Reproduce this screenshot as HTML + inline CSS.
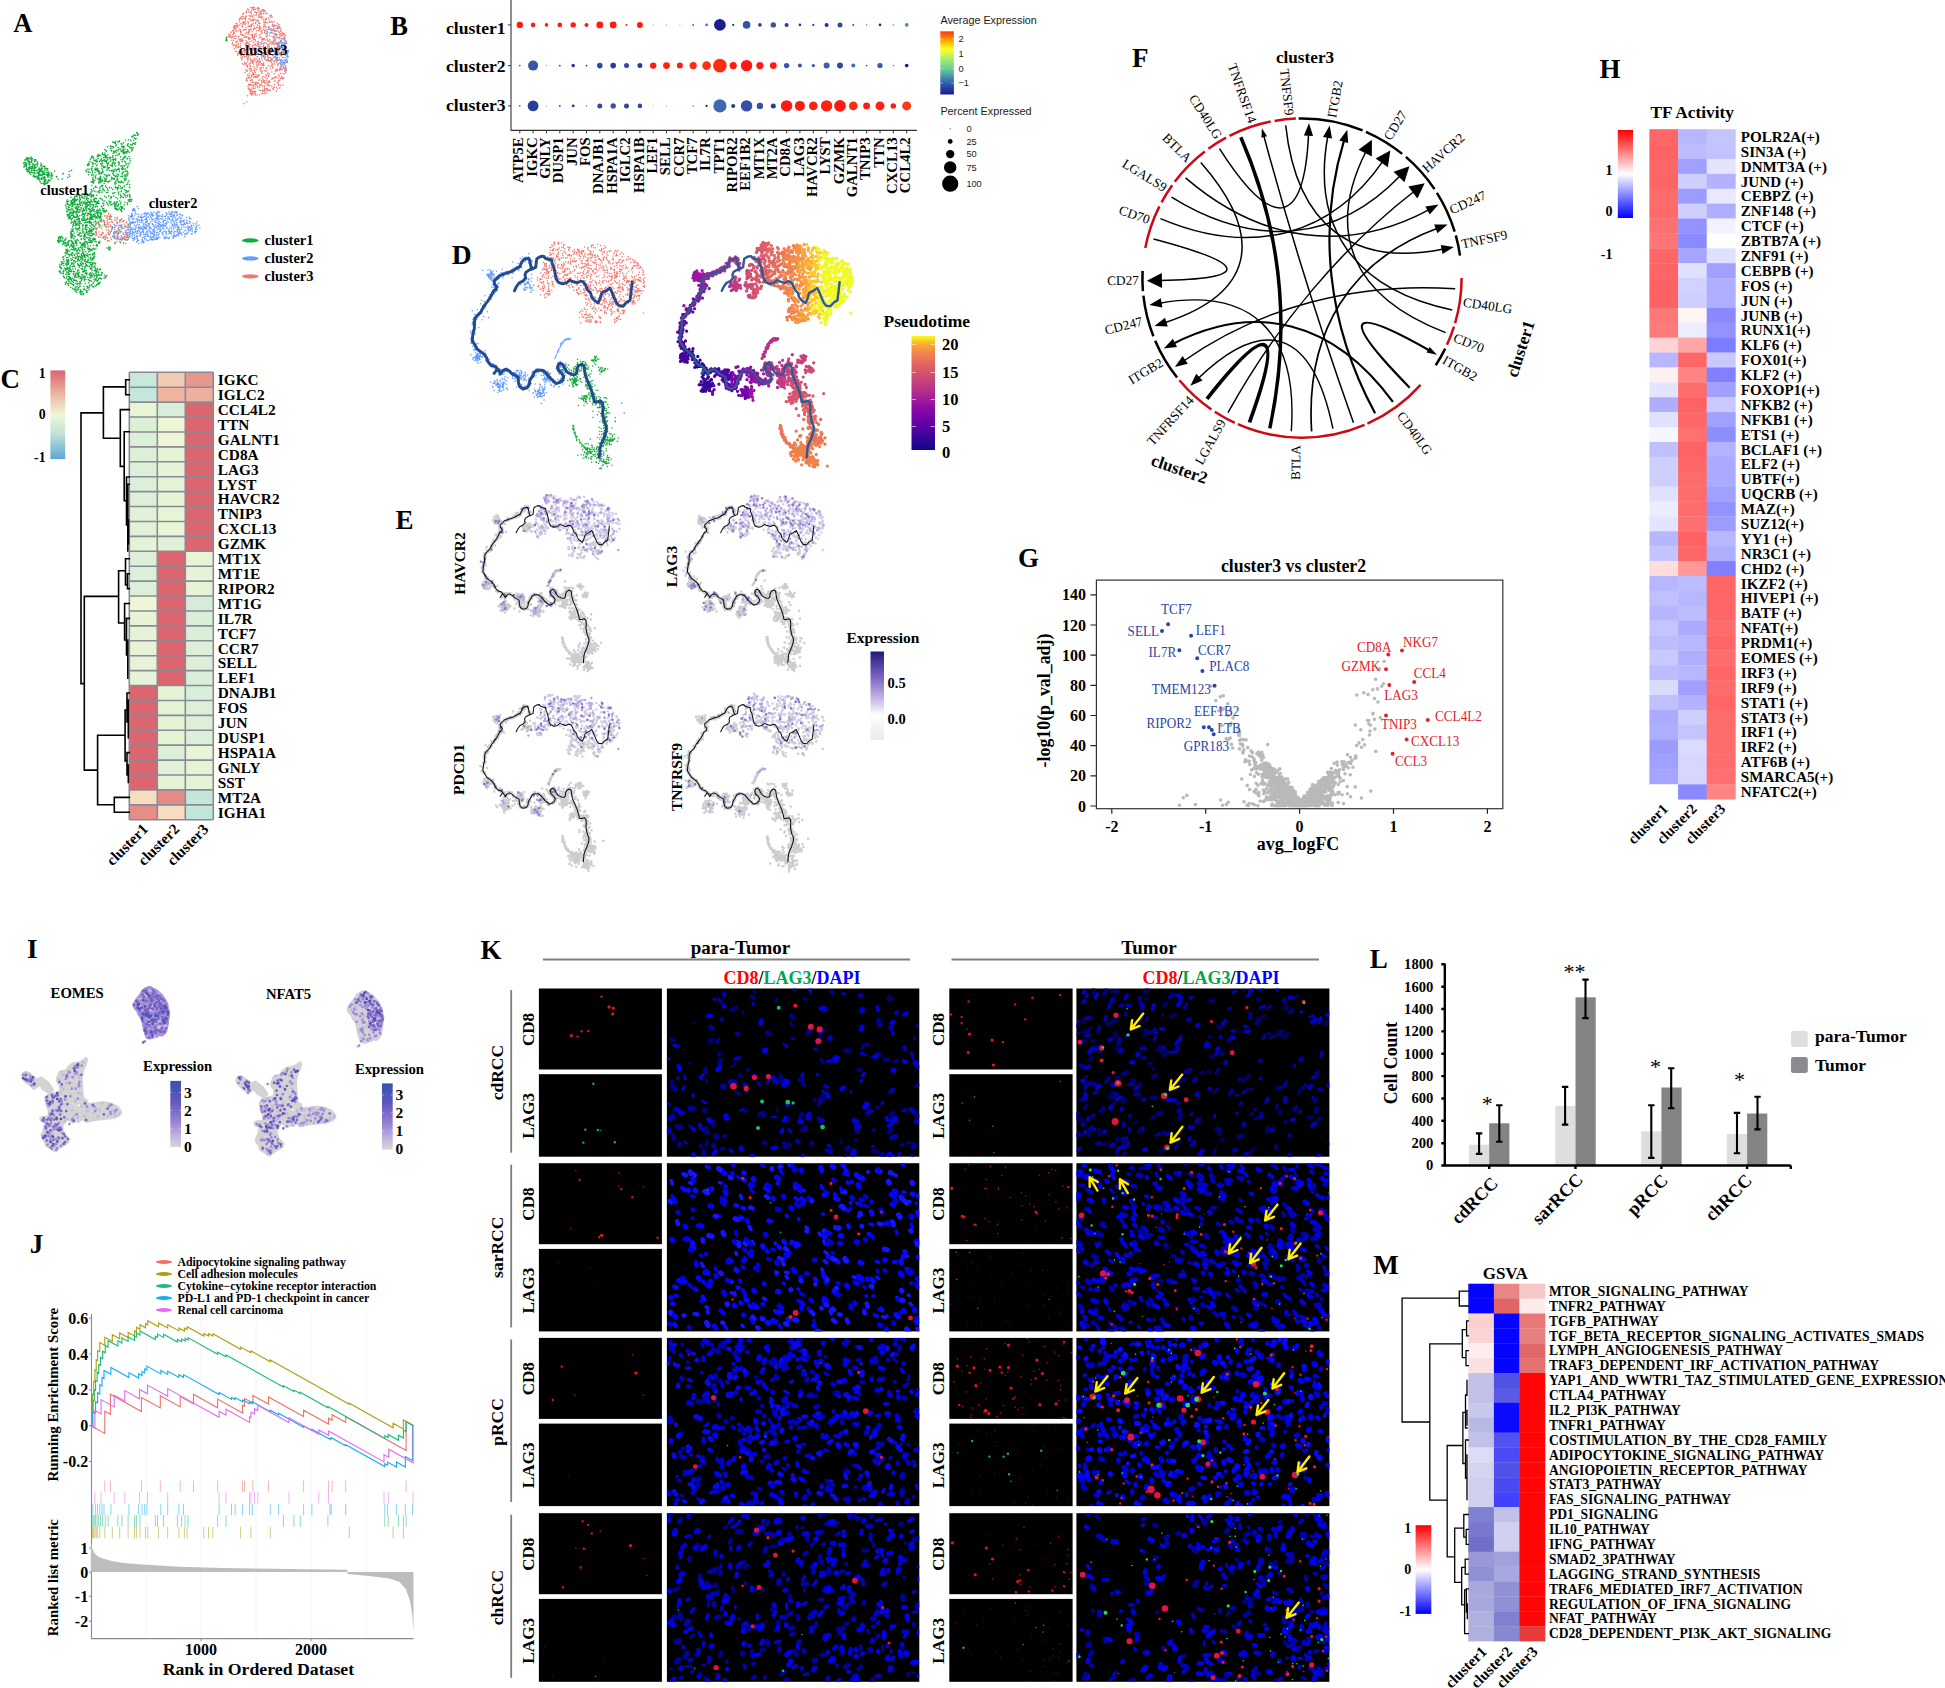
<!DOCTYPE html><html><head><meta charset="utf-8"><title>Figure</title><style>html,body{margin:0;padding:0;background:#fff}svg{display:block}text{white-space:pre}</style></head><body><svg width="1945" height="1688" viewBox="0 0 1945 1688"><rect width="1945" height="1688" fill="#fff"/><g id="A"><text x="13.2" y="31.5" font-family='"Liberation Serif", serif' font-size="26.5" font-weight="bold">A</text><path transform="scale(.1)" d="M2524 353zm-261 36zm3-15zm4 36zm-5-15zm-6 8zm-892 925zm4-3zm6 14zm5 7zm-9 7zm-19 2zm-10-5zm-4 0zm-1 2zm-10 13zm-9 4zm-1-6zm-123 46zm60-7zm29-4zm24 6zm27-2zm8-22zm9 9zm7-4zm-4 41zm-13 10zm-13-2zm-48 4zm-47-9zm-23 8zm-25-16zm-7-4zm-24 19zm0-20zm-1 10zm-11 4zm-6-7zm-10-2zm-53 47zm27-1zm4-8zm15 6zm14 4zm23-9zm8-13zm51 16zm3-20zm11 21zm10-2zm30-9zm9-11zm2 20zm14 7zm12-24zm13 4zm4 2zm27-8zm-19 35zm-9 18zm-7-18zm-2 7zm-7-5zm-10-10zm-25 27zm-23-6zm-14-21zm-2 9zm-3 16zm-6-22zm-20 20zm-7-2zm-16 7zm0-22zm-46-3zm-16 7zm-14 7zm-58 8zm11 11zm5 7zm0 0zm48-7zm2 1zm2 2zm19 4zm6 12zm8-10zm7-2zm5 15zm1-24zm17 6zm33-3zm1 11zm4-8zm10-1zm4 13zm6 2zm0-16zm3 2zm9 19zm3-7zm6-3zm11 0zm8-7zm2-7zm2 4zm13 15zm23-21zm1 7zm-50 20zm-4 0zm-22 4zm-6 3zm-4-6zm-38 1zm-4 13zm0 1zm-2-4zm-14 8zm-16 8zm-27-25zm-4 25zm-49-11zm-22 5zm-5-1zm-2-21zm-6 16zm-11 0zm-7-16zm-3 11zm-17 16zm-6-6zm-13 5zm-4-10zm-2 8zm-714 31zm2-6zm10-1zm0 4zm14 6zm4-5zm12-3zm3-9zm10 17zm2 1zm593-10zm1-13zm8-3zm6 9zm2 0zm6 15zm34-19zm3-5zm6 22zm2-23zm31 25zm20-12zm16-11zm1 10zm1-4zm11-9zm0 1zm2 11zm3 7zm10-3zm17-2zm4 14zm2-13zm5-2zm20-2zm2-1zm28 18zm49-20zm30 15zm6-11zm0 5zm6-5zm2-13zm6 7zm15 16zm2 6zm16-24zm9 21zm4 21zm-55 5zm-19-19zm-5 21zm-1 1zm-11-17zm-27 21zm-28-17zm-5-7zm-7-2zm-9 14zm0-16zm-13 6zm-14 13zm-4 3zm-26-17zm-12 13zm-3 6zm-2 4zm-2-13zm-7 3zm-4-16zm-4 18zm-11-10zm-10 8zm-5 3zm-9-13zm-9 11zm-6 6zm-20-1zm-6-14zm-3 18zm-4-19zm-10 9zm-6-2zm-4-4zm-37-12zm-4 23zm-541-16zm0 12zm-13-13zm0 20zm-3-15zm-24 7zm-2 8zm-5-21zm-16 21zm-2-1zm-4-3zm-7 1zm0-10zm-5 7zm0-16zm-17-3zm-1 0zm-1 11zm-11-3zm-11 29zm5 17zm0-20zm10-1zm5 9zm4 12zm2-12zm8 6zm20-13zm0 4zm1 7zm1-4zm6 12zm0-3zm10-20zm1 2zm1 1zm17 9zm2 8zm11 4zm19-4zm8 5zm1-4zm1 5zm5-29zm2 15zm0-3zm33 1zm5 16zm459-3zm11-16zm2 17zm5-10zm28-12zm10 8zm0 6zm0 8zm2-12zm21 3zm52-1zm12 3zm9-9zm44 2zm4 3zm1 13zm7-11zm2-12zm38 15zm3-7zm3-7zm12-3zm6 20zm9-14zm34 0zm2 11zm2-15zm63 0zm6 18zm18-6zm5 3zm12-13zm-18 37zm-7 12zm-24-18zm-17-1zm-6 16zm-4-14zm-12 0zm-22-7zm-30 8zm-31-9zm-3 13zm-11-9zm-7-3zm-12 21zm-7 4zm-13-22zm-1 15zm-22-3zm-1 6zm-8-5zm-5-7zm0 14zm-16-13zm-1-12zm-48 0zm-5 5zm-44 9zm-36-13zm-8 5zm-431 7zm-11-2zm-6 4zm-12 13zm-2-27zm-6 1zm-4 7zm-31 0zm-14 15zm-10-9zm-2-2zm-6-13zm0 22zm-16 6zm0-21zm-3 8zm-8 2zm-7 5zm-11-5zm-7-18zm-3 25zm-20 3zm-4-22zm-2 9zm-1-9zm-2 1zm-5 1zm-12 6zm-2 7zm21 25zm7-14zm3 8zm3 4zm1 6zm8 5zm6-20zm1 15zm5-7zm1-2zm2-9zm1 6zm12-3zm4 20zm1-14zm13-7zm3 20zm4 0zm9-4zm0 7zm1-19zm6-7zm10 26zm14-3zm11-11zm4 2zm1-14zm1 7zm6 10zm2 11zm0-8zm5-11zm12 10zm2-2zm0-13zm27 19zm1-23zm4 5zm7-2zm0 2zm7 3zm4 1zm3-4zm1 21zm5-17zm236 14zm144 2zm13-14zm17 2zm24-8zm4 14zm3-18zm26 14zm7 4zm3-18zm4 17zm8 0zm1-17zm1 4zm8 1zm1 17zm10 4zm29-26zm8 17zm43 6zm3-15zm12-5zm13 19zm26-4zm17 3zm12-11zm14 17zm1-9zm11-7zm11-11zm2 12zm1 5zm23-11zm0 0zm8-1zm2 11zm6-8zm1-7zm18 12zm2-7zm15 21zm13 25zm-5-17zm-3 22zm-18-24zm-17 5zm-12 18zm-1-13zm-29-7zm-51-7zm-8 10zm-3-6zm-7 18zm-11-22zm-86 12zm0-7zm-7 7zm-3 14zm-1-13zm-3 7zm-13 1zm-7-16zm-6 15zm-10-15zm-4-5zm-25 14zm-24 6zm-2-18zm-23 10zm-16-4zm-3 2zm-18-4zm-170-5zm-61 23zm-86-25zm-29 23zm-4 5zm-3-7zm-22-13zm-1 16zm-6-3zm-2 0zm-12-6zm-5-3zm-13 15zm-7-3zm0-1zm-3-21zm-1 7zm-1 19zm-2-6zm-8 1zm-1-2zm-5-11zm0 2zm-3-11zm-8 3zm-11-3zm-3 6zm0-2zm-2 18zm0-12zm-2-7zm-3 4zm-6 21zm-4-15zm-12 7zm-22 2zm0-8zm-15 2zm-4 0zm-13-4zm-13-2zm-7 11zm-3-15zm-5-5zm-10 0zm-3 4zm35 27zm24 18zm4-4zm3 10zm1-19zm1 19zm10-5zm3 5zm12-5zm16-2zm1 7zm2-11zm3-2zm2-12zm7 9zm9-6zm3 7zm11 6zm2-9zm5-2zm2-2zm15-1zm3 25zm18-20zm7 0zm5 13zm1-4zm2-18zm1 28zm3-22zm1 8zm8-11zm7 17zm15-6zm3 3zm0 6zm4-4zm4-6zm39 12zm65-25zm59 7zm10 16zm187-15zm33 8zm0-9zm18 3zm14 15zm9-12zm32-10zm11 21zm40-17zm16 3zm4 9zm3 9zm10-10zm13-10zm7 6zm39-9zm1 7zm4 0zm14 9zm3 6zm1-7zm11 2zm1-21zm9 20zm7-15zm24 18zm10-22zm5 20zm4 6zm17-15zm5 10zm3-10zm7-6zm15 11zm-13 34zm-2-22zm-8 19zm-9-5zm-65 14zm-4-14zm-5 8zm-26 1zm-2-13zm-11 10zm-8-10zm-7-3zm-2-5zm0 24zm-51 2zm-2-13zm-14 2zm-8-14zm-30 18zm-1-16zm-8 5zm-3 5zm-2 12zm-1-2zm-12-10zm-3 4zm-22-10zm-24 11zm-3-14zm-3 19zm-249-21zm-55 17zm-41 2zm-12-22zm-53 17zm-9-10zm-16 21zm-11-26zm-28 21zm-2-22zm-5 2zm-5 15zm-2 2zm-5-17zm-11 2zm-3 22zm-4-16zm-1 6zm-5 0zm-13 3zm-1 6zm-3 1zm-4-24zm-1 16zm-1-12zm-3 10zm-7-8zm-4-4zm-2 14zm-18-19zm46 44zm5 5zm36-7zm2 5zm5-12zm4 23zm0 0zm1-26zm1 8zm7-5zm14 23zm5-3zm1-12zm3-7zm2-5zm11-1zm5 4zm412 14zm13-6zm1 9zm6-2zm4-10zm12-10zm38 21zm2 8zm5-22zm7 17zm3-20zm8 13zm7-17zm7 12zm1-8zm20 7zm2-6zm6 8zm2-13zm14 16zm12 2zm2 2zm0-5zm14-6zm48 17zm11-12zm13-12zm10 15zm8 6zm4-5zm12 7zm7-14zm6 8zm14 6zm13-21zm6 3zm29 16zm11-16zm6 40zm-22-7zm-11 5zm-77 9zm-25-22zm-11 11zm-109-10zm-16 19zm-10 7zm-78-28zm-19 24zm-448-22zm-4 1zm-13 1zm-2 6zm-9 3zm-3 3zm-5-14zm-16-1zm-4 3zm520 50zm17-13zm3-9zm14 9zm28 12zm4-14zm21-5zm9 21zm23-26zm10 13zm12 16zm18-13zm19 1zm39-9zm3 11zm14-3zm7 7zm2-10zm9 6zm17-17zm6 22zm9-3zm5-2zm1-3zm17-16zm0 6zm53 8zm2 4zm-8 29zm-11 12zm-1-3zm-14-10zm-1 9zm-1-10zm-15-7zm-33 20zm0-8zm-40-11zm-44-4zm-1-1zm-46 11zm-37 1zm-13-6zm-4-9zm-26 14zm-10 3zm-9 11zm-24-2zm-18-8zm-19 1zm-9-14zm-121 51zm30 1zm2-10zm11 2zm4-2zm3 6zm8-1zm15 3zm8-1zm0-4zm3-2zm11 9zm9-5zm2 3zm8-13zm4-12zm7 25zm63-26zm17 6zm23-3zm0-3zm45 5zm13 0zm48 9zm16-5zm6-3zm36 14zm1-16zm2-3zm16 27zm31-11zm10 12zm15-20zm37 13zm4 29zm-2-13zm0 11zm-1-2zm-21-13zm-2 7zm-15 14zm-4-19zm-21 20zm-14-10zm-11-5zm-4 16zm-46-1zm-22-15zm-21 10zm-6 2zm0-6zm-22-8zm-25 15zm-17-11zm-78-10zm-29-2zm-5 10zm-1 5zm-2-10zm-6 2zm-12 9zm-1-10zm-1 14zm-2 0zm-14-15zm-9-3zm-14 7zm0-5zm0 1zm-8 23zm-13-16zm-5 1zm-18 10zm-7 4zm-4-9zm-6-15zm-13-2zm-1 24zm-5-15zm-21 4zm-3-6zm-7 1zm-7 0zm-10 10zm-36 3zm-36 27zm39 8zm15-9zm3-8zm11 6zm4-15zm2 27zm2 0zm4-14zm7 13zm2-15zm1 2zm5 7zm11-9zm19 11zm2-2zm1-16zm4 10zm38-10zm21 5zm6-2zm6-7zm0 24zm11-18zm23 11zm26-7zm7 11zm5-15zm1-2zm7-4zm11 4zm20 21zm14-21zm6-2zm5 2zm13 13zm17 10zm66-24zm69 3zm21 19zm85-7zm11 9zm0-10zm11-7zm12 4zm2 2zm-5 15zm-11 0zm-10 4zm-18 11zm-24-6zm-40 0zm-7 17zm-29-20zm-9 1zm-5 8zm-13 9zm-1-2zm-3-14zm-12 17zm-21-21zm-7 7zm-6 6zm-7-16zm-15 25zm-10-13zm-36 5zm-38 1zm-5-1zm-5-5zm-1 7zm-3-13zm-3 12zm-4 5zm0-22zm-2 14zm-13-6zm-2-4zm-3-8zm-7 3zm-3-4zm-14 10zm-11-8zm-10 6zm-3-1zm-1 13zm-1 0zm-7-6zm-5-4zm-7-5zm0-1zm-1 10zm-10 8zm-1-4zm-6 2zm0-1zm-9 8zm-3-23zm-1 22zm-4-6zm-6-8zm-2 8zm-7 7zm-12-17zm-2-1zm-2 12zm-15-3zm-3 8zm-1-18zm-3-6zm-43 6zm-4 1zm-3 1zm-2 11zm-1-17zm-1-3zm-6 16zm-10 11zm0-13zm-5 7zm0-18zm-4 8zm-4 2zm-23-12zm-7 6zm-6 0zm-1 18zm-4 3zm-1-23zm-12 37zm23-13zm1 1zm3 28zm6-21zm8 8zm12-12zm11 21zm3-15zm1 12zm6-14zm9 2zm12-7zm6-2zm8 27zm7-10zm1-13zm2-4zm9 7zm6 20zm11-22zm2 8zm21 2zm31-15zm1 19zm12-16zm1 21zm3-6zm6-3zm3-6zm7 1zm6-4zm9 16zm3 1zm0-24zm14 6zm2 2zm9 9zm6-8zm20 16zm2-20zm0 18zm15 1zm42 3zm0-6zm20-4zm2-17zm47 13zm22-8zm8 2zm16-7zm16 14zm6 14zm3-14zm1-2zm5-10zm8 20zm10-3zm3-19zm1 11zm23 14zm5 0zm30-15zm33-6zm-33 47zm-1-1zm-13-20zm-2 10zm-5 4zm-7-11zm-4 21zm-6 5zm-8-18zm-13 13zm-12 5zm-4-16zm-9 2zm0 8zm-4-11zm-4 5zm-1-15zm-112 17zm-13-7zm-28 9zm-20 7zm-18-28zm-15 25zm-3-23zm-1-2zm-4 24zm-7 5zm-6-21zm-3 10zm-16 8zm-4 0zm-5-13zm-2 6zm-9-2zm-14-14zm-5 15zm-8 4zm-1-18zm-3-4zm-15 26zm-4-3zm0-9zm-21-2zm-1-7zm-5 22zm-15-2zm-5-20zm-8 6zm-5 10zm-1-11zm-14 7zm-5-6zm-2-9zm-28 19zm-5-8zm-9 16zm-13-2zm-5-22zm-6 16zm-2 2zm-15-4zm-5-19zm3 46zm6-1zm7-6zm16 13zm3-22zm5 2zm0-2zm2 28zm4 0zm2-7zm15 6zm1 1zm3-3zm0-17zm4 9zm1 4zm2-16zm1 16zm8-2zm10 5zm11-9zm1-6zm1-5zm4 16zm4-19zm5 20zm12 0zm5-8zm23 1zm5 5zm0-12zm11-4zm5 0zm4 8zm14 17zm6-22zm32 2zm2 8zm2-1zm4 6zm2-7zm2 3zm5-9zm15 1zm18 5zm14 12zm6-12zm1-11zm0 19zm3-17zm1 23zm3-1zm7-18zm7 14zm10-19zm5 3zm3 21zm2 1zm17-26zm7 15zm8-13zm0 6zm2 6zm9 0zm9-14zm0 6zm2-3zm149-1zm2 5zm1 8zm-201 25zm-5 4zm-10-9zm-20-7zm-2 23zm0-3zm-2-3zm0-2zm-1-13zm-4 8zm-21 12zm-2-17zm-11 11zm-4-2zm-1 4zm-5 1zm-13-5zm0 6zm-5 8zm-3-14zm-1 0zm-3 2zm-1-12zm0 7zm-11-8zm-8-1zm-2 7zm-1-1zm-1-7zm0 18zm-6 8zm-19-22zm-7 11zm0 12zm-11-23zm0 5zm-7-5zm-6 8zm-6 8zm-19 6zm-25-2zm0-10zm-5 1zm-5-14zm-29 24zm-1-19zm-3-3zm-2 15zm-7-20zm-1 21zm-3 2zm-5 1zm-9-23zm-4 10zm-10 18zm-2-16zm0 7zm-6 0zm-5 8zm-1 1zm-3-16zm14 40zm1 2zm3-12zm9 11zm4-18zm1 7zm19 11zm11-24zm2 4zm2 10zm5-10zm6 9zm5-1zm10 1zm2-4zm2 0zm9 0zm3-3zm6 17zm8 6zm27-1zm10-15zm1-8zm1 6zm9 13zm6 2zm29 3zm1-6zm20 1zm2-12zm6 10zm0-7zm0-3zm1 5zm3 5zm1-14zm7-2zm2 14zm9-11zm13-5zm8 9zm9-5zm0 19zm3-20zm2 6zm12 8zm4-15zm7 0zm8 4zm1 7zm0 11zm4-28zm1 20zm4-1zm1-16zm4 8zm83-3zm3 20zm13-18zm123 45zm-16-22zm-198 21zm-2-19zm-13 11zm-47 10zm-5-8zm-19-15zm-13 1zm-15-3zm-6 1zm-3 21zm-1-16zm-11 21zm-9-23zm-5-3zm-8 11zm-4 1zm-13-1zm-9-4zm-2 2zm-9 5zm-8-6zm-18 13zm-6-14zm-4 18zm-4-24zm-3 21zm-9-20zm-7 2zm-8 17zm-11-10zm-1 4zm-23 12zm-9-20zm0-5zm-2 37zm1-1zm6-8zm12 26zm7-14zm2-13zm2 1zm12-1zm1 21zm4 4zm1-19zm7 17zm6-11zm11 15zm5-11zm9 0zm1-7zm4-8zm12 16zm31-11zm9-4zm8 26zm7-26zm8-2zm6 0zm12 8zm9-8zm1 1zm1 8zm5-6zm3 7zm2 13zm23-19zm18 24zm4-13zm12-13zm14-2zm3 22zm54 2zm128-12zm112 16zm-175 17zm-111 3zm-1-19zm-54 15zm-6-2zm-1-8zm-2-2zm-6-2zm-10 25zm-6-4zm-11-15zm-22 20zm-6-23zm-4 3zm-6 6zm-4-13zm-2 17zm0-11zm-4 19zm-18-22zm-2 2zm-1 0zm-1 1zm-4-6zm0 11zm-32 10zm0-16zm-27 0zm-16 0zm-18-5zm-6 14zm-1 5zm-9 23zm2 3zm5 10zm9-15zm21-9zm6 2zm3 15zm4-2zm11-8zm2 8zm3-12zm13-3zm1 22zm26-1zm5-21zm1 12zm21-6zm3 5zm3-4zm4 9zm6-1zm28 12zm0-20zm5 6zm2 11zm13-6zm10 1zm0 3zm8-16zm1 8zm7-10zm23 10zm218-9zm26 27zm-17-3zm-8 19zm-47 1zm-24-19zm-80 19zm-71 1zm-28 4zm-14-22zm-2 18zm-8-15zm-9-2zm-1 20zm-4-16zm-8-7zm-7 20zm-1-7zm-14 2zm0-12zm-4 19zm-16 0zm-11-15zm-3 0zm-3 10zm-17 7zm-11-9zm-7 7zm-22-13zm-29 12zm-10-18zm-6-2zm-13 5zm-2 14zm-1-18zm-1 24zm-3-7zm-109 39zm17-5zm96-14zm2 8zm4-18zm2 25zm4-16zm2 7zm0 2zm2-13zm2 9zm15 8zm8 4zm24-19zm7 0zm5 8zm4-10zm11 17zm14-3zm21 5zm5-8zm6-12zm1 18zm1-11zm3 5zm24-8zm8 0zm14 9zm0-4zm12 4zm12-2zm1-12zm21 0zm72 6zm115 17zm46-26zm99 17zm16-14zm-7 35zm-37 18zm-26-8zm-21 8zm-170-23zm-78 18zm-9-6zm0 11zm-10 1zm-1-11zm-1 0zm-5 7zm-25-9zm-2 2zm-13 13zm0-21zm-16 1zm-9-6zm-11 18zm-6 4zm-5-22zm-6 12zm-22 9zm-1-5zm-39 7zm-33-9zm-2-2zm-15-12zm-6 7zm-11-8zm-46 10zm-5 14zm-29-14zm0-6zm-21-1zm-1 9zm-2-14zm-9 5zm-9 1zm0 14zm-7 16zm0 4zm7 6zm0 7zm4 0zm5-21zm6 15zm1-13zm4-3zm3 4zm13 8zm10-2zm7 11zm0 0zm4 5zm3-26zm3 21zm5 4zm2-23zm21 17zm3-1zm6 9zm3-18zm11-4zm15 12zm3-15zm3 17zm8-2zm24-8zm3-8zm3 12zm5 7zm2-9zm2 10zm17-17zm16 21zm49-4zm0-1zm4-7zm8 3zm8 10zm11-7zm12 3zm8-19zm5 21zm1-10zm10-9zm4 20zm4-12zm18-13zm10 13zm13 4zm23 11zm1-5zm5-10zm4 7zm81-15zm74 22zm53-2zm-207 4zm-25 18zm-4 11zm-3-12zm-1 4zm-1 3zm-28 1zm-31 2zm-30-16zm-24 6zm0 8zm-3-16zm-11-7zm0 11zm-3-6zm-3 1zm0 16zm0 5zm-1-25zm-4 20zm-8-11zm-4 11zm-8-23zm-38 25zm-3-19zm-4 0zm-9-7zm-9 28zm-4-3zm-1 0zm-2-23zm-1 15zm-8-16zm-2 3zm-6 25zm-3-13zm-6 11zm-1-8zm-25 4zm-3-16zm-5 13zm-4-11zm-4 14zm-10-21zm-7 23zm-1-15zm-16-7zm-6 11zm36 19zm33 8zm27-8zm4 10zm5-8zm4 16zm1-8zm0-4zm9 16zm12-2zm24-3zm17-2zm9-9zm12 20zm3-12zm21-8zm1 0zm5 5zm1-5zm24 11zm4-20zm10 23zm10 5zm32-4zm27-1zm12-20zm99 17zm17-9zm11 16zm2-13zm1 11zm-5 15zm-9-6zm-1 0zm-141 0zm-1-1zm-5-1zm-19 9zm-1-6zm-5 1zm-6 10zm-6 4zm-5-14zm-10 21zm-1-20zm-5-4zm-22 22zm-16-17zm-14 14zm-5-11zm-25 8zm-2-6zm-11-13zm-8 11zm-5 9zm-3 3zm-4-12zm-13-3zm-10 3zm-10-3zm-10-3zm-12-3zm-14 21zm-13-8zm-7 5zm-1-6zm-5-12zm-1 15zm-3-11zm-4 16zm-2-17zm-1 2zm-9 30zm5 7zm5 2zm8-14zm7 8zm6 14zm22-2zm6-2zm3 0zm9-15zm5 10zm17 12zm17-14zm12 11zm8-16zm5 5zm4 2zm23 13zm4-10zm6-7zm11 0zm3 13zm2-17zm6 18zm4 4zm2-1zm20-11zm21 9zm11 0zm23-5zm4-6zm13 10zm1-20zm3 15zm0 31zm-3-9zm-4 5zm-10 10zm-2-26zm-21 22zm-26-3zm-3-14zm-11 2zm0-5zm-15 19zm-2-15zm-4 15zm-7-5zm-2-14zm-13 8zm-2 12zm-2-9zm-6 10zm0-21zm0 22zm-8-1zm-10-12zm-7 5zm-3 8zm-9-14zm-8 9zm-14 4zm-5 4zm-3-25zm-3-1zm-14 24zm-6-19zm-9-5zm-20 8zm-4-9zm-11 24zm-14 0zm-12-17zm-18 8zm-9 10zm9 18zm33 3zm0 9zm2 3zm13-13zm1 9zm23-17zm4 17zm12-10zm13 12zm0 0zm6 2zm14-24zm2 0zm16 10zm6-7zm8 11zm5 8zm14-11zm0-3zm14-8zm2 15zm3-6zm1 0zm16 10zm1 3zm6-7zm5-7zm22 16zm3-5zm0-12zm3 9zm18-17zm8 15zm0-1zm12 1zm1-15zm0 13zm6-14zm10 6zm17 49zm-7-3zm-9-6zm-15 2zm-2-3zm-16-2zm-12 0zm-1-1zm-14-3zm-13-3zm-5-4zm-1 4zm-5 13zm-11-20zm-10 20zm-8 0zm-11-14zm-5 0zm-7 15zm-26-23zm-1 27zm-18-21zm-7 8zm-15 15zm-3-2zm-5-7zm-13 0zm-29-10zm0 15zm-9-18zm-5 9zm-3-12zm-2 15zm-28-17zm-1 19zm-11 5zm-7-14zm-8-4zm-16 25zm0 26zm5-5zm12-18zm0-5zm23 14zm21-14zm9 16zm1-12zm4 0zm13-4zm16 28zm3-14zm14-12zm7 23zm14-5zm0-6zm1 8zm7 5zm34-24zm2 10zm8-2zm3 8zm4-8zm12 2zm3-11zm4-1zm7 22zm9-24zm17 21zm8 1zm2-1zm1-17zm3 5zm9 9zm7 2zm14 6zm11-24zm5 0zm3 12zm1 8zm6-13zm4 0zm2-9zm1 6zm13 21zm8-6zm6-21zm51 57zm0-7zm-14 5zm-17-7zm-17 0zm-3-4zm-8-13zm-27 5zm-2 13zm-9-7zm-4 2zm-1 5zm-53-14zm-2 11zm-21 8zm-5-9zm-10 3zm-20-16zm-36 18zm-27 1zm-25 1zm-10-2zm0-12zm0 14zm-11-9zm-10 10zm0-17zm-5 10zm-6 9zm-6-8zm-11-7zm-28 5zm-7-8zm-1 7zm-16 33zm1-4zm5-4zm6 13zm26-3zm6-2zm0-14zm17 0zm0 0zm15 22zm0-9zm15 10zm4-17zm2-6zm8 12zm12-11zm3 12zm5-1zm19-1zm9 3zm25 12zm6-18zm1-9zm10-1zm3 24zm3-3zm33-4zm6-8zm4 9zm8-7zm1-10zm11 26zm2-21zm4-5zm57 6zm25-3zm9 4zm2-8zm1 9zm4-7zm1 25zm3-11zm7-14zm10 18zm0-2zm5 6zm38 4zm42 28zm-23-4zm-27-1zm-1-22zm-2 19zm-16 5zm-10-3zm-7-5zm-12 8zm-5-5zm0-2zm-5 9zm-2-22zm-15 19zm0 0zm-6-9zm-1-1zm-12-13zm-5 23zm-4 0zm-5-15zm-5-8zm-1 23zm-5 0zm-2-3zm-2-17zm-1 14zm-22-14zm-6 0zm0 14zm-8-12zm-3-2zm-24 23zm-11-10zm-29 10zm-6-11zm0-9zm-12 1zm-1 13zm-14-12zm-4 16zm-9 0zm-8-21zm-2 8zm-40 2zm-2-8zm-1 5zm-3 4zm-18-1zm-9-1zm-28-5zm-2-1zm-20-2zm25 27zm0 7zm9 11zm19 0zm4-8zm16-9zm9 6zm1 12zm12-5zm20 7zm18-11zm9 0zm9 0zm19-3zm0 8zm12-11zm8 23zm7-5zm1-14zm4 10zm6 8zm10-13zm12-6zm1 15zm5-22zm7 10zm24 2zm20 10zm5-13zm9 3zm7-3zm3-10zm21 7zm24 8zm3-8zm22 17zm7-4zm4 2zm12 7zm25-9zm13-1zm2-10zm5-6zm-46 27zm-29 1zm-5 10zm-8 11zm-3-5zm-7-17zm-6 0zm-1 11zm-10 11zm-4-19zm-25 18zm-14-4zm-9-1zm-9-11zm-25 0zm-16 13zm-1-13zm-22-4zm-4 9zm-5 10zm-12 5zm-27 3zm-7-13zm-13-2zm-9-2zm-4 3zm-3-5zm-16 15zm-6-23zm0 9zm-4-9zm-4-1zm-5 5zm-6 20zm-6-2zm-4-22zm-1 7zm-9 1zm-10 20zm-11 9zm1 15zm17-6zm15-2zm1-1zm18-3zm13 8zm7 6zm8-23zm4 27zm19-17zm14 12zm10-8zm15 3zm2-4zm2-8zm8 9zm45 0zm33-10zm29 23zm14-12zm6-9zm32 20zm10-11zm5 5zm6-13zm6 9zm7-15zm-34 29zm-2 1zm-1 2zm-11 5zm-16 6zm-7 5zm-3-4zm-17-9zm-16-7zm-1 27zm-2-7zm-15-2zm-5-5zm-32 1zm-38-3zm-4 1zm-10 12zm-16-7zm-4 2zm-12 0zm-18-14zm-31 18zm-22-20zm43 32zm12 12zm10-10zm5 7zm8-3zm4 14zm13-10zm3-9zm0 10zm1-4zm21 6zm29-4zm12-5zm1 6zm16 8zm12-23zm17 17zm0-18zm-20 31zm0 8zm0 2zm-6 2zm-29 16zm-9-19zm0-3zm-11 22zm-3-23zm-2 3zm-3 1zm0-9zm-6 18zm-3-10zm-30 7zm-17-11zm57 31zm21 1z" stroke="#0fae3a" stroke-width="16" stroke-linecap="round" fill="none"/><path transform="scale(.1)" d="M2509 74zm13 3zm1 2zm11 4zm2-11zm9 4zm27 7zm9-8zm9 9zm61 28zm-9 0zm0-7zm-7-5zm-5 13zm-3-5zm-1-9zm-6 0zm-2 8zm-18 11zm-1-8zm-18-20zm-3 14zm-24-11zm-5 24zm-9-19zm-8 2zm-16 0zm-5 17zm-26-16zm-5-9zm-4-1zm-9 20zm-39 34zm1-6zm8-6zm24-6zm2-7zm1 7zm25-6zm14 4zm11 12zm44-13zm7 3zm2 12zm14-17zm16 20zm5-13zm3 9zm7 5zm1-16zm21 11zm4-5zm20 5zm13-5zm50 37zm-4 2zm-3-19zm-9 12zm-8-12zm-10 25zm-61-8zm-14-7zm-1 10zm-8 2zm-12-23zm-1 10zm-2-1zm-1 11zm-27-16zm-21-5zm-9 16zm-8-10zm-15 9zm-5-7zm-10-2zm-29 4zm-4 6zm-1 8zm-6-5zm-20-2zm-14-2zm-15 9zm-12 21zm1 4zm6-13zm6-6zm12 5zm10 3zm18-4zm8 0zm2 9zm34-7zm14 5zm13 14zm8-4zm5-9zm7 14zm2-8zm4-9zm18 8zm17 5zm5 1zm41-16zm14 14zm16 7zm2-17zm3-2zm3-7zm4 13zm22-7zm87 43zm-29-14zm-17 2zm-13-2zm-5-6zm-14 12zm-1-7zm-20 11zm-15-4zm-9-1zm-13 3zm-38 9zm-8-4zm-4 2zm-7-17zm-18-6zm-5 17zm-1 7zm-24 0zm-23-24zm-27 28zm0-16zm-3-10zm-20 18zm-8-15zm-7 13zm-8-1zm-2-7zm-7 4zm-16 14zm-2 0zm-15-18zm-24 18zm-9-2zm-1 2zm-24 29zm4 2zm0-3zm6-9zm13 1zm0 7zm12-11zm8 11zm0-2zm13-14zm18-8zm12 22zm1-11zm11-11zm17 5zm29 19zm1-24zm11 16zm3 9zm12 0zm2-13zm5 10zm2-13zm6-8zm16 15zm36-8zm18 6zm5 9zm36 3zm6-19zm5 16zm3-23zm36 26zm2-1zm39-24zm8 11zm8 13zm3-15zm9 4zm10 3zm22-13zm4 1zm9 16zm6 22zm-4-6zm-2-3zm-10 1zm-11 9zm0-14zm-11 16zm-4-2zm-23 8zm-1-11zm-2-2zm-22 8zm-21-18zm-2 11zm-2 11zm-7 2zm-17 1zm-3-20zm-16 24zm-11-6zm-25-16zm-2 10zm-10 5zm-4-13zm-13-3zm-13-2zm-2-2zm-13 12zm-9-3zm-7 9zm-26 1zm0 4zm-5 4zm-19-3zm-24-2zm-2-20zm-6 24zm-12 0zm-19-27zm-28 23zm-16-19zm-20 10zm-1-2zm-6 3zm-1-10zm-9 4zm-3 16zm-29 26zm4-2zm12-12zm10 14zm1-14zm5 21zm19-14zm1-11zm19 7zm22 5zm3-15zm1 23zm3-12zm24-11zm2 1zm28 22zm18-2zm3-4zm4-5zm2 7zm4-19zm27 16zm13-16zm31 7zm19-4zm15 6zm18 9zm1-11zm1 21zm0 0zm0-16zm24 14zm4-8zm3-13zm0 6zm21 3zm36 11zm5-2zm3-18zm6-4zm4 1zm16 14zm1-3zm1-4zm6-8zm9 14zm6-6zm15-3zm10 12zm2 9zm21-23zm9 19zm30 33zm-7-12zm-5-13zm-11 5zm-3 10zm-8 10zm-5 1zm-2-10zm-4-14zm-11-4zm-1 18zm-27-3zm-15-5zm-11 0zm-18-9zm-29 24zm-18-21zm-4 22zm-10-19zm-5 1zm-42-5zm-1-2zm-14 18zm-7 0zm-28 10zm-2-24zm-13 9zm-1-4zm-8 17zm-16-9zm-4-3zm-1 3zm-13 1zm-22-19zm-4 11zm-3-1zm-25 0zm-21 12zm-5-6zm-5 6zm-13-6zm-3-3zm-50 15zm-11-26zm-14 8zm-4 8zm-24-5zm-10 15zm-8-19zm-2 28zm13-1zm10-6zm1 12zm11 9zm8-11zm13-7zm4 17zm13 4zm4-21zm21 4zm5 1zm1 21zm1-24zm30 24zm20-15zm11-12zm5 9zm4 5zm9-11zm14 18zm2-7zm1 5zm7-4zm3 6zm2-1zm4 7zm17-12zm6-10zm0 12zm5-5zm7 15zm6-14zm8-11zm40 17zm17-12zm3 8zm15 11zm9 0zm3-3zm6 2zm20-21zm71 15zm5-18zm3 7zm0 5zm5 2zm14 2zm12-10zm12 9zm12-8zm1 17zm13-26zm22 26zm6-16zm4 16zm16 24zm-12-19zm-20-2zm-15 24zm-2-10zm-7 10zm-48-16zm-2 1zm-3 7zm-7-2zm-2-7zm-4 10zm-2 2zm0 10zm-34-18zm-4-4zm-7 19zm-12-9zm-5-17zm-14 11zm-21-4zm-6-4zm-3 8zm-11-5zm-2 20zm-32 1zm-28-6zm-4-17zm-13-4zm-1 7zm-18 13zm-23 6zm-12-22zm-25 14zm-30-3zm-9-14zm0 26zm-1-4zm-4-11zm0 7zm-10-16zm-1 5zm-1-4zm-2 19zm-3-2zm-2-13zm-23 15zm-13 5zm-26-16zm-17 1zm5 38zm3-14zm14 20zm22-22zm18 23zm3-15zm25 1zm43 1zm4 6zm8-3zm0 0zm2-9zm5-9zm3 11zm6-1zm6 5zm13 9zm38-20zm11 23zm24-10zm12-3zm3 14zm28-7zm14-11zm7 7zm29-8zm9 18zm14-2zm9-9zm13-15zm7 20zm4-21zm6 9zm6-4zm2 21zm12-10zm5 5zm6-18zm9 23zm0-13zm4 5zm10-8zm6 15zm3-6zm12-7zm21-10zm12 17zm17 1zm2-8zm11-11zm3 14zm-8 42zm-11-25zm-17 18zm-5 6zm-11-24zm0 21zm-10 0zm-6-3zm-8 7zm-3-22zm-7 11zm-5-2zm-2 1zm-1 7zm-2 6zm-3-1zm-25-4zm-27 3zm-31-24zm-5 15zm-4 0zm-34 5zm-3 5zm-5-22zm-3 12zm-23-2zm-7 6zm-6 6zm-7-9zm0-14zm-16 3zm-13-3zm-7 25zm-18-2zm-4-25zm-6 10zm-3 0zm-22 7zm-8-18zm-5 12zm-5 10zm-9-16zm-11 18zm-4-25zm-53 8zm0 14zm-13-3zm-2 2zm-6-3zm-4 7zm-8-25zm-7 13zm-7 14zm0-19zm-5-7zm-21 10zm14 26zm71 4zm22 16zm9-10zm6 12zm1-3zm8-8zm8-9zm21 6zm6-12zm3 7zm4 15zm8-7zm18-12zm1 18zm3-9zm16-15zm15 6zm21 0zm3 13zm8 9zm10-20zm36 4zm2-2zm29 18zm7-26zm11 16zm12 3zm4 5zm0-8zm1 6zm44 1zm4-3zm6-16zm10 3zm11-8zm3 21zm17-21zm4-1zm21 0zm4 2zm5 8zm4 9zm2 4zm26 2zm0 2zm-8 7zm-7 17zm-21-1zm-3-20zm-2 13zm-11 5zm0-1zm-3-14zm-13 24zm-1-4zm-9-4zm-1-5zm-33 13zm-12-6zm-6-17zm-26 0zm-7 13zm-25 7zm-10-12zm-7 9zm-16-15zm-4 7zm-4 13zm-5-2zm-1-3zm-1-1zm-28-18zm-3 14zm-1-14zm-30 15zm-1-16zm-2 9zm-1 3zm-11-10zm-5 19zm-2-1zm-26-5zm-10-14zm-66 12zm-22-1zm-3-8zm-6-5zm0 24zm-9 3zm-4-13zm-11-8zm-2 13zm-3 6zm-3-5zm-7 6zm-15-20zm-7 0zm19 37zm17-12zm18 15zm16 11zm7-15zm9 11zm4-23zm19 11zm0-3zm0 16zm8-7zm15-9zm1 14zm2-4zm1-13zm6 10zm14-2zm2-4zm12 7zm14-16zm9 14zm23 14zm8-24zm39 15zm0-19zm12 13zm3 12zm8-8zm3 12zm0 0zm8-24zm23 8zm15-5zm14-6zm16 3zm2 10zm30 12zm19-17zm12-5zm19 13zm6-17zm47 12zm13 45zm-16-24zm-19 2zm-5 1zm-2-2zm-34 3zm-17 16zm-5-20zm-8 20zm-25-24zm-29 28zm-12-24zm-12 1zm-1 16zm-1-11zm-29-1zm-8 11zm-50 7zm0-8zm-3-3zm-29 4zm-17-5zm-38-3zm-5 14zm-23-21zm-1 11zm-7 5zm-24-21zm-28 17zm-9-12zm-3-1zm9 26zm27 23zm32-2zm3-21zm27 23zm1-23zm10 12zm8-9zm2 11zm4 9zm7-22zm14 7zm13 12zm4 9zm2-15zm4-9zm10 8zm4 9zm11 0zm3-6zm19-16zm38 3zm6 3zm9 1zm8 1zm4-3zm11 2zm8 8zm2 1zm7 7zm4-20zm19 12zm0-4zm4-1zm3 8zm15-14zm4 5zm2 10zm44-1zm7 4zm0-22zm30 7zm3 7zm2-14zm19 17zm-28 15zm-12 9zm-7-11zm-8 17zm-10-8zm-5 0zm-22 16zm-4-11zm-31-4zm-1-1zm-19 8zm-3-12zm-8 14zm-31 6zm-44 0zm0-4zm-2-20zm-5 10zm-6 13zm-2-11zm-11-8zm-5 14zm-19-11zm-3 7zm-3 2zm-7 9zm-11-5zm-28-12zm-14-7zm-23 6zm-1 21zm-9-18zm-22 10zm-6 3zm0-18zm-6-2zm-2 4zm-2-7zm-3-1zm-12 15zm-11-7zm48 24zm0 8zm4-9zm14 28zm5 0zm8-29zm2 1zm1 19zm30-17zm6 23zm2-7zm25-7zm5 2zm29 5zm0 1zm3 7zm4-9zm1-4zm21 4zm1-1zm25 6zm6-4zm35-15zm6 25zm15-22zm7 13zm69 8zm3-11zm7-16zm2 23zm4-18zm21 9zm4 7zm3 1zm3 3zm4 3zm3-21zm3 10zm2-18zm8 29zm-3 17zm-3-7zm-7 8zm-28-12zm-18 3zm-5 2zm-7 5zm-17-12zm-5 17zm-5-5zm-2-11zm-8 7zm-5 17zm-81-16zm-12 12zm-12-10zm-22 7zm-12 0zm-9-2zm-5-18zm-33 5zm-7 2zm-13 14zm-8-6zm-20-3zm-4 7zm-1-20zm-13 19zm-25 4zm-5-12zm-1 9zm-15-9zm-6 26zm31 20zm16-13zm30 10zm3-16zm3 2zm2 2zm3 10zm5-3zm11-14zm7 17zm21 7zm35-21zm5 5zm38 15zm18-14zm7-1zm9 8zm26-20zm26 16zm61-3zm2 2zm25 4zm18-6zm9-11zm-23 53zm-20-9zm-24-1zm-3-15zm-1-1zm-26 20zm-3-6zm-18 14zm-53-21zm0-2zm-4 11zm-16-8zm-9-7zm-7 23zm-14-10zm-16 7zm-30-20zm-5 9zm-11 13zm-10-13zm-2 9zm-4-3zm-6 10zm-3-12zm-8-3zm-10 13zm-12-23zm-4 15zm0-15zm-15 26zm-1 2zm-4-22zm-7 17zm-8 5zm-2-22zm-21 46zm7-7zm2-16zm6 29zm30-1zm7-4zm2-12zm13 8zm62 3zm8-5zm18 10zm9-21zm10 12zm17 5zm18-5zm4-16zm19 24zm28-11zm3-12zm12-4zm20 1zm28 4zm13 21zm2-4zm10-18zm2-1zm7-3zm2 1zm8 4zm1 6zm3-6zm4-4zm-49 34zm-1-5zm0 1zm-5 24zm-6-13zm-23-9zm-1-2zm-5 2zm-44 5zm-8 6zm-1-10zm-13 5zm-13 4zm-13 13zm-6-11zm-6-12zm-1 7zm-8 1zm-13 13zm0-18zm-31 16zm-1 2zm-8-6zm-7 7zm-9-11zm-9-1zm-2 13zm-19-13zm-3 0zm-11 3zm-38 40zm5-24zm7 2zm5 11zm7-9zm9 7zm2-3zm5 0zm13 16zm3-13zm9-11zm8 5zm4 22zm6-20zm13 14zm18-9zm7-4zm6-1zm4-1zm13 10zm18 10zm1-8zm27-11zm8-2zm2-7zm5 18zm14-6zm19 10zm25-20zm1 3zm43 10zm1-9zm18 8zm22-4zm-29 31zm-2-1zm-22 7zm-7-15zm-25 2zm-5-3zm-1 24zm-11-9zm-49 5zm-7 1zm-8-7zm-17 5zm0-9zm-1-2zm-45-7zm-21 5zm-29 9zm-15-3zm-13-4zm-10 17zm-14-3zm-7-12zm-8 8zm13 20zm7-8zm2 13zm2 14zm14-20zm1 5zm7 16zm0-12zm1 3zm6-2zm7-3zm9 4zm3-5zm42-11zm6 1zm21-3zm3 12zm2-3zm10 1zm4-8zm2 12zm8-15zm19 5zm11-5zm13 6zm8-5zm59 12zm3-4zm-98 21zm-15 0zm-12 7zm-15-2zm-6-3zm-23 16zm-25 3zm-16 0zm-2-18zm-2 11zm-2-5zm-19 2zm-8-8zm-2 20zm-6-17zm-5 7zm-5-7zm-29 22zm-7 61zm-29 18zm-1332 1112zm-5 9zm-13-15zm-2-10zm-11 25zm-19 0zm-11 3zm19 20zm8-14zm1 1zm18 17zm12-12zm8-9zm38 11zm20 2zm5-4zm67 32zm-20 10zm-4-25zm-9 9zm-2 3zm-5-3zm-4 4zm-6 0zm-22-10zm-17 7zm-5 1zm-23 18zm-9-22zm-2 20zm-13-25zm-23 1zm-3 13zm-29 5zm-9 0zm-3-8zm-30 15zm-23 16zm7 4zm55-8zm0-6zm1-2zm3 11zm15 13zm10-24zm6 11zm1 9zm14-17zm31 1zm45-6zm6 3zm22 1zm1-3zm45 21zm19-13zm4-9zm16 20zm-1 21zm-2 17zm-16-4zm-8-9zm-1-4zm-9 3zm-28-3zm-27-10zm-4 27zm-8-17zm-16-9zm-9 7zm-27 19zm-23-28zm0 13zm-20 10zm-2-22zm-14 20zm-1-7zm-8 5zm-5-12zm-3 0zm-28 2zm-25-4zm-8 0zm-12 22zm-22-5zm0 10zm9 4zm3 1zm48-4zm47 18zm21-4zm34-9zm2 6zm2-5zm28 6zm26 14zm13-11zm4-2zm0 1zm19-8zm17-3zm38 19zm5-10zm16 4zm11 22zm-19 6zm-1-3zm-22-2zm-45-8zm-1 6zm-7 1zm-13 9zm-24-20zm-4 17zm-7-4zm-51-2zm-4 13zm-10-24zm-9 24zm0-10zm-2 13zm-56-13zm-2 6zm-33-11zm-23 3zm-4-8zm-6 7zm-16 23zm19 9zm9-9zm16 25zm7-6zm14-16zm37 15zm11-3zm13-10zm27-3zm2 5zm37 16zm0-12zm8 10zm2-24zm32 22zm4-12zm2 17zm3-28zm66 22zm14-3zm2-19zm25 20zm-10 13zm-5 24zm-2-20zm-3-5zm-4 27zm-3-25zm-19 11zm-2-12zm-3 8zm-9-8zm-1 14zm-10 9zm-1-26zm-21 28zm-16-15zm-2 1zm-6 0zm-5-6zm-6 12zm-2 0zm-13-13zm-40 0zm-31 7zm-7-9zm-12-1zm-3 20zm0-17zm-5 19zm-11-17zm-11-1zm-24-2zm76 33zm19 0zm48 16zm25-12zm29 4zm34 7zm27-21zm-3 32zm-19-1zm-89 4z" stroke="#f4776d" stroke-width="15" stroke-linecap="round" fill="none"/><path transform="scale(.1)" d="M2654 260zm69 2zm57-1zm5 21zm-54 17zm-9 0zm-21-8zm-31 29zm6 1zm26-21zm0 28zm102-15zm-34 37zm0-4zm-14 10zm-1-19zm-53-7zm18 37zm94 20zm36-9zm1-8zm1 34zm-9-4zm-37 7zm-11 12zm-218-2zm-24 23zm48-12zm8 15zm37-14zm125 5zm3 9zm7-2zm3-12zm25-6zm10 26zm1-8zm7-11zm15 3zm2 15zm2-11zm1-15zm-1 57zm-2-12zm-25 0zm-23-1zm-1-6zm-1 0zm-5-1zm-5 0zm-3-8zm-86 19zm-146 18zm14-4zm34 5zm36-5zm3 12zm3 10zm83 1zm24-1zm0-18zm10-8zm1 5zm10 9zm8 2zm6 6zm4-1zm34-10zm2 5zm5-9zm0 14zm34 0zm2 4zm14 2zm8-1zm-4 11zm-1 13zm-7 1zm-6-17zm-27 3zm-4 14zm-20-13zm-5 11zm-11-2zm0 2zm-18-11zm-8 11zm0-2zm-16-1zm-6-2zm-1-4zm-1-1zm-116 8zm-21-9zm-37 50zm36-13zm19 13zm26 1zm21-4zm58-15zm6-4zm20 9zm1 2zm14-7zm21-10zm19 9zm1 9zm20-13zm30 1zm2 20zm6-14zm1 17zm5-4zm-16 25zm-17 9zm-36-1zm-12 0zm-25-26zm-4 5zm-2 11zm-1 0zm-9-7zm-1 15zm-3-24zm-12 0zm-20 13zm-10 2zm-2-5zm-40 14zm-54-15zm161 21zm8-2zm12 29zm4-5zm2-20zm22 18zm2-16zm9 16zm24 1zm7-5zm4 8zm3-19zm-26 23zm-3 19zm-18 2zm-20-16zm-28 1zm29 27zm22 18zm1-12zm25 12zm1 22zm-10 7zm-1477 1357zm2-1zm11 21zm-37 11zm-6-13zm-3 12zm-4-6zm-7 4zm-1 12zm11 1zm13 0zm3 0zm156 17zm28-1zm3-1zm29 3zm9-10zm18 5zm64 6zm23 2zm11-14zm21 4zm4 9zm3-6zm3-4zm16 8zm8 0zm5-5zm7-4zm11 2zm54 33zm-4 6zm-2-4zm-15-11zm-7-1zm-1 4zm-19-1zm-11 10zm-2-25zm-20 25zm-4 1zm-1-11zm-10 9zm-12-23zm0 3zm-1 12zm-9-9zm-9 13zm-2-10zm-31 6zm0-11zm-1 17zm-42-5zm-11 12zm-24-29zm0 25zm-15-13zm-1 15zm-4-23zm-1 23zm-1-19zm-7 1zm-23 16zm-9-10zm-1 4zm-7-17zm0 7zm-3 11zm-13 0zm-9-2zm-11-17zm-2 5zm-2-1zm-4-1zm-9 11zm-2-3zm-1 16zm-2-27zm-14 10zm0-10zm-6 5zm-21 6zm-10 17zm-22-17zm-18 1zm-16-13zm-2 7zm-5 21zm-23-2zm-2-16zm-3-6zm-1 20zm-3-11zm-30 15zm5 20zm13-16zm6 1zm2 14zm1-2zm8-12zm5 4zm2-5zm14 25zm39-17zm6-1zm17 0zm5 3zm7 16zm4-16zm15 0zm8-10zm6 2zm16 20zm1 1zm2-8zm5-5zm14-1zm19-3zm1 4zm7 9zm14-21zm27 24zm3-1zm0 0zm7-4zm4-18zm1 27zm8-21zm0 21zm1-11zm4-11zm13-5zm7 25zm15-21zm5 23zm1-18zm19-8zm12 3zm4 17zm21-18zm0 23zm5-8zm8 6zm9-17zm12-6zm8 5zm7 18zm12-15zm1-6zm15 11zm22 9zm17-17zm7 16zm3 5zm9-7zm52-7zm27-4zm2 16zm13 1zm63 31zm-69-3zm-11 3zm-21-13zm-1-3zm-2 0zm-24-1zm-6 14zm-2-10zm-1 9zm-16-6zm-7 8zm-5-7zm-5-2zm-22-14zm-14 8zm-5-8zm-6 14zm-22 11zm-1-12zm-1-2zm-2-7zm-14 5zm-5 5zm-12-12zm-20 18zm-3-23zm-19 14zm-6 1zm-11-5zm-1 10zm-6 7zm-13-22zm-27 18zm-2-21zm-3 19zm-15-10zm-17 3zm-5 4zm-16-13zm-6-1zm-6-2zm-1 19zm-13 8zm-12-25zm-23 12zm-3 10zm0-16zm0 0zm-7 17zm-1-8zm-5-18zm-7 4zm-19 9zm-1 1zm-10 1zm-4-12zm-2 16zm-15-7zm-1-1zm-3-3zm-4-3zm-11 12zm-7-12zm-1-5zm0 21zm-9-22zm-8 29zm-20-29zm-10 28zm-1-25zm-19 25zm-11-15zm-3 0zm-2-13zm-149 53zm6 4zm71 1zm83-24zm1 23zm0-15zm5 13zm6-12zm6-3zm6 2zm5-9zm2-3zm2 6zm2 2zm1-3zm1-5zm13 7zm28 0zm3 22zm13-1zm5-25zm21 4zm1-2zm18 10zm4 4zm14-14zm1 3zm0 19zm13-20zm16 16zm0-5zm5 6zm3-9zm29-1zm1 11zm11 3zm16-27zm8 1zm13 8zm9-2zm6 18zm4-11zm2 4zm8 8zm7-21zm18 19zm3-3zm1 6zm4-20zm18 8zm8-6zm2 13zm7-14zm13-8zm28 6zm2 4zm10 12zm20 6zm1-23zm3 9zm6 14zm14-25zm2 20zm4-1zm27-21zm9 6zm1 17zm9-2zm23-3zm1-13zm8 13zm0-6zm1 12zm15-22zm2 10zm2-2zm6 4zm24 0zm31-3zm28 8zm2-5zm28 15zm-21 12zm-1-8zm-6 19zm-9 4zm-15-24zm-1 0zm-19 5zm-5-7zm-1 19zm-15-7zm-1 10zm0 0zm-3-3zm-15-9zm-19 11zm-19-3zm-5-19zm-12 0zm-6 25zm-27 1zm-4-7zm-1 6zm-1-10zm-5 3zm-6 8zm-1-23zm-4 4zm-14-5zm0 18zm-2-20zm-15 27zm-4-18zm-3-8zm-6 6zm-9 21zm-15-11zm-29 4zm-12-16zm-2 3zm-12 0zm0-4zm-3-1zm0-1zm-8 8zm-9 15zm-3-23zm-7 7zm-6 4zm0-13zm-3 18zm-7-1zm-9 3zm-3-4zm-1-5zm-10-5zm-3 5zm0-8zm-9 21zm-7-24zm-5 19zm-5 1zm-6-7zm-5 0zm-35 3zm-8 3zm-7-19zm-8 11zm-11-9zm-1 22zm-2-21zm-11 17zm-8 5zm-3-8zm-8-18zm-2 18zm-13 11zm-7 0zm-3-14zm-13 9zm-12-4zm-3 3zm-16-23zm-2 27zm-7-13zm-12-11zm-15 26zm-20-9zm-10 1zm-2-17zm-8 22zm-17-17zm-51 7zm-5 4zm-5 1zm-5-16zm-8 8zm-48 12zm-10 0zm-15-10zm0 9zm-3 22zm64-7zm38-9zm16 5zm45 7zm4 2zm16 5zm1 7zm3-6zm1-16zm3 7zm0 3zm7-2zm7 17zm12-18zm12 6zm2-4zm5-1zm26 11zm4-16zm7 2zm13-2zm15 1zm5 14zm7-5zm4-8zm5-6zm7-1zm12 8zm4 2zm15 17zm12-16zm5-11zm7 1zm6 1zm14 25zm7-15zm8 3zm3-10zm31 10zm4-11zm16 5zm4 3zm11-2zm1 8zm21-15zm6 2zm27-1zm3-4zm22 25zm2-18zm5 2zm24 11zm16-22zm0 8zm35 9zm10-1zm8-16zm3 10zm2 19zm9-11zm17-6zm29 16zm2-4zm6-4zm18-17zm2 5zm6-2zm1 17zm1-22zm10 23zm6-2zm5-10zm1-5zm3 1zm12 11zm2-19zm33 16zm11-6zm31-9zm-35 33zm-1 4zm-4-2zm-6-5zm-4 19zm-3-10zm-24 15zm-1-20zm-36-5zm-6 16zm-3 12zm-14-6zm-3 3zm-13 4zm-13-17zm-20 10zm-12 1zm-2 5zm-1-10zm0-8zm-2 4zm-11 11zm-2 2zm-4-12zm-1-14zm-3 4zm-17 2zm-14-5zm-6 14zm-20 10zm-3-24zm-3 22zm-4-1zm0-15zm-3 13zm-6-10zm-6 6zm-3-14zm-2-2zm-7 0zm-18 21zm0-9zm-3 13zm-3-22zm-1 4zm-15-7zm0 6zm-13 21zm-4 0zm-1-12zm-20-12zm-5 3zm-2-3zm-4 24zm-13-15zm-13 5zm-17-18zm-2 17zm-1-5zm-1-5zm-5 6zm-1-12zm-12 27zm-3 0zm-1-9zm-10 4zm-6-3zm-2-6zm-2-13zm-4 2zm-19 16zm-3-18zm-12 6zm-4 13zm-24-2zm-1-10zm-3 6zm-7-10zm-13 9zm-4 14zm-4-9zm-4 8zm-4-23zm-16 23zm-4-24zm-5 11zm-2-9zm-8 22zm-6-23zm-8 9zm-2 4zm-10 0zm-1 0zm-10-6zm-5 13zm-12 3zm0-3zm-3 1zm-3-20zm-15 11zm-19 11zm-1-12zm-15-13zm-18 20zm-64 7zm-6-23zm-9-1zm-6 13zm-4-11zm-7 14zm3 34zm6 4zm1-18zm2 16zm63-9zm18-17zm1 2zm19 1zm2-2zm21 13zm1-10zm22 21zm12-11zm18 7zm0-19zm17 7zm17 17zm6-11zm3 9zm24-6zm8-1zm3-6zm0 0zm3-2zm1 1zm27-6zm5 23zm6-20zm11 18zm0-23zm13 0zm4 7zm1 10zm2 3zm4-2zm4 3zm16 6zm4-19zm8 19zm21-3zm2-15zm1 16zm2-27zm9 13zm14-4zm0 20zm17-25zm1 10zm18 15zm33-19zm9 19zm24-18zm25-10zm30 20zm18-2zm3 2zm0-18zm4 23zm1-14zm1 9zm12 1zm10-16zm1 11zm13-15zm3 15zm32-13zm2 5zm29 15zm2-1zm7-21zm56-1zm-178 31zm-6 10zm-1-3zm-34 1zm-4-4zm-8 11zm-12-13zm-11 4zm-2-7zm-4 12zm-10 1zm0-6zm-59-3zm-6 13zm-2-11zm-2 6zm0 7zm-10 6zm-2-15zm-11 15zm0-8zm-3 2zm-10-14zm-6 21zm-6-3zm-1-24zm-3 20zm-4 8zm-3-7zm-5 4zm-1-9zm-1-14zm-12 25zm-36-1zm0 0zm-15-13zm-1 4zm-3-7zm-1-7zm-17 3zm-3 17zm-46 5zm0-28zm-5 16zm-20 5zm-4-19zm-3 9zm-4 4zm-3 14zm-9-14zm-15-10zm-26 18zm-16 4zm-7-22zm-12 14zm-21 1zm-27-10zm-19-9zm-1 21zm-39-6zm-30 10zm103 5zm116 5zm34 12zm9-8zm10-7zm34-2zm1 14zm5-6zm4 16zm1-14zm3 17zm6-8zm23-18zm20 2zm43-4zm-115 31zm-27 4z" stroke="#619cff" stroke-width="15" stroke-linecap="round" fill="none"/><text x="40.3" y="194.6" font-family='"Liberation Serif", serif' font-size="14.4" font-weight="bold">cluster1</text><text x="148.7" y="208.2" font-family='"Liberation Serif", serif' font-size="14.4" font-weight="bold">cluster2</text><text x="238.8" y="54.6" font-family='"Liberation Serif", serif' font-size="14.4" font-weight="bold">cluster3</text><ellipse cx="250.3" cy="240.4" rx="8.3" ry="2.1" fill="#0fae3a"/><text x="264.6" y="245.0" font-family='"Liberation Serif", serif' font-size="14.4" font-weight="bold">cluster1</text><ellipse cx="250.3" cy="258.4" rx="8.3" ry="2.1" fill="#619cff"/><text x="264.6" y="263.0" font-family='"Liberation Serif", serif' font-size="14.4" font-weight="bold">cluster2</text><ellipse cx="250.3" cy="276.3" rx="8.3" ry="2.1" fill="#f4776d"/><text x="264.6" y="280.9" font-family='"Liberation Serif", serif' font-size="14.4" font-weight="bold">cluster3</text></g>
<g id="B"><text x="390.3" y="35.2" font-family='"Liberation Serif", serif' font-size="26.5" font-weight="bold">B</text><path d="M511 0V130.4H917" stroke="#333" stroke-width="1.1" fill="none"/><path d="M519.8 130.4v3M533.1 130.4v3M546.5 130.4v3M559.8 130.4v3M573.2 130.4v3M586.5 130.4v3M599.8 130.4v3M613.2 130.4v3M626.5 130.4v3M639.9 130.4v3M653.2 130.4v3M666.5 130.4v3M679.9 130.4v3M693.2 130.4v3M706.6 130.4v3M719.9 130.4v3M733.2 130.4v3M746.6 130.4v3M759.9 130.4v3M773.3 130.4v3M786.6 130.4v3M799.9 130.4v3M813.3 130.4v3M826.6 130.4v3M840.0 130.4v3M853.3 130.4v3M866.6 130.4v3M880.0 130.4v3M893.3 130.4v3M906.7 130.4v3M508 24.9h3M508 65.6h3M508 105.9h3" stroke="#333" stroke-width="1"/><text x="505.6" y="33.5" font-family='"Liberation Serif", serif' font-size="17.6" font-weight="bold" text-anchor="end">cluster1</text><circle cx="519.8" cy="24.9" r="3.2" fill="#ff1a12"/><circle cx="533.1" cy="24.9" r="2.3" fill="#ff1a12"/><circle cx="546.5" cy="24.9" r="1.8" fill="#ff1a12"/><circle cx="559.8" cy="24.9" r="2.3" fill="#ff1a12"/><circle cx="573.2" cy="24.9" r="2.7" fill="#ff1a12"/><circle cx="586.5" cy="24.9" r="2.0" fill="#ff1a12"/><circle cx="599.8" cy="24.9" r="3.4" fill="#ff1a12"/><circle cx="613.2" cy="24.9" r="3.4" fill="#ff1a12"/><circle cx="626.5" cy="24.9" r="1.0" fill="#ff1a12"/><circle cx="639.9" cy="24.9" r="3.0" fill="#ff1a12"/><circle cx="653.2" cy="24.9" r="0.5" fill="#5a6ab8"/><circle cx="666.5" cy="24.9" r="0.5" fill="#5a6ab8"/><circle cx="679.9" cy="24.9" r="0.5" fill="#7a8ac8"/><circle cx="693.2" cy="24.9" r="0.9" fill="#3a50a8"/><circle cx="706.6" cy="24.9" r="1.4" fill="#4a78b8"/><circle cx="719.9" cy="24.9" r="5.9" fill="#1a1f8c"/><circle cx="733.2" cy="24.9" r="1.1" fill="#2a3a98"/><circle cx="746.6" cy="24.9" r="3.8" fill="#3550a4"/><circle cx="759.9" cy="24.9" r="1.8" fill="#2a3a98"/><circle cx="773.3" cy="24.9" r="2.7" fill="#3a54a8"/><circle cx="786.6" cy="24.9" r="2.0" fill="#2a3a98"/><circle cx="799.9" cy="24.9" r="1.3" fill="#2a3a98"/><circle cx="813.3" cy="24.9" r="1.1" fill="#2a3a98"/><circle cx="826.6" cy="24.9" r="2.0" fill="#22309a"/><circle cx="840.0" cy="24.9" r="2.5" fill="#34489f"/><circle cx="853.3" cy="24.9" r="0.9" fill="#2a3a98"/><circle cx="866.6" cy="24.9" r="0.7" fill="#4a5aa8"/><circle cx="880.0" cy="24.9" r="1.3" fill="#22309a"/><circle cx="893.3" cy="24.9" r="0.7" fill="#5a6ab8"/><circle cx="906.7" cy="24.9" r="1.8" fill="#4a88c0"/><text x="505.6" y="72.3" font-family='"Liberation Serif", serif' font-size="17.6" font-weight="bold" text-anchor="end">cluster2</text><circle cx="519.8" cy="65.6" r="0.8" fill="#2a3a98"/><circle cx="533.1" cy="65.6" r="5.0" fill="#3a54a6"/><circle cx="546.5" cy="65.6" r="0.5" fill="#4a5aa8"/><circle cx="559.8" cy="65.6" r="0.9" fill="#2a3a98"/><circle cx="573.2" cy="65.6" r="1.8" fill="#2a3a9c"/><circle cx="586.5" cy="65.6" r="0.9" fill="#2a3a98"/><circle cx="599.8" cy="65.6" r="2.8" fill="#3446a2"/><circle cx="613.2" cy="65.6" r="2.8" fill="#2a3a9c"/><circle cx="626.5" cy="65.6" r="2.5" fill="#3446a2"/><circle cx="639.9" cy="65.6" r="2.5" fill="#2c3c9c"/><circle cx="653.2" cy="65.6" r="3.2" fill="#ff1a12"/><circle cx="666.5" cy="65.6" r="3.4" fill="#ff2212"/><circle cx="679.9" cy="65.6" r="3.0" fill="#ff1a12"/><circle cx="693.2" cy="65.6" r="3.6" fill="#ff2a14"/><circle cx="706.6" cy="65.6" r="4.3" fill="#ff3014"/><circle cx="719.9" cy="65.6" r="6.8" fill="#ff2a12"/><circle cx="733.2" cy="65.6" r="3.6" fill="#ff1a12"/><circle cx="746.6" cy="65.6" r="5.7" fill="#ff1a12"/><circle cx="759.9" cy="65.6" r="3.6" fill="#ff1a12"/><circle cx="773.3" cy="65.6" r="3.4" fill="#ff1a12"/><circle cx="786.6" cy="65.6" r="2.7" fill="#3a54a8"/><circle cx="799.9" cy="65.6" r="2.0" fill="#3a54a8"/><circle cx="813.3" cy="65.6" r="1.6" fill="#3a54a8"/><circle cx="826.6" cy="65.6" r="3.0" fill="#3f5cac"/><circle cx="840.0" cy="65.6" r="3.0" fill="#34489f"/><circle cx="853.3" cy="65.6" r="2.0" fill="#4070b4"/><circle cx="866.6" cy="65.6" r="0.9" fill="#3a54a8"/><circle cx="880.0" cy="65.6" r="2.7" fill="#3f5cac"/><circle cx="893.3" cy="65.6" r="0.7" fill="#3a54a8"/><circle cx="906.7" cy="65.6" r="1.8" fill="#15157c"/><text x="505.6" y="110.8" font-family='"Liberation Serif", serif' font-size="17.6" font-weight="bold" text-anchor="end">cluster3</text><circle cx="519.8" cy="105.9" r="0.8" fill="#3a4aa0"/><circle cx="533.1" cy="105.9" r="5.4" fill="#2a3d9a"/><circle cx="546.5" cy="105.9" r="0.5" fill="#5a6ab8"/><circle cx="559.8" cy="105.9" r="0.9" fill="#2a3a98"/><circle cx="573.2" cy="105.9" r="1.4" fill="#2a3a9c"/><circle cx="586.5" cy="105.9" r="0.7" fill="#4a5aa8"/><circle cx="599.8" cy="105.9" r="2.5" fill="#3446a2"/><circle cx="613.2" cy="105.9" r="2.7" fill="#3a50a8"/><circle cx="626.5" cy="105.9" r="2.5" fill="#3446a2"/><circle cx="639.9" cy="105.9" r="2.3" fill="#3446a2"/><circle cx="653.2" cy="105.9" r="0.5" fill="#8a9ad0"/><circle cx="666.5" cy="105.9" r="0.5" fill="#6a7ac0"/><circle cx="679.9" cy="105.9" r="0.4" fill="#9aa8d8"/><circle cx="693.2" cy="105.9" r="0.7" fill="#4a5aa8"/><circle cx="706.6" cy="105.9" r="1.1" fill="#1a2088"/><circle cx="719.9" cy="105.9" r="6.6" fill="#4068b0"/><circle cx="733.2" cy="105.9" r="2.0" fill="#26349a"/><circle cx="746.6" cy="105.9" r="5.7" fill="#3550a4"/><circle cx="759.9" cy="105.9" r="3.2" fill="#3650a6"/><circle cx="773.3" cy="105.9" r="2.5" fill="#2a3a9c"/><circle cx="786.6" cy="105.9" r="5.7" fill="#ff1a12"/><circle cx="799.9" cy="105.9" r="5.0" fill="#ff1a12"/><circle cx="813.3" cy="105.9" r="4.3" fill="#ff2212"/><circle cx="826.6" cy="105.9" r="5.7" fill="#ff2212"/><circle cx="840.0" cy="105.9" r="5.9" fill="#ff1a12"/><circle cx="853.3" cy="105.9" r="4.3" fill="#ff2a14"/><circle cx="866.6" cy="105.9" r="3.4" fill="#ff1a12"/><circle cx="880.0" cy="105.9" r="4.5" fill="#ff2212"/><circle cx="893.3" cy="105.9" r="2.7" fill="#ff1a12"/><circle cx="906.7" cy="105.9" r="4.5" fill="#ff3a10"/><text x="523.5" y="137.3" font-family='"Liberation Serif", serif' font-size="14.8" font-weight="bold" text-anchor="end" transform="rotate(-90 523.5 137.3)">ATP5E</text><text x="536.8" y="137.3" font-family='"Liberation Serif", serif' font-size="14.8" font-weight="bold" text-anchor="end" transform="rotate(-90 536.8 137.3)">IGKC</text><text x="550.2" y="137.3" font-family='"Liberation Serif", serif' font-size="14.8" font-weight="bold" text-anchor="end" transform="rotate(-90 550.2 137.3)">GNLY</text><text x="563.5" y="137.3" font-family='"Liberation Serif", serif' font-size="14.8" font-weight="bold" text-anchor="end" transform="rotate(-90 563.5 137.3)">DUSP1</text><text x="576.9" y="137.3" font-family='"Liberation Serif", serif' font-size="14.8" font-weight="bold" text-anchor="end" transform="rotate(-90 576.9 137.3)">JUN</text><text x="590.2" y="137.3" font-family='"Liberation Serif", serif' font-size="14.8" font-weight="bold" text-anchor="end" transform="rotate(-90 590.2 137.3)">FOS</text><text x="603.5" y="137.3" font-family='"Liberation Serif", serif' font-size="14.8" font-weight="bold" text-anchor="end" transform="rotate(-90 603.5 137.3)">DNAJB1</text><text x="616.9" y="137.3" font-family='"Liberation Serif", serif' font-size="14.8" font-weight="bold" text-anchor="end" transform="rotate(-90 616.9 137.3)">HSPA1A</text><text x="630.2" y="137.3" font-family='"Liberation Serif", serif' font-size="14.8" font-weight="bold" text-anchor="end" transform="rotate(-90 630.2 137.3)">IGLC2</text><text x="643.6" y="137.3" font-family='"Liberation Serif", serif' font-size="14.8" font-weight="bold" text-anchor="end" transform="rotate(-90 643.6 137.3)">HSPA1B</text><text x="656.9" y="137.3" font-family='"Liberation Serif", serif' font-size="14.8" font-weight="bold" text-anchor="end" transform="rotate(-90 656.9 137.3)">LEF1</text><text x="670.2" y="137.3" font-family='"Liberation Serif", serif' font-size="14.8" font-weight="bold" text-anchor="end" transform="rotate(-90 670.2 137.3)">SELL</text><text x="683.6" y="137.3" font-family='"Liberation Serif", serif' font-size="14.8" font-weight="bold" text-anchor="end" transform="rotate(-90 683.6 137.3)">CCR7</text><text x="696.9" y="137.3" font-family='"Liberation Serif", serif' font-size="14.8" font-weight="bold" text-anchor="end" transform="rotate(-90 696.9 137.3)">TCF7</text><text x="710.3" y="137.3" font-family='"Liberation Serif", serif' font-size="14.8" font-weight="bold" text-anchor="end" transform="rotate(-90 710.3 137.3)">IL7R</text><text x="723.6" y="137.3" font-family='"Liberation Serif", serif' font-size="14.8" font-weight="bold" text-anchor="end" transform="rotate(-90 723.6 137.3)">TPT1</text><text x="736.9" y="137.3" font-family='"Liberation Serif", serif' font-size="14.8" font-weight="bold" text-anchor="end" transform="rotate(-90 736.9 137.3)">RIPOR2</text><text x="750.3" y="137.3" font-family='"Liberation Serif", serif' font-size="14.8" font-weight="bold" text-anchor="end" transform="rotate(-90 750.3 137.3)">EEF1B2</text><text x="763.6" y="137.3" font-family='"Liberation Serif", serif' font-size="14.8" font-weight="bold" text-anchor="end" transform="rotate(-90 763.6 137.3)">MT1X</text><text x="777.0" y="137.3" font-family='"Liberation Serif", serif' font-size="14.8" font-weight="bold" text-anchor="end" transform="rotate(-90 777.0 137.3)">MT2A</text><text x="790.3" y="137.3" font-family='"Liberation Serif", serif' font-size="14.8" font-weight="bold" text-anchor="end" transform="rotate(-90 790.3 137.3)">CD8A</text><text x="803.6" y="137.3" font-family='"Liberation Serif", serif' font-size="14.8" font-weight="bold" text-anchor="end" transform="rotate(-90 803.6 137.3)">LAG3</text><text x="817.0" y="137.3" font-family='"Liberation Serif", serif' font-size="14.8" font-weight="bold" text-anchor="end" transform="rotate(-90 817.0 137.3)">HAVCR2</text><text x="830.3" y="137.3" font-family='"Liberation Serif", serif' font-size="14.8" font-weight="bold" text-anchor="end" transform="rotate(-90 830.3 137.3)">LYST</text><text x="843.7" y="137.3" font-family='"Liberation Serif", serif' font-size="14.8" font-weight="bold" text-anchor="end" transform="rotate(-90 843.7 137.3)">GZMK</text><text x="857.0" y="137.3" font-family='"Liberation Serif", serif' font-size="14.8" font-weight="bold" text-anchor="end" transform="rotate(-90 857.0 137.3)">GALNT1</text><text x="870.3" y="137.3" font-family='"Liberation Serif", serif' font-size="14.8" font-weight="bold" text-anchor="end" transform="rotate(-90 870.3 137.3)">TNIP3</text><text x="883.7" y="137.3" font-family='"Liberation Serif", serif' font-size="14.8" font-weight="bold" text-anchor="end" transform="rotate(-90 883.7 137.3)">TTN</text><text x="897.0" y="137.3" font-family='"Liberation Serif", serif' font-size="14.8" font-weight="bold" text-anchor="end" transform="rotate(-90 897.0 137.3)">CXCL13</text><text x="910.4" y="137.3" font-family='"Liberation Serif", serif' font-size="14.8" font-weight="bold" text-anchor="end" transform="rotate(-90 910.4 137.3)">CCL4L2</text><text x="940.4" y="24.2" font-family='"Liberation Sans", sans-serif' font-size="10.8" fill="#1a1a1a">Average Expression</text><defs><linearGradient id="bgr" x1="0" y1="1" x2="0" y2="0"><stop offset="0" stop-color="#1a1a8c"/><stop offset="0.18" stop-color="#2f5fae"/><stop offset="0.38" stop-color="#5fc3a0"/><stop offset="0.55" stop-color="#a0ee70"/><stop offset="0.72" stop-color="#ffff20"/><stop offset="0.86" stop-color="#ffa000"/><stop offset="1" stop-color="#ff3510"/></linearGradient></defs><rect x="940.3" y="31.3" width="13.6" height="63.2" fill="url(#bgr)"/><text x="958.4" y="42.3" font-family='"Liberation Sans", sans-serif' font-size="9.2" fill="#1a1a1a">2</text><text x="958.4" y="56.8" font-family='"Liberation Sans", sans-serif' font-size="9.2" fill="#1a1a1a">1</text><text x="958.4" y="71.7" font-family='"Liberation Sans", sans-serif' font-size="9.2" fill="#1a1a1a">0</text><text x="958.4" y="86.4" font-family='"Liberation Sans", sans-serif' font-size="9.2" fill="#1a1a1a">−1</text><path d="M940.3 39h2.7M951.2 39h2.7M940.3 53.5h2.7M951.2 53.5h2.7M940.3 68.4h2.7M951.2 68.4h2.7M940.3 83.1h2.7M951.2 83.1h2.7" stroke="#fff" stroke-width="0.6" stroke-opacity="0.7"/><text x="940.4" y="115.4" font-family='"Liberation Sans", sans-serif' font-size="10.8" fill="#1a1a1a">Percent Expressed</text><circle cx="950.2" cy="128.7" r="0.5" fill="#000"/><text x="966.4" y="132.0" font-family='"Liberation Sans", sans-serif' font-size="9.2" fill="#1a1a1a">0</text><circle cx="950.2" cy="141.4" r="2.4" fill="#000"/><text x="966.4" y="144.7" font-family='"Liberation Sans", sans-serif' font-size="9.2" fill="#1a1a1a">25</text><circle cx="950.2" cy="154.1" r="4.2" fill="#000"/><text x="966.4" y="157.4" font-family='"Liberation Sans", sans-serif' font-size="9.2" fill="#1a1a1a">50</text><circle cx="950.2" cy="167.4" r="6.2" fill="#000"/><text x="966.4" y="170.7" font-family='"Liberation Sans", sans-serif' font-size="9.2" fill="#1a1a1a">75</text><circle cx="950.2" cy="183.7" r="8.1" fill="#000"/><text x="966.4" y="187.0" font-family='"Liberation Sans", sans-serif' font-size="9.2" fill="#1a1a1a">100</text></g>
<g id="C"><text x="0.6" y="387.6" font-family='"Liberation Serif", serif' font-size="27" font-weight="bold">C</text><defs><linearGradient id="cgr" x1="0" y1="0" x2="0" y2="1"><stop offset="0" stop-color="#da6470"/><stop offset="0.28" stop-color="#ebbaa4"/><stop offset="0.5" stop-color="#eff8d6"/><stop offset="0.72" stop-color="#bfe1d8"/><stop offset="1" stop-color="#5ca6d6"/></linearGradient></defs><rect x="50.4" y="370.4" width="14.8" height="88.7" fill="url(#cgr)"/><text x="45.6" y="378.2" font-family='"Liberation Serif", serif' font-size="13.8" font-weight="bold" text-anchor="end">1</text><text x="45.6" y="419.2" font-family='"Liberation Serif", serif' font-size="13.8" font-weight="bold" text-anchor="end">0</text><text x="45.6" y="461.5" font-family='"Liberation Serif", serif' font-size="13.8" font-weight="bold" text-anchor="end">-1</text><rect x="129.3" y="372.30" width="28.0" height="14.915" fill="#c9e8dc"/><rect x="157.3" y="372.30" width="28.0" height="14.915" fill="#f4cbb2"/><rect x="185.3" y="372.30" width="28.0" height="14.915" fill="#e8978c"/><text x="217.8" y="385.1" font-family='"Liberation Serif", serif' font-size="15.3" font-weight="bold">IGKC</text><rect x="129.3" y="387.22" width="28.0" height="14.915" fill="#c5e6dc"/><rect x="157.3" y="387.22" width="28.0" height="14.915" fill="#efb5a0"/><rect x="185.3" y="387.22" width="28.0" height="14.915" fill="#eeb09e"/><text x="217.8" y="400.0" font-family='"Liberation Serif", serif' font-size="15.3" font-weight="bold">IGLC2</text><rect x="129.3" y="402.13" width="28.0" height="14.915" fill="#e9f4d6"/><rect x="157.3" y="402.13" width="28.0" height="14.915" fill="#d8eed8"/><rect x="185.3" y="402.13" width="28.0" height="14.915" fill="#db6670"/><text x="217.8" y="414.9" font-family='"Liberation Serif", serif' font-size="15.3" font-weight="bold">CCL4L2</text><rect x="129.3" y="417.05" width="28.0" height="14.915" fill="#dcf0d8"/><rect x="157.3" y="417.05" width="28.0" height="14.915" fill="#eef6d5"/><rect x="185.3" y="417.05" width="28.0" height="14.915" fill="#db6670"/><text x="217.8" y="429.8" font-family='"Liberation Serif", serif' font-size="15.3" font-weight="bold">TTN</text><rect x="129.3" y="431.96" width="28.0" height="14.915" fill="#dcf0d8"/><rect x="157.3" y="431.96" width="28.0" height="14.915" fill="#eef6d5"/><rect x="185.3" y="431.96" width="28.0" height="14.915" fill="#db6670"/><text x="217.8" y="444.7" font-family='"Liberation Serif", serif' font-size="15.3" font-weight="bold">GALNT1</text><rect x="129.3" y="446.88" width="28.0" height="14.915" fill="#dcf0d8"/><rect x="157.3" y="446.88" width="28.0" height="14.915" fill="#e6f3d6"/><rect x="185.3" y="446.88" width="28.0" height="14.915" fill="#db6670"/><text x="217.8" y="459.6" font-family='"Liberation Serif", serif' font-size="15.3" font-weight="bold">CD8A</text><rect x="129.3" y="461.79" width="28.0" height="14.915" fill="#dcefd8"/><rect x="157.3" y="461.79" width="28.0" height="14.915" fill="#e6f3d6"/><rect x="185.3" y="461.79" width="28.0" height="14.915" fill="#db6670"/><text x="217.8" y="474.5" font-family='"Liberation Serif", serif' font-size="15.3" font-weight="bold">LAG3</text><rect x="129.3" y="476.71" width="28.0" height="14.915" fill="#dcefd8"/><rect x="157.3" y="476.71" width="28.0" height="14.915" fill="#e6f3d6"/><rect x="185.3" y="476.71" width="28.0" height="14.915" fill="#db6670"/><text x="217.8" y="489.5" font-family='"Liberation Serif", serif' font-size="15.3" font-weight="bold">LYST</text><rect x="129.3" y="491.62" width="28.0" height="14.915" fill="#dcefd8"/><rect x="157.3" y="491.62" width="28.0" height="14.915" fill="#e6f3d6"/><rect x="185.3" y="491.62" width="28.0" height="14.915" fill="#db6670"/><text x="217.8" y="504.4" font-family='"Liberation Serif", serif' font-size="15.3" font-weight="bold">HAVCR2</text><rect x="129.3" y="506.53" width="28.0" height="14.915" fill="#e0f1d7"/><rect x="157.3" y="506.53" width="28.0" height="14.915" fill="#e8f4d6"/><rect x="185.3" y="506.53" width="28.0" height="14.915" fill="#db6670"/><text x="217.8" y="519.3" font-family='"Liberation Serif", serif' font-size="15.3" font-weight="bold">TNIP3</text><rect x="129.3" y="521.45" width="28.0" height="14.915" fill="#e0f1d7"/><rect x="157.3" y="521.45" width="28.0" height="14.915" fill="#e8f4d6"/><rect x="185.3" y="521.45" width="28.0" height="14.915" fill="#db6670"/><text x="217.8" y="534.2" font-family='"Liberation Serif", serif' font-size="15.3" font-weight="bold">CXCL13</text><rect x="129.3" y="536.37" width="28.0" height="14.915" fill="#e4f2d6"/><rect x="157.3" y="536.37" width="28.0" height="14.915" fill="#e0f1d7"/><rect x="185.3" y="536.37" width="28.0" height="14.915" fill="#db6670"/><text x="217.8" y="549.1" font-family='"Liberation Serif", serif' font-size="15.3" font-weight="bold">GZMK</text><rect x="129.3" y="551.28" width="28.0" height="14.915" fill="#dcefd8"/><rect x="157.3" y="551.28" width="28.0" height="14.915" fill="#db6670"/><rect x="185.3" y="551.28" width="28.0" height="14.915" fill="#e9f4d6"/><text x="217.8" y="564.0" font-family='"Liberation Serif", serif' font-size="15.3" font-weight="bold">MT1X</text><rect x="129.3" y="566.19" width="28.0" height="14.915" fill="#dcefd8"/><rect x="157.3" y="566.19" width="28.0" height="14.915" fill="#db6670"/><rect x="185.3" y="566.19" width="28.0" height="14.915" fill="#e6f3d6"/><text x="217.8" y="579.0" font-family='"Liberation Serif", serif' font-size="15.3" font-weight="bold">MT1E</text><rect x="129.3" y="581.11" width="28.0" height="14.915" fill="#dcefd8"/><rect x="157.3" y="581.11" width="28.0" height="14.915" fill="#db6670"/><rect x="185.3" y="581.11" width="28.0" height="14.915" fill="#e6f3d6"/><text x="217.8" y="593.9" font-family='"Liberation Serif", serif' font-size="15.3" font-weight="bold">RIPOR2</text><rect x="129.3" y="596.02" width="28.0" height="14.915" fill="#eef6d5"/><rect x="157.3" y="596.02" width="28.0" height="14.915" fill="#db6670"/><rect x="185.3" y="596.02" width="28.0" height="14.915" fill="#d4ecd9"/><text x="217.8" y="608.8" font-family='"Liberation Serif", serif' font-size="15.3" font-weight="bold">MT1G</text><rect x="129.3" y="610.94" width="28.0" height="14.915" fill="#e6f3d6"/><rect x="157.3" y="610.94" width="28.0" height="14.915" fill="#db6670"/><rect x="185.3" y="610.94" width="28.0" height="14.915" fill="#d8eed8"/><text x="217.8" y="623.7" font-family='"Liberation Serif", serif' font-size="15.3" font-weight="bold">IL7R</text><rect x="129.3" y="625.86" width="28.0" height="14.915" fill="#e6f3d6"/><rect x="157.3" y="625.86" width="28.0" height="14.915" fill="#db6670"/><rect x="185.3" y="625.86" width="28.0" height="14.915" fill="#d8eed8"/><text x="217.8" y="638.6" font-family='"Liberation Serif", serif' font-size="15.3" font-weight="bold">TCF7</text><rect x="129.3" y="640.77" width="28.0" height="14.915" fill="#e6f3d6"/><rect x="157.3" y="640.77" width="28.0" height="14.915" fill="#db6670"/><rect x="185.3" y="640.77" width="28.0" height="14.915" fill="#dcefd8"/><text x="217.8" y="653.5" font-family='"Liberation Serif", serif' font-size="15.3" font-weight="bold">CCR7</text><rect x="129.3" y="655.68" width="28.0" height="14.915" fill="#e6f3d6"/><rect x="157.3" y="655.68" width="28.0" height="14.915" fill="#db6670"/><rect x="185.3" y="655.68" width="28.0" height="14.915" fill="#dcefd8"/><text x="217.8" y="668.4" font-family='"Liberation Serif", serif' font-size="15.3" font-weight="bold">SELL</text><rect x="129.3" y="670.60" width="28.0" height="14.915" fill="#e6f3d6"/><rect x="157.3" y="670.60" width="28.0" height="14.915" fill="#db6670"/><rect x="185.3" y="670.60" width="28.0" height="14.915" fill="#d8eed8"/><text x="217.8" y="683.4" font-family='"Liberation Serif", serif' font-size="15.3" font-weight="bold">LEF1</text><rect x="129.3" y="685.51" width="28.0" height="14.915" fill="#db6670"/><rect x="157.3" y="685.51" width="28.0" height="14.915" fill="#e6f4d6"/><rect x="185.3" y="685.51" width="28.0" height="14.915" fill="#d8eed8"/><text x="217.8" y="698.3" font-family='"Liberation Serif", serif' font-size="15.3" font-weight="bold">DNAJB1</text><rect x="129.3" y="700.43" width="28.0" height="14.915" fill="#db6670"/><rect x="157.3" y="700.43" width="28.0" height="14.915" fill="#e6f4d6"/><rect x="185.3" y="700.43" width="28.0" height="14.915" fill="#dcefd8"/><text x="217.8" y="713.2" font-family='"Liberation Serif", serif' font-size="15.3" font-weight="bold">FOS</text><rect x="129.3" y="715.35" width="28.0" height="14.915" fill="#db6670"/><rect x="157.3" y="715.35" width="28.0" height="14.915" fill="#e6f4d6"/><rect x="185.3" y="715.35" width="28.0" height="14.915" fill="#dcefd8"/><text x="217.8" y="728.1" font-family='"Liberation Serif", serif' font-size="15.3" font-weight="bold">JUN</text><rect x="129.3" y="730.26" width="28.0" height="14.915" fill="#db6670"/><rect x="157.3" y="730.26" width="28.0" height="14.915" fill="#e6f4d6"/><rect x="185.3" y="730.26" width="28.0" height="14.915" fill="#dcefd8"/><text x="217.8" y="743.0" font-family='"Liberation Serif", serif' font-size="15.3" font-weight="bold">DUSP1</text><rect x="129.3" y="745.17" width="28.0" height="14.915" fill="#db6670"/><rect x="157.3" y="745.17" width="28.0" height="14.915" fill="#dcefd8"/><rect x="185.3" y="745.17" width="28.0" height="14.915" fill="#e9f4d6"/><text x="217.8" y="757.9" font-family='"Liberation Serif", serif' font-size="15.3" font-weight="bold">HSPA1A</text><rect x="129.3" y="760.09" width="28.0" height="14.915" fill="#db6670"/><rect x="157.3" y="760.09" width="28.0" height="14.915" fill="#e0f1d7"/><rect x="185.3" y="760.09" width="28.0" height="14.915" fill="#e4f2d6"/><text x="217.8" y="772.8" font-family='"Liberation Serif", serif' font-size="15.3" font-weight="bold">GNLY</text><rect x="129.3" y="775.00" width="28.0" height="14.915" fill="#db6670"/><rect x="157.3" y="775.00" width="28.0" height="14.915" fill="#e4f2d6"/><rect x="185.3" y="775.00" width="28.0" height="14.915" fill="#e4f2d6"/><text x="217.8" y="787.8" font-family='"Liberation Serif", serif' font-size="15.3" font-weight="bold">SST</text><rect x="129.3" y="789.92" width="28.0" height="14.915" fill="#f8dcc0"/><rect x="157.3" y="789.92" width="28.0" height="14.915" fill="#e48a88"/><rect x="185.3" y="789.92" width="28.0" height="14.915" fill="#c3e6da"/><text x="217.8" y="802.7" font-family='"Liberation Serif", serif' font-size="15.3" font-weight="bold">MT2A</text><rect x="129.3" y="804.84" width="28.0" height="14.915" fill="#e58d88"/><rect x="157.3" y="804.84" width="28.0" height="14.915" fill="#f8dcc0"/><rect x="185.3" y="804.84" width="28.0" height="14.915" fill="#c3e6da"/><text x="217.8" y="817.6" font-family='"Liberation Serif", serif' font-size="15.3" font-weight="bold">IGHA1</text><path d="M129.3 372.30h84.0M129.3 387.22h84.0M129.3 402.13h84.0M129.3 417.05h84.0M129.3 431.96h84.0M129.3 446.88h84.0M129.3 461.79h84.0M129.3 476.71h84.0M129.3 491.62h84.0M129.3 506.53h84.0M129.3 521.45h84.0M129.3 536.37h84.0M129.3 551.28h84.0M129.3 566.19h84.0M129.3 581.11h84.0M129.3 596.02h84.0M129.3 610.94h84.0M129.3 625.86h84.0M129.3 640.77h84.0M129.3 655.68h84.0M129.3 670.60h84.0M129.3 685.51h84.0M129.3 700.43h84.0M129.3 715.35h84.0M129.3 730.26h84.0M129.3 745.17h84.0M129.3 760.09h84.0M129.3 775.00h84.0M129.3 789.92h84.0M129.3 804.84h84.0M129.3 819.75h84.0M129.3 372.3v447.4M157.3 372.3v447.4M185.3 372.3v447.4M213.3 372.3v447.4" stroke="#8a8a94" stroke-width="1.6" fill="none"/><text x="148.8" y="830.0" font-family='"Liberation Serif", serif' font-size="15.2" font-weight="bold" text-anchor="end" transform="rotate(-45 148.8 830.0)">cluster1</text><text x="180.3" y="830.0" font-family='"Liberation Serif", serif' font-size="15.2" font-weight="bold" text-anchor="end" transform="rotate(-45 180.3 830.0)">cluster2</text><text x="209.4" y="830.0" font-family='"Liberation Serif", serif' font-size="15.2" font-weight="bold" text-anchor="end" transform="rotate(-45 209.4 830.0)">cluster3</text><path d="M81.0 412.9V683.6M81.0 412.9H103.4M81.0 683.6H84.3M103.4 386.9V438.3M103.4 386.9H125.7M125.7 379.8V394.7M125.7 379.8H129.3M125.7 394.7H129.3M103.4 438.3H120.3M120.3 409.6V466.4M120.3 409.6H129.3M120.3 466.4H124.2M124.2 431.7V500.8M124.2 431.7H129.3M124.2 500.8H126.5M126.5 477.0V525.0M126.5 477.0H129.3M126.5 525.0H127.8M127.8 484.2V551.0M127.8 484.2H129.3M128.5 520.0V543.8M84.3 596.4V770.1M84.3 596.4H118.6M84.3 770.1H97.6M118.6 570.7V623.0M118.6 570.7H125.5M125.5 558.7V585.0M125.5 558.7H129.3M125.5 585.0H127.5M127.5 573.7V588.6M127.5 573.7H129.3M127.5 588.6H129.3M118.6 623.0H124.6M124.6 603.5V640.0M124.6 603.5H129.3M124.6 640.0H126.5M126.5 618.4V655.0M126.5 618.4H129.3M127.8 640.0V678.1M97.6 735.2V804.8M97.6 735.2H125.1M97.6 804.8H114.3M125.1 710.0V761.0M125.1 710.0H127.0M127.0 693.0V722.0M127.0 693.0H129.3M125.1 761.0H127.0M127.0 752.6V775.0M127.0 752.6H129.3M128.3 700.0V737.7M128.3 765.0V782.5M114.3 797.4V812.3M114.3 797.4H129.3M114.3 812.3H129.3" stroke="#000" stroke-width="1.6" fill="none" stroke-linecap="square"/></g>
<g id="DE"><text x="451.7" y="263.6" font-family='"Liberation Serif", serif' font-size="27.5" font-weight="bold">D</text><text x="395.6" y="529.0" font-family='"Liberation Serif", serif' font-size="27" font-weight="bold">E</text><defs><path id="trj" d="M632.2 282.2L631.1 291.8L630.0 300.4L626.3 302.5L623.1 306.2L618.8 305.7L616.2 302.5L613.5 296.1L611.4 290.8L609.8 288.1L606.1 290.8L601.8 292.9L600.2 298.2L598.1 303.0L594.3 300.4L591.7 297.2L590.6 292.9L587.4 289.7L585.3 284.4L583.1 281.7L580.5 281.2L577.3 282.8L573.0 281.7L569.8 280.1L566.6 282.8L562.3 283.8L558.1 282.2L555.9 278.0L554.9 272.6L553.8 267.3L552.2 264.1L551.7 259.9L548.5 259.3L545.3 258.3L543.7 256.1L540.0 256.7L536.8 258.8L536.2 263.0L535.7 267.3L532.5 268.9L529.3 270.0L526.1 272.1L525.0 274.8L525.6 278.0L522.9 281.2L519.2 282.8L516.5 286.5L514.4 290.8M532.0 268.6L530.6 265.2L529.8 260.4L528.2 258.3L524.0 259.3L521.8 262.0L519.7 266.8L516.5 268.4L511.2 271.6L504.8 273.7L499.4 275.8L496.2 279.0L494.1 281.2L494.6 284.4L496.8 286.5L496.2 289.2L493.6 290.8L492.0 294.0L489.9 298.2L486.7 302.5L483.5 306.8L480.8 312.1L477.6 315.3L474.9 318.5L474.4 323.8L474.4 328.1L473.3 332.3L472.6 336.6L472.3 340.9L474.9 345.1L477.6 349.4L481.3 352.1L484.0 354.2L486.7 357.9L488.3 362.2L491.4 365.4L495.2 366.5L497.3 368.6L498.9 370.7L500.5 373.9L502.6 370.7L505.8 369.1L509.0 370.7L512.2 373.9L515.4 375.5L518.1 377.1L518.4 382.5L519.7 386.7L522.9 388.8L527.2 387.8L529.3 384.6L529.8 380.3L532.5 376.1L534.6 371.8L537.8 370.2L542.1 370.2L545.3 372.3L548.0 375.5L550.6 378.7L553.8 381.4L555.9 383.5L556.6 383.5L559.9 382.3L562.8 379.8L563.6 376.5L561.6 373.2L558.7 370.7L557.4 367.4L558.7 364.0L560.7 363.2L563.2 364.9L564.9 369.0L567.4 372.3L571.5 374.4L574.8 374.8L576.5 373.2L576.9 369.0L578.6 365.7L581.5 364.2L583.9 365.7L584.4 369.9L585.2 374.8L587.3 380.6L589.8 386.4L591.8 391.4L593.5 397.2L594.3 401.8L597.2 401.8L600.5 400.9L602.6 403.0L603.0 408.0L602.6 413.0L603.4 417.9L604.7 422.9L606.3 426.2L606.3 430.4L605.1 434.5L603.4 439.5L601.4 443.6L600.1 447.8L599.7 452.8L599.3 457.3M497.3 368.6L495.7 371.3L494.1 373.4" fill="none" stroke-linejoin="round" stroke-linecap="round"/></defs><path transform="scale(.1)" d="M5539 2424zm12-3zm31 1zm5 6zm28 1zm431 29zm-39-4zm-28-12zm-47 9zm-9 0zm-8 5zm-275-10zm-4 12zm-2-9zm-45-9zm-10-3zm-35 11zm-2-10zm-22 14zm-2-2zm-19 24zm10 2zm18-15zm12 24zm53-4zm27-9zm16 6zm43-6zm14 0zm0 10zm9-6zm146-6zm34 4zm32-5zm22 7zm20 1zm62 9zm21 0zm19-10zm123 30zm-13 13zm-10-14zm-49 6zm-12-1zm-5 3zm-19 6zm-27-2zm-3-4zm-23-19zm-8 12zm-14-3zm-64 16zm-22-1zm-6 0zm-14-12zm-14-13zm-1-2zm-38 17zm-5 10zm-7-10zm-4-4zm-9 12zm-20-4zm-3-14zm-5 18zm-6-14zm-3-12zm-26 25zm-8-19zm-12 15zm-2 1zm-37-7zm-3-8zm-36 22zm-4-28zm-7 23zm-30-10zm-30-8zm-1-3zm-8 7zm-14-2zm-24 4zm-5-7zm-6 8zm-23 0zm-2 25zm6 15zm9 5zm8-19zm16 12zm30 8zm12-2zm2-13zm6-11zm39 9zm34 5zm22 11zm15-1zm37-1zm7-18zm1 6zm20 12zm2-18zm4 3zm3-5zm18-4zm3 24zm14-19zm3 3zm9 0zm2 12zm32-8zm25 14zm12-3zm9-13zm11 5zm13 5zm100-21zm1 23zm17-19zm30 14zm68-4zm8-15zm19 24zm39-3zm13-17zm20 17zm45 25zm-60-1zm-49-7zm-7-7zm-8 8zm-25 2zm-54-7zm-14 18zm-18 1zm-6-1zm-60-7zm-6-10zm-16 16zm-5-21zm-6 23zm-1-22zm-20 4zm-5 14zm-10 7zm-6-26zm-17 25zm-37-8zm-6-16zm-11 12zm-31 3zm-10-9zm-80-1zm0 4zm-17-2zm-5-7zm-12 4zm-10 21zm-11 3zm-23-5zm-9-20zm-10 25zm-37-15zm-11 3zm-8 5zm-30 5zm-15 0zm-2 0zm-15-24zm-1 24zm-20-7zm-4 8zm-2-6zm-7 20zm16 15zm23-10zm27-6zm6-2zm9 20zm9-13zm25-5zm11 2zm5-5zm0 16zm0 1zm18-23zm93 6zm20 20zm14 1zm1-26zm21 26zm34-21zm14 18zm11 3zm13-26zm26 25zm12-5zm1-20zm0 24zm9-10zm23-14zm3 25zm43-5zm7-4zm23-9zm11-3zm5 9zm8 3zm11 9zm15-26zm4 19zm0-8zm29-6zm1 4zm6 8zm49-10zm13 2zm1 10zm57-3zm13-2zm25 7zm8 2zm29-5zm3-5zm1 0zm17-4zm16-4zm21 11zm4-4zm18 14zm36 30zm-4-6zm-10-5zm-14-3zm-15 5zm-2-13zm-30 10zm-85-5zm-1-7zm-11 17zm-19-7zm-4-14zm-11 17zm-11 5zm-7-6zm-29 4zm-1 7zm-2 1zm-27 0zm0-4zm-3-22zm-9 0zm-4 15zm-65-2zm-17 14zm-43-14zm0 3zm-3-4zm-1 7zm-15 2zm-1-11zm-13-3zm-45 16zm-1-21zm-34 22zm-18-1zm-15-4zm-58-14zm-3-1zm-7-5zm-20 6zm-17-2zm-5 14zm-1 3zm-17-11zm-5 8zm-23-11zm-21 10zm-84 6zm-2-17zm-24 15zm-30-18zm-31 22zm-17-1zm-13-9zm9 33zm4-17zm3 15zm10-15zm6 19zm27 8zm5-13zm45-8zm6 13zm26-9zm10-5zm29 5zm3-9zm16 8zm1 13zm10-24zm64 2zm28 26zm23-11zm6 12zm19-18zm58 14zm9-12zm11 15zm1-20zm4-7zm11 4zm2 3zm1 3zm9 1zm21 3zm53-8zm20 4zm17 10zm26-1zm29-6zm91 11zm19-12zm3 1zm29 6zm0-6zm19 11zm1 2zm13-12zm23-5zm81 7zm8 1zm12 3zm12-11zm10 9zm4-19zm3 12zm19 16zm18 26zm-12-16zm-7-6zm-4-2zm-9 13zm-18-2zm-45-8zm-2 13zm-3-12zm-9 23zm-34-16zm-16-11zm-3 12zm-21-2zm-18 18zm-12-8zm-11 2zm-25-14zm-28 16zm-26-10zm-13 9zm0-19zm-1 17zm-35 5zm-1-23zm-30-1zm-7 13zm-17-7zm-19 6zm-31 13zm-1-8zm-1-19zm0 22zm-12-2zm-38 2zm-2-7zm-18-4zm-4 2zm-13-2zm-29 14zm-8-23zm-12-1zm-5 4zm-8 9zm-17-10zm-50 23zm-56-7zm-15-2zm-4 8zm-15-11zm-11 8zm-22-6zm-1-16zm-16 10zm-17-3zm-15-5zm-31 13zm-14-14zm-9 15zm-5-11zm-1 13zm-18-15zm-18 13zm-7 11zm-5-4zm-7-23zm-3 19zm-10 2zm-4 2zm-3-1zm-2-13zm-13 17zm23 31zm15-22zm5 0zm1 23zm1-9zm7-2zm9 8zm5-9zm19-10zm8-5zm1-1zm39 1zm5 5zm11 19zm6 1zm44-8zm14-2zm2 7zm3-17zm8 1zm0 5zm51 1zm7 15zm20-12zm15-12zm61 23zm25-1zm6-15zm32 17zm7-18zm1 16zm6-7zm9-15zm34 12zm3-7zm4 11zm2-2zm1-18zm26 22zm21-16zm51-5zm5-2zm12 5zm1 22zm20-5zm3-17zm64-5zm5 5zm2 21zm4-4zm22-1zm2 1zm2-3zm20-3zm10-5zm18 18zm63-14zm41 6zm66 1zm37 4zm4-16zm3 36zm-11 4zm-40-5zm-18 11zm-99-23zm-31 4zm-4 20zm-32-24zm-26 7zm-10 10zm-1-18zm-2 26zm-12-6zm-5 6zm-6-18zm-20 16zm-7-24zm-16 6zm-18-7zm-39 17zm-88-14zm-7 0zm-28 14zm-13-8zm-19 15zm-33-12zm-18-6zm-7 19zm-38-19zm-12-6zm-28 23zm-51-23zm-16 8zm-8 2zm-2 11zm-11 6zm-2-4zm0-5zm-12 1zm-47-16zm-2 7zm-19 17zm-10-24zm-7 15zm-5 4zm-13-9zm-63 13zm0-22zm-22 11zm-24 0zm-26-15zm-32 45zm24 9zm22-24zm0 4zm4-4zm18 12zm21 10zm17-6zm1-4zm27 6zm19-14zm29 17zm6-7zm1 7zm3-12zm1-2zm13 12zm11 9zm37-13zm4-13zm13 25zm24-3zm18 3zm3-2zm11-1zm2-8zm53-3zm19-4zm30 16zm9-26zm17 17zm8 1zm24-16zm2 14zm1-16zm35 9zm6-7zm54 5zm22-7zm43 18zm16-10zm28 1zm18-9zm4 1zm15 4zm4 2zm0-3zm5 19zm8-12zm16 11zm6-5zm8-10zm4 2zm5 4zm6-7zm23-4zm39 18zm11 7zm2-15zm10-12zm5 0zm1 22zm55-19zm7 13zm21 3zm0-15zm42 13zm14-1zm32 13zm12-12zm-9 27zm-24 13zm-3-26zm-7 16zm-9-8zm-2 10zm-9-5zm-4-10zm-12 1zm-14 4zm0 6zm-14 7zm-5-15zm-8 14zm-9-6zm-4 8zm-14 0zm-13-5zm-3 8zm-7 3zm0-13zm-14 6zm-17-4zm-14-14zm-36 15zm-49-2zm-33-12zm-2 10zm-22 2zm-4 12zm-19-1zm-3-7zm-24-3zm-7-2zm-9 13zm-26-13zm-45 4zm-24-8zm-11 15zm-12-26zm-54 13zm-74-11zm-7 16zm-24-2zm-33 5zm-20-9zm-12 5zm-7 8zm-22-24zm0 21zm-3-2zm-1-8zm-23 10zm-16-22zm-31 9zm-17 6zm-8-14zm-25 24zm-55-7zm-38 6zm-17-22zm-13-2zm-3 5zm-3 3zm-26 1zm30 22zm14 5zm12 1zm8 18zm40-16zm8 7zm5 0zm1 3zm28-20zm5 14zm10 9zm49-23zm11 16zm49-3zm6-11zm3-2zm61 27zm3-20zm30 6zm22 14zm57-16zm9 14zm2-11zm0-1zm45 10zm17-22zm7 27zm2-26zm51 3zm7 9zm0 9zm24-14zm6-1zm33-1zm74 19zm8 0zm0 1zm15-11zm3-3zm26-13zm13 12zm13-1zm16 10zm27-7zm7 12zm36-16zm2-7zm20-3zm6 24zm4-2zm25-11zm13 4zm8-14zm3 12zm3-13zm84 14zm6-9zm3-4zm4 52zm-1-17zm0 8zm-2-1zm-11 2zm-55-15zm-14 26zm0-18zm-13 16zm-13-8zm-14-10zm-31 4zm-22 17zm-17-25zm-4 4zm-24 16zm-21-8zm-3 12zm-12-1zm-1-20zm-4 19zm-3 3zm-6 2zm-56-6zm-40-12zm-24 11zm-53-21zm-56 22zm-13-21zm-27 6zm-17 11zm-1-10zm-12 7zm0 2zm-15-14zm-7 24zm-23-26zm-25 2zm-19 24zm-16-25zm-41 20zm-6-8zm-27 13zm-6-25zm-10 7zm-16-10zm-128 17zm-16-14zm-36 10zm-38 15zm-3-19zm-17 5zm-41-3zm-5-6zm-2 12zm24 26zm6 2zm15-12zm9 20zm2-20zm47 12zm3-12zm10 26zm1-4zm22-2zm216 2zm29 2zm4-13zm4 3zm14-8zm3-4zm46 6zm1 2zm7 13zm9-22zm1 3zm4 14zm21 0zm5-21zm16 8zm4-8zm5 3zm5 13zm14 5zm8-2zm21-19zm6 10zm4 12zm25 4zm4-2zm6-20zm14 5zm4-7zm8 22zm9 0zm11-1zm2-18zm16-4zm13 15zm7 0zm1-16zm8 19zm4-5zm39-11zm45 21zm16-13zm0 0zm22 5zm3-15zm7 10zm0 1zm1 10zm47-8zm3 6zm1 6zm8-9zm2-11zm11 17zm37-9zm17 12zm15-5zm6-14zm10 0zm3 16zm12 6zm10-5zm18 5zm-15 26zm-26-22zm-12 6zm-4-9zm-2 9zm-10 4zm-12-13zm-5 9zm-38 19zm-10-11zm-1 0zm-22 7zm-63-14zm-15-4zm-21 5zm-7 14zm-12-14zm-11 3zm-4 15zm-26-8zm-1-6zm-35 10zm-7-20zm-15 9zm-5 7zm0-19zm-25 4zm-23-5zm-1 3zm-21 1zm-8 15zm-3-19zm-80 14zm-9-12zm-36 10zm-14 7zm-1-3zm-19 8zm-9-22zm-11 23zm-13-3zm-9-7zm-269 4zm-17-15zm-4 24zm-8-2zm-1-20zm-14 17zm-26-21zm-28 34zm40 1zm18 21zm22-20zm12-3zm290-6zm2 3zm63 11zm2-8zm9 14zm1-9zm9 2zm49 11zm9-2zm20 7zm53-20zm15 2zm12 8zm11-12zm15-1zm34 15zm5-14zm24 4zm13-7zm16 14zm52-11zm34 19zm23-18zm20 4zm2 2zm3-7zm19 17zm17-23zm12 6zm2-6zm14 24zm2-7zm7-8zm13 14zm10-9zm12-1zm2 12zm7-13zm-6 33zm-50-13zm-10 7zm-14 6zm-15 11zm-89-5zm-5-4zm-18-17zm-23 20zm-5 6zm-11-1zm-27-25zm-5 14zm-1-11zm-17 21zm-47-7zm-8-1zm-7 8zm-1-24zm-22 28zm-35-12zm-25-10zm-8 19zm-9-22zm-27 20zm-25 5zm-2-16zm-19 12zm-14-11zm-408-9zm413 52zm35-26zm8 20zm99-17zm29 25zm5-24zm5 5zm11 0zm13 3zm1 0zm5 15zm28-14zm25 7zm1-8zm4 8zm11 2zm5-23zm17 12zm5 11zm3-12zm16 8zm14-5zm5-9zm28 1zm15 1zm28-3zm5 12zm41 12zm7-10zm5-10zm1-6zm0 23zm9-11zm37-11zm-28 27zm-10 10zm-20-1zm-39-5zm-23 3zm-22 16zm-5 3zm-24-8zm-22-8zm-10 1zm-19 10zm-22-11zm-6-1zm-5 0zm-10 10zm-1 6zm-2-23zm-11 1zm-7 13zm-10-2zm-34 15zm-1-28zm-6 26zm-22-12zm-18 1zm-6-14zm-53 5zm-31 5zm-32-9zm-9 18zm-5 2zm-22 27zm61-13zm25 15zm1-4zm10-18zm13 19zm33 2zm48-7zm13 7zm8-11zm19 8zm0 6zm11-19zm25 24zm14-18zm77-6zm44 42zm-9-5zm-12 9zm-3-8zm-35 15zm-3-25zm0 15zm-5 8zm-5-12zm-1-14zm-1 4zm-27 24zm-26-5zm-6 0zm-13-16zm-29 1zm-22 12zm-32-7zm-11 0zm-36 2zm-19-13zm-13 21zm-15-23zm-50 4zm-13 25zm-9-24zm-24 17zm-9-14zm-14 17zm-10 13zm25 15zm28 4zm4 0zm11-6zm6 6zm26 2zm6-8zm54-12zm1 1zm89-10zm1 9zm16-2zm3 8zm47 14zm3-15zm11-3zm75 3zm22 3zm8-6zm8-10zm1 10zm195-1zm-240 28zm-11 9zm-22 9zm-155-4zm-9 5zm-3-2zm-5-13zm-68-3zm-1 14zm-2-8zm-17 3zm-5-17zm-2 23zm-13-18zm-5 16zm-11 7zm-13 0zm-19-3zm-8-13zm-29 12zm83 23zm4 5zm18-2zm8-3zm21-18zm25 28zm48-25zm140 11zm4 2zm18-12zm2 23zm6-27zm3 3zm13 9zm17 3zm-58 17zm0 12zm-145-4zm-1-6zm0 10zm-32 2zm-1-13zm-7 13zm-3-11zm-8 5zm-1 3zm-38-11zm-3 5zm-13 6zm-16-6zm-12-4zm-14-3zm-48 17z" stroke="#f4776d" stroke-width="15" stroke-linecap="round" fill="none"/><path transform="scale(.1)" d="M5288 2538zm9 40zm-14-9zm-2 4zm-21-3zm-15 6zm-22-5zm-20 14zm19 24zm2 0zm17-10zm1-1zm2-4zm3-12zm0 8zm8-9zm4 25zm0-8zm5-14zm1 9zm3-4zm5-7zm8 3zm19 12zm1-15zm18 21zm3 14zm-19 0zm-2 11zm-4 2zm-1-17zm-7 10zm-1 8zm-37-13zm-26-6zm-1 11zm-3 1zm-7 9zm-1-1zm-3 1zm-7-3zm-21 3zm-57-12zm43 48zm3-3zm1 3zm12-2zm3-7zm5-5zm15-12zm2 11zm2 0zm3 2zm94 2zm6-17zm7 28zm-6 6zm-14 10zm-3-14zm-80 3zm-6-1zm-25 20zm0-10zm-4 4zm-11-3zm-1-6zm-3 3zm-2 3zm-6 8zm-3 0zm-3-17zm-22 22zm-1-17zm-15 18zm-95-6zm-122 3zm-70 10zm51-2zm21 26zm4-20zm6 18zm3-11zm7 12zm10-17zm33 2zm46 15zm19-3zm26-7zm3 9zm9-2zm0-5zm9 4zm4-12zm6 10zm4-1zm5-1zm0-2zm7-10zm2 3zm3-1zm0 8zm1-2zm1 9zm5-18zm14 15zm0-18zm5 25zm3-16zm8-4zm44-4zm127 38zm-191-12zm-35 17zm-14-5zm-3-7zm-2-4zm-16 13zm-5-6zm-5 2zm-1-1zm-3 8zm0-5zm-5 4zm-6 5zm-17-19zm-1 13zm-14 8zm-6-2zm-4 1zm-46-7zm-1 11zm-9-20zm-7 15zm-2-16zm-6 12zm-6-1zm0-11zm-1 23zm-4-3zm-2-22zm-5 18zm-1 7zm-1-6zm-9 6zm-4-11zm0-8zm-4 15zm-7-8zm-4-1zm12 17zm0 0zm1-3zm2 0zm3 10zm3-1zm2-1zm2 7zm1 10zm4-22zm9 23zm2-19zm6 9zm11-1zm5 14zm17-8zm0-7zm5 8zm8 6zm7-16zm0-3zm5 20zm1-20zm8 15zm0-3zm2-18zm0 16zm2 9zm6-22zm4 12zm3-15zm1 3zm6-3zm22 18zm7-19zm86 19zm158 6zm14 2zm26-7zm-8 30zm-25-15zm-27 0zm-34 18zm-246-19zm-7-1zm-19 16zm-1-15zm-6 11zm-9 8zm0-7zm-2-14zm-2 15zm-9 0zm-9-11zm-1 2zm-9-9zm22 55zm8 0zm2-23zm7-3zm2 0zm0 17zm5-2zm1 13zm29-9zm7-10zm218 16zm41-8zm8 12zm5-11zm4-7zm7-10zm7 14zm3 2zm1-17zm3 9zm0-8zm11 24zm43 9zm-3-2zm-15 26zm-13-4zm-3-16zm-6-8zm-7 19zm-20 8zm-7-5zm-16 3zm-7-24zm-256 20zm-3-2zm-14 0zm-9-1zm-3-17zm-3 0zm-8 19zm-2-13zm-6 18zm-19-4zm-1-2zm14 35zm7-6zm9-12zm11-2zm5 9zm8 11zm267-5zm1-11zm12 9zm3 3zm5-8zm39-10zm12 26zm4-24zm16 15zm-21 26zm-349-11zm-8 8zm-3-12zm-5 8zm-2 21zm-3-7zm-3-16zm-2 2zm-1 19zm-2-23zm-6 10zm-6-2zm-71 35zm44 9zm5-20zm5 23zm8-5zm1 3zm5-2zm1-22zm4 15zm8-17zm-18 53zm-9-13zm-2-1zm-2-3zm-3 6zm-11 13zm0-18zm-70 24zm26 11zm4 1zm22 12zm4-2zm8-12zm1-12zm2 19zm4-3zm0-6zm-46 32zm-12 12zm-22-17zm18 49zm1-25zm2 11zm10-6zm4 17zm2-20zm5 16zm2-6zm6-11zm19 55zm-53-6zm-8-2zm-3 9zm-3-23zm-4 20zm-31-21zm-51 13zm23 38zm33 2zm7-14zm5-4zm4 20zm14-11zm2-6zm5-7zm1 1zm2 7zm67 41zm-47-7zm-57-4zm-5-5zm-1 7zm-3-1zm-4-7zm-4 11zm-5 7zm-3-25zm-4 26zm-5-3zm0 5zm-7 0zm-12 15zm15 0zm3-5zm2-8zm1 27zm1-25zm1 14zm2 1zm0 7zm2-6zm6-2zm7-9zm54 10zm-73 21zm-2-6zm0 25zm0-16zm-2-4zm-3 21zm-11-10zm-3-14zm-5 16zm1 16zm10 17zm5 0zm1-14zm4-1zm6 8zm5-11zm33 29zm-41 6zm-2 12zm-7-13zm-30 31zm14 14zm7-18zm3 19zm1-2zm0-9zm1-12zm13 5zm0 21zm0-23zm1 1zm0 34zm-10 3zm-1-10zm-1 21zm-5-3zm-4-11zm-1 4zm-18-11zm-2 54zm9-7zm2-5zm0-11zm9 5zm5 15zm0-6zm937 9zm14-4zm2 4zm22-1zm-11 9zm-10-5zm-1 3zm-2 1zm-13-3zm0 1zm-3-2zm-8 10zm-2-1zm-6-3zm0 6zm-1-6zm-5 12zm-4 1zm-6 10zm-894-5zm-3-11zm-3-12zm-2 23zm0-11zm-5 2zm-5 6zm-9 2zm-5 21zm7-4zm0-6zm14 2zm11 6zm1 11zm9-7zm14 4zm16-4zm826 0zm3 9zm11-4zm1-20zm5 12zm-17 17zm0 4zm-4 10zm-6 8zm-837 0zm-1-7zm-10-7zm-2-1zm-1 16zm-1-2zm-2 0zm-20-9zm11 32zm12-7zm0 16zm5-19zm0 18zm5-11zm3 3zm2-11zm7 5zm6 1zm806 16zm4-18zm3 19zm1-5zm0 1zm-14 18zm-2-2zm0 11zm-714 10zm-5-4zm-2-1zm-5-24zm-15 15zm-1 12zm-2-2zm-1 4zm-4 0zm-4-15zm-2-4zm-2 0zm-1 8zm0 5zm-3-20zm-10 23zm-6-13zm-1-6zm-6 12zm-2-19zm-2 0zm-2 0zm-3 3zm-6 21zm-18-10zm-47 24zm40 21zm7-2zm5-9zm1 2zm0-11zm1 19zm2-23zm2 4zm4 15zm3-18zm0 5zm3 0zm1-5zm3-3zm3 11zm1 5zm14-3zm1 4zm3-20zm2 22zm8 3zm11 0zm24 2zm4-26zm4 2zm696 26zm8-12zm3-6zm-13 35zm-658 3zm-21-1zm-2 9zm-2-8zm-1 6zm-2-10zm-4-14zm-39 1zm-23 24zm-2-6zm-1-9zm-1-4zm0 6zm-1 9zm-1-20zm-4 7zm-2-8zm0 28zm-6-27zm-1 0zm-1 9zm-2 5zm-4-15zm-1 24zm0-5zm-4-17zm-4 4zm-1-4zm0 19zm-3-12zm-3-10zm-1 20zm-1-16zm-1 8zm-4-7zm-15 0zm-5 18zm0-14zm14 26zm18 1zm8 4zm1-6zm10 23zm28-6zm48-11zm2-10zm7 11zm4-9zm1-1zm4-1zm2 9zm4 8zm9 3zm6-2zm683 11zm5-2zm17-13zm58 18zm-1 25zm-18-5zm-5-2zm-4-13zm-1 16zm0 0zm-1-15zm-2 8zm-1 9zm-3-1zm-3-10zm-1 5zm-7-11zm-6 3zm0 12zm-8-18zm0 17zm-1 0zm-1-20zm-5 14zm-2 13zm-1-4zm-7-13zm-2 6zm-2-1zm-610 8zm-20 0zm-3-5zm-7 2zm-3 5zm-2-14zm-7-9zm-1 17zm-7-8zm0 0zm-1 1zm0 15zm-11-23zm-2 4zm-5-5zm-8 12zm-7-17zm-103 2zm120 28zm14 3zm2 10zm1-6zm10-5zm6-2zm7 19zm1-7zm5-8zm5 9zm5 5zm8-2zm10 9zm1 2zm18 0zm69 2zm2-3zm11 0zm298 2zm190-4zm7-13zm0 6zm9-1zm4 6zm0-20zm2 19zm1-20zm1 26zm1-22zm4 9zm0 5zm0-19zm1 18zm1 1zm9-16zm4 7zm13-1zm3-5zm7-1zm2 1zm2 16zm1-18zm0 18zm2-12zm5-6zm1 9zm2-8zm1 12zm3 4zm19-5zm2 1zm3-2zm-9 29zm-2-11zm-2 12zm-26 6zm-2 8zm-4-10zm-1-7zm-2 8zm-3-13zm-7 9zm0-5zm-1 12zm-3-15zm-3 4zm-8 19zm-2-11zm-2-14zm-1 20zm0-23zm-3 15zm-1 4zm-4-11zm-2-6zm-2 6zm-2 7zm-1 5zm-2-16zm-3-4zm-2 8zm-96 11zm-28-5zm-7-8zm-1 20zm-1 1zm-2-19zm0-1zm-5 4zm-3 5zm-3 7zm0-16zm-6 1zm-2 18zm-3-22zm-23 9zm-2-12zm-1 19zm-3-12zm-13-1zm-1-6zm-7-1zm-12 5zm-12 18zm-12 1zm-111-1zm-10-8zm-24-1zm-5 6zm-6-5zm-9 2zm-55 9zm-9-13zm-2 11zm-1 0zm-2-11zm-2-7zm-8 12zm-3-8zm-2 9zm0-6zm-2 1zm-7-11zm-1 24zm-1-16zm-7 5zm-3 0zm-2-3zm-8 10zm-3 5zm-8-17zm-1 9zm-1 6zm-3-21zm-2 11zm-2-2zm-2-3zm-1 11zm-1-14zm-2 18zm-15-20zm-2 5zm-7 3zm-1-14zm-4 4zm-7-1zm-3 12zm0-8zm-3 19zm-9-5zm-2-21zm0 2zm18 45zm4 6zm6-23zm7 14zm2 1zm4-5zm1-1zm5-9zm3 4zm1-5zm1 20zm4-16zm1 0zm10 19zm60-19zm1 11zm2-15zm1 2zm8 7zm9 18zm6-6zm5-4zm0-10zm11 16zm2-19zm1 16zm4-18zm0 14zm1 7zm4-13zm5 15zm9 1zm2-16zm19 12zm7 6zm2-22zm2 11zm15-14zm3 13zm1-5zm32-8zm3 14zm66 8zm2-22zm4-2zm6 8zm5 17zm3-10zm3-14zm3 2zm7-3zm16 5zm19-4zm46 11zm6-7zm3 18zm1-4zm1-17zm12-1zm2 25zm3-27zm0 23zm2-7zm5 0zm1-9zm5-1zm4 0zm2 12zm5 8zm0 2zm2-2zm0-14zm9 8zm9-6zm83-1zm3 7zm6-17zm1 7zm0-2zm4 8zm6 0zm2-4zm0-10zm0 13zm4-3zm22 4zm2 11zm12-23zm0 30zm-8-1zm-4 3zm-8 20zm-1-18zm-2 1zm-2 10zm-1 9zm-4-19zm-109 11zm-1 6zm-6-12zm-6 1zm-4 9zm0-16zm-1 11zm-2-8zm-3 9zm-1-20zm0 10zm-3 3zm0-13zm-2 7zm0-5zm-4 24zm-2-21zm-4-5zm-1 1zm0 20zm-2 8zm-1-24zm-2-5zm0 22zm-3-19zm-4 3zm-14 13zm-9-16zm-20 2zm-4-2zm-52 5zm-14 2zm-4-6zm-2-3zm-3 21zm-2-13zm-3-4zm-3 19zm-1 3zm-2-26zm-4 5zm-11 17zm-23 6zm-12-29zm-18 14zm-5-4zm-4-10zm-10 2zm-6 24zm-5-14zm-17-10zm0 27zm0-4zm-1-16zm-6-3zm-3 4zm-5-1zm-1 12zm-1-17zm-2 9zm-1 13zm-4-12zm-1 12zm-7-9zm-3 2zm-1-3zm0-7zm0 5zm-1-2zm-2 17zm-3-9zm0 1zm-2-18zm-1 14zm-1-10zm-2 21zm-1-15zm-2-5zm-4 17zm-5-24zm-9 4zm-1 4zm0-1zm-4-3zm-6 1zm-6 12zm-47 6zm-27-8zm-57-11zm-4-4zm-39 58zm20-13zm28 6zm22-19zm3 13zm20-9zm8 15zm75-19zm18 8zm13-9zm14 23zm2-1zm3 5zm0-20zm2 4zm2-3zm3 19zm5-13zm1-2zm4 10zm2-22zm13 9zm10 3zm19-2zm2 15zm8-24zm6 10zm12 15zm23 0zm5-13zm7 5zm1 3zm5-17zm3 7zm4 3zm112-5zm13 15zm1-13zm6-7zm7 6zm3 1zm1-8zm1 4zm2 5zm1 10zm2-15zm1-5zm12 7zm0 16zm9-17zm1-10zm5 8zm2 21zm7-17zm5-10zm3 8zm0 7zm6-11zm0 8zm19-3zm45 4zm16 12zm9-10zm6-15zm0 4zm4 1zm1 21zm13-12zm10-14zm0 3zm0 13zm4 4zm-4 11zm-10 26zm-3-14zm-20 2zm-5-9zm-9 10zm-3-11zm-1 19zm-1-19zm-5 10zm-3 1zm-25-16zm-1 5zm-1 4zm-1-1zm0-3zm-2 9zm-6-8zm-14 7zm-27-8zm-41 0zm-11 2zm-53 20zm-83-5zm-10 3zm-8-21zm-1 0zm-11 17zm-1 0zm-5 6zm-88-22zm-1 1zm-2-2zm-33-3zm-84-2zm-20 18zm-12-6zm0 1zm-1 15zm-3-11zm-21 2zm-9-18zm-16 21zm-11 1zm-1-12zm-3-12zm-21 17zm-5-16zm-7 21zm-6-1zm-26-10zm21 41zm23-21zm10 15zm7-15zm0 7zm3-4zm6 19zm2-15zm8-6zm3 23zm4-6zm1-15zm8 4zm1 14zm15 5zm5-26zm1 20zm1-13zm3 1zm2 18zm5-6zm2-5zm24-13zm123 8zm2 7zm5-12zm7 16zm2-1zm0-3zm10-16zm3 16zm5-13zm8 24zm17-4zm16-8zm5 9zm10-26zm9 6zm4 22zm1-15zm4-8zm60-5zm52 10zm1 5zm14 12zm27 1zm2-26zm60 0zm8 12zm28 4zm11-13zm4 0zm-22 26zm-88 11zm-5 15zm-8-6zm-6-2zm-7 5zm-2-20zm-22 20zm-2-18zm-2 4zm-1 16zm-51-5zm-64-12zm-9-4zm-1 8zm-3 0zm-1-12zm-10 2zm0 15zm-3 5zm-7-21zm-13 5zm-7 6zm-3 2zm-6 10zm-5-22zm-45-3zm-90 28zm-5-16zm-8-2zm-32-1zm-4-5zm-28 14zm-1-1zm-2-11zm-5 4zm-5-10zm-3 2zm-5-1zm-51 4zm13 29zm37 18zm8-19zm12 7zm1-8zm2 11zm17-4zm18-9zm4 1zm195 3zm59 3zm40 21zm17-18zm5-4zm2 13zm17-7zm3 7zm1-3zm0-10zm1-2zm1 15zm8-14zm3 4zm2 15zm6-21zm5 21zm15 5zm6-18zm6-5zm1 21zm1-11zm29 11zm-16 26zm-3-21zm-2 24zm-10-1zm-8-19zm-11-4zm-1 27zm0-25zm-1-3zm-1 21zm-1-4zm-4 1zm-4-7zm-3-10zm-14 2zm-2 7zm-10 0zm-4 10zm-6-6zm-31-10zm12 35zm31-9zm2 15zm4-9zm13-2zm1-5zm12 4zm14 7zm22 28zm-28 35z" stroke="#619cff" stroke-width="15" stroke-linecap="round" fill="none"/><path transform="scale(.1)" d="M5946 3565zm3 1zm16-4zm24 29zm-14-1zm-5 3zm-12-18zm-7 13zm-5-6zm-7 16zm-164-5zm0 34zm30-12zm20 7zm2-4zm10-4zm14 10zm63-22zm9-2zm3 8zm7 4zm3-5zm6-6zm2 28zm11-21zm0-4zm3 0zm8 7zm-8 35zm-88 10zm-10-11zm-1-13zm-11 14zm-28-14zm-3 9zm-1 2zm-30 14zm-3-14zm-9-3zm-6 7zm-85 3zm-25 1zm3 35zm73-5zm16 7zm0-23zm9 2zm55 12zm1 5zm1-20zm37 16zm2-7zm2 2zm14 7zm12-11zm45-11zm58 13zm13 16zm7-8zm15-5zm25 10zm8-1zm23 6zm-25 5zm-4 3zm-3 8zm-10-2zm-8 11zm-5-25zm-5 3zm-1 19zm-7 1zm-11-13zm-8 6zm-74 3zm-34-20zm-2 3zm-16-3zm-7 9zm-4 19zm-38-12zm-5 3zm-12-11zm-7 17zm-6-18zm-9 22zm-4-13zm0-4zm-32-9zm-2 22zm-4-7zm-19-6zm-19 4zm0 0zm-9-16zm-25 10zm-5 1zm-35-3zm-24 20zm32 18zm24-10zm27 8zm10-3zm23-4zm4 13zm1-17zm22 0zm26 10zm6 0zm9 7zm64-12zm1 1zm0 8zm4 2zm6 0zm11-9zm22 12zm18-4zm92 1zm14-17zm-114 48zm-11-18zm-1 3zm-16 4zm-10-8zm-3 3zm-2-1zm-18 20zm-65-5zm-5-7zm-25 17zm-8-12zm-27-9zm-65 17zm33 30zm21-14zm3 10zm1 2zm9-6zm12-11zm3 12zm7 3zm6 8zm4-18zm1-7zm1 22zm5-22zm5 15zm0-2zm0 9zm2-22zm2 3zm1 16zm2-8zm4 15zm4-29zm1 24zm11-1zm16-12zm3-5zm0 7zm59-6zm8 3zm2 4zm9 13zm50-1zm-17 4zm-5 9zm-7 20zm-8-10zm0-13zm-8 4zm-10 6zm-3-9zm-15-4zm-37 10zm-14-11zm-42 4zm-7-2zm-1-1zm0 5zm-2 11zm-3-8zm-5-3zm-4 2zm-2 9zm-3 9zm0-23zm-2 9zm0 2zm-1-14zm-12 25zm-2-17zm-130 48zm105-11zm31-9zm4 20zm8-8zm19-13zm4-7zm7 7zm2 8zm1-7zm6-4zm78 17zm1 0zm4-19zm4 3zm5 7zm2 6zm2 3zm6-1zm10-12zm9 17zm1-19zm12 8zm0 5zm10-18zm4 27zm25-15zm-29 41zm-1 4zm-4-4zm-5-11zm-5 15zm-11-26zm-1 13zm-13 8zm-5-11zm-6-3zm21 49zm17-19zm6 15zm1 5zm4-3zm6-21zm16 24zm20-29zm19 5zm-28 41zm-1 0zm-18-7zm-2 14zm-7 3zm-11-11zm0-13zm-2 15zm-19-7zm-6 4zm-17 10zm-9 4zm-13-1zm-26 2zm-29 22zm19 2zm11-4zm12 10zm5-16zm0-12zm1 22zm7-8zm3 6zm2 7zm3-25zm3 2zm9-3zm4 14zm4-7zm19 14zm8-2zm0-21zm11 5zm10 15zm19-6zm19-6zm1 12zm3 5zm24-17zm15 10zm37 0zm15-3zm11 9zm-16 32zm-39-4zm-5 7zm-8-25zm-11 13zm-26-7zm-3 18zm-11-25zm-5 6zm0 0zm-3 8zm-5-16zm-34 25zm-4-19zm-29-7zm-2 26zm-6-22zm-1 5zm-1 17zm-19-7zm-3-6zm-11-11zm-6-1zm35 32zm19 13zm50-3zm4 15zm7-28zm15 12zm6-5zm10 2zm1 9zm19-10zm9 5zm3 7zm1 8zm7-14zm0-5zm3 10zm1 6zm1-14zm2 9zm7-17zm20-1zm21 1zm2 2zm17 20zm138-14zm-130 45zm-40 1zm-4-13zm-12 9zm-5-15zm-3 10zm-1-1zm-6-8zm-12 16zm-4-10zm-5 10zm-2-1zm-11 4zm-6-2zm-21-26zm-114 2zm-55 3zm241 32zm14 10zm2 6zm3-10zm10 13zm6-21zm2 21zm179 23zm-145 3zm-15-6zm-12 10zm-3-9zm-28 9zm-23-4zm-11 2zm-16-16zm-60-5zm45 34zm39 12zm1 0zm1-19zm24 21zm18-18zm2 19zm10 6zm83 7zm-91 1zm-10 8zm-2-9zm-9 16zm-110-16zm69 43zm22-17zm3 15zm31-11zm3 18zm2-10zm4 7zm6-2zm7-10zm74 1zm1 8zm-78 39zm-12 1zm-3-23zm-21 21zm-2 2zm-7-26zm-297 24zm-1 3zm-3-3zm1 22zm9-13zm1 24zm251-16zm21 14zm23-4zm13-4zm0 1zm6-12zm4 3zm19 16zm44-6zm-42 38zm-3-7zm-1 7zm-17-4zm-13-9zm-26 10zm-20 1zm-259-19zm-1 10zm-3-7zm-7-9zm15 33zm1 11zm4-12zm0 15zm3-15zm3 16zm241 5zm22 1zm14-8zm7 10zm0-17zm4-9zm1 12zm4-2zm0 18zm5-13zm5-8zm1-3zm1 12zm5 6zm34-8zm5 5zm7 1zm32 1zm-16 14zm-2 12zm-17 11zm-28-6zm-4 0zm-9-10zm-1-4zm-8 19zm-4-7zm-7 6zm-1-1zm-1-7zm-2-15zm-31 15zm-33 7zm-204-5zm-10-6zm-4 9zm-3-22zm-4 5zm13 48zm0-12zm1-1zm23 5zm1 1zm5 11zm107-18zm94-2zm18 16zm0-2zm4 0zm1 3zm1-11zm2-4zm6 18zm4-29zm21 15zm8 8zm0 1zm7-3zm2-7zm5 9zm2-14zm8 17zm9-6zm2-4zm5 4zm1-20zm4 23zm2-5zm0 1zm2 10zm6-15zm3 13zm5-7zm4-13zm3 15zm10-6zm5-10zm35-5zm-10 34zm0-2zm-48-3zm-26 6zm0-2zm-5 15zm-5-19zm-13 16zm-6 4zm-1 6zm-12-24zm-7 11zm-5 15zm-1-9zm-5-6zm-4-9zm-2-1zm-4 14zm0-12zm-20 16zm-12 4zm-7-5zm-106 9zm-15-5zm-65-9zm-4 8zm16 7zm2 24zm2-21zm4 4zm9 8zm9 10zm9-25zm65 12zm9 8zm48 4zm46 3zm2-4zm15 3zm0-13zm0 7zm24-9zm12-6zm21-5zm3 8zm17-4zm-51 43zm-54-16zm-4 5zm-1 16zm-12-15zm-2 15zm-4-20zm-2 22zm-15-16zm-3 15zm0-8zm-21-5zm-10 14zm-11-16zm0 2zm-3-2zm-7 20zm-13 1zm-1-9zm-6-1zm0-7zm-15 1zm-2 15zm-7-20zm0 17zm-2-8zm-2 0zm-3 4zm-3 6zm-3-14zm-5-11zm-6 3zm-3-4zm-1 10zm-15 17zm17 23zm3-2zm2 9zm19 1zm7-24zm5 11zm9-2zm1 4zm6 7zm1-6zm6-1zm5 8zm1-1zm5-4zm1 6zm12-14zm19-12zm2 13zm16 5zm10-10zm40 7zm8-8zm0 3zm18 8zm25-11zm13 47zm-37-5zm-3-11zm-19-1zm-3 6zm-4 5zm-27-8zm-6-1zm-1-1zm-4 11zm-1 1zm-17-9zm-11 8zm-10 1zm-3-5zm-13-15zm-7 0zm-8 5zm-21-2zm-6 14zm0-15zm-15 6zm-24 10zm-25-1zm-33 4zm52 28zm20-5zm7-13zm10 0zm1 18zm19 1zm21 1zm1 3zm3-18zm8-2zm31 0zm14 17zm10-9zm24 10zm16 5zm3-23zm53 4zm11 7zm11 1zm19 13zm-24 14zm-3-10zm-15-4zm-1 6zm-7 16zm-11 3zm-8 0zm-3-23zm-6 20zm-1-10zm-14 14zm-5-25zm-5 12zm-10-12zm-1 18zm-2 2zm-36 6zm-48-23zm4 28zm50 3zm21 7zm43-12zm2 27zm10-26zm10 14zm1-9zm2 9zm4-14zm6 15zm3 1zm7-7zm8 3zm7-4zm29 23zm-46 14zm-53-9zm-14 22zm-9 5zm17 4z" stroke="#14ad3c" stroke-width="15" stroke-linecap="round" fill="none"/><use href="#trj" stroke="#254a8c" stroke-width="2.9"/><path transform="scale(.1)" d="M7036 3652zm-18 1zm-22 6zm-5-5zm-1 4zm-2-11zm-2 7zm-16 15zm25-5zm5-2zm9-2zm2 3zm17-3zm11 22zm3-12zm-9 32z" stroke="#19078c" stroke-width="33" stroke-linecap="round" fill="none"/><path transform="scale(.1)" d="M6978 3564zm-29 32zm-1 31zm5 0zm4-13zm18 15zm25-27zm22 34zm-35-6zm-1 3zm-4 6zm-1-5zm-11-2zm0 21zm-7 0zm-5-15zm-10 35zm107 14zm5-6zm6 16zm-1 6zm-22 17zm10 2zm20 5zm5 11zm-44 12z" stroke="#290693" stroke-width="33" stroke-linecap="round" fill="none"/><path transform="scale(.1)" d="M6925 3514zm-2 23zm-8-4zm-12-3zm-13 1zm-10 31zm14-19zm9-2zm3 5zm4 0zm0-2zm7 22zm0-13zm1 10zm5-9zm5 0zm1 6zm7 9zm1-12zm12 35zm-21-16zm-5 20zm-42-6zm-9-6zm0-7zm-1 3zm-4-5zm-2 22zm-2-12zm-14 13zm-2 21zm7-17zm19 21zm90-17zm178 104zm-22-6zm-3-13zm-9 20zm-1-6zm-6 7zm-2 6zm0-20zm-32 29zm5 12zm7-1zm0-11zm2 10zm6-8zm5 0zm3-8zm4 4zm11-3zm-24 46zm-5 5zm-58-3zm13 21zm1-4zm5 9zm10 9zm21-18zm26 22zm15-14zm2 5zm11 35zm-32 1zm0 1zm-18-10zm-5 7zm-3 3zm-1-14zm-5 0zm0 12zm-11-21zm-1 21zm-3-21zm-6 21zm-2-2zm-28-16zm-19 30zm19 1zm27 11zm3-13zm0 5zm2 14zm11-15zm7-9zm0 5zm3 20zm7 2zm10-6zm6-1zm6-21zm3 13zm1 11zm5-17zm14 0zm1 14zm3-8zm4-11zm-28 52zm-1-19zm-1-1zm-29 17zm-4-18zm-1 15zm-3-1zm-6 11zm-2 0zm-8-5zm0-19zm-2 9zm-11 4zm-1 12zm-15 10zm16 5zm27-1zm5-7zm35 1z" stroke="#380599" stroke-width="33" stroke-linecap="round" fill="none"/><path transform="scale(.1)" d="M6849 3470zm-3-5zm-4 13zm-11-4zm-13 8zm10-1zm6 8zm3 2zm4 6zm0 3zm5 6zm2-20zm4 3zm3 7zm6 10zm12-3zm7 0zm4-3zm5 6zm2 3zm0-17zm39-5zm-22 40zm-17-9zm-1 10zm-3-4zm-1-7zm-6 4zm-6 3zm-5-14zm-3 8zm-6-7zm0 3zm-5-2zm-3 26zm-1-25zm-27 23zm-19 21zm2 5zm4-19zm6 15zm2 2zm3-9zm5 17zm3-20zm7-3zm1-5zm3 21zm1-3zm1 4zm3-18zm3 22zm4-25zm0 6zm10 20zm7-8zm4 3zm-9 9zm-4-1zm-2 12zm-3 3zm0 0zm-1-9zm-1 13zm0-12zm-4-1zm-4 5zm-6-5zm-1 22zm-2-3zm0-1zm-4-2zm-9-15zm-1 13zm-6-18zm-1 17zm-3-11zm-5 2zm-4-1zm1 35zm11-3zm294 77zm39-1zm38-1zm2 10zm-1 20zm-2-1zm-2 3zm-3-5zm-4 1zm-2-1zm-3-17zm-5 23zm-14-16zm-2-3zm-5 7zm-6-8zm48 22zm10 4zm13-3zm-66 41z" stroke="#47039e" stroke-width="33" stroke-linecap="round" fill="none"/><path transform="scale(.1)" d="M6855 3409zm-42 4zm-4-9zm-3-6zm-2 19zm-20-1zm-3 1zm22 20zm5-7zm5 18zm0-1zm1-1zm4-16zm8 16zm0 2zm0-10zm9 4zm2-16zm0 42zm-5-8zm-3 6zm-4-2zm-1 5zm-15-19zm-9 8zm12 24zm474 220zm-7 15zm-12-17zm-12 7zm-6 4zm0-12zm-18 15zm-33 5zm-27 11zm12 13zm4 2zm6-22zm5 17zm6 3zm5-4zm3 0zm4-7zm0 17zm0-25zm24 24zm0 0zm1 0zm4-12zm4 5zm8 5zm9-2zm3-20zm4 4zm33 19zm5-19zm6 27zm-1 1zm-15 9zm0 8zm-17-19zm0-2zm-7 3zm-1 0zm-2-2zm-1 14zm-4 2zm-2-17zm-1 9zm-3 9zm0-9zm-3-8zm-2 14zm-29 9zm-19-20zm-9 1zm-46-6zm67 47zm45-14zm18 11zm5-14z" stroke="#5402a2" stroke-width="33" stroke-linecap="round" fill="none"/><path transform="scale(.1)" d="M6862 3229zm-31 68zm-20-3zm-11-17zm-24 44zm17 6zm5-26zm8 23zm5-4zm3-5zm9 2zm5-15zm38 10zm-44 19zm-9 15zm-3 12zm-7-22zm-1 18zm-12 25zm9-4zm2-8zm1-7zm3 16zm0 13zm9-16zm4-9zm435 409zm-12 29zm5-11zm0 0zm1 11zm4-10zm2 3zm2-10zm4 4zm0 16zm8 25zm-1-1zm-2 8zm-1-4zm-2 3zm-2-3zm-6-2zm-19-18zm-95 43zm50-14zm69 11zm2-5zm5-2zm8 18zm9-16zm2-6zm17 9zm-15 38zm-145 8zm-18 24zm1-2zm1 24z" stroke="#6101a6" stroke-width="33" stroke-linecap="round" fill="none"/><path transform="scale(.1)" d="M6834 3175zm-20 3zm7 21zm8-18zm18 33zm-17 8zm-5 8zm-4-15zm-2 12zm-5 11zm-6 1zm-8-7zm-1-3zm5 33zm4-22zm1 11zm4 17zm13-5zm0-21zm14 7zm-16 31zm-1 3zm-13-1zm452 586zm24-8zm49 3zm3-2zm10 4zm1 1zm12 11zm-6 10zm-1-15zm-6-2zm0 11zm-6-8zm-6 12zm-1-11zm-9 2zm-6 7zm-1 5zm0-5zm-2 15zm-7-15zm-1-12zm-14 21zm-2-10zm-3 1zm0-4zm-19-6zm-9 9zm57 25zm56 6zm49 2zm8 1zm31 20zm0 22zm-15-28zm-9 1zm-2 18zm-10-18zm-13 26zm-27-4zm64 23zm2 9zm4-24zm13 11zm4-7zm9 6zm4 1z" stroke="#6d01a8" stroke-width="33" stroke-linecap="round" fill="none"/><path transform="scale(.1)" d="M6864 3086zm29 0zm14 13zm-10 16zm-5-5zm-4-3zm-1 0zm-8 4zm-4 7zm-1-10zm-48 39zm4 0zm13-1zm6 1zm22-19zm10 1zm0 5zm5-7zm4-4zm2 2zm37-4zm-69 32zm-8 11zm-4 2zm-2 5zm-6 1zm-4-15zm-4 24zm588 532zm-10 46zm-8 13zm-2-16zm-3 20zm-3 2zm-12-3zm0 3zm-5-16zm-27 17zm-35 19zm2-17zm1 25zm7-13zm27 16zm25-18zm0 16zm15-12zm10-4zm-21 43zm-1-11zm-4-1zm-4 1zm-5-11zm-13 13zm0-13zm-35 16zm9 15zm18 6zm7-2zm3-4zm3 9zm7 10zm86 6zm35 30zm-9-2zm-3 1zm-2-20zm-5 22zm0 0zm-5-21zm-38 18zm-13 2zm-2-2zm27 12zm10-8zm6 12zm0 3zm3 7zm0-14zm0-5zm2 3zm1 18zm0-24zm4 24zm1-11zm2 13zm3-19zm8 0zm0 5zm5 10zm1-13zm2-3zm0 19zm11-19zm0 21zm5-4zm-3 17zm-13 2zm-12-10zm0 3zm-10-3z" stroke="#7805a6" stroke-width="33" stroke-linecap="round" fill="none"/><path transform="scale(.1)" d="M6969 2964zm56 17zm-57 4zm-3 11zm-11 1zm-22-7zm3 34zm5-11zm1 10zm3-11zm1 14zm3-14zm20-7zm1-3zm14 9zm-33 25zm-5 9zm-7-4zm-1 12zm-4-6zm-1 0zm-6 2zm-2-15zm0 16zm-10 1zm-12 3zm-63 3zm58 23zm7-8zm4-9zm0 23zm37 1zm-45 5zm-1 9zm-38-4zm499 577zm19-7zm56 21zm38-3zm7 30zm-2-1zm-13 1zm0-1zm-13 5zm-7-16zm-2 2zm-1 13zm-2-26zm-5 19zm0 1zm-4-19zm-13 16zm-2 10zm-27-7zm-61 15zm1 19zm2-13zm67-3zm20 2zm0-8zm47-4zm1 2zm3 26zm21-28zm-77 31zm-5 14zm-1-9zm-3 6zm0-12zm-54 7zm120 40z" stroke="#8309a5" stroke-width="33" stroke-linecap="round" fill="none"/><path transform="scale(.1)" d="M7053 2842zm11 17zm-2-1zm-49 36zm1-2zm1-8zm5 20zm1-9zm3 11zm1-8zm3-16zm4 16zm1-14zm0 18zm16-19zm-10 33zm-15 3zm-12-4zm-5-4zm-2 3zm-6 10zm-1 14zm-4-4zm-8 3zm-7 32zm5-24zm2 20zm2-24zm6 0zm6 24zm2-23zm2 0zm-10 50zm-12-1zm-8-7zm-2 2zm512 703zm18-3zm5-14zm29 32zm-14 14zm-7 0zm0 0zm-1-9zm-1 7zm-5-3zm-2 5zm-2 0zm-2-13zm0 10zm-2 4zm-6-21zm0-2zm-3 3zm-11 3zm-16-4zm26 25zm13 13zm17-4zm4 13zm3-13zm1 17zm3-23zm0 10zm1-10zm0 21zm6-6zm0 8zm3-20zm3 20zm4-13zm1 13zm2-9zm4-1zm3-7zm13 0zm6 3zm-3 27zm-14-11zm-9 6zm-1 11zm0-12zm0 17zm-1-13zm-1-2zm0 21zm0-20zm-5 3zm-6 4zm-29-2zm-18 3zm22 26zm15-9zm6 7zm-14 20zm-18 10z" stroke="#8e0da4" stroke-width="33" stroke-linecap="round" fill="none"/><path transform="scale(.1)" d="M6943 2726zm19-11zm7-6zm2 19zm37 28zm-5-18zm-8 2zm-2 11zm-7-6zm-3-6zm-4 14zm0 2zm-5 2zm-1-18zm-1 20zm-1-8zm-3 8zm-4-23zm-4 23zm-4-9zm-3 4zm-1-4zm-3 6zm-1-12zm-2-1zm-12 9zm-5 27zm8-1zm4 1zm0-9zm1 1zm1-7zm6 14zm9-8zm18-5zm0 3zm0 8zm10-12zm4 11zm2-8zm0-4zm8 18zm18-10zm4-7zm10 17zm3 8zm1-24zm0 12zm8 13zm-5 23zm-13 4zm-2-5zm0 6zm-7-21zm-14 12zm-19-3zm-12-16zm-7 8zm-22 6zm67 45zm8-26zm4 14zm4 4zm4 3zm37 11zm-23 3zm-6 0zm0-7zm-15 16zm0 1zm-5-11zm0 1zm-8 14zm-23-19zm13 42zm34-11zm15 7zm43-6zm543 853zm-54 34zm-35-18zm-8 43zm7 6zm1 3zm6-19zm0 4zm18-6zm14 3zm0 8zm5-13zm5 18zm6-14zm9 15zm2-8zm12 13zm8-1zm24-17zm0 18zm51 0zm-25 27zm-15-6zm-10-5zm-10 14zm-20-4zm-7-19zm-2 13zm-1 8zm-3-23zm-4 21zm-8-20zm-20 10zm-10-13zm-11 11zm-20-8zm-30 14zm5 37zm76-15zm42-8zm-117 36zm-16 31zm7-8zm8 7zm1 12zm23-14zm-19 32zm-3 21zm-13-28zm11 31zm1 5zm10 8zm4 29z" stroke="#99169e" stroke-width="33" stroke-linecap="round" fill="none"/><path transform="scale(.1)" d="M7022 2706zm103 16zm13 0zm3 2zm5-4zm8 7zm14-7zm-1 11zm-5 9zm-17-7zm-1-2zm-1 10zm-10-2zm-6 19zm-4-18zm-1-4zm-4 20zm-8-4zm-12-18zm-5 8zm0 13zm-3-15zm-1 10zm-3-2zm-3 9zm-7-3zm-2-17zm-2-1zm-2 13zm-20-3zm-4 6zm-3 6zm-6-3zm-5-19zm-7 20zm29 28zm3-6zm1-16zm10 21zm13-22zm3 24zm2-7zm-53 31zm648 909zm-12 7zm2 20zm13-25zm3 2zm1 5zm0-5zm3 19zm1 8zm1-15zm2-10zm5 10zm1-5zm4 5zm81-2zm-14 21zm-67 5zm-21-3zm-3 53zm9 0zm22-20zm7 2zm58 35zm-76-7zm-13 3zm-4 10zm-11-2zm-9-11zm23 42zm88 14z" stroke="#a41f98" stroke-width="33" stroke-linecap="round" fill="none"/><path transform="scale(.1)" d="M7262 2633zm-18 32zm33-1zm-13 11zm-12 5zm-3 5zm-8-8zm-7-3zm-4 23zm-9-23zm-6 8zm-3 17zm-7-16zm-5 10zm-41 18zm16-10zm13 22zm2-23zm4 7zm0 19zm8-17zm3 2zm2 9zm10-17zm0 2zm2-4zm27 8zm-84 24zm148 99zm-1 26zm-4-7zm-9 15zm17 40zm377 719zm8 6zm-5 4zm-3 7zm-6-2zm-8 4zm-5-8zm-4 12zm-5-9zm-4 10zm-4 7zm-8-10zm-7 28zm12 0zm1 9zm5 5zm5-11zm5-6zm1 12zm0-5zm5 11zm2-13zm2-13zm4 13zm2 5zm1 6zm6 10zm-3 15zm-16-20zm-1 1zm-2 1zm-3 1zm-21-3zm-12 8zm-17 1zm51 21zm31 6z" stroke="#af2891" stroke-width="33" stroke-linecap="round" fill="none"/><path transform="scale(.1)" d="M7359 2578zm-4-9zm-56 9zm-7 19zm25 2zm0-7zm7 12zm8 5zm1-12zm4-5zm0-4zm1 14zm5 4zm6-10zm4-15zm18 16zm2-12zm4-2zm3 10zm1 8zm-86 19zm-3 5zm-2-5zm0 6zm-2-4zm-1 15zm-4-7zm7 12zm2 23zm449 724zm6-4zm10 1zm6 2zm14-2zm-5 8zm-1-3zm-16 0zm-1 11zm-8-10zm-14-1zm-2-1zm-5 9zm-1 8zm-4 10zm-2-18zm0-1zm-8 14zm-6 0zm-27 35zm5-5zm1 6zm11-20zm10-3zm-18 32zm-5-4zm0-1zm-16 22zm-4 13zm1 6zm15-11zm-23 36zm-5 12zm-3-12zm-1 12zm-14 17zm1 15zm2-7zm9 9zm280-17zm-302 37zm31 45zm71 27zm-9-26zm-8 23zm-7-4zm-1 4zm-1-9zm-16 17zm0 6zm7 8zm6-6zm1 19zm0-1zm2-14zm6 3zm7-3zm1-3zm1-7zm0-1zm1 15zm0 7zm1-1zm2-23zm7 29zm1-22zm4 20zm10-4zm17-9zm6 15zm64 7zm-46 23zm-1-3zm-9-25zm-42-1zm-27 5zm-7 3zm-2-6zm-15 56zm49-2zm37-12zm18-14zm7 30zm-59 1zm72 32z" stroke="#b7318a" stroke-width="33" stroke-linecap="round" fill="none"/><path transform="scale(.1)" d="M7373 2600zm25 34zm-11 3zm-1-1zm-12-19zm-10 18zm-6-8zm14 15zm12 15zm11 11zm-8 12zm4 20zm-39 68zm7 8zm38 15zm-8 12zm-38-10zm-8 20zm-4 4zm-17 29zm5 3zm25-24zm4 4zm0 13zm5-20zm6 13zm17 13zm19 6zm-6 3zm-23 15zm-5-12zm-2 9zm-2-16zm-5 18zm-9-21zm-5 17zm-6 11zm-12-16zm-8-12zm9 43zm22-1zm10-3zm1 16zm1-23zm4 3zm7-1zm33-2zm388 742zm31-21zm57 11zm-23 41zm-8 0zm-35-2zm18 24zm4-5zm25 13zm9 1zm88-26zm5 8zm-86 40zm0 8zm-4-17zm-10 17zm-33-5zm-4 5zm-3-24zm-36 16zm-1-13zm-5 6zm16 45zm8 2zm3-4zm0-15zm10 10zm9 1zm45 5zm13 32zm-41-16zm0 6zm-3-13zm-3-1zm-12-1zm-7-2zm-5 15zm0-15zm-5 15zm-4 4zm-8 8zm-3-22zm-4 19zm-13 32zm26-7zm6-5zm4-4zm4 14zm1-3zm3 4zm7-11zm4 14zm2-20zm1 6zm4 14zm4-27zm40 29zm-42 17zm-1-9zm-5 9zm-5-15zm-2 13zm0 11zm-2-19zm-1 14zm-4 2zm-1-20zm-2 20zm-6-8zm-1 12zm-1-27zm0 2zm-3 26zm-5-4zm-3-2zm-3-7zm-5 16zm3 1zm14 24zm0-18zm10-3zm13 19zm1-19zm7 3z" stroke="#bf3983" stroke-width="33" stroke-linecap="round" fill="none"/><path transform="scale(.1)" d="M7468 2712zm3-8zm2 7zm4 5zm-5 19zm-23 114zm37 20zm-23-15zm-8 5zm29 98zm5 13zm521 592zm17 6zm9-13zm23 8zm-3 7zm-4 28zm-10-6zm-14-6zm-7-15zm-3 4zm-131 13zm90 38zm1-24zm11 4zm8 3zm2 14zm5-9zm3-2zm12 17zm12-14zm5-10zm2 3zm99 20zm-220 9zm-8-1zm-11-5zm-7 9zm-2 0zm-1 3zm-9-4zm-4-2zm-5 0zm-99 26zm85 2zm21 22zm6-2zm6-22zm44 20zm6 1zm124-19zm21 7zm3-4zm4-3zm6 16zm8-2zm15 7zm-69 13zm-101 5zm-16-3zm-5 4zm-26 3zm-20-6zm-54 42zm47 1zm22-15zm35-7zm21 10zm9-10zm-122 75zm62 7zm19-18z" stroke="#c7427c" stroke-width="33" stroke-linecap="round" fill="none"/><path transform="scale(.1)" d="M7494 2656zm11-13zm20 6zm11 31zm-51 41zm0-13zm31-5zm35 13zm-45 24zm-21-6zm-12 21zm-4-18zm0 51zm4-24zm14 10zm13-11zm9 3zm8 35zm-58 23zm16 25zm27-5zm16 4zm5-3zm0 16zm-10-4zm-3 1zm-33 6zm-2 17zm40 3zm21 24zm8 0zm-8 19zm-3 0zm-2 0zm-65-17zm35 42zm35-11zm-5 34zm-10 3zm-12-5zm625 733zm-15-11zm-7 17zm-3 0zm-11 3zm-7-11zm-3 5zm-12 0zm-9-1zm-175 34zm17-3zm25 3zm123-16zm59-5zm1 0zm-151 48zm-25-13zm-1 7zm-5-7zm-58 43zm31 0zm1 8zm11-26zm2 0zm18 18zm6-7zm1 9zm2 0zm9-10zm22 12zm5 26zm0 1zm-16-15zm-1 14zm-27 4zm-4-4zm-17-3zm-4-3zm-44-4zm0-3zm4 29zm34 8zm4-9zm13 16zm34 4zm12-21zm4 20zm11-13zm2 18zm4-28zm5 14zm52-10zm-100 48zm-21-16zm-84 5z" stroke="#cf4b75" stroke-width="33" stroke-linecap="round" fill="none"/><path transform="scale(.1)" d="M7571 2484zm14 4zm13-5zm19 30zm-15-17zm-5 2zm-8-8zm-16 11zm-1 10zm-7 13zm54 5zm14 33zm-47 17zm-42-6zm3 20zm24 9zm28-14zm25 0zm8-2zm9 1zm-38 26zm-17 15zm-24-13zm-67 38zm48 13zm35-5zm28-17zm19 46zm-52-9zm-22 30zm9 10zm3 4zm43-20zm35 8zm-8 38zm-62-9zm-81 7zm40 37zm27-3zm6-15zm1 8zm6-16zm16 0zm29 9zm-27 30zm-16 7zm-15-9zm-35 48zm9 2zm28-10zm36-15zm20 40zm-44 2zm-36 24zm2 2zm27 3zm11-5zm2 15zm30-18zm-32 43zm-13-4zm-1-9zm-22 40zm6 4zm12-9zm1 16zm-17 11zm491 794zm-19 51zm-100 34zm73 13zm78 6zm-63 7zm-2 7zm-22-4zm-16-15zm-8 25zm-23 29zm20-19zm12 9zm17-11zm4 14zm2 1zm20-4zm7 9zm25 4zm8-4zm50 30zm-37-16zm-32 1zm-11-1zm-36-5zm-3 11zm-4 1zm-10 5zm-10-2zm-2-11zm-1 20zm-2-8zm-12 7zm-36-17zm-10 36zm5 13zm11-12zm7 10zm14 4zm0-28zm1 18zm5-4zm11 7zm8 3zm4-4zm21-4zm7-10zm12 0zm17 1zm14-7zm15 5zm11 50zm-32 2zm-52-27zm-6 2zm-1 20zm-3-19zm-29 7zm-9-7zm-5 6zm-13 0zm0-2zm-12 14zm-28 4zm52 18zm9-10zm7 0zm96 1zm4 12zm1 11zm1-10zm6-18zm20 56zm-96 11zm85 36zm-1 21z" stroke="#d6546e" stroke-width="33" stroke-linecap="round" fill="none"/><path transform="scale(.1)" d="M7630 2425zm57 5zm-5 13zm-1-3zm-5-7zm-1 12zm-26-12zm-23 6zm-13 12zm-3 5zm7 19zm4-6zm13-9zm22 6zm4 20zm57 32zm-32-23zm-21 10zm-29-3zm-2-12zm-2 16zm-9 20zm39 15zm-7 9zm-42 7zm42 46zm36-21zm46 29zm-44 0zm-43 9zm-6 17zm-31-22zm44 50zm15-2zm1 1zm16 5zm-27 29zm-7-2zm-4-10zm-24 11zm-6-24zm15 35zm6 0zm5 15zm14-5zm11 17zm-21 10zm-20-10zm-14 22zm-2-24zm-26 28zm64 23zm22-2zm22-12zm-16 29zm-19 12zm-20 3zm-11 8zm-52 62zm14 2zm645 1050zm-163 18zm-21 15zm77-9zm-24 56zm-3-14zm-12 6zm-37-2zm-19 12zm-3-2zm-7-21zm3 25zm6 4zm28 18zm9 7zm6-26zm14 5zm9 11zm14-17zm9 44zm-5 3zm-1-16zm-2 11zm-4-4zm-15 0zm-30-8zm-2 22zm-3-9zm-10-12zm-25 7zm27 29zm10 2zm26-2zm27 3zm12-11zm-43 47zm-7-18z" stroke="#dc5d67" stroke-width="33" stroke-linecap="round" fill="none"/><path transform="scale(.1)" d="M7713 2456zm-23 30zm24 2zm13 0zm48-12zm-70 29zm-30 13zm35 11zm3 20zm10-28zm52 3zm11 19zm-3 29zm-31 6zm-9-24zm-60 15zm-12-11zm74 35zm35 13zm37 33zm-40-23zm-26 17zm-26-14zm-8 11zm-5-14zm-15 9zm-13 35zm7-9zm41 13zm0-21zm19 17zm36-3zm5-2zm-10 44zm-12-19zm-3-10zm-120 11zm38 22zm12 16zm12-12zm26 18zm5 0zm9 4zm1-21zm-2 29zm-28 15zm-6 4zm-31-26zm-7 8zm-7 16zm36 11zm56 21zm45-22zm-35 52zm-37-10zm-30 0zm-18 22zm10 9zm18-15zm0 26zm24-11zm32-10zm-24 30zm288 1243zm6-6zm75 14zm1-1zm27-4zm-6 8zm-11 14zm-13 8zm-9 2zm-21-17zm-96 37zm98 4zm33 8zm19 1zm18-6zm51 33zm-53-1zm-31-19zm-3-1zm-5 11zm-33 14zm-1-29zm-43 24zm48 28zm9-13zm7 6zm3 14zm23-17zm7 11zm33 3zm-69 11zm-8 35zm23 6zm44 25zm-4 7zm-38 56z" stroke="#e3685f" stroke-width="33" stroke-linecap="round" fill="none"/><path transform="scale(.1)" d="M7856 2506zm-11 13zm-60-28zm10 44zm26-4zm2 9zm1-18zm1 18zm12-16zm8 16zm30 10zm-43 12zm-45 14zm11 27zm40-15zm57 23zm-163 56zm72-21zm37 18zm10-22zm3 22zm-98 33zm28 19zm17 8zm27-21zm4 15zm-10 34zm-34 25zm11-17zm53 7zm9 36zm-16-5zm-5-7zm-66 12zm-12 0zm-24 16zm120 58zm-22 2zm-4-29zm-12 27zm-21 1zm-1-15zm-14-2zm-9 1zm31 27zm6-6zm31-2zm18 51zm19 12zm6 173zm-18 56zm234 1025zm23 4zm61 42zm-383 9zm-5 30zm5-11zm3 6zm2-16zm0 4zm2 15zm218 8zm52-10zm4 5zm20-14zm45 18zm27 13zm-18-2zm-8 1zm0 11zm-6-11zm-8-4zm-8 15zm-1-18zm-1 9zm-164 9zm-141 0zm-4-11zm-6 1zm-2-9zm3 40zm1-8zm2 9zm2 15zm6-10zm8 5zm266 1zm12-13zm13 18zm1-28zm10 27zm5-4zm26 4zm47-24zm9 12zm30 42zm-38-27zm-6 21zm-5 5zm-8-1zm-31 0zm-8-15zm-4-11zm0 16zm-8 13zm-21-12zm-4-5zm-2 4zm-107-10zm-10 8zm0-4zm-148 16zm-4 3zm-9-5zm-11-13zm0 3zm11 18zm8 20zm1-3zm9-2zm120 2zm106-17zm14 7zm17-9zm7 0zm1 7zm2 13zm0-5zm2 0zm3-5zm14 2zm2-2zm1 3zm4-9zm4 2zm11-1zm11 21zm11-9zm2 3zm21-2zm7 1zm5-3zm6 16zm-16 20zm-5 0zm-12-3zm-6-3zm-5-6zm-3 1zm-1 0zm-17-10zm-18 4zm0-3zm-40 3zm-2-4zm-13 0zm-15 12zm-178 14zm-6-2zm-21-4zm-2-12zm-5 3zm28 18zm6 3zm10 26zm5-5zm11 4zm107-14zm31 11zm32-9zm0 9zm86-24zm72 1zm-189 35zm-115 13zm0 8zm0-4zm-15-18zm-1 2zm32 27zm7 12zm16 6zm-12 9z" stroke="#ea7456" stroke-width="33" stroke-linecap="round" fill="none"/><path transform="scale(.1)" d="M7940 2458zm-7-2zm-92 31zm41-4zm6-10zm1 6zm2-7zm68-2zm-31 43zm-17-7zm-31-3zm-23 10zm-5-12zm39 26zm31-1zm48-3zm-22 46zm-11-4zm-11 12zm-5-5zm-4-2zm-15-4zm-13-13zm-16 7zm-10-4zm-7-1zm-25 44zm16-17zm19 12zm26-12zm28 17zm51 11zm-14 11zm-32-9zm-13 5zm-10-4zm-6 14zm-60-5zm19 21zm33 5zm10 2zm20 18zm15-1zm24-2zm1 2zm-4 16zm-5-5zm-17 12zm-5-9zm-10-5zm-6 9zm-25-7zm-11-6zm-6 55zm16-19zm6 6zm7 14zm7-15zm2 6zm6-9zm7 12zm5-19zm-2 45zm-44-8zm-25-6zm-7 40zm11 4zm47 4zm2-18zm44 27zm-24 12zm-4 7zm-46 8zm-30 13zm30 6zm8 6zm20-8zm18-5zm31 36zm-19 11zm-30 0zm-57-6zm-14 12zm26-2zm1 26zm5-1zm9-13zm1-11zm13 16zm2 5zm2-12zm25 6zm12 28zm-48-5zm-27 3zm-10 6zm45 15zm32-4zm7 59zm-15-22zm-31 18zm2 14zm64 8zm-26 36zm-30 30zm19-6zm4 2zm21 9zm2-4zm17 32zm-26-9zm-8 11zm-22-9zm-6 4zm-7-11zm54 23zm10 52zm-9 2zm-28-4zm-21-10zm-18 34zm50-2zm10-9zm35 6zm101 1181zm6 33zm33 26zm-3-19zm-8 20zm-5-6zm-13 2zm-70 6zm-3-11zm-63 4zm-25 25zm22 3zm15-10zm2-1zm37 20zm28-12zm16 12zm33-7zm5-10zm29 18zm7-12zm23-16zm17 5zm7 10zm35 12zm-69 19zm-12-6zm-30 10zm-1 2zm-10-22zm-11 23zm-7-9zm-13 13zm-5-11zm-19-4zm-19 6zm-2 11zm-6-17zm-5-3zm-6 18zm-10-12zm-11 0zm-6 13zm-39 31zm1-8zm10-6zm9 0zm14 6zm31-17zm3 19zm18-8zm6 4zm2-3zm2-3zm5 15zm0-22zm5-3zm8 22zm5-22zm8-2zm1 17zm11-17zm1 5zm17 12zm0 3zm21-9zm69 33zm-53-14zm-27 18zm-11 5zm-18-16zm-16 3zm-11-11zm-17 20zm-1-9zm-12-1zm-4 9zm-1 5zm-1-6zm-11-12zm-1-2zm-1 25zm-9-12zm-11-10zm-1-1zm-45 19zm-3-15zm-5-9zm38 31zm0 4zm17-5zm78 8zm19 6zm7-12zm4 12zm5-11zm30 9zm3 8zm15 3zm3 5zm2-22zm9 6zm44 34zm-5 10zm-12-11zm-9-3zm-8 11zm-3-23zm0 13zm-14 7zm-2-8zm-15 0zm-4-2zm0 1zm-10 15zm-3-27zm-19 25zm-8-11zm-35-7zm-45-4zm-1 8zm-11-11zm-15 22zm-23-20zm81 56zm44-23zm12 5zm11-2zm11-1zm16-5zm18 10zm6-8zm16 21zm6 0zm10 0zm8-3zm5 6zm94 13zm-126 7zm-12-16zm-4 15zm-3-4zm-33-10z" stroke="#f0804e" stroke-width="33" stroke-linecap="round" fill="none"/><path transform="scale(.1)" d="M7999 2459zm-28-11zm-32 35zm27-17zm10-1zm6 5zm14 2zm7 9zm0 27zm-9-6zm-17-7zm-14 17zm-5-18zm7 32zm15 12zm3-17zm4 14zm18-11zm42 5zm-19 21zm-45 14zm-62 11zm-2 30zm22-1zm15-24zm23 11zm22-3zm4 14zm2-10zm7-10zm10 14zm10-16zm-3 54zm-54-3zm-5-4zm-5 7zm-1-11zm-9-1zm0-2zm-37 2zm-50 21zm97 3zm11 16zm22-4zm25-6zm-44 31zm-6-4zm-45-3zm45 37zm22 8zm7-19zm23 36zm-38 14zm-35-5zm-18-16zm-13 15zm2 20zm72 14zm20-13zm22 30zm-45 3zm-8-10zm-7 12zm-15-11zm-45 33zm48 21zm38 3zm6-21zm2-5zm6 2zm12 19zm24-14zm-45 31zm-15 0zm-30 1zm-36 1zm-18 37zm47-18zm34 11zm41 5zm21 12zm1-26zm4 3zm-62 49zm-88 4zm-10-15zm-12 34zm98-12zm53 30zm-8 5zm-2 12zm-63 6zm-12-10zm-6-3zm-8-10zm17 25zm25 12zm2 6zm46 21zm-74 6zm-29 37zm3-21zm3 26zm42-21zm0-3zm36-3zm44 23zm-43 14zm-40-2zm-56 43zm68-19zm5 20zm5 2zm10 1zm2-2zm15-3zm21 40zm-4-27zm-15 0zm-21 8zm-16 0zm-6-4zm-32 9zm-13 26zm13-9zm2 1zm40 14zm30-16zm19 25zm45-15zm-73 20zm-20 0zm-9 16zm-25-6zm0 3z" stroke="#f69143" stroke-width="33" stroke-linecap="round" fill="none"/><path transform="scale(.1)" d="M8041 2445zm-31 21zm75 16zm-2 21zm-37-7zm-13 12zm-3-12zm8 24zm2 18zm73 31zm-55-7zm-15-12zm-18 5zm33 48zm18 2zm7-18zm42 37zm-13 15zm-4-26zm-19 8zm-29 15zm-1-21zm-39 21zm0-23zm-33 7zm4 37zm21 8zm24-17zm1 6zm2 10zm37-6zm23 5zm20 1zm-11 23zm-7-11zm-1 20zm-24-14zm-42 16zm-1-10zm-5 3zm-33 18zm44 0zm11 12zm93 7zm-23 18zm-40-13zm-49 38zm11 0zm18 0zm34 0zm18-9zm-7 50zm-3 6zm-29-6zm-4-8zm-6 9zm-20-9zm32 21zm16 12zm12 11zm7 19zm-32-8zm-14-2zm-7 16zm-5 25zm25-4zm9 15zm21-2zm11 12zm-20 6zm-14 7zm-27 3zm-18-25zm-5 16zm1 33zm9 5zm14-12zm20-12zm84 17zm-16 37zm-17 3zm-52-4zm-4-4zm-2-12zm-4 48zm0-12zm24 16zm47 25zm-61 0zm3 22zm-4 25zm-7 0zm-25 0zm-31 44zm6-23zm69 15zm12-6zm-28 27zm-9 20zm-22-5zm-11 5zm-20-22zm49 27zm0 21z" stroke="#fba437" stroke-width="33" stroke-linecap="round" fill="none"/><path transform="scale(.1)" d="M8068 2447zm60 42zm4-10zm5 4zm2-4zm19 1zm88 39zm-78-7zm-44-8zm-20 24zm17 18zm52-22zm32 3zm-1 46zm-33-4zm-3-8zm-14 6zm-16-4zm-14 19zm46 27zm14-4zm3-6zm-29 14zm-20 8zm-7-9zm-44 25zm27 19zm21-4zm4-10zm14 6zm20 10zm10-8zm10-1zm16 38zm-13-8zm-25 4zm-10 8zm-3-13zm-50 50zm15-2zm16 1zm14-23zm86 51zm-59-15zm-46 4zm-7 5zm-9 10zm29 3zm27 3zm9 46zm-5-13zm-6 16zm-2-3zm-9-4zm-22 4zm-15 8zm-35-13zm7 20zm12 3zm3-3zm43-5zm64 0zm-26 53zm-31 2zm-16-8zm-6-10zm-27 2zm-1-2zm-19 19zm-3 32zm43-15zm14-14zm45 22zm46 11zm-60 3zm-7 9zm-4-2zm-5 6zm-1 9zm-17-28zm-27 25zm-4-21zm-21 44zm2 1zm46-14zm17 21zm22-21zm44 23zm-10 9zm-15 9zm-5-15zm-10 3zm-4 5zm-28 8zm-57 0zm21 28zm17-15zm60 24zm14 21zm-1 14zm-13-20zm-32-8zm-37 23zm-32 13zm15 18zm84-24zm11 12zm12 3zm17 32zm-16-2zm-42 4zm-9 9zm-9-16zm-2-9zm-6 18zm-9-2zm-25 33zm18-13zm13 4zm16-9zm34 16zm12 3zm25-15zm-46 39zm10 12z" stroke="#fcc828" stroke-width="33" stroke-linecap="round" fill="none"/><path transform="scale(.1)" d="M8175 2481zm66 22zm-49-12zm-17 8zm12 50zm41-12zm39 5zm5-5zm5-13zm-23 34zm-10 10zm-7-6zm-1 12zm-34 22zm9-8zm38-1zm4 3zm16-4zm6 1zm26 10zm1-10zm26 13zm4-15zm1-4zm22 2zm14 4zm49 22zm52 29zm-10 0zm-8-2zm-8-2zm-6 3zm-5-14zm-8-5zm-31 15zm-8 6zm-4-4zm-59-17zm-2 12zm-18-4zm-5-13zm-28 11zm-2-10zm-11 16zm-61 27zm24 12zm15-4zm15 2zm1-22zm21 7zm36 15zm50-10zm6-17zm3 13zm2-9zm3 20zm6-20zm1-2zm45 11zm11-7zm46-2zm4-2zm16 48zm-30 2zm-3-13zm-40 0zm-19-7zm-14 27zm-19-8zm-12-2zm-19 0zm-15-19zm-9 9zm-21 1zm-7 8zm-24-7zm-8-9zm-46 15zm-10-15zm33 45zm6 12zm7-12zm10-6zm11 8zm25-2zm23 4zm2-1zm34-3zm28 0zm0 6zm5-1zm39-9zm8 11zm13-22zm1 21zm12-9zm18 1zm4 5zm12 8zm1 1zm5-17zm7 46zm-4-24zm-41-4zm-1 25zm-4 3zm-15-11zm-95-8zm-4-6zm-48 4zm-10 17zm-25-22zm-5 10zm-10 7zm-41-1zm20 17zm3 19zm29-8zm34 7zm6-19zm16 24zm6-9zm1 3zm28-5zm6-13zm2-2zm20 16zm28 2zm13 7zm17-9zm2-18zm39 28zm1-14zm16-10zm4 5zm9 20zm18-7zm5 26zm-13 2zm-12 3zm-3-14zm-17 16zm-28 0zm-40-3zm-16-20zm-2-1zm-18 28zm-17-7zm-34-19zm-14-3zm-13 12zm-8 4zm-12-11zm-5 19zm-25-13zm-3-9zm-6-2zm-2 28zm12 13zm29 2zm30 9zm33-19zm57 1zm1 25zm6-3zm26-6zm5-1zm21-1zm12 8zm2-13zm40-2zm-6 29zm-7-6zm-16 14zm-48-16zm-21 3zm-30 17zm-4-18zm-18 8zm-28-1zm-20 2zm-46-12zm-13 8zm-39 19zm-2-14zm-29 21zm50 22zm16-3zm20-8zm17-15zm9 24zm1-19zm24 6zm17 0zm5-7zm13 21zm15-21zm9-2zm4 17zm30-13zm11 6zm52 9zm9-10zm12 30zm-59 16zm-41-16zm-1 8zm-5-18zm-21 1zm-7 12zm-19 1zm-1-7zm-29-7zm-6 21zm-31-12zm-14-6zm-59 24zm-9-17zm-22 25zm20 18zm26-15zm34 14zm2-11zm0-13zm7 16zm0-3zm14-1zm14-4zm5 4zm18-1zm15 10zm12 1zm4-21zm10 10zm14-2zm34 1zm1-2zm7 12zm34 2zm23 10zm-29 0zm-16 3zm-24 0zm-8 12zm-15 8zm-12-12zm-12 3zm-4 0zm-4-7zm-16-9zm-13 14zm-7 7zm-76 7zm-31-1zm-25 24zm20-20zm21 20zm26-15zm7 19zm32-7zm4-10zm19 16zm38-22zm18 14zm8-5zm5-4zm31 11zm1-18zm6 23zm6 3zm13-19zm0 9zm-40 29zm-4-10zm-6 12zm-4 8zm-4-13zm-33-3zm-34-3zm-5-2zm-37 25zm-46-10zm-10-9zm-12 4zm-57 12zm8 23zm32-17zm6 9zm4-8zm47 2zm30 20zm72-14zm7-2zm10 0zm6-5zm16-1zm-72 36zm-13-7zm-18 8zm-69 17zm-9-27zm-14 2zm38 49zm9-7zm29 1zm9-15zm20 27zm18-12zm199-5zm-234 46zm-5 1zm-3-17zm-10-7zm-19 26zm12 27zm18-18zm-9 22zm0 26zm-8-9zm-42-2zm44 22z" stroke="#f0f921" stroke-width="33" stroke-linecap="round" fill="none"/><use href="#trj" x="207.4" stroke="#2c5a94" stroke-width="2.4"/><text x="883.5" y="326.5" font-family='"Liberation Serif", serif' font-size="17.5" font-weight="bold">Pseudotime</text><defs><linearGradient id="plg" x1="0" y1="1" x2="0" y2="0"><stop offset="0" stop-color="#0d0887"/><stop offset="0.13" stop-color="#41049d"/><stop offset="0.25" stop-color="#6a00a8"/><stop offset="0.38" stop-color="#8f0da4"/><stop offset="0.5" stop-color="#b12a90"/><stop offset="0.63" stop-color="#cc4778"/><stop offset="0.75" stop-color="#e16462"/><stop offset="0.85" stop-color="#f2844b"/><stop offset="0.92" stop-color="#fca636"/><stop offset="0.96" stop-color="#fcce25"/><stop offset="0.99" stop-color="#f0f921"/><stop offset="1.0" stop-color="#f0f921"/></linearGradient></defs><rect x="911.5" y="336" width="23.5" height="114" fill="url(#plg)"/><text x="942.0" y="350.0" font-family='"Liberation Serif", serif' font-size="16.5" font-weight="bold">20</text><text x="942.0" y="378.0" font-family='"Liberation Serif", serif' font-size="16.5" font-weight="bold">15</text><text x="942.0" y="405.0" font-family='"Liberation Serif", serif' font-size="16.5" font-weight="bold">10</text><text x="942.0" y="432.0" font-family='"Liberation Serif", serif' font-size="16.5" font-weight="bold">5</text><text x="942.0" y="458.0" font-family='"Liberation Serif", serif' font-size="16.5" font-weight="bold">0</text><path d="M911.5 344.5h4.5M930.5 344.5h4.5M911.5 372.5h4.5M930.5 372.5h4.5M911.5 399.5h4.5M930.5 399.5h4.5M911.5 426.5h4.5M930.5 426.5h4.5" stroke="#fff" stroke-width="0.7" stroke-opacity="0.8"/><path transform="scale(.1)" d="M5450 4979zm309 22zm91 16zm-171-1zm-187-2zm-242 47zm12 5zm22-2zm417 1zm41-7zm194-8zm47-7zm5 18zm53-5zm-113 28zm-136 14zm-1-20zm-7 10zm-208-12zm-10-2zm-5 18zm-279-8zm-17-2zm-13 15zm-1-15zm-30 5zm-3 7zm-38 34zm31-14zm0 14zm7-13zm2 6zm2-14zm7-5zm4 3zm2 8zm13-5zm32 18zm1-3zm23 0zm0-10zm109-4zm3-8zm79 27zm8-2zm15 0zm28-21zm296 19zm79-13zm140-2zm4-8zm94 37zm-34-7zm-49 26zm-31-14zm-172-6zm-93-6zm-45 0zm-11 26zm-21-19zm-64 10zm-81-18zm-3 24zm-36-10zm-50 12zm-41-10zm-36-2zm-89 8zm-15-4zm-2-18zm-76 17zm-1-15zm-2 13zm-4-10zm-25 23zm-3-7zm-15-20zm-14 21zm-167 7zm-15-6zm-22 18zm19 4zm7 1zm14 11zm2-8zm1 6zm0-12zm2 7zm87 6zm7-6zm27 7zm9 0zm9-12zm6-12zm14 11zm7-8zm3-6zm4 13zm23-9zm295 23zm122-22zm66 21zm108-13zm65 16zm55-25zm49 1zm1 24zm252 16zm-52-14zm-32 20zm-31-14zm-65 6zm-262-10zm-34 20zm-75-17zm-85-1zm-85 3zm-12 19zm-103-22zm-263-2zm-13 8zm-1-9zm0 9zm-17 6zm-2-4zm-9 2zm-17 12zm-10-1zm-12 0zm-18-21zm-2 11zm-7-15zm-2 6zm-3 3zm-2-7zm-7-3zm-2 29zm-3-19zm-5 14zm0-20zm-4 13zm-2-15zm-2 17zm-5-9zm-1-2zm-3 15zm-1-1zm0-1zm-2-11zm-4 9zm-2-11zm-11 5zm15 17zm6 15zm6-7zm0-2zm2-1zm10 6zm0 2zm3 1zm4-6zm5-2zm25-2zm3 4zm20 9zm9-17zm15 21zm208-14zm16 19zm19-12zm17 11zm66 1zm92-18zm95-3zm22 20zm78-7zm64 2zm96 0zm33-10zm34 4zm99-12zm28 1zm68 23zm84-11zm-215 35zm-5-6zm-4 0zm-93 3zm-72-14zm-26 15zm-68-15zm-37 24zm-46-13zm-18 10zm-1 0zm-56-24zm-56 26zm-9-4zm-53-12zm-21 13zm-68-6zm-13-8zm-7-9zm-1 1zm-2 14zm-8-2zm-3 15zm-10-2zm-3-2zm-5-2zm-3-14zm-2 11zm-3-5zm-4 14zm-5-28zm-13 28zm-11-23zm-3 13zm-216 11zm-6-2zm-4 1zm-2-21zm-7 13zm1 11zm14 13zm11-10zm15 13zm1 5zm197 5zm2-27zm1 19zm23-19zm12 25zm0-20zm2 11zm1-13zm2-1zm1 19zm1-21zm10 3zm5 13zm81 1zm256-14zm121 22zm62 2zm43-12zm31-8zm2 21zm43-18zm33 11zm2-8zm38 11zm78 3zm43-22zm3 13zm69-8zm-138 31zm-9 18zm-12-18zm-26 7zm-8 4zm-6-15zm-97-2zm-129 24zm-41-7zm-39 0zm-8 4zm-13-13zm-213-12zm-61 8zm-75-5zm-13-1zm-42 2zm-203 8zm-32-1zm-10-5zm-20-3zm-3 6zm-2 15zm-4-2zm-5 1zm-30 13zm16 17zm2-20zm1 18zm7 6zm8-20zm12 4zm404-8zm302 4zm40-6zm1 6zm2 8zm94 8zm218-8zm42 6zm12 18zm-32 9zm-56-8zm-61 11zm-62-18zm-24 15zm-20 7zm-27 3zm-89-24zm-739-2zm-27 15zm-3-5zm-1-11zm-1 1zm-2 24zm-4-1zm-3-6zm-2-11zm-27 18zm-11 29zm7-12zm1 2zm3 9zm6-20zm9 13zm3-6zm749-7zm6-5zm30 0zm24 6zm29-6zm62 4zm79 22zm2-6zm53 7zm49 2zm31-12zm22-17zm21 18zm5-11zm-42 44zm-55 4zm-24-6zm-35 5zm-24-6zm-5-1zm-10-10zm-11 14zm-2 0zm0-19zm-23 24zm-2-6zm-87-13zm-81-6zm-766 23zm-19-20zm-1 6zm-5-6zm-3 21zm-3-10zm-11 13zm-41 13zm42 13zm3-15zm5 12zm804 3zm6-22zm67 11zm31 14zm14-9zm168-9zm11 35zm-50 3zm-6-4zm-27 1zm-5 12zm-6-26zm-53 18zm-129 1zm-5-9zm-831 6zm-6-6zm-7 12zm-1-17zm0 13zm-6 10zm-1-5zm-5-3zm-3-2zm-10-6zm-1 1zm-25 30zm13 12zm9-12zm853 4zm62 3zm19 2zm19-15zm181-3zm5 7zm-43 45zm-15-25zm-100 10zm-7 16zm-21-3zm-15-22zm-31 25zm-47-26zm-4 10zm-28-9zm-831-2zm-3 27zm-22-14zm5 24zm5 18zm2-3zm4 3zm1-21zm1129 6zm-1130 41zm0-3zm-3 2zm-8 8zm-2-12zm-8 9zm-8 34zm11-19zm1 14zm3-21zm21 13zm-21 23zm0 17zm-8 1zm-14-17zm5 37zm8-14zm5-3zm10 1zm699 23zm6-7zm2 10zm5-12zm3-6zm4-3zm8 0zm1 5zm1-11zm4 9zm2 1zm3-8zm6 0zm7 0zm0 5zm5 5zm3-7zm-59 32zm-1-6zm-11 4zm-1 17zm-1-14zm-1 16zm-670 3zm-3-6zm-13-14zm11 46zm0-5zm8 7zm0-4zm15-9zm1 3zm631 9zm12-11zm130 43zm-140-23zm-7 9zm-1 13zm-576-5zm-7 4zm-35 3zm-4-27zm-4 23zm-10-21zm0 24zm-16-6zm-29 39zm2-7zm11 0zm1-13zm1 7zm1-14zm12 26zm4-20zm0 15zm4 2zm0-10zm3-8zm1-6zm1 11zm1 12zm1 0zm2-10zm2 3zm7 4zm2 7zm3-8zm2-11zm0 18zm5 1zm1-4zm4 4zm9-21zm13 2zm2-3zm8 2zm564-5zm5 13zm297 11zm4 2zm1 0zm5-7zm33 28zm-15-6zm-1-4zm-1 0zm-7 13zm-1-3zm-1-9zm-3 10zm-6 3zm-2-18zm-4 14zm0 0zm-1-2zm-1-18zm-16 11zm-1-4zm-41 22zm-27-2zm-23 1zm-35-3zm-159-20zm-514 4zm-19 16zm-2-7zm-6-8zm-6-9zm-12 0zm-11 6zm-2-1zm-12 9zm-35-15zm-3 11zm-2 18zm-2-18zm-2 11zm0-3zm-2-12zm-4 10zm-2 3zm-3-11zm-5-6zm-11 19zm-1 0zm15 13zm5-3zm6 5zm3-4zm1-1zm4 9zm7-10zm11 9zm12-10zm70 29zm6 0zm2-7zm529-1zm2 0zm1-16zm1-5zm4 13zm3-3zm0 5zm5 14zm1-6zm0-3zm2-9zm3-5zm4 0zm3 11zm2-5zm3 9zm3 5zm2 2zm2-3zm1-2zm6-6zm2 5zm5-3zm13 9zm89-10zm3-16zm24 15zm38 12zm1-26zm87 13zm64 43zm-3-8zm-9 4zm-3-4zm-6 3zm-3-9zm-3 10zm-6 4zm-127-7zm-1-9zm-7 15zm-4-3zm-2-21zm-9 16zm-1-12zm-11 1zm-5 16zm-28-23zm-3 6zm-1 11zm-19 8zm-63 0zm-2-5zm-4 6zm-1-20zm-1 19zm-3-10zm0 4zm0-11zm-1 6zm-2-15zm-2 27zm-1-5zm-6-5zm-1 6zm-2-8zm-1-9zm-1 5zm-2 4zm-1-7zm0-8zm-4 18zm-8-2zm-1 11zm-3-19zm-16 7zm-1-1zm0 7zm-85-2zm-56 8zm-190-2zm-65-5zm-10 6zm-4 1zm-14-4zm-2-3zm-21 0zm-27-4zm-3 11zm-6-14zm-9-1zm-10-3zm-2-6zm-6-3zm-7 2zm-5 10zm-16-13zm59 55zm9-23zm11 27zm3-15zm4 5zm3 10zm4-10zm5-3zm7-4zm4 13zm29-16zm0-3zm4-6zm2 3zm5 6zm2 7zm8 1zm3-6zm7 9zm2 3zm1-2zm15 4zm22-9zm1 2zm5-2zm12-1zm6-13zm9 14zm8-4zm13-12zm6 8zm6 14zm74-4zm7-4zm10 0zm4-1zm2 6zm4-14zm7 3zm7-8zm2 9zm2 3zm3-3zm1 2zm1-6zm25 4zm4 7zm1 3zm7-2zm1-12zm2-5zm1 16zm0 9zm4-4zm11-3zm1 5zm87-4zm4 8zm2-26zm6 5zm1 16zm0-17zm0 13zm1 2zm3-10zm10-7zm0 22zm3-16zm6-2zm5-2zm47-1zm10 17zm3-5zm9-4zm9 9zm22-9zm5 15zm5-6zm5-17zm14 0zm1 14zm13-18zm11 20zm9-6zm1-9zm6-4zm16 27zm3-3zm31-13zm60 8zm9-15zm2 24zm6-16zm2 12zm1-11zm7-9zm0 10zm2 11zm13 1zm2-13zm-2 19zm-124 12zm-21 1zm-1-15zm-16 5zm-1 6zm-5 12zm-21 3zm-16-1zm-15-22zm-1-4zm-2 24zm-1-19zm-3 16zm-25-12zm-1 15zm-1-18zm-2 22zm-3-26zm-1 16zm-2-3zm-9 6zm-12-16zm-1 19zm-3 3zm0-26zm-3 12zm-8-12zm-2 14zm-6-12zm0 26zm-5-12zm-1-1zm-12-14zm-7 9zm-77 10zm-8 6zm-11 0zm-1-7zm-1-7zm-5 6zm-2-1zm-3 11zm0-12zm-3-13zm0 10zm0 2zm-7 7zm0 3zm0-12zm0 10zm-9-15zm-3 8zm-5 4zm-4-16zm0 15zm0 1zm-9-10zm-6-9zm-57 10zm-6 5zm-12 5zm-6 2zm-1-22zm-1 22zm-7-5zm-53-13zm0 12zm-11-2zm-5 7zm-5-7zm-4-8zm-2 3zm-2-4zm-5 14zm-2 1zm-3-10zm0 15zm-3-19zm-1 16zm-1-12zm0 17zm-1-21zm-4 6zm-7 3zm-1-17zm-15 12zm-1 1zm-15-12zm-1 21zm-8-14zm-1-7zm-89 9zm-17-9zm-20 11zm17 44zm1-5zm6-1zm10-19zm10 8zm115 4zm9 9zm2-8zm6 6zm0-2zm1-13zm10 10zm5 3zm5-3zm0-4zm2-1zm5 8zm10-15zm8 24zm3-26zm6 13zm33 2zm8 3zm11-16zm84 14zm6-8zm3-7zm6 10zm4-2zm13 15zm4-20zm1-3zm6 8zm2-8zm3 8zm0 19zm5-19zm4 0zm6 12zm15-14zm3 7zm1 9zm3-6zm21-5zm55 14zm0-22zm4-5zm6 11zm21-6zm13 6zm34 9zm8-13zm0 4zm0 5zm2 7zm5 1zm4-13zm9 7zm6-15zm1 18zm4-11zm2 4zm4-1zm5 4zm2-4zm35 7zm9-8zm15-11zm12 4zm16 0zm3 0zm7 46zm-16-11zm-34-5zm-11 3zm-7 11zm-26 2zm-1-10zm-10-10zm-10 4zm-1-4zm-1 18zm-2 5zm0-10zm-1-2zm0 12zm0-8zm-6 7zm-1-18zm-2 11zm-4 13zm-3-26zm0 0zm0 1zm0 5zm-2 6zm-2 0zm-5-3zm-5 9zm-5 5zm-63-17zm-29-1zm-1 7zm-4-10zm-4-3zm-1 22zm0 3zm-11-16zm-15 0zm-3 4zm-9 8zm-1 1zm-41-21zm-4 0zm-6 16zm-8 8zm-8-18zm-17 14zm-77-7zm-17-3zm-2-11zm-15 4zm0 16zm-30-4zm-27-13zm-8 3zm-13-3zm-4 21zm-1-12zm-1-14zm0 2zm-32 9zm-73 10zm-13 5zm0-13zm-6 13zm-1-7zm-2 0zm-4-6zm-1-2zm-1 3zm0 8zm-3-3zm0 1zm-14 7zm-8-10zm-8 0zm-3 6zm-3-6zm-1 1zm-6-13zm-2 3zm-10 6zm-6 3zm-13 13zm22 3zm1 1zm1 9zm14-3zm6 6zm2-13zm5 7zm3 11zm1-13zm1-1zm5-3zm0-2zm5-1zm3 12zm8-10zm2 7zm1-4zm1-4zm10 0zm6 22zm7-24zm1 10zm3 1zm10-9zm41 22zm47-20zm5-4zm7 15zm4 1zm3-15zm3 10zm1 17zm1-20zm2 2zm0 4zm6 8zm9-12zm6 0zm13 14zm7-1zm8 1zm6-19zm2 0zm66 24zm3-11zm6 1zm9 6zm18-7zm1-2zm15 9zm1-6zm15-15zm106-1zm84-2zm7 0zm8 2zm10 4zm18-3zm1-4zm0 16zm5-8zm8 3zm2 10zm59 4zm16-2zm32 5zm6-6zm25 18zm-15 13zm-1-4zm-10 1zm-2 3zm-1 5zm-8-13zm-14 2zm-28 12zm-15-8zm-266 2zm-30-15zm-8 11zm-2 7zm-1-1zm-3-7zm-2-7zm-6-4zm-3 13zm-10 5zm-3-2zm-1 6zm-8-5zm-3-7zm-2 7zm-1 1zm-2-7zm-2-6zm0 0zm-3 15zm-2-18zm-5-4zm-6 20zm-9-11zm-14 6zm-3-7zm-25-12zm-23 3zm-1-2zm-15 4zm-47 19zm-119-18zm-13 5zm-23-11zm-3 5zm-4 15zm-2-11zm-10 5zm-17 1zm45 20zm273-6zm25 0zm4 16zm2-12zm5-1zm1 8zm3 8zm3 8zm3-4zm10-13zm8 19zm1-7zm1 5zm2-1zm1-20zm0 1zm3 4zm33-11zm267 3zm7 1zm11 11zm4-3zm17-11zm10 12zm8 10zm25 0zm3-7zm2-15zm29 15zm14-14zm4 8zm8 11zm4 8zm71-7zm-60 29zm-27 6zm-4-10zm-1 3zm-15-15zm-1 23zm-12-15zm-7 2zm-15 3zm-16-2zm-7-10zm-2 7zm-3 15zm-4-1zm-1-15zm-5 2zm-2 10zm-2-22zm-1 16zm-1 5zm-5 0zm-5-8zm0 5zm-5-17zm-4 21zm-7-5zm-5 8zm-297-19zm-4-7zm-3 6zm-6 8zm-4-10zm-48 6zm-26-8zm403 36zm1 4zm5-6zm4-7zm28 2zm28 16zm12-2zm2 11zm0-11zm1-5zm7-1zm14 10zm16-10zm8-7zm2-2zm11 8zm6 3zm4 11zm19-21zm31 13zm-42 30zm-13 8zm-22 5zm-14-11zm-17-11zm-6 37zm10-2zm38-4zm8-6zm4 3zm2 23zm9-20zm10 6zm0-6zm6 21zm4-4zm1-2zm61 20zm-44 4zm-34 11zm-15-13zm-7-14zm-5 14zm-5 8zm-27-6zm28 32zm16 11zm13-20zm23-9zm18 10zm-9 26zm-7 23zm-2-18zm-10-4zm0-3zm-1 10zm-2 7zm-13-14zm-2 10zm-1-10zm-3 13zm-3-14zm-235 40zm1 5zm3 4zm4-1zm249-17zm9 15zm5 7zm6-14zm3-10zm8 9zm23 34zm-29-7zm-7 17zm-4-26zm-27 27zm-6-27zm-226 7zm-2 15zm-1-16zm-2 14zm-1-18zm-1 30zm5 6zm9 0zm0 14zm161-9zm43-1zm26-8zm1-2zm14 14zm3-16zm0 27zm2-8zm1 0zm2-4zm10-13zm10 18zm7 3zm10 0zm14-10zm17-1zm51-7zm-28 33zm-19-5zm-22 12zm-25-1zm0-16zm-3 12zm-3-5zm-7 20zm-4-8zm-1-12zm-5 3zm-13-2zm-1-1zm-5-7zm-4 12zm-3 6zm-2-7zm-5 6zm-31 6zm-36 1zm-9-20zm-123 23zm-4 2zm-2-2zm-7-15zm-1 5zm-5-15zm0 18zm-1-20zm19 35zm2 13zm10 6zm3-1zm3 1zm60-1zm41 2zm41-12zm17-13zm6 8zm3 14zm10 0zm1-5zm3 12zm5-12zm1 10zm1-14zm9-8zm5-1zm11 14zm6 5zm0-18zm3 20zm5-17zm5 15zm1 3zm7-5zm0-9zm9-2zm0 1zm4 8zm2-8zm4-11zm3 2zm3-2zm4 9zm1-8zm29 12zm-25 20zm-29 24zm-5-18zm-5 5zm-21-12zm-2 25zm-7-6zm-8-4zm-8-14zm-12 6zm-6-3zm-4 4zm-7 0zm-1 2zm-14 17zm-7-23zm-7 12zm-4 5zm-2-14zm-49 10zm-12-15zm-30 24zm-4-6zm-12-8zm-4 13zm-5-17zm0 3zm-6-9zm33 40zm4 4zm4-3zm10 13zm3-22zm5 22zm7 0zm2-4zm2-17zm1 21zm4-13zm5 10zm3-22zm3 8zm5 17zm6-25zm8 9zm21 14zm18-14zm7 6zm9-3zm1 12zm4-3zm16 2zm-16 17zm-6-2zm-22 16zm-2-24zm-4 25zm-3-3zm-5-19zm-4 4zm-10-10zm-3 28zm-12-7zm-1 1zm-5 6zm-3-27zm0 22zm-6 2zm0-3zm-1 5zm-1-15zm-2-9zm-4 8zm-2-4zm-2 3zm-1 11zm0 8zm-5-27zm-3 1zm-2-1zm-1 1zm-1 1zm-12-2zm-7 20zm-5-6zm-22-1zm-19 0zm42 23zm12 1zm4 12zm5-16zm4 14zm5-3zm14 8zm1-1zm3-6zm4 2zm5-8zm1 0zm0-4zm13 13zm12-3zm17 4zm3-10zm4 4zm8-4zm10 3zm3-7zm10 10zm22 8zm5-8zm7 3zm33 8zm-13 15zm-8 0zm-15-2zm0 11zm-7-3zm0-11zm-13-7zm-3 18zm-7 6zm-57-7zm0-6zm-45 8zm0-18zm-9 4zm-4 5zm-36 3zm29 16zm44 3zm0 23zm59-13zm3-4zm10 1zm4 3zm11-4zm2 3zm2-8zm1 5zm10-7zm0 7zm0 11zm6 4zm6-4zm1-20zm2 5zm13 15zm3-10zm10 8zm7 2zm-25 12zm-19 0zm-1 1zm-2-1zm-1 17zm-36-8z" stroke="#cdcdcd" stroke-width="25" stroke-linecap="round" fill="none"/><path transform="scale(.1)" d="M5841 4969zm-55-3zm-16 13zm-225-17zm-8 3zm-19 5zm-63-9zm-5 34zm29 13zm5-17zm54-4zm2 1zm21 4zm34 12zm11-16zm3 20zm2-5zm48 0zm47-15zm0-6zm17 14zm151 11zm97 15zm-34 0zm-38 11zm-22-20zm-29-2zm-91 25zm-36-7zm-43-16zm-14 25zm-6-24zm-14 4zm-2 5zm-66 3zm-11-11zm-3 14zm-68-11zm-39-1zm97 31zm79-2zm1 11zm79 2zm35-5zm90-3zm8 12zm59-4zm54-6zm19-3zm48-2zm74 39zm-80 3zm-9 2zm-115 2zm-56-2zm-6-21zm-12 22zm-29 2zm-20-15zm-24-1zm-8 5zm-47-1zm-38 14zm-64-21zm-62 3zm-130 28zm134 6zm28 4zm22-17zm5 12zm6-9zm73 20zm34-21zm1 24zm76-2zm43-20zm30 1zm96 22zm66-6zm43-16zm39 21zm30 30zm-27 1zm-5-11zm-22-1zm-33-13zm-50 0zm-28 13zm-20 1zm-27-12zm-10 9zm-12-9zm-75 0zm-91 3zm-13 18zm-48-4zm-9-19zm-7 18zm-101 3zm-24 0zm-52-19zm-14 7zm-59-10zm-13 37zm26 7zm165 8zm32-18zm39 10zm67 7zm23-9zm68-7zm21-2zm28 25zm28-16zm99-13zm63 3zm57 20zm82 28zm-49-20zm-62 5zm-39 22zm-42-1zm-50-24zm-49 24zm-7-5zm-7-3zm-4-6zm-130 15zm-50 1zm-55-27zm-51 12zm-56 12zm-25-2zm-33-18zm-44-4zm12 43zm8 14zm154-7zm13-5zm51 8zm36-7zm13 9zm43-17zm3 6zm0 11zm14-27zm13 24zm30-24zm31 18zm35-4zm57 11zm4-15zm35 12zm12-3zm31 6zm20-3zm23-11zm21 6zm37-5zm2-4zm33 3zm35 9zm-160 19zm-61 8zm-55-5zm-24 16zm-22-7zm-9 6zm-66-22zm-16 1zm-30 8zm-9 3zm-8 8zm-52-11zm-16-8zm-30 0zm-49 1zm-4 6zm-55 6zm-25-18zm-47 3zm-1 23zm-23-2zm-14-17zm-20 21zm5 5zm18 0zm58 0zm95 0zm100 4zm140 0zm82-4zm14 16zm4-18zm60 27zm39-16zm34-11zm43 14zm5 10zm74 10zm-139-1zm-58 23zm-124-12zm-36-5zm-56-1zm-14 11zm-84 7zm-205-4zm-45-21zm-12 26zm-35-3zm20 30zm362-1zm30-15zm26 2zm26-3zm67-2zm1-7zm53 24zm9-14zm15 8zm42-12zm2 5zm54-8zm36 15zm17-8zm28 31zm-26 9zm-116-18zm-26 12zm-242 10zm-354-19zm318 31zm162 0zm94 18zm160-21zm-50 28zm-40 20zm-77-19zm-65 14zm-69-16zm-1 1zm-137 55zm10-17zm91 10zm53 1zm63 2zm12-8zm37 9zm15 35zm-10-4zm-76-23zm-12 24zm-52-12zm-71-8zm-52-2zm44 29zm79 49zm-84-12zm54 21zm-157 422zm67 78zm89 13zm46 109zm37 55zm-229 189zm7-10zm181 59zm62 10zm17-18zm-4 164z" stroke="#d3cbef" stroke-width="25" stroke-linecap="round" fill="none"/><path transform="scale(.1)" d="M5797 4974zm-286-24zm-12 4zm-5 4zm-30 18zm-24 2zm12 29zm85-24zm24 24zm16 1zm10-13zm152 6zm181-10zm4 9zm-45 31zm-15-15zm-144 14zm-55-11zm-23 13zm-2 1zm-3-21zm-53 12zm-21-4zm0 2zm-24 1zm-59-10zm-16 19zm-47 30zm101-2zm187-8zm6 11zm9-9zm114-7zm20 7zm16-14zm34 6zm36 4zm61-2zm5 5zm13 4zm-145 24zm-36-6zm-73 10zm-29-6zm-26-6zm-51 3zm-94 10zm-52-4zm-3 2zm-69 9zm-3-14zm-28 1zm-137-2zm-2 8zm-36-5zm154 29zm59 6zm37-4zm2 4zm219-1zm9-15zm137 24zm69 0zm87 4zm74-26zm-220 53zm-47-4zm-37-13zm-54 7zm-256-4zm-8-2zm-38-3zm-11 7zm-29 9zm-10-13zm-176 16zm168 6zm39 3zm151 16zm1 8zm23-28zm502 17zm98 14zm-76 25zm-22-6zm-1-19zm-102 17zm-204 3zm-47-2zm-4 0zm-169-16zm-49 6zm-34 15zm-33-8zm-22-10zm-331 3zm-92 6zm-38 7zm-2 10zm409 6zm294 7zm125-3zm62 17zm172-13zm-55 24zm-87-6zm-38 8zm-113 1zm-40-1zm-105 5zm-20-13zm-10 9zm-123 13zm-4-8zm-123 10zm-276-2zm-3 26zm423 4zm160-5zm69 0zm116-15zm97 19zm155-7zm20 1zm85 13zm-9 23zm-57-8zm-149-7zm-101 0zm-411 13zm-64-17zm21 48zm452-15zm46 3zm33-11zm27 17zm73-4zm38 9zm22 23zm-359-8zm-25 6zm106 22zm213 21zm14 19zm-1095 13zm0 6zm1266 36zm-198 4zm-76-9zm-41-1zm-20 4zm82 38zm48 1zm15-13zm7 8zm-1169 120zm-2 18zm733 40zm-27 46zm-3-11zm-693-12zm25 47zm657-14zm-601 46zm-60 29zm28-9zm588 24zm-532 9zm-100 11zm705 47zm-10-5zm-25 15zm-334 30zm34-9zm11 3zm114-18zm22 13zm142-1zm27 12zm27-18zm-23 26zm-107 8zm-23 14zm-167-22zm-6 24zm44 28zm8 0zm111-8zm27 10zm11-9zm21-1zm60 19zm-467 13zm-8 8zm10 15zm168 5zm144 9zm17-18zm22 42zm-41 10zm-3-17zm-11-1zm-5 13zm-313-19zm314 46zm17-10z" stroke="#b3a4e1" stroke-width="25" stroke-linecap="round" fill="none"/><path transform="scale(.1)" d="M5468 4953zm-12 43zm114 8zm305 7zm-166 20zm18 28zm96 4zm259 17zm-4 10zm-404-11zm-390 1zm-66 10zm432 32zm188-5zm52-2zm50 34zm-44-16zm-15 13zm-340-4zm-130-9zm27 50zm450 2zm245 18zm-323-8zm-109 20zm-713-3zm-28 1zm23 20zm745 8zm134 5zm187 20zm-68-4zm-446 2zm-185-14zm-5 2zm-100 56zm614 11zm-837 9zm-25-9zm729 32zm406 46zm-74 16zm0-8zm79-5zm-273 40zm-114 39zm84-8zm115 6zm68 39zm-1101-21zm-66 95zm-15 33zm-27-7zm798 81zm-755 60zm653 51zm-6-2zm-637 15zm59 8zm569-5zm-543 43zm-112-16zm729 78zm-63-14zm-457 27zm14 16zm83-9zm69 19zm216 11zm-223-7zm-164 51zm372-14zm99 23zm-3 24zm-490-15zm35 48zm6-8zm297 0zm113-21z" stroke="#8775cb" stroke-width="24" stroke-linecap="round" fill="none"/><use href="#trj" transform="translate(109.3 305.6) scale(0.791 0.781)" stroke="#111" stroke-width="1.35"/><text x="465.3" y="563.5" font-family='"Liberation Serif", serif' font-size="15.5" font-weight="bold" text-anchor="middle" transform="rotate(-90 465.3 563.5)">HAVCR2</text><path transform="scale(.1)" d="M7570 4967zm-23 8zm-5-24zm118 51zm331 26zm-22-12zm-251 10zm-4-3zm-4 6zm-6-5zm-408 41zm18-6zm218-4zm54 3zm166 9zm81-25zm61 26zm78-1zm123 15zm-37-9zm-74 12zm-137 14zm-70-18zm-68 17zm-200-1zm-9-27zm-154 25zm-2 0zm-6 2zm-6-1zm-4-2zm0-1zm-5-14zm-1-9zm-1 8zm-10 5zm-15 3zm-13-13zm-2 7zm-1 13zm-2-18zm-5 10zm-21 24zm6 10zm4-19zm5 17zm1-17zm12 2zm49 12zm1-9zm6-4zm2-1zm13 14zm42-2zm52-11zm17 15zm217 11zm28-10zm2 3zm90-14zm8 4zm30-10zm19 25zm69-10zm46-7zm202 35zm-231 0zm-15 3zm-35-10zm-42 13zm-17 0zm-34 0zm-182 5zm-11-18zm-61-4zm-24 25zm-63-1zm-105-13zm-10 2zm-8-14zm0 9zm-6-10zm-67 17zm-8-11zm-15 12zm-4-6zm-1-10zm0 18zm-13-12zm-7 13zm-7 7zm0-2zm-15-2zm-11 2zm-23 3zm-164-1zm-5 19zm2 1zm2 10zm3-26zm2 19zm22 1zm9-5zm1 0zm14 3zm52-5zm25 11zm8-16zm3 15zm12-2zm27 3zm14-4zm3-8zm15 10zm2-21zm3-1zm276 3zm115 3zm43 21zm65-29zm177 20zm150-4zm62 32zm-17-10zm-8 18zm-46-23zm-12 7zm-60-2zm-18 15zm-201 6zm-204-22zm-50 11zm-24-6zm-275-10zm-64 10zm-2-7zm-7 8zm-23 10zm-11 4zm-19-22zm-20-2zm-1 13zm-1 10zm-5-1zm-3-25zm-2 4zm0 22zm-2-11zm-3-6zm-2 13zm-1 7zm-1-26zm0 17zm-1-2zm0 8zm-2-12zm-1-2zm-2 8zm-1-2zm-1-9zm0 18zm-2-6zm0-10zm-4 12zm-5-7zm-4 6zm-1-4zm0-7zm-7-1zm-3 22zm5 5zm4 7zm23 5zm14-18zm0-1zm22 2zm3 13zm6 8zm2 1zm16-3zm209 4zm2-12zm13 14zm49-11zm43 5zm166-17zm78 12zm5-7zm176 10zm33-2zm54-8zm6-5zm26 13zm50 6zm22-17zm10-1zm24 5zm30 0zm126 13zm12-15zm9-3zm12 39zm-92 12zm-13-17zm-43 14zm-314-8zm-51-9zm-37-2zm-26-2zm-98 9zm-39 18zm-58-21zm-43 3zm-2 13zm-54 4zm-18-9zm-16-2zm-8-4zm-6 13zm-2-19zm-2 4zm0 15zm-26-17zm-2 20zm-35-4zm-169 3zm-20-7zm-4-21zm-4 0zm-1 21zm-2-8zm-4-4zm-17 17zm-13-26zm48 40zm0 0zm5 0zm1 6zm3-7zm1 10zm0-7zm1 5zm11-14zm170 2zm33 3zm6 1zm12 6zm9 7zm1 3zm4-18zm3 20zm2-23zm7 25zm4-2zm0-24zm3 18zm1 6zm5-15zm50 2zm80-12zm13 4zm42-2zm153 13zm10-8zm30 17zm48-1zm58-5zm208-11zm37 18zm23-7zm87 6zm1-13zm-54 38zm-38 4zm-181-22zm-100 25zm-100-5zm-9-4zm-238 10zm-57-13zm-1 13zm-78-22zm-11-7zm-40 13zm-188 10zm-11-18zm-12-1zm-6 1zm-7 13zm-4-4zm0 15zm-1-11zm-31 36zm2-1zm9-2zm376-2zm1 9zm49-7zm292 5zm19-25zm79 13zm8-1zm1 13zm1-5zm27-14zm56 7zm6-5zm0 19zm18-1zm14-2zm185 9zm-49 19zm-51-2zm-82-11zm-193 11zm-21 2zm-5-21zm-9 13zm-10 5zm-713-12zm-10-6zm-8 27zm-1-2zm-49 32zm9 0zm20-16zm4 4zm1 0zm7-13zm1-1zm3 1zm813 1zm82 13zm125-2zm33 6zm37-10zm18 47zm-19-16zm-1-6zm-20-6zm-16 25zm-23-21zm-46 15zm-13-7zm-45-8zm-67 24zm-13-28zm-10 24zm-2 0zm-40-4zm-10-18zm-7 5zm-779-7zm-20 17zm-7-15zm-12 10zm-3 14zm-12 24zm1-6zm28-9zm762 22zm31-27zm72 21zm11-8zm29 0zm5 0zm15 9zm31-2zm1-7zm24-5zm37 16zm28-15zm59 20zm-79 20zm-8-18zm-30 9zm-37-8zm-52 7zm-10 6zm-33-10zm-70 15zm-32 3zm-6-2zm-771-22zm-26 23zm-4 2zm-1 0zm-1 3zm-9-2zm-5 3zm-2-3zm-45 1zm39 17zm7-6zm0-5zm32 14zm22-12zm788 6zm14 5zm46-2zm3-4zm86 14zm82-2zm6-14zm3 16zm13-10zm42 6zm4 7zm12-18zm-22 48zm-170-20zm-37 20zm-91-27zm-3 19zm-828-9zm-3 15zm-1-7zm-3-18zm-7 14zm-12-2zm4 27zm4 19zm3-17zm7 8zm11 4zm945-23zm-949 41zm-17 16zm-2 1zm0-27zm-2 13zm0-10zm-10 20zm11 28zm1-10zm3 16zm-4 17zm-2 4zm-3-8zm-4 7zm0-18zm-2 23zm-4-7zm-11-11zm-25 32zm33 13zm0 5zm4-24zm3 16zm0 10zm2-5zm23 7zm694-5zm4-1zm1-4zm6-3zm2-8zm2 2zm4 0zm1 2zm7-2zm4-5zm1 2zm2-5zm0 1zm5-2zm4 5zm2 1zm13-5zm1 2zm-64 36zm-2-7zm0-1zm-3 0zm-6 5zm-1 3zm-12 17zm-655 2zm-6-8zm-48 7zm38 8zm9 23zm8-8zm2 2zm1 0zm2-9zm4 14zm12 1zm10-24zm27 22zm587-4zm0-2zm6-8zm0 5zm4-13zm2 1zm81 39zm-99 10zm-3-1zm-587-1zm-1 4zm-10-7zm-4-12zm-2 4zm-4 12zm-14-17zm-15 19zm-4-17zm-13 18zm-17 19zm1 3zm10 3zm5-14zm7-7zm0 6zm2 12zm4-10zm1 6zm0 12zm2-21zm4 22zm0-5zm1-1zm1-8zm2-12zm8 12zm2 15zm3-15zm3 2zm1-9zm4-3zm2 16zm1-10zm3-8zm13-1zm13 18zm1-2zm1-13zm26 24zm13-20zm522 14zm6-8zm5-2zm2-3zm302 14zm13-3zm18 29zm-10-10zm-9 7zm-2 3zm-3-7zm0 0zm-2-4zm-2 6zm-3 12zm-4-8zm-1-5zm-3 9zm-14-6zm-1 6zm-30 5zm-179-15zm-87-10zm-529 18zm-10 0zm-10-14zm-22-1zm-3-2zm-6 2zm-11-4zm-10 23zm-3-19zm-5-1zm-1 7zm0 10zm-3 1zm-2-22zm0 2zm0 3zm-7 14zm-1-19zm-2 13zm-3 2zm-2 0zm-1-9zm0 7zm-5-4zm-3-5zm-7 2zm-2 3zm53 23zm61 0zm1 8zm0 15zm8-5zm5-10zm3-6zm5 23zm535-2zm7-2zm1-1zm10-22zm4 12zm0 16zm4-9zm10 5zm1-5zm7 3zm32-13zm111 16zm16-5zm0-15zm86 1zm12-3zm9-1zm13-1zm75 46zm-40 4zm-9-16zm-40 24zm-61-8zm-23-1zm-5-9zm-1 9zm-7 1zm-6-4zm-1-6zm-2 3zm-26 11zm-1 0zm-1-9zm-17-13zm-7 18zm-1 4zm0-6zm-16-13zm-2 15zm-49-8zm-8 6zm-11 8zm-2-10zm-7-3zm-1-13zm-1 10zm0 4zm-1 1zm-3-13zm0 12zm-5 4zm-4-16zm0 17zm-4-12zm-2 13zm-4-1zm-1 9zm-1 0zm-1-13zm-5 4zm-2-7zm-6-8zm0 13zm-5-18zm-39 26zm-107-20zm-59 5zm-199 15zm-68-9zm-10 8zm-2-5zm-16-10zm-10-8zm-2 25zm-2-4zm-12-15zm-19-7zm50 43zm17-12zm7 18zm12 6zm3-5zm1 7zm0-5zm0 5zm13-21zm3 12zm11-18zm13 1zm3 4zm16 21zm11-15zm6 10zm3-6zm1 9zm63 0zm16-5zm13 4zm6-7zm3-6zm1 14zm8-20zm64 3zm12 21zm0-6zm0-11zm2 8zm0 6zm28-24zm3 6zm14-7zm12-1zm4 26zm1-15zm13 10zm5-2zm1-5zm2 15zm20-2zm64-25zm13 12zm4-9zm0-4zm1 13zm2 3zm2-15zm7 7zm14-2zm2 16zm2-11zm2-8zm2 0zm3-4zm0 2zm3 5zm1-1zm3 1zm1 3zm15-8zm14 16zm1-18zm4 16zm7-12zm16 1zm0 22zm3-2zm13 4zm9-27zm3 17zm3 4zm11 4zm2-14zm2-7zm22-2zm36 18zm10-3zm20-9zm91 5zm1-14zm1 8zm4-9zm2 7zm5 4zm3-2zm1 2zm4-4zm4 13zm6-10zm8 11zm10-15zm10 20zm-22 10zm-129-2zm-7 22zm-9-3zm-8-11zm-2 8zm-17 7zm-8-22zm-7 14zm-13-12zm-34 8zm-5-5zm-11-6zm-3 8zm-11-11zm-7 17zm-45 11zm-4-13zm-2-8zm-9 11zm-8-17zm-1 18zm-3-15zm-1 13zm-3-1zm-1 1zm-62 5zm-16-6zm-2-4zm-7-1zm-2 17zm-1-25zm-2 15zm-2-19zm-1 18zm0 0zm-6 1zm0 0zm-6-4zm-1 4zm-25-10zm-2 10zm-16 4zm-37-23zm-13 17zm-4-11zm-19 21zm-10-6zm-34-18zm-9 17zm-13 8zm-2-7zm-1-5zm-1 7zm-7-12zm-4 9zm-7-13zm-2 14zm0-3zm-1-14zm-1 1zm0-4zm0 19zm-1-8zm-5 7zm-6 7zm-1 3zm0-5zm0 0zm0-21zm0 8zm-3-8zm-3 9zm-1-6zm-1 17zm-3-5zm-3-13zm-1 23zm-4-23zm-5 15zm-2 0zm-6-5zm-6 12zm-13-10zm-1 7zm-3-6zm-1-2zm-1-8zm-67 1zm-17-5zm-11 11zm-40 40zm14-13zm26-1zm4 4zm5-2zm97-1zm11 4zm4-15zm3 12zm0-3zm7 13zm4-7zm4 0zm9 9zm10-6zm2-17zm1 13zm3-11zm13 1zm13-3zm9-1zm31 15zm8 13zm3-29zm7 20zm6 7zm5-8zm1-9zm67 16zm9-18zm13 10zm0 4zm14 3zm7-4zm4-16zm6 8zm4 16zm4-12zm1-2zm2-1zm4 8zm0-16zm2-3zm5 1zm0 6zm3 18zm2-20zm1 14zm4-18zm1 14zm14-9zm28 1zm29 8zm13 11zm3-1zm0-6zm2-15zm10 17zm17-7zm30-7zm6-10zm8 22zm7-10zm0 6zm2-17zm0 23zm1-6zm2-12zm4-1zm0 19zm0 1zm2-2zm0-3zm1 2zm10-10zm2-7zm1 20zm6-18zm1 2zm0 6zm1 1zm6-5zm3 14zm8-25zm8 26zm19-17zm26-7zm7 5zm16-3zm0 2zm18 14zm76 2zm16 27zm-91 1zm-4 5zm-13 3zm-8-24zm-8-3zm-12 26zm-32-16zm-11 5zm-8 12zm-2-19zm-2 14zm-1-3zm-4-11zm-5 14zm-1-7zm-1-5zm-10-9zm-4 12zm0-6zm-4-1zm-1-2zm-1 17zm-1-9zm-4-9zm-1 10zm0-14zm-2 29zm-6-13zm-6 4zm-8 2zm-4-5zm-7 9zm-71-11zm-12-3zm-1-3zm-10 6zm-4 0zm-5 0zm-1-5zm-7-8zm-19-2zm-14 7zm-37 11zm-10-4zm-116 0zm-5-7zm-2 15zm-6-4zm-6 9zm-57-23zm-1 5zm-17 17zm-3-3zm-25-18zm-73 14zm-15-15zm-5 22zm-4 0zm-6 3zm-16-5zm-3-7zm-1 6zm0 5zm-10-2zm0-22zm-4 24zm-4-11zm-3 12zm-4-15zm-2 12zm-2-3zm-2 3zm-12-24zm-23 41zm39-5zm1 13zm2-10zm9-10zm1 6zm1-1zm4-4zm3 22zm1-24zm5 5zm8 11zm2-5zm6 12zm6-6zm1-7zm3-6zm1 8zm10 10zm8 2zm11 1zm84-20zm5 9zm3 5zm7-8zm3-3zm11-6zm4 23zm20 4zm9 0zm1-13zm17 8zm3-24zm5 7zm18-1zm1-5zm52 16zm11-13zm2 15zm11-3zm3 10zm5-14zm3-2zm0 11zm16-6zm1 3zm12-11zm218 1zm8-4zm19 9zm10-10zm55-2zm2 23zm30 4zm4-9zm4-12zm3 9zm2 4zm3-14zm5-5zm6 23zm33-11zm134 35zm-100-5zm-19 9zm-6-19zm-12 6zm-14 13zm-8-6zm-4-12zm-16 18zm-21-21zm-24 28zm-21-1zm-20-27zm-264 11zm-18 5zm-6-11zm-8 11zm-1-2zm-1-3zm-3 1zm-1-1zm-1-1zm-5-10zm0 12zm-1 8zm-9-10zm-4 12zm-1-10zm-5 14zm0-7zm-4-5zm-2-13zm-6 23zm-17 0zm-57-18zm-16-6zm-2 4zm-2-3zm-6 2zm-34 2zm-4 6zm-84 14zm-36-15zm-8-4zm-4-7zm-7 0zm-5 1zm-14 9zm0 2zm-1 11zm-2-20zm-2 25zm-4 0zm0-26zm-18 10zm302 43zm6 2zm1-25zm12 0zm5 26zm2-26zm0 18zm8 6zm2-9zm1 12zm1-23zm2-2zm6 11zm4 7zm1-12zm1-5zm1 10zm2-4zm0-10zm2 14zm3-2zm2 14zm1-24zm1 3zm1 0zm0 22zm5-17zm2-4zm5-6zm15 18zm301 7zm1-10zm6 4zm4 7zm19-17zm14 12zm2-11zm5 1zm3 16zm3-3zm14-10zm4-12zm5 6zm23 6zm14 43zm-27-4zm-19-3zm-17-15zm-13 16zm-2-22zm-1 24zm-1-9zm-6 5zm-7-4zm-6-3zm-4 3zm-1-7zm0 9zm-4-1zm-2-1zm-11-12zm-1 1zm-8 14zm-331-13zm-19 19zm-15-10zm358 35zm2-14zm9 21zm17-25zm0-1zm3 3zm2 17zm14-11zm0-7zm5 10zm25 12zm9-17zm5-8zm28 27zm4-25zm2 26zm3-21zm25 7zm13 0zm3-1zm16 0zm76-7zm-25 53zm-54-9zm-7 1zm-7-4zm-13-16zm-4 26zm-2-26zm-2 0zm-3 6zm-36 18zm-1-25zm-13 29zm-3-9zm-11-19zm-5 6zm-43-6zm120 36zm5 21zm0-4zm1 4zm7 0zm7-1zm4-8zm2-7zm4-12zm10 6zm2-3zm3 9zm3 44zm-3-5zm-18 3zm-2-16zm-2 11zm-6 4zm-9-12zm0-5zm-43-5zm14 45zm28 3zm4-16zm15 10zm21-8zm5 16zm3 3zm-20 6zm-8 25zm-10-15zm0 18zm-242 13zm11 4zm2 13zm186-15zm27 7zm27-20zm16 20zm8-17zm20 14zm41 3zm14 6zm-16 28zm-38-21zm-11 10zm-1 0zm-10-10zm-4 7zm-5 11zm-9 4zm-2-10zm-1-10zm-10 4zm-1 16zm-231 1zm-1-8zm-2 11zm-1-15zm-3-2zm-3-6zm-3 5zm10 21zm2 14zm2 3zm3-7zm3-4zm162-4zm59 14zm3 9zm16-20zm19 11zm22-10zm75 2zm-31 48zm-26-22zm-18 21zm-4-4zm-4-6zm-2 6zm-4-1zm-14-14zm-12 12zm-6-9zm-24 15zm-53 1zm-1 0zm-143 2zm-1-2zm-3-6zm-1-6zm-3-12zm-2 6zm-4 2zm17 24zm3 5zm3-7zm4 19zm9-5zm59-4zm88-1zm22 7zm7 5zm5-17zm4 15zm1 7zm7-22zm4 1zm3-3zm2 22zm9 0zm10-3zm22-1zm3-14zm3 17zm3-4zm2-15zm1 7zm2-14zm6 11zm2 15zm0-16zm0-2zm3-8zm6 1zm4 24zm-3 18zm-8-13zm-4 10zm-2 3zm-9-11zm-12 23zm-2-12zm-4-7zm-3 17zm-1 2zm-3-9zm-2-12zm-3 1zm-1-3zm-6 27zm-30-10zm-3 3zm-6-13zm-4 17zm-11-25zm-2 17zm-21 10zm-18-1zm-2-2zm-23-23zm-51 26zm-3-4zm-12 1zm-4-1zm-13-13zm-3-5zm0 7zm13 17zm8 5zm9 7zm5 12zm3-8zm2 11zm2 1zm0-13zm3 12zm1-5zm1-3zm16 3zm5-7zm1 6zm14-10zm6 0zm4-7zm2 14zm0 2zm7-3zm1 0zm26 7zm8-10zm2 13zm2-9zm2 5zm32-21zm93 31zm-61 15zm-49-18zm-6 13zm-5 11zm-1-22zm-6 21zm-20 5zm-2-10zm-16-18zm-1 13zm-2 5zm-2-14zm-14 6zm-3 16zm-1-5zm-5-7zm-4-6zm-1 14zm-3-22zm0 3zm-7 16zm0-2zm-1-17zm-3 2zm-15-1zm-3-1zm0 23zm-9-17zm-11-6zm-2 16zm2 39zm6-21zm5-2zm0 4zm1 0zm11-4zm1 19zm1-6zm12-4zm2 14zm5-9zm6-9zm15-6zm4 25zm6-20zm24-5zm7 21zm12 2zm2 0zm3-10zm1-9zm16 7zm1-5zm9 0zm14 17zm37 0zm4 27zm-3-1zm-3-7zm-10 6zm-11-19zm-2 6zm-5-1zm-2 3zm-8 19zm-3-8zm-3 2zm-6-11zm-5 5zm0 9zm-2-9zm-5 2zm-14-11zm-1-1zm-32 14zm-18-3zm-3-6zm-7-7zm-2 4zm0 6zm-27 6zm-22-19zm132 36zm10 6zm4-10zm11 9zm2 0zm5-9zm7 10zm3-1zm6-11zm2 24zm6-15zm0 14zm9-10zm6-8zm39-4zm-59 49zm-5-11zm-1-7zm-15 2zm-42 4z" stroke="#cdcdcd" stroke-width="25" stroke-linecap="round" fill="none"/><path transform="scale(.1)" d="M7842 4968zm-39 9zm-218-14zm-10 16zm-6-17zm-42 15zm-27-2zm12 26zm3-12zm6 15zm38-8zm7 10zm6-25zm108 23zm107 5zm9-13zm54-5zm45 4zm151 42zm-12-6zm-28-9zm-63-11zm-72 19zm-25-18zm-72 9zm-80 2zm-55-2zm-67 18zm-105 13zm26 5zm35 0zm99-7zm65 0zm18 15zm63-7zm128-11zm20 0zm12 21zm10-26zm56-2zm45 44zm-30 12zm-43-17zm-47 10zm-24-5zm-79 7zm-190-11zm-28-2zm-30-6zm-19 13zm-64 8zm-43 17zm37 18zm49-15zm47 4zm27 9zm93-5zm53-11zm25 6zm10 7zm148-10zm11-11zm11 15zm9-10zm29 3zm8-4zm27 17zm7-1zm64-12zm40 1zm44 10zm7 2zm-6 15zm-69 0zm-38-4zm-101 12zm-2-3zm-3-13zm-171 7zm-83 2zm-66 2zm-71 11zm-63-19zm-7 5zm-41 17zm-6-16zm-30 35zm18 10zm19-18zm151 19zm52-7zm6 3zm56-5zm65 11zm62-6zm15-6zm6 13zm148-6zm22 0zm22-16zm44 11zm25-3zm46-7zm14 11zm9 4zm12-13zm0 4zm-1 35zm-85 7zm-95 4zm-14-5zm-34-6zm-72 0zm-19-10zm-81 16zm-234-21zm-4 26zm-66-20zm-1 7zm-81 28zm49 15zm160-27zm35 6zm8 21zm8-14zm131-15zm3 24zm106-17zm0 3zm25 4zm41 3zm19 3zm30-6zm22 13zm19-18zm93-4zm30 5zm6-3zm2 18zm-9 28zm-40 4zm-21-3zm-11-16zm-18-7zm-12 1zm-45 13zm-24 3zm-58 6zm-57-23zm-29 19zm-1-9zm-1 2zm-89-4zm-34 15zm-83-7zm-3-3zm-92-9zm-27 5zm-82 12zm-38-10zm-11 10zm-22-20zm-7 11zm-14 2zm237 32zm52-11zm87 13zm43-2zm61 3zm74-18zm59-1zm7 28zm1-26zm108 5zm60 2zm0-2zm1-6zm14 7zm24-6zm-13 41zm-142 6zm-15 0zm-57-5zm-110-6zm-30 4zm-14 5zm-39 9zm-49-18zm-7-1zm-2-1zm-266 15zm-19-13zm-66-1zm27 32zm20-10zm9 10zm17-5zm242 20zm4-25zm3 9zm7 18zm69-1zm68-21zm58 3zm10 2zm104 4zm152-4zm-8 38zm-164 0zm-10-9zm-42 18zm-116-3zm-15-22zm-43 7zm-20 20zm-6 30zm73-14zm15 9zm33-8zm28 9zm47-15zm172 1zm22 21zm-105-2zm-14 7zm-94-1zm-33-3zm-127 21zm-43 25zm40 7zm18-5zm5-9zm201-8zm47 21zm8-5zm10-4zm12 11zm148 14zm-181 0zm-106-5zm-61 11zm-98-12zm-5 29zm20 2zm260 9zm-287 33zm252 22zm-304 343zm183 8zm-124 48zm-125 33zm55 23zm130 31zm53 358zm-106 88zm-66-12zm154 66zm-118 41zm23 11zm115-24zm17 41z" stroke="#d3cbef" stroke-width="25" stroke-linecap="round" fill="none"/><path transform="scale(.1)" d="M7801 4972zm-255-12zm-45 49zm37-17zm37 17zm285-8zm2-13zm213 51zm-124-20zm-9 14zm-10-1zm-118-20zm-92 19zm-1 7zm-46-27zm-23 18zm-107 6zm-6-25zm-46 39zm107 2zm102 12zm45-15zm42 9zm96-2zm85 5zm13 3zm79-5zm0-16zm16 8zm27 46zm-54-4zm-62 2zm-178-14zm-80 4zm-62 1zm-441 38zm427-15zm53-8zm9 15zm129 2zm40-4zm3-8zm84 2zm36 3zm182 1zm6 8zm9 28zm-43-17zm-136 7zm-103 4zm-89-9zm-168 20zm-5-16zm-1 21zm-14-4zm-87 3zm-81-7zm-28-11zm-9 17zm-12-10zm-217 9zm-202 34zm515-28zm2 3zm11 16zm78-11zm83-5zm70 9zm4 17zm168-27zm71 0zm43 24zm43-24zm28 9zm19 21zm-29-1zm-3 22zm-114 0zm-14-5zm-89 8zm-66-24zm-21 17zm-117-13zm-147 5zm-6 7zm-11-12zm-126-2zm-68 8zm-326-4zm19 24zm282 23zm110-3zm6-21zm61 8zm257 9zm112-4zm5-14zm6 13zm53 12zm26-13zm124-4zm166 25zm-183 0zm-56 7zm-15-9zm-499 11zm-3 9zm-22-20zm-122 13zm-30-7zm100 33zm433 14zm89-20zm72 1zm6 0zm96-1zm69 19zm15-23zm-40 51zm-15-17zm-24-3zm-96 16zm-109 2zm-218-1zm-266 7zm-85-19zm-263 7zm-43 44zm713-8zm11-2zm45 5zm42 0zm302-21zm0 2zm-152 42zm-87 6zm-64-20zm-85 19zm-744 15zm801 2zm314 19zm9 4zm-72 27zm-25-8zm-140-8zm-96 3zm-854 39zm834-19zm112 0zm17 14zm159 31zm-8-15zm-127 2zm-66 0zm-920 2zm-19 19zm-3-4zm1113 42zm-18 17zm-137-16zm-65 11zm-71-3zm-11 2zm-840-8zm-19 18zm20 23zm21-12zm-35 56zm-16 91zm27 48zm16 7zm8 56zm61 8zm-23 19zm-62-8zm717 69zm-21-17zm-522 23zm-7-15zm13 27zm66 10zm33-15zm196 17zm62-13zm3 45zm-82-11zm-80 4zm-169 28zm12 11zm6 2zm490-29zm-18 35zm-84 0zm-163-5zm-18 22zm-81-9zm-185 26zm43 4zm170 16zm161 23zm-335-8zm281 18zm18 25zm50 2z" stroke="#b3a4e1" stroke-width="25" stroke-linecap="round" fill="none"/><path transform="scale(.1)" d="M7859 4966zm-5 2zm-339-3zm60 27zm46-10zm303 3zm-41 31zm-409 25zm66 6zm19 10zm74-11zm294 4zm68-3zm149 50zm-11-7zm-172-3zm-194 1zm-131-14zm-164 14zm-148-10zm-24 2zm-39-1zm-5 44zm76-11zm98 13zm330-2zm32-9zm65 12zm219 32zm-17-18zm-645 12zm-182-12zm-95 32zm360-8zm4-1zm364 12zm18 12zm205-13zm-157 32zm-789 4zm-48 19zm269-2zm43 3zm417 4zm10-12zm76 15zm94-1zm90 5zm-64 10zm-104 5zm-491 10zm-384 3zm280 35zm139 2zm489 12zm-116 20zm-416 16zm302-9zm260 7zm-581 21zm362 40zm147 13zm-123 17zm-811-11zm1003 29zm50 104zm-1151 75zm748 67zm-73 92zm-622 37zm1 13zm46-4zm-35 16zm-12 6zm-24-11zm1 28zm679 33zm-41 0zm-197 16zm-203-3zm-12 5zm-1-10zm310 26zm120 8zm-82 19zm-15 19zm-243-1zm-192 33zm170-3zm-102 9zm-50 29zm53 12zm335 13zm-399 6z" stroke="#8775cb" stroke-width="24" stroke-linecap="round" fill="none"/><use href="#trj" transform="translate(313.8 305.6) scale(0.791 0.781)" stroke="#111" stroke-width="1.35"/><text x="677.3" y="566.5" font-family='"Liberation Serif", serif' font-size="15.5" font-weight="bold" text-anchor="middle" transform="rotate(-90 677.3 566.5)">LAG3</text><path transform="scale(.1)" d="M5506 6955zm-2-5zm-20-1zm260 14zm32 15zm78 23zm-87-5zm-54 6zm-15 8zm-33-16zm-125 15zm-29 4zm-13-8zm24 23zm23-2zm103 11zm134 12zm133-20zm124 45zm-45-21zm-104 7zm-117 12zm-165-21zm-151 28zm-20-28zm-160 14zm-7 2zm-17-13zm-1 19zm-4 3zm-10-6zm-1-1zm0 5zm-41 13zm13-1zm13-6zm10 3zm4 14zm3-10zm3 11zm0-8zm32-5zm3-5zm124 9zm157 17zm43-23zm20 18zm19-13zm27-7zm10 8zm106-6zm236-3zm81 7zm31 41zm-89-1zm-193 7zm-4-18zm-217 0zm-60 19zm-71-7zm-52-9zm-142 3zm-1 10zm-7-4zm-1-13zm-2 5zm-1 17zm-2 1zm-1-28zm-2 18zm-60-17zm-7 17zm-4-11zm0 13zm-6 0zm0 4zm-9-2zm0-4zm-9-7zm-9 4zm-1 10zm-51-21zm-187 51zm3 1zm22-3zm29 2zm5-16zm150 6zm1-3zm11 7zm5-6zm0-13zm6 20zm5-17zm1 1zm110 5zm9-8zm105 9zm21 19zm110-12zm162 1zm12 5zm146-21zm32 8zm14 3zm29 4zm41 10zm210 32zm-14-27zm-49 25zm-5-3zm-68-19zm-47-4zm-2 9zm-3 5zm-23 11zm-28-10zm-7 12zm-168 0zm-38-19zm-97-3zm-2 11zm-82 3zm-20-12zm-119 15zm-2-11zm-263-12zm-9 11zm-3-8zm-5-1zm-7 9zm-5-8zm-5 13zm-1-13zm-9 11zm-1-14zm-6 6zm-4 8zm-9 4zm-3-3zm-15 1zm-5 6zm-20 5zm-45-3zm-2-10zm-7 1zm0-14zm-2 23zm-1-11zm-3 11zm0-8zm-3 10zm-2 2zm-1-3zm0-4zm-3 6zm-1-14zm-6-2zm-2 6zm0 11zm-8-18zm-2 3zm-6 16zm-4-6zm-5-16zm-4-6zm4 30zm7 6zm8-2zm5 17zm3-20zm4 16zm3 10zm2-20zm0-3zm1 18zm1 0zm6-18zm1 21zm2-14zm5-4zm10 5zm20 8zm10-2zm2 10zm0-7zm9-8zm3 2zm3-5zm1-11zm4 5zm15 19zm2-19zm17-5zm165 21zm24 6zm33-19zm157 2zm25 18zm66-8zm157-19zm8 17zm96 2zm15-8zm146-9zm72 23zm7-18zm9 15zm76 6zm52 25zm-44-13zm-42-11zm-28 14zm-125 2zm-21-13zm-5 15zm-2 4zm-155-5zm-5-16zm-110 20zm-135-3zm-30 1zm-8 0zm-129-17zm-16 4zm-40 23zm-31-21zm-1 2zm-2-10zm-5 20zm-4 7zm-4-18zm-223 3zm-12 6zm-1 8zm-14 1zm-2-7zm-20-17zm22 34zm4-2zm0-4zm1 2zm4 5zm3 12zm9 8zm2-7zm2 6zm1-21zm212 1zm8 15zm8-17zm9 9zm9 1zm7 4zm1-3zm3-7zm4-3zm4 9zm1-9zm1 7zm10 6zm4 3zm4-16zm4-4zm139 10zm151-9zm35 23zm124-16zm1 4zm17-8zm0 8zm83-14zm10 13zm16-5zm12 10zm38-18zm50 6zm8 7zm45-2zm3 12zm49-14zm20 19zm1-15zm2 2zm14 1zm-15 16zm-4 27zm-8-6zm-140-3zm-95-3zm-11 9zm0-22zm-63 16zm-39 4zm-288-17zm-153 3zm-24-9zm-1 10zm-3-5zm-11-5zm-3 24zm-2-11zm-44-8zm-10-2zm-188 22zm-4-13zm-2-9zm-1 19zm-2-17zm-3 18zm-6-6zm-3 7zm-4 0zm-11 2zm-1-17zm-22 44zm10 5zm6-19zm3 0zm2 11zm8 3zm13-13zm9-10zm23 5zm329 7zm4 9zm21-18zm14 24zm299-17zm15 11zm24 2zm87-22zm13-1zm53 11zm34 8zm9-12zm0-3zm134 18zm39-2zm22 23zm-6-9zm-11 24zm-219-4zm-17-25zm-24 22zm-74 3zm-13-2zm-8 3zm-47-2zm-8-9zm-18-5zm-28-10zm-253 0zm-34 3zm-390 7zm-11 18zm-12-12zm-8-5zm-1 17zm-9 25zm13-3zm2-9zm16-8zm733 24zm13-9zm24 6zm54-2zm125-7zm109-12zm22 16zm4-4zm20-5zm34 21zm-17 9zm-31-3zm-2 21zm-38-24zm-4 22zm-48 2zm-11-2zm-23-25zm-27 27zm-19-2zm-6-10zm-13-14zm-27 16zm-54-14zm-1 17zm-3-14zm-5 21zm-13-19zm-64 10zm-768 1zm-16-8zm-2-8zm-6 16zm-3-17zm-4 21zm-56 19zm38 2zm18-3zm3 14zm0-9zm2-4zm6 2zm766 12zm14-20zm19 11zm34 6zm47-15zm18 18zm10-19zm24-1zm1-7zm23 7zm15 22zm21 0zm13-12zm5-1zm9-4zm40 12zm36 1zm15 12zm-31 14zm-23 3zm0 0zm-50-11zm-3 4zm-35-7zm-12-7zm-38 3zm-5 6zm-10-4zm-3 1zm-46 18zm-1 2zm-32-26zm-41 11zm-1-9zm-794 1zm-1-1zm-8 0zm-4 5zm-1-1zm-17-9zm-31 49zm4 8zm17-7zm0-15zm17 8zm801 12zm6-24zm0 28zm71-9zm23-6zm23-11zm15 1zm20 8zm98 10zm6 4zm44-4zm-10 37zm-29-5zm-6-4zm-14-17zm-124 0zm-54 14zm-56-6zm-10-4zm-813-5zm-21 6zm-13 17zm-1 24zm2-16zm4 3zm2 22zm1-8zm2-20zm3 4zm1 15zm0 3zm4-19zm1112-2zm-1111 56zm-11-5zm0 1zm-5-19zm-12 36zm2-3zm2 7zm4-2zm3-6zm8 2zm0-7zm1 8zm-16 42zm-12-1zm-20-10zm23 42zm4-15zm42-6zm673 26zm10-9zm2 0zm5 6zm2-11zm2 2zm8 6zm1 3zm3-13zm3 2zm6 0zm0 0zm3-1zm9 3zm1 1zm2-4zm-54 20zm0 6zm-1 5zm-1-10zm-6 11zm0 8zm-7 5zm-686-14zm-2 2zm-8 7zm-22-20zm702 52zm2-3zm8-6zm1-15zm-14 31zm-5 18zm-6-5zm-4 3zm-568 12zm-33-16zm-8 14zm-10 2zm-1-20zm-5 3zm0 14zm-1 2zm-9-20zm-16 19zm-6-5zm-5 27zm13 9zm4 0zm3-17zm3 16zm0 2zm8-21zm5 5zm0 9zm1-14zm2 20zm1-15zm3 6zm0-13zm5 21zm1-11zm0 3zm2-2zm11 1zm5-16zm7 15zm3-10zm5-6zm1 8zm2 18zm2-6zm7-16zm561 20zm4-16zm6-9zm0 7zm206 20zm90 1zm35 31zm-26-27zm-2 0zm-1-2zm-5 20zm-6 7zm-6-22zm0 10zm-6-8zm0-2zm-7 8zm-5 6zm-15-3zm-66 1zm-202-12zm0 12zm-541 10zm-36-19zm-18 5zm-1-7zm-6 8zm0 6zm-4-20zm-1 7zm-1 6zm-1-13zm-3 28zm-1-2zm-3-7zm-1 7zm-3-18zm-2 0zm-1 7zm-1 5zm-3-16zm-1 18zm0-19zm-2 9zm-5-5zm-10 4zm-3-5zm21 37zm5-3zm5-6zm1 19zm1-7zm4-12zm9 4zm62 9zm3 9zm1-19zm9 17zm4-19zm0 21zm35-3zm424 1zm95 4zm3-1zm5 2zm1-4zm2-2zm13-9zm7 14zm39-13zm49 12zm41-3zm2-1zm21-9zm10 13zm8-4zm27-3zm14-14zm24 17zm7-20zm1 1zm11 8zm4 10zm3-21zm76 56zm-19-6zm-33 6zm-88-12zm-27 6zm-6-8zm-24 13zm-5-5zm-1 2zm-11-21zm-11 23zm-12-1zm-21 2zm-22-7zm-3 1zm-17-17zm-13 7zm-10 13zm-5-8zm-1-5zm0 19zm-1-2zm0-12zm-2 10zm0-3zm-5-3zm-3-11zm0-6zm0 11zm-3 0zm-8 14zm-3-18zm-4-3zm-6 13zm-1-16zm-1 1zm-4 20zm-1-20zm0 6zm-5 4zm-1-8zm-27 20zm-15-21zm-222 24zm-165-2zm-47 0zm-3-2zm-12-10zm-1-10zm-10 13zm-3 6zm-13-20zm-1 14zm-2-1zm-7-6zm-38 13zm71 6zm7 3zm3 3zm17 3zm0 19zm0-20zm7 19zm3-3zm1-19zm8 20zm11 3zm4-6zm12 0zm9-5zm4-15zm0-1zm11 11zm1-7zm12 1zm53 22zm9-2zm0-18zm7 2zm7 7zm8 5zm8-13zm3 17zm0-2zm115-10zm8-11zm1 21zm9-19zm27 23zm3-20zm6 3zm4 11zm0-2zm2-3zm4 12zm2-11zm0 10zm39-9zm50-8zm6 9zm5 0zm6-5zm6 4zm5-16zm2 20zm2-4zm0-18zm2 13zm2-13zm0 5zm1 3zm0 2zm1 9zm1-12zm2 1zm1-1zm3 18zm3-5zm2-11zm10-5zm0 13zm3-15zm7 11zm9 13zm2-12zm4 2zm3 11zm21-11zm26-1zm8 11zm11-9zm1 11zm8-29zm5 8zm12 11zm5 9zm12-16zm11-1zm2-2zm15 16zm4-24zm8 5zm0 4zm5-6zm11 9zm98 8zm1-15zm5-1zm12 4zm2-8zm0 4zm2 5zm2-10zm5 5zm0 24zm9-24zm5 10zm7-14zm-33 42zm0-5zm-17-5zm-83 18zm-31-11zm-1 6zm-9-13zm-33 11zm-9 2zm-16-6zm-1 11zm-15-8zm-3 11zm-5-4zm-20 9zm-4-15zm-2-7zm-15 14zm-6 6zm-26-2zm-5 2zm-6-15zm-11 11zm-3 2zm-12-23zm-6-1zm-1 10zm-69 4zm-8 13zm-6-16zm0 2zm-2 8zm-4 1zm-2-8zm-1 13zm0-12zm-1 8zm-1-22zm-1 23zm0-25zm-2 5zm0 14zm0 9zm-1 0zm-4 0zm-2-26zm-4 9zm-9-7zm-2 0zm-9-1zm-52-2zm-8 3zm-14 1zm-2 11zm-1-4zm-3 7zm-79-18zm-6 25zm-4-15zm-4 18zm-5-28zm-2 2zm-3 15zm-3-16zm-2 7zm0-5zm-4-2zm-3 11zm-2 4zm-2-1zm-7-9zm-11 17zm-9-3zm-18-14zm-5-4zm-6 15zm-58 11zm-4-29zm-6 26zm-27-4zm-23 36zm21-15zm22 10zm21-6zm2 5zm19-8zm42 13zm24-10zm1 10zm4-23zm4 12zm1-13zm4-2zm6-1zm4 11zm4 7zm1 5zm1-6zm3 6zm5-18zm9 11zm1 4zm3-5zm12-5zm1 16zm3-3zm6-16zm2-5zm32 17zm6-9zm1 15zm10-15zm2 2zm4 4zm92 2zm15-4zm5-11zm4 21zm6-2zm6-6zm4-5zm5 0zm0 10zm7-3zm0-9zm3 7zm3 8zm6-1zm5 2zm10-10zm70-13zm9 4zm0 14zm1 1zm4 4zm0-21zm6 25zm10-27zm40 5zm6 9zm7-9zm4 22zm4-17zm3 10zm0-19zm2 11zm0 14zm0-3zm8-4zm2 6zm4-17zm12 7zm4 7zm2 1zm16-11zm43 5zm25-11zm26 8zm5 10zm75-23zm-64 52zm-40 2zm-12-8zm-4-10zm-2 14zm-5-3zm-7-1zm-8-19zm-10 19zm-3-6zm-6 3zm-17-2zm-13 11zm-5-17zm-1 14zm-1-20zm-3 11zm0-12zm0 25zm-1 2zm-1-24zm-1 3zm-3 2zm-4-1zm0 4zm0-9zm-1 21zm-2-5zm-1 4zm-1-4zm-1-18zm-9 10zm0 9zm-7-7zm-6 2zm-2-13zm0 3zm-21 22zm-48-21zm-3 7zm0 8zm-1-13zm-3 6zm-4-9zm-2 4zm-7 18zm-6-14zm-9 6zm-1 1zm-11 3zm-4-1zm-27-12zm-13-10zm-7 7zm-9-2zm-10 9zm-5-12zm-4 11zm0-13zm-2 5zm-1 12zm-4-15zm0 0zm-9 14zm-3-15zm-7 3zm-49 10zm-40-10zm-3-4zm-7 3zm-5 21zm-1-19zm-2 1zm-4-2zm-1 16zm-8-3zm-7-2zm-53-12zm-7 13zm-3-16zm-1 29zm-7-18zm-2 17zm0-17zm-3 1zm-9 16zm-50-28zm-43 19zm0 3zm-8-17zm-2 19zm-4-19zm-1 21zm-10-11zm-5-3zm0 6zm-9 1zm-2-3zm-12 0zm-3 1zm-3 11zm-3-2zm-66 18zm37-4zm6-2zm3 10zm7-11zm7 11zm1 10zm0-5zm9-11zm3 3zm2-11zm6 3zm3-3zm1 4zm1-4zm4 16zm15-11zm2 13zm7-1zm2 0zm0 7zm47-10zm25-18zm44 6zm2-3zm3 15zm3 7zm14 4zm29-8zm20 3zm1 1zm13-15zm3 5zm11-15zm64 26zm53-11zm71-4zm11-2zm112-5zm20 18zm0 3zm8-25zm1 7zm15 9zm4-4zm4-4zm15 0zm6-8zm52 6zm17 6zm0 16zm13-12zm31-4zm1 4zm14 10zm-12 30zm-5-25zm-5 11zm-3 2zm-8-8zm-2-5zm-6 10zm-15 17zm-47-28zm-74 7zm-191 14zm-16-10zm-16-10zm-1 11zm-11 1zm-2 2zm-14-12zm-11 26zm-12-20zm-1 18zm-2-14zm-4 9zm-8 4zm-19 0zm-3 1zm0-6zm-2-21zm-39 0zm-7 2zm-13 7zm-3-1zm-29-3zm-18 3zm-101 5zm-11-10zm-1 8zm-2-4zm-14 18zm-15-17zm-5-2zm-3 1zm-1 13zm-1-20zm-10 17zm-4 1zm-9-8zm-56-9zm70 40zm1 15zm6-21zm3-4zm260 26zm2-25zm8 16zm0 9zm11-7zm0-16zm5 16zm5-2zm0-11zm1-6zm3 19zm1-19zm3 13zm1-10zm8 16zm1 0zm1-2zm1-1zm2 4zm0-2zm0 3zm5-2zm2 8zm2-21zm2-6zm5 14zm3-1zm1-2zm16 17zm8-21zm0 9zm318 12zm27-12zm11-1zm4 1zm2-5zm11 11zm17-14zm5-3zm37 13zm12-7zm22 47zm-8-9zm-2 3zm-25 2zm-21 0zm-25-4zm-23 8zm-2-13zm0-7zm-1-3zm-3 2zm-5 7zm-18 3zm-7 5zm-1 6zm-1-11zm-7 4zm-1-3zm-2 5zm-1-4zm-1-1zm-2-3zm-1 7zm-1-5zm-2-2zm-1 7zm-5-14zm-7 12zm-276 7zm-21 0zm-19-6zm-4 2zm0-20zm-7 7zm-14-11zm-4 0zm-6 3zm-16 3zm366 42zm5-17zm2 20zm16-16zm4 3zm2 1zm4 6zm1-13zm0 7zm2-6zm2 9zm28-11zm8 5zm5 21zm1-27zm21 7zm0 8zm1-8zm5 1zm2 6zm7 15zm7-5zm4-14zm17 8zm13 0zm0-2zm15-5zm0 6zm13-14zm-5 50zm-22 4zm-2-1zm0-15zm-2 0zm-23 2zm-10-1zm-7 7zm-117-12zm152 48zm10-9zm2 0zm2-6zm5 16zm4-20zm2 20zm29-10zm-7 34zm-22-19zm-15 9zm-8 11zm-6-18zm-3 2zm-7 6zm-42 40zm73-4zm15-12zm35 17zm-17 35zm-8-8zm-10-15zm-10-4zm-1 27zm-12-9zm-1 11zm-1 0zm0-11zm-22-13zm-40 4zm-170 40zm0 9zm217-10zm0-8zm3-4zm16 2zm3 19zm5-23zm4-2zm6-1zm4 6zm4 19zm22 28zm-7-14zm0-3zm-19 12zm-1-15zm0 8zm-3-10zm-7 21zm-13-18zm-4 24zm-23-24zm-199 19zm-1-2zm-2-12zm-1-7zm-4 3zm0 42zm1-17zm2 4zm8-1zm10 19zm195-20zm25 9zm17-4zm3 21zm22-7zm39-8zm88-5zm-117 50zm0-5zm-6-2zm-22 2zm-1-17zm-2 21zm-4-23zm-7 6zm-2 17zm-4-21zm-1 5zm-3 8zm0-5zm-1-9zm-8 15zm-9-7zm-28-9zm-166 22zm-8-12zm-1 2zm-4-11zm0-5zm9 32zm2-3zm5 25zm1-10zm3-5zm3 7zm184 0zm5 3zm1 3zm8-5zm1-18zm0 7zm3 21zm1-28zm4 1zm16 6zm0 17zm4 0zm1-15zm5 20zm1-17zm1 2zm8-2zm4 9zm3 3zm3-11zm2 6zm4-11zm8 21zm2-27zm6 7zm1-5zm5-4zm14 18zm-14 26zm-8-6zm-2-7zm-4 6zm-8-5zm-7 25zm-5-13zm-6 0zm-8 10zm-7-23zm-2 1zm0 11zm-16 13zm-4 1zm-22-1zm-8-13zm-39 14zm-9-24zm-67 24zm-26-2zm-1-2zm-12-6zm-1 9zm-2-23zm-10 7zm-5-4zm38 27zm3 14zm4-9zm4 8zm3 0zm3 7zm1-20zm9 22zm4 4zm10-16zm1 5zm3-7zm2 13zm10 1zm1-6zm3-12zm0 8zm4-9zm19 16zm14-22zm8 8zm2 17zm4-7zm28 1zm0 3zm3-11zm7-3zm2 20zm1-11zm45-16zm28-1zm2 1zm11 0zm0 17zm6-13zm-53 29zm-27-2zm-5-2zm-13 5zm-28 2zm-4 0zm-2 16zm-12-18zm-1 2zm-2-1zm-3 3zm-10 20zm-3-6zm-3-16zm-3 20zm-9-17zm-2-6zm-1 19zm-1 6zm-3 0zm-4-5zm-7-6zm-2-8zm-1 7zm-4-15zm0 18zm0-7zm-1-4zm-1 10zm-1-13zm-1 17zm-1-5zm-6-12zm-1 2zm-8 11zm-15-5zm-22-4zm-6 1zm14 26zm27 0zm9 9zm6-7zm15 20zm0-20zm2 8zm0 9zm11-21zm4 0zm0 1zm4 10zm15-9zm6 20zm24-12zm6 8zm5-18zm16-4zm18 18zm16 6zm36 14zm-6 20zm-2-26zm-21 15zm-2 3zm-17-6zm-7 7zm-8-6zm0 4zm-13-10zm0 9zm-4 9zm-47 0zm-4-12zm-8-10zm-13-5zm-8 21zm-5-9zm-4 0zm-8-9zm-34-4zm-12 29zm23 17zm47 11zm65-2zm9-18zm4 20zm3-16zm5 9zm0-17zm2-1zm4 12zm6-4zm2 16zm3 3zm2-26zm6 19zm11-12zm0-2zm1 5zm14-10zm13-2zm0 10zm22 8zm-40 17zm-14-3zm-3 6zm0-7zm-4 17zm-12-19zm-17 6zm-25-4zm66 35z" stroke="#cdcdcd" stroke-width="25" stroke-linecap="round" fill="none"/><path transform="scale(.1)" d="M5791 6957zm-267-7zm-45 9zm12 2zm78 7zm142 16zm47-21zm9 8zm8 0zm10-10zm1 19zm14-19zm26 38zm-12 2zm-6 6zm-6 1zm-46-5zm-8-7zm-85 4zm-3 3zm-13 11zm-10 1zm-25-22zm-11 11zm-23-14zm-130 7zm31 43zm19 1zm29-6zm11 5zm41-10zm5-7zm1 24zm43-19zm21 4zm22 2zm26-10zm13 14zm76 11zm18-19zm60 5zm30 10zm22 2zm8-8zm39-9zm129 48zm-6-12zm-15 13zm-230-4zm-3 1zm-55-7zm-38-7zm-123-9zm-1 26zm-13-4zm-2-13zm-61 10zm-14-22zm-10 17zm-31-2zm-4-1zm-29 14zm-6-20zm-20-8zm-14 48zm33-15zm142 16zm73 1zm86-12zm2 9zm114 3zm21-9zm11-1zm64 4zm114 16zm-48 10zm-22 5zm-66 14zm-11-29zm-30 20zm-38-2zm-88-7zm-15 18zm-33-23zm-75-2zm-69 4zm-78 9zm-64 41zm94-6zm75 7zm14-8zm39 4zm25-18zm37-3zm28 17zm92 3zm36-18zm61 7zm187-12zm36 21zm-85 17zm-1 2zm-281 15zm-34-19zm-59 1zm-3-7zm-98 13zm-11 0zm-5-10zm-84 12zm-56-10zm-61 5zm-14-7zm101 50zm20-19zm18 3zm59 16zm21 0zm7-5zm23-7zm33 0zm15 6zm0 4zm140-11zm35 4zm118-10zm1 23zm51-14zm4 5zm15 2zm25 3zm30-15zm26-8zm83 29zm-89 12zm-5-2zm-2-7zm-82 21zm-59-23zm-141 26zm-85-24zm-12 10zm-41-7zm-55 17zm-116-9zm-20 15zm-41-6zm-61 1zm-33 0zm-8 22zm37 10zm458-5zm43-6zm28 14zm117-21zm15 9zm19-16zm98 1zm-23 38zm-4 11zm-5-2zm-56 0zm-115-8zm-37 7zm-113 9zm-69-3zm-61-16zm-208-6zm-29 3zm-93 5zm20 37zm16 6zm13 4zm16-11zm465 2zm45-5zm101 8zm17 0zm133-8zm-11 21zm-127 13zm-68-17zm-16 4zm-125-1zm-31 21zm-43-14zm-4-4zm-34-3zm-3 56zm16-25zm81 17zm30-20zm55 15zm225 8zm2-18zm-96 49zm-69-2zm-242 8zm72 2zm81 7zm63-7zm-14 40zm-136 10zm-72 6zm-6-25zm-9-4zm-19 27zm134 18zm176 0zm22 1zm-232 27zm-4 16zm54 9zm-11 285zm-3-5zm-111 44zm2 35zm-114 34zm73 30zm207 360zm-229 72zm1-8zm239 24zm9 48zm50 19zm-206 70z" stroke="#d3cbef" stroke-width="25" stroke-linecap="round" fill="none"/><path transform="scale(.1)" d="M5451 6976zm126-4zm108 17zm228-8zm-69 18zm-37 16zm-20 0zm-76-25zm-58 16zm-44 12zm-64-27zm-4 20zm163 37zm47-7zm13 8zm11-21zm3 3zm111-1zm24 4zm103 40zm-109 4zm-1-24zm-137 7zm-137-8zm-102 23zm-2 2zm-21-19zm-272-1zm291 35zm69-3zm74 11zm149-1zm89-15zm214 54zm-195-8zm-167-5zm-48-1zm-12 2zm-120-11zm-72-1zm-533 48zm226-18zm246 3zm41-6zm132 18zm193-5zm20 12zm256-27zm34 22zm-78 15zm-59-4zm-116 25zm-113-15zm-17 6zm-288 2zm-340-16zm-140 17zm471 18zm31 0zm125 9zm308-10zm21 6zm242 2zm6 11zm12-27zm-546 45zm-150-7zm-215 34zm118 9zm41-12zm374 17zm73-10zm39-4zm66-9zm112 11zm41-13zm-36 52zm-367-8zm-32-2zm-297-12zm-5 41zm483 9zm160-8zm62 16zm-824 4zm479 42zm322 1zm2-14zm-262 50zm-885-23zm788 44zm213 9zm79 6zm163 22zm-197 4zm-13 69zm-1108 265zm61-6zm562 12zm-542 10zm-12-8zm-79 10zm10 18zm676 24zm-14 1zm-22 27zm-501-10zm-10-3zm214 40zm166 12zm-165 0zm-47 23zm-103-20zm-7 9zm167 39zm151-9zm33-4zm46-2zm111-4zm-81 38zm-441-1zm-1 10zm-5-25zm-5 2zm214 52zm243-22zm-112 53zm-26 31zm12-13zm3 0zm1-13zm13 30z" stroke="#b3a4e1" stroke-width="25" stroke-linecap="round" fill="none"/><path transform="scale(.1)" d="M5539 6986zm102 13zm-26-5zm-122 45zm13-4zm226-1zm89 7zm197-13zm7 9zm83 41zm-96-10zm-190 1zm0 9zm-546-12zm-48 12zm-7 10zm361-6zm509-1zm-48 41zm-457-6zm-176 10zm283 18zm125 15zm77-1zm195-3zm35 42zm-542 1zm-88-5zm-506-19zm-26 20zm26 15zm735 17zm152-26zm227 40zm-332 8zm-223-3zm-136 10zm-2-21zm-406 47zm9-8zm229-12zm140 14zm520-14zm143 26zm148-7zm-107 39zm-228-5zm-432-15zm-60-4zm-53 3zm-315 14zm738 28zm348-15zm58 51zm-288-5zm-43 4zm-861 17zm971-10zm179 19zm-288 68zm-257 241zm-26 33zm-653 85zm-36 13zm117 27zm592 46zm-46-11zm-484-2zm164 23zm341-4zm-184 36zm-118 43zm171 5zm16-7zm-325 67zm4 2zm303 15zm-44 16zm27 22zm16 27z" stroke="#8775cb" stroke-width="24" stroke-linecap="round" fill="none"/><use href="#trj" transform="translate(109.3 504.6) scale(0.791 0.781)" stroke="#111" stroke-width="1.35"/><text x="463.8" y="769.5" font-family='"Liberation Serif", serif' font-size="15.5" font-weight="bold" text-anchor="middle" transform="rotate(-90 463.8 769.5)">PDCD1</text><path transform="scale(.1)" d="M7533 6976zm16 6zm2-7zm229-8zm89 3zm6-10zm3 8zm92 37zm-117 0zm-232-3zm-3 6zm-45-8zm-34 2zm-31 16zm100 16zm7 14zm62-21zm92 12zm30-11zm37 11zm5-2zm64 7zm2-3zm127 2zm91 18zm-22 1zm-14-8zm-27-3zm-237 23zm-41-12zm-19 9zm-72-10zm-163 9zm-65-17zm-122 2zm-11 17zm-9-17zm0 12zm-4-15zm-1 10zm-2 7zm-1 4zm-4-12zm-1-2zm-15 3zm-45 23zm2 20zm3-2zm7-14zm6-1zm3-1zm0 18zm5-22zm47 1zm2 2zm6 19zm11-4zm2-10zm129-11zm33 10zm54 3zm45 15zm15-27zm21 1zm129 16zm49 9zm7-2zm111-23zm78 23zm85-23zm25 11zm-2 35zm-3 10zm-18 0zm-34-18zm-138 19zm-141-1zm-36-4zm-45-1zm-62-19zm-108 24zm-14-22zm-10 18zm-4-11zm-50-2zm-100 13zm-9-1zm-87-20zm-7-3zm-2 21zm0-18zm-4 7zm-1 7zm0-12zm0-3zm-15 24zm-12-2zm-2-5zm-1 10zm-261 28zm25-4zm41-2zm29-8zm122 4zm5-3zm2-2zm9 12zm0 5zm4-2zm3-17zm2-3zm11 8zm5-10zm14 3zm96-8zm108 9zm88 20zm11-29zm104 23zm32 6zm120-15zm14 2zm9-4zm39-8zm43-3zm0 23zm1-2zm9 0zm25 4zm120-22zm35 8zm47 7zm19 5zm72 0zm3 10zm-63 6zm-27 7zm-26-4zm-30-5zm-19-7zm-112 23zm-15-8zm-31 4zm-100-7zm-58-12zm-2-1zm-64 10zm-17 17zm-47-16zm-178 15zm-6-18zm-18 9zm-225-6zm-21 0zm-8-8zm-5-1zm-1 24zm0-19zm-4-6zm-6 4zm-1 14zm-1-2zm-7 2zm-14-6zm-7 9zm-2-20zm-11 16zm-2 1zm-3 5zm-2 0zm-42-22zm-1 5zm-13 21zm-2-10zm-3 9zm-6 0zm0-15zm-2-11zm-3 6zm0 17zm-1-14zm0 11zm-3-4zm-2-8zm-3 20zm0-14zm-7 12zm-2-4zm-1 5zm-1 1zm0-29zm-2 27zm-11-4zm-9-1zm-9 3zm13 14zm3-8zm8 2zm0 0zm3 9zm3-9zm1 25zm6-16zm7 0zm6-11zm1 23zm3-22zm1 9zm0 0zm8-10zm1 3zm16-2zm3 21zm1-12zm7 16zm7-1zm20-15zm2-11zm1 17zm3-17zm330 20zm9 2zm8-11zm23-4zm20 5zm30-9zm36 15zm17 3zm8 4zm10-5zm18-17zm1 22zm29-13zm54-3zm34 10zm70 6zm6-8zm21 5zm20-3zm35-3zm22 4zm18-9zm2-4zm8 0zm75-4zm32 22zm58-3zm39-10zm22 16zm14-10zm73-13zm-6 46zm-94-5zm-6 7zm-93 5zm-11-24zm-4-3zm-55-1zm-42 5zm-35 16zm0-14zm-9-3zm-215 10zm-46-3zm-102 17zm-76-21zm-14 20zm-61-2zm-1-6zm-14-1zm-9-18zm-12 25zm-14 3zm-24-19zm-5 1zm-18 16zm-200-22zm-1-1zm-5-1zm-1 4zm-12-4zm-28 4zm-20-6zm-4 1zm53 54zm2-13zm5 3zm7-14zm13 9zm182 14zm11-11zm1 11zm13-11zm14-6zm1 4zm1-8zm8 5zm4 5zm0-2zm6-11zm3 23zm7-17zm1 3zm3 19zm3-19zm5-2zm15 9zm57 1zm3-16zm29 7zm66 13zm6 2zm122 2zm32-3zm65-19zm20 6zm3-3zm38 0zm12 19zm3-25zm11 24zm9-8zm3 3zm29-7zm5 10zm22-18zm28 12zm60 4zm10 8zm66-1zm41-6zm30 5zm84 0zm9-8zm0 20zm-36 2zm-89 13zm-5-12zm-22-8zm-1 7zm-5 17zm-1-4zm-7-9zm-3-12zm-65 3zm-32 15zm-5-7zm-109-10zm-43-3zm-90 23zm-11-12zm-6 9zm-19-16zm-155 1zm-34-3zm-47 26zm-63-26zm-13 21zm-24-10zm-3-5zm-3 17zm-9-10zm-9-15zm-20 15zm-11-11zm-205 14zm-7-11zm-1-3zm-1 11zm-2-11zm-51 37zm3 13zm19-22zm265 3zm95-3zm8 11zm346 6zm28-17zm3 27zm22-26zm71 2zm61 9zm15-13zm4 13zm80-10zm41 20zm20-22zm53 12zm48 0zm8 8zm-49 34zm-4-18zm-17-2zm-47 6zm-2-9zm-32 7zm-94-7zm-44 10zm-125 8zm-35 4zm-6-21zm-12-2zm-3 12zm-7 8zm-255-6zm-13-10zm-35 8zm-393-7zm-8 6zm-6 16zm-4-3zm-1-1zm-37 33zm11-5zm4-19zm3 18zm1-14zm3 14zm1-6zm3-3zm6 11zm0-18zm10-3zm11 6zm737 5zm1 12zm32-2zm21-21zm9 26zm42-17zm9-12zm18 22zm143-1zm57-3zm52-18zm16 32zm-1 4zm-37 21zm-6-10zm-14-2zm-21 13zm-1-13zm-29-15zm-14 27zm-23-4zm-3-17zm-9 6zm-18 14zm-35-4zm-6-4zm-2 9zm-10-12zm-14-4zm-44 12zm-29-23zm-28 18zm-12-18zm-43 8zm-770-8zm-13 16zm-4-9zm-5 16zm-10 3zm-27 18zm0 14zm869-16zm16-9zm1 15zm32 2zm2 5zm23 0zm142-22zm11 13zm47-7zm149 42zm-157-10zm-7 13zm-71-24zm-10 1zm-24 12zm-31 3zm-4-2zm-105-9zm-40 11zm-4-6zm-15 6zm-17 4zm-1-3zm-786-16zm-18 21zm-52 34zm1-16zm9 8zm839 9zm0-10zm44 8zm23-25zm25 20zm213 33zm-12-14zm-49-1zm-143 14zm-9-15zm-61 0zm-856 1zm-10 8zm-4-12zm-2 10zm-5 13zm-19-7zm-24 15zm32 15zm4-14zm11 9zm1 1zm1-11zm2 18zm960-20zm-964 50zm0 4zm-6-4zm-5 5zm-1-1zm-10 20zm6 12zm3-6zm0-15zm7 8zm4-6zm-5 33zm-3-3zm-8-4zm-3 13zm-16-16zm6 43zm10-5zm3 17zm4-6zm1-20zm1 2zm4 10zm3-7zm5 2zm9 16zm696 4zm11-7zm2 1zm3-2zm4-7zm8-1zm1-1zm1 0zm5 2zm2 0zm0-2zm8 1zm8-2zm-60 26zm-1-5zm-1 9zm-4 5zm0 4zm-7-5zm-692-5zm-1-10zm-1 22zm-2 1zm-1 0zm-1-5zm-11-17zm19 30zm3 6zm2-5zm7 0zm13 23zm2-2zm648-12zm0 16zm3-3zm5-6zm5-6zm-18 27zm-7 0zm-3-5zm-5 24zm-580-1zm-22-2zm-2-15zm-3 18zm-4-21zm-7-2zm-6 3zm-3 0zm-9-7zm-50 36zm23 4zm1 10zm2-17zm3 11zm3-1zm5-10zm5-1zm0-2zm4 23zm2-1zm6-16zm0 14zm5 4zm4-2zm2-2zm2 5zm1 3zm23-26zm4 3zm2 4zm2 6zm0 2zm5-11zm6 7zm557 15zm9-4zm0 2zm8-7zm2-14zm4 12zm3-18zm315 35zm-1 22zm-5-2zm-1-11zm-2-7zm-6 18zm-2-9zm0 9zm-10-14zm-3 15zm-5 3zm-1-19zm-1 19zm-88-16zm-5-1zm-26-4zm-25 7zm-9-8zm-675 16zm-12-2zm0-4zm-3 3zm-2-13zm-16-7zm-15 21zm-1-1zm-14-10zm-1-1zm-9 13zm-1 3zm-1-13zm-2 8zm-1-12zm-1 8zm-1 7zm-1 6zm-1-12zm-1-10zm-5 19zm-2-24zm0 2zm-3 9zm-2 3zm0 9zm-3-18zm-1 20zm-3-14zm-2 10zm-3-18zm0 1zm-5-2zm-22 47zm6-12zm9-7zm4 0zm2 4zm3 5zm23-4zm9-4zm8-1zm57 8zm3-5zm4 2zm2 5zm5 1zm0 10zm1-2zm3-1zm10 8zm3 0zm10-1zm535-7zm1 9zm5-12zm5 5zm7-7zm8 11zm4 1zm139-3zm23-20zm80 3zm0-2zm5 1zm6-2zm7 22zm1-20zm6-4zm65 42zm-46 9zm-6-22zm-121 22zm-6-8zm-9-12zm-1 3zm-1 19zm-1-13zm0 8zm-9-15zm0 17zm-33-1zm-11-11zm-59 8zm-2 5zm-10-18zm-11 24zm0-8zm-2-5zm-6 6zm0-11zm0 11zm0 2zm-2 5zm-1-20zm0-7zm-4 20zm-1 2zm-1-8zm-2-4zm0 16zm-13-16zm-2-7zm0 17zm-4-1zm-8-9zm-1-5zm-1 4zm-1-4zm-1 16zm-11-17zm-476 18zm-6-14zm-1 14zm-3-5zm-1 2zm-1 3zm-4-6zm0 3zm-5-5zm-3-3zm-2 0zm-27-11zm-2 1zm59 27zm5 18zm10-15zm1 12zm20 6zm21-3zm0-1zm7 5zm0 1zm7-16zm1-1zm2 18zm0-7zm11-11zm13 9zm0-8zm1 3zm3 0zm3 18zm0-8zm14 8zm50-10zm3 8zm18-3zm9-7zm119 5zm3 5zm2-7zm6-1zm4 2zm10-11zm2 12zm7-7zm3 3zm4 10zm0-3zm6 2zm27-2zm6 1zm12-7zm1 10zm42-21zm20 20zm5-8zm6-10zm0 20zm8-2zm7-17zm3 1zm7 1zm5-12zm7 21zm3-8zm0 2zm1 0zm3-8zm3 20zm0-16zm8 14zm11-14zm4-6zm7-4zm6 15zm34-6zm19 19zm1-4zm14 4zm0-24zm8 24zm10-12zm19 11zm4-16zm24 7zm13-6zm6-4zm28 20zm50-21zm6 15zm8-15zm2 2zm2 6zm11 2zm5 1zm0-3zm2 3zm0-5zm3 14zm1-11zm15 7zm3-6zm-2 12zm-23 0zm-9 11zm-1-4zm-128 6zm0 9zm-6 4zm-1-5zm-13-17zm-23 2zm-5-6zm-13 0zm0 18zm-2-5zm-17-9zm-13 9zm-3 8zm-9-10zm-13 2zm-9 4zm-2 3zm-22 9zm-6-25zm-3 15zm-4-3zm-3-7zm-6-7zm-2 6zm-1 11zm-2 1zm-4-7zm-1-3zm-6-5zm-21-1zm-37-1zm-11 21zm-1-2zm-22 1zm-12-2zm-2 7zm-1 0zm-4-10zm-4 2zm-2-16zm-6 10zm-2 15zm-7-6zm-2-22zm-6 26zm-47-23zm-9-2zm-10 0zm-8 10zm-6-10zm-5 23zm-1-5zm-6-12zm-44 3zm-1 0zm-11 13zm-5-18zm-3 12zm-2 2zm-12 5zm-7-10zm-10-12zm-3 24zm-3-25zm0 5zm-1 5zm0 14zm-6-12zm0 9zm0 4zm-1 1zm-2-5zm-1-1zm-1 1zm-12 2zm-9-7zm-12-2zm-2-8zm-4 1zm-2-5zm-2 9zm-4-13zm-2 0zm-5 8zm0 18zm-30-15zm-20-4zm-1-7zm-11 5zm0-1zm0 5zm-4-5zm-10-3zm-40 57zm43-2zm7 1zm95-11zm11 2zm12-18zm5 2zm2 7zm3-2zm0 15zm1-3zm0-5zm1 10zm2-23zm2 10zm2-9zm0 24zm4-10zm1-5zm7-6zm9 0zm2 3zm1 2zm1 8zm1-10zm3-1zm4-7zm3 27zm5-22zm49 13zm21-5zm80-3zm12 13zm5-12zm1-2zm4 6zm2-12zm6-2zm4 3zm1 22zm1 1zm5-24zm4 3zm4 1zm2 11zm1 8zm3-21zm3 17zm6-11zm93-3zm0-8zm4 21zm1-2zm5-11zm0 1zm0 2zm1-7zm6 11zm26-10zm6 9zm16 2zm2 5zm2 3zm10-10zm0 4zm6 10zm1-21zm1 11zm3-6zm7 15zm2-8zm4 5zm3 3zm2-8zm1 8zm1-3zm4-10zm3 9zm3-4zm53-10zm12-2zm5 6zm3-1zm36 11zm3 1zm-14 14zm-4 18zm-3 0zm-4 2zm-7-25zm-7 11zm-2-6zm-18 19zm-16-16zm-32 6zm-2-13zm-6 5zm-6-2zm-2 13zm-1 8zm-4-15zm-7-5zm-1 21zm-2-24zm-4 19zm-4-10zm-10-3zm-1 9zm0-15zm-2-2zm-11 16zm-4-19zm-1 15zm-27-6zm-23-2zm-3 3zm-17-10zm-3 16zm-8 13zm-1-9zm-45-16zm-4 1zm-3 5zm-6-2zm-6-7zm-9 0zm0 6zm-2-7zm-1 15zm-1 10zm-12-17zm-7 11zm-6-3zm-5-4zm-9 16zm-6-1zm-10-22zm-17 21zm-13-5zm-56-20zm-8 12zm-40-4zm-16 3zm-17-7zm-3 4zm-5 4zm-3-5zm-10 3zm0-10zm-8 0zm-64 26zm-31-7zm-8-6zm-39 13zm-8-22zm-3 9zm0 15zm-1-26zm-3 26zm-7-12zm-3 3zm0-11zm-1 18zm-2 0zm-2-20zm-7 7zm-20 13zm-4 17zm27-10zm2 21zm6 2zm3 0zm6-24zm1 18zm1 1zm12 7zm2-28zm1 22zm3-7zm0-5zm0 2zm5 11zm3-13zm0-10zm0 20zm1-2zm4 6zm1-23zm1 7zm2 19zm0-5zm2-7zm3 4zm1 7zm2-9zm2 5zm15-18zm83 21zm17-18zm2-8zm2 0zm1 14zm5 11zm1-22zm3 2zm3 7zm16 15zm14 0zm20-7zm9 0zm9-17zm1 12zm5-1zm20 12zm31-1zm67-1zm1-23zm18 3zm56-3zm19-1zm22 2zm21 1zm86 3zm1 9zm0-10zm0 1zm9 4zm1 5zm2-7zm5-6zm1 25zm3-24zm5 6zm2-3zm0 3zm5-9zm40 19zm27-6zm4-11zm5 5zm26 5zm5 9zm1 1zm12-18zm15 7zm68 13zm-72 25zm-15-9zm-6 8zm-5-16zm-18 10zm-35 13zm-58 2zm-20-9zm-10-17zm-199 16zm-3-10zm-16 18zm-7-1zm-3-15zm-4 10zm-5-10zm-4 0zm-1 12zm-5-1zm0 2zm-1 3zm-6-2zm-2-1zm-1-12zm-1-2zm-2 1zm0 14zm-3-17zm-6 15zm-2 7zm-3-27zm-6 8zm-7 12zm-8 8zm-7-15zm-9 11zm-53-15zm-3-7zm-5 16zm-3-12zm-5 11zm-5-15zm-1-2zm-3 2zm-9 6zm0 5zm-8-10zm-12 13zm-124-1zm-8-6zm-10 13zm-8-16zm-43 20zm0-17zm0-9zm-12 4zm-11-5zm-8 14zm18 44zm17-16zm25 6zm10-15zm6 21zm6-6zm1-8zm17 11zm248-12zm20-4zm2 13zm0-9zm1 4zm6-5zm3 9zm1-6zm0 6zm6-12zm2 20zm2-21zm1 6zm1 4zm0 14zm2-19zm6 4zm5-7zm2 23zm14-21zm1-6zm2-1zm305 26zm27 2zm18-14zm7-15zm9 9zm15-4zm13 12zm8-9zm4 2zm1 14zm5 5zm123 15zm-128-4zm-10 13zm0-4zm-2-3zm-6 9zm-22-24zm-14 28zm-6-29zm-2 6zm-3 19zm-5-9zm-7-15zm-3 9zm0 2zm-2 17zm0-5zm-8-4zm-1-1zm-3 4zm0-9zm-6-6zm-18-3zm-250 10zm-46-12zm-2 11zm-17 3zm-1-3zm-1 1zm-17-9zm-12 15zm0-2zm-7-10zm-33-1zm8 28zm37-3zm0 0zm37 12zm289 7zm34 1zm2-15zm7 18zm0-1zm1-1zm2-3zm3-13zm4 7zm3-10zm1-5zm1 3zm3 3zm6 3zm10 11zm3-9zm32-8zm12 23zm4-12zm6-9zm11 7zm4 10zm0-17zm1 9zm2 10zm4-14zm11 7zm2-17zm27 3zm12 20zm52-1zm38 19zm-62-7zm-3 2zm-9 10zm-8 11zm-24-20zm-8 9zm-11 0zm-2 5zm-6 2zm-5-22zm-2 20zm0-9zm-4 5zm-4-9zm-5-2zm-1 13zm-7-6zm-2 3zm-4 0zm-20 0zm-23-14zm-61 15zm-18-14zm137 31zm24 17zm25 3zm4-10zm7 9zm0-15zm2 5zm58-12zm-79 50zm-6-17zm-35-2zm-2-1zm-23 2zm-40 41zm78 3zm12-14zm4 25zm8-3zm3-14zm12 5zm19 24zm-17 9zm-3-10zm-10 11zm-11-12zm-9-6zm-45 2zm-3 11zm-169 39zm186-3zm33-20zm43 10zm9 6zm20-14zm115 42zm-109 11zm-5 0zm-19-5zm-12-17zm-3 19zm0 6zm-8-15zm-5 6zm0 2zm-4-9zm-11-5zm-221 6zm-1 10zm-5 4zm-6-28zm-1 15zm-1-6zm-1 6zm6 28zm4 0zm1-8zm1 18zm1 6zm227-12zm1-16zm17 25zm7-11zm11 7zm1-22zm4 0zm11 29zm65 10zm-38 5zm-29-11zm-7-1zm-2 23zm-10-17zm-3 17zm-1-9zm-17-8zm-1-4zm-9 16zm-5-6zm-16 11zm-3-9zm-189 6zm-2 1zm-4-13zm0 15zm-1-15zm-3-6zm-9 0zm19 36zm0 1zm8 4zm0 13zm7-3zm3-6zm109-11zm14 12zm43-4zm5-4zm15 12zm2-10zm3 11zm5-19zm9 1zm2 4zm7-6zm2 8zm1-8zm3 9zm15 5zm9-15zm0 19zm8-11zm2 15zm1-13zm3 6zm2-15zm1-4zm4 21zm1-10zm3 9zm7-17zm19 23zm25-18zm-18 30zm0 16zm-3-23zm-1 6zm-1 2zm-8-3zm-6-1zm-2 8zm-8 12zm-1-11zm-1-8zm-7-5zm-1 3zm-11-1zm-2 0zm-5 4zm-3 18zm-1-8zm-2 11zm-9-13zm-21-4zm-10-2zm-9-8zm-3 1zm-10 18zm-63-10zm-53 13zm-29-8zm-1 8zm-14 5zm-2-18zm-2 18zm-3-20zm-10-8zm25 32zm8 14zm9-5zm0 3zm6 6zm5 5zm1-20zm6 9zm1 3zm3 10zm11-24zm5-3zm6 5zm15 16zm22-18zm37 25zm14-23zm6 17zm21-20zm27 0zm20 1zm-24 33zm-3-3zm-5 12zm-18-6zm-22-1zm-3 5zm-4 2zm-4 3zm-1 1zm0-14zm-12-3zm-10-3zm-10 13zm0-8zm-9 9zm-7-7zm-8 20zm0-4zm-5-2zm-6-20zm-5 23zm-2 5zm-4-7zm-2-6zm-2-1zm-1 7zm-1-5zm-4 10zm-1-19zm0 15zm-2-11zm-1 2zm-2 13zm-1-23zm-4 12zm-3 10zm-5-26zm-4 3zm-19 19zm-2-12zm6 28zm8-7zm7 27zm5-21zm1 4zm2 16zm5-13zm2-7zm12 1zm9 12zm0-20zm3 6zm1 22zm3-15zm1-13zm10 13zm3-12zm13 26zm1-26zm11 11zm0-12zm8 25zm2-14zm11 9zm1-10zm14 7zm32-6zm3-5zm14 17zm21 4zm15-2zm1 34zm-35-17zm-8-9zm-6 11zm-13 4zm-2-2zm-1 7zm-18-11zm-4 0zm-7-12zm-4 22zm-4-14zm-13 0zm0 17zm-90-24zm-64 25zm83 22zm1-16zm52 21zm50-3zm4-4zm12-7zm5 4zm0 2zm3 3zm3-8zm4-4zm1 7zm0 1zm2-12zm1-1zm2 17zm1-8zm2-1zm1 8zm1-4zm2-11zm4 17zm2 0zm25-11zm-14 43zm-37-20zm-10 5zm-6-6zm-1 1zm-4 22zm-2-9zm1 30z" stroke="#cdcdcd" stroke-width="25" stroke-linecap="round" fill="none"/><path transform="scale(.1)" d="M7550 6950zm-11-15zm-42 39zm3 12zm5-4zm26 0zm2-13zm25 13zm186-9zm61 10zm9-20zm28 10zm7 3zm3-1zm16-10zm37 2zm15 16zm5-6zm36 23zm-8 18zm-111-7zm-24-13zm-147 20zm-64-22zm-36-2zm-74 27zm7 26zm53-13zm45 1zm77 10zm46-11zm177-3zm37 14zm55-12zm12 16zm75-8zm8 0zm-82 22zm-11 5zm-85 7zm-20-6zm-7-14zm-40 0zm-15 24zm-14-23zm-28-1zm-8 3zm-120 20zm-27 0zm-22-14zm-4 13zm-66-1zm-52-8zm0-18zm-31 39zm121-5zm1-1zm348 15zm52-9zm2 0zm127-4zm18 11zm12 31zm-148 6zm-55-14zm-44 9zm-2 4zm-74-1zm-77-2zm-57 6zm-48-9zm-109-1zm-29 23zm11 10zm62-6zm5 9zm25 8zm62-14zm25 13zm40-16zm113-10zm80-2zm82 3zm42 0zm50 1zm77 12zm15 36zm-48-6zm-4-1zm-64-2zm-55-1zm-25 15zm-34-27zm-235 9zm-157 1zm-40 8zm12 33zm10 6zm34-22zm32 8zm27 6zm8-10zm86-3zm34 7zm12-8zm14 16zm7-21zm49 28zm124-14zm34-4zm152 13zm8 32zm-209 0zm-78 1zm-478-25zm112 33zm252 10zm43-13zm21 19zm82-18zm109 16zm39-12zm28 11zm34-4zm81 45zm-107-14zm0 5zm-208-18zm-10 11zm-51 14zm-154-19zm-25-7zm-168 51zm283-12zm397 2zm21 40zm-13-17zm-135 7zm-34 4zm-42-3zm-9 7zm-67-9zm-103 19zm13 13zm71-11zm60 15zm61 3zm61-18zm20 10zm10 8zm-62 25zm-206-6zm-25 11zm-32 34zm52-16zm51 4zm128 17zm75 4zm-146 7zm-177 47zm126 4zm43 809zm65 115zm-49 23zm1 31zm-183 61zm92 93zm89-8z" stroke="#d3cbef" stroke-width="25" stroke-linecap="round" fill="none"/><path transform="scale(.1)" d="M7489 6973zm30 10zm53-17zm65 11zm245-15zm31 27zm14-11zm42 5zm-137 16zm-48 6zm-157-4zm-79 32zm54 9zm18-5zm226-4zm200-10zm47 22zm-74 28zm-400-4zm-158-1zm-154-12zm285 39zm21 12zm36-2zm93-18zm391 16zm17-16zm36 13zm-227 33zm-245 4zm-23-8zm-337-16zm-67 15zm-151 41zm52-12zm267-17zm133 20zm210-3zm174-15zm59 11zm20-2zm7-3zm74 21zm-215 21zm-25 5zm-2-20zm-86 5zm-303 15zm-480-15zm605 44zm31-17zm0 9zm239-12zm325 54zm-55-3zm-282-2zm-256 4zm-68-21zm-227 43zm93-14zm38-3zm30-2zm148 14zm27-3zm117 10zm413-16zm-30 35zm-740 7zm36 31zm483 38zm-90-8zm-64 30zm124-1zm-26 28zm123 55zm-64-2zm-211-7zm-834 47zm865-4zm257 20zm-1135 71zm-20 76zm729 23zm22-20zm25 5zm-54 27zm-18 12zm-610 76zm-75 41zm121 40zm357 54zm21-7zm57 15zm154-26zm-96 29zm-316 11zm-2 20zm48 26zm10-15zm298-10zm33 49zm-445 19zm274 61z" stroke="#b3a4e1" stroke-width="25" stroke-linecap="round" fill="none"/><path transform="scale(.1)" d="M7749 6979zm242 39zm-8-23zm-26 24zm-474-29zm9 37zm601 14zm-245 38zm-1-15zm-310-12zm2 44zm81 11zm290-22zm171 9zm25-5zm-446 54zm357 6zm-215 44zm-150-4zm-156-13zm-43 21zm-35-12zm593 45zm-88 9zm-612 24zm347 10zm198-8zm287 40zm-69-8zm-727 8zm54 22zm2 18zm530-21zm31 4zm-133 47zm-407-9zm385 62zm-831 2zm1068 34zm-86 11zm-1070 337zm61 31zm-58 16zm129 21zm73 59zm465 6zm-313 27zm-2 51zm-157 21zm304 70zm1 0z" stroke="#8775cb" stroke-width="24" stroke-linecap="round" fill="none"/><use href="#trj" transform="translate(313.8 504.6) scale(0.791 0.781)" stroke="#111" stroke-width="1.35"/><text x="681.7" y="777.0" font-family='"Liberation Serif", serif' font-size="15.5" font-weight="bold" text-anchor="middle" transform="rotate(-90 681.7 777.0)">TNFRSF9</text><text x="846.5" y="642.5" font-family='"Liberation Serif", serif' font-size="15.5" font-weight="bold">Expression</text><defs><linearGradient id="exg" x1="0" y1="0" x2="0" y2="1"><stop offset="0" stop-color="#1f1a7e"/><stop offset="0.3" stop-color="#8068c0"/><stop offset="0.55" stop-color="#c9bde8"/><stop offset="0.72" stop-color="#ffffff"/><stop offset="0.85" stop-color="#f4f4f4"/><stop offset="1" stop-color="#ebebeb"/></linearGradient></defs><rect x="870.5" y="651.5" width="13.5" height="88.5" fill="url(#exg)"/><text x="887.5" y="688.0" font-family='"Liberation Serif", serif' font-size="14.5" font-weight="bold">0.5</text><text x="887.5" y="723.5" font-family='"Liberation Serif", serif' font-size="14.5" font-weight="bold">0.0</text></g>
<g id="F"><text x="1132.0" y="66.5" font-family='"Liberation Serif", serif' font-size="27" font-weight="bold">F</text><text x="1305.0" y="62.5" font-family='"Liberation Serif", serif' font-size="17.2" font-weight="bold" text-anchor="middle">cluster3</text><text x="1526.0" y="350.5" font-family='"Liberation Serif", serif' font-size="17.2" font-weight="bold" text-anchor="middle" transform="rotate(-72 1526.0 350.5)">cluster1</text><text x="1177.5" y="474.5" font-family='"Liberation Serif", serif' font-size="17.2" font-weight="bold" text-anchor="middle" transform="rotate(19 1177.5 474.5)">cluster2</text><path d="M1145.3 247.9A159.6 159.6 0 0 1 1159.4 206.4" stroke="#cc0a16" stroke-width="2.5" fill="none"/><path d="M1161.5 202.4A159.6 159.6 0 0 1 1172.2 185.2" stroke="#cc0a16" stroke-width="2.5" fill="none"/><path d="M1174.7 181.8A159.6 159.6 0 0 1 1204.8 151.5" stroke="#cc0a16" stroke-width="2.5" fill="none"/><path d="M1208.4 148.8A159.6 159.6 0 0 1 1226.1 137.7" stroke="#cc0a16" stroke-width="2.5" fill="none"/><path d="M1229.5 135.9A159.6 159.6 0 0 1 1270.7 121.6" stroke="#cc0a16" stroke-width="2.5" fill="none"/><path d="M1274.6 120.9A159.6 159.6 0 0 1 1295.9 118.6" stroke="#cc0a16" stroke-width="2.5" fill="none"/><path d="M1298.7 118.5A159.6 159.6 0 0 1 1362.6 130.4" stroke="#000" stroke-width="2.5" fill="none"/><path d="M1365.9 131.8A159.6 159.6 0 0 1 1402.2 153.9" stroke="#000" stroke-width="2.5" fill="none"/><path d="M1405.9 156.9A159.6 159.6 0 0 1 1434.5 189.1" stroke="#000" stroke-width="2.5" fill="none"/><path d="M1436.9 192.8A159.6 159.6 0 0 1 1454.7 231.7" stroke="#000" stroke-width="2.5" fill="none"/><path d="M1455.8 235.4A159.6 159.6 0 0 1 1460.0 255.6" stroke="#000" stroke-width="2.5" fill="none"/><path d="M1461.6 278.1A159.6 159.6 0 0 1 1455.1 323.2" stroke="#cc0a16" stroke-width="2.5" fill="none"/><path d="M1454.0 326.6A159.6 159.6 0 0 1 1447.0 344.8" stroke="#cc0a16" stroke-width="2.5" fill="none"/><path d="M1445.2 348.6A159.6 159.6 0 0 1 1435.7 365.3" stroke="#000" stroke-width="2.5" fill="none"/><path d="M1420.6 384.9A159.6 159.6 0 0 1 1367.4 423.7" stroke="#cc0a16" stroke-width="2.5" fill="none"/><path d="M1364.6 424.9A159.6 159.6 0 0 1 1237.8 424.2" stroke="#cc0a16" stroke-width="2.5" fill="none"/><path d="M1234.8 422.9A159.6 159.6 0 0 1 1214.8 411.8" stroke="#cc0a16" stroke-width="2.5" fill="none"/><path d="M1211.4 409.5A159.6 159.6 0 0 1 1179.4 380.3" stroke="#cc0a16" stroke-width="2.5" fill="none"/><path d="M1177.1 377.5A159.6 159.6 0 0 1 1155.2 340.7" stroke="#000" stroke-width="2.5" fill="none"/><path d="M1153.4 336.3A159.6 159.6 0 0 1 1143.4 295.6" stroke="#000" stroke-width="2.5" fill="none"/><path d="M1142.9 291.2A159.6 159.6 0 0 1 1142.6 270.9" stroke="#000" stroke-width="2.5" fill="none"/><text x="1148.1" y="224.2" font-family='"Liberation Serif", serif' font-size="13.3" text-anchor="end" transform="rotate(19 1148.1 224.2)">CD70</text><text x="1163.4" y="192.2" font-family='"Liberation Serif", serif' font-size="13.3" text-anchor="end" transform="rotate(31.5 1163.4 192.2)">LGALS9</text><text x="1186.3" y="163.2" font-family='"Liberation Serif", serif' font-size="13.3" text-anchor="end" transform="rotate(44.5 1186.3 163.2)">BTLA</text><text x="1215.1" y="140.1" font-family='"Liberation Serif", serif' font-size="13.3" text-anchor="end" transform="rotate(57.5 1215.1 140.1)">CD40LG</text><text x="1248.4" y="124.1" font-family='"Liberation Serif", serif' font-size="13.3" text-anchor="end" transform="rotate(70.5 1248.4 124.1)">TNFRSF14</text><text x="1285.0" y="115.9" font-family='"Liberation Serif", serif' font-size="13.3" text-anchor="end" transform="rotate(83.7 1285.0 115.9)">TNFSF9</text><text x="1335.9" y="118.6" font-family='"Liberation Serif", serif' font-size="13.3" transform="rotate(-79.5 1335.9 118.6)">ITGB2</text><text x="1390.8" y="141.3" font-family='"Liberation Serif", serif' font-size="13.3" transform="rotate(-58.5 1390.8 141.3)">CD27</text><text x="1426.9" y="173.3" font-family='"Liberation Serif", serif' font-size="13.3" transform="rotate(-41.5 1426.9 173.3)">HAVCR2</text><text x="1452.1" y="214.4" font-family='"Liberation Serif", serif' font-size="13.3" transform="rotate(-24.5 1452.1 214.4)">CD247</text><text x="1462.4" y="248.4" font-family='"Liberation Serif", serif' font-size="13.3" transform="rotate(-12 1462.4 248.4)">TNFSF9</text><text x="1462.6" y="306.4" font-family='"Liberation Serif", serif' font-size="13.3" transform="rotate(8.5 1462.6 306.4)">CD40LG</text><text x="1452.4" y="341.3" font-family='"Liberation Serif", serif' font-size="13.3" transform="rotate(21.299999999999997 1452.4 341.3)">CD70</text><text x="1441.4" y="362.8" font-family='"Liberation Serif", serif' font-size="13.3" transform="rotate(29.799999999999997 1441.4 362.8)">ITGB2</text><text x="1396.6" y="415.8" font-family='"Liberation Serif", serif' font-size="13.3" transform="rotate(54 1396.6 415.8)">CD40LG</text><text x="1300.3" y="445.2" font-family='"Liberation Serif", serif' font-size="13.3" text-anchor="end" transform="rotate(270.3 1300.3 445.2)">BTLA</text><text x="1226.2" y="422.5" font-family='"Liberation Serif", serif' font-size="13.3" text-anchor="end" transform="rotate(299 1226.2 422.5)">LGALS9</text><text x="1194.6" y="400.8" font-family='"Liberation Serif", serif' font-size="13.3" text-anchor="end" transform="rotate(312.5 1194.6 400.8)">TNFRSF14</text><text x="1164.1" y="365.3" font-family='"Liberation Serif", serif' font-size="13.3" text-anchor="end" transform="rotate(329 1164.1 365.3)">ITGB2</text><text x="1143.3" y="325.4" font-family='"Liberation Serif", serif' font-size="13.3" text-anchor="end" transform="rotate(346 1143.3 325.4)">CD247</text><text x="1139.0" y="284.6" font-family='"Liberation Serif", serif' font-size="13.3" text-anchor="end" transform="rotate(359 1139.0 284.6)">CD27</text><path d="M1153.5 238.9C1251.5 264.8 1249.3 279.0 1159.7 280.6" stroke="#000" stroke-width="1.5" fill="none"/><path d="M1146.9 280.8L1161.8 273.0L1162.1 288.0z" fill="#000"/><path d="M1160.4 218.6C1253.9 257.9 1332.0 234.7 1383.0 161.1" stroke="#000" stroke-width="1.5" fill="none"/><path d="M1390.3 150.6L1387.9 167.2L1375.6 158.6z" fill="#000"/><path d="M1445.6 332.6C1350.8 296.6 1325.8 231.0 1366.2 151.0" stroke="#000" stroke-width="1.5" fill="none"/><path d="M1371.9 139.7L1371.9 156.4L1358.5 149.7z" fill="#000"/><path d="M1171.5 197.2C1257.6 250.6 1338.5 240.0 1400.5 175.4" stroke="#000" stroke-width="1.5" fill="none"/><path d="M1409.4 166.2L1404.4 182.2L1393.6 171.8z" fill="#000"/><path d="M1228.0 412.7C1276.8 323.9 1343.7 245.9 1414.6 191.0" stroke="#000" stroke-width="1.5" fill="none"/><path d="M1424.7 183.3L1417.4 198.4L1408.3 186.5z" fill="#000"/><path d="M1185.6 177.9C1262.4 244.0 1348.4 253.1 1429.2 209.6" stroke="#000" stroke-width="1.5" fill="none"/><path d="M1438.6 204.6L1429.7 214.5L1425.4 206.4z" fill="#000"/><path d="M1200.8 162.5C1267.6 238.8 1251.8 294.4 1164.6 322.7" stroke="#000" stroke-width="1.5" fill="none"/><path d="M1154.5 326.0L1165.0 317.8L1167.8 326.5z" fill="#000"/><path d="M1311.6 431.4C1305.3 330.2 1351.5 259.9 1437.6 228.2" stroke="#000" stroke-width="1.7" fill="none"/><path d="M1447.6 224.5L1437.4 233.2L1434.2 224.5z" fill="#000"/><path d="M1291.3 431.3C1298.4 330.2 1250.1 287.3 1159.7 303.2" stroke="#000" stroke-width="1.4" fill="none"/><path d="M1149.3 305.0L1160.8 298.3L1162.4 307.4z" fill="#000"/><path d="M1219.5 148.6C1273.9 234.1 1304.4 225.4 1308.6 133.8" stroke="#000" stroke-width="1.5" fill="none"/><path d="M1309.0 123.2L1313.1 135.9L1303.9 135.4z" fill="#000"/><path d="M1452.2 310.0C1353.1 289.0 1311.4 226.2 1327.8 136.0" stroke="#000" stroke-width="1.5" fill="none"/><path d="M1329.7 125.5L1332.0 138.6L1323.0 137.0z" fill="#000"/><path d="M1375.1 413.2C1326.8 324.0 1317.4 227.7 1344.2 139.9" stroke="#000" stroke-width="2.2" fill="none"/><path d="M1347.3 129.8L1348.1 143.1L1339.3 140.4z" fill="#000"/><path d="M1455.2 288.8C1354.1 281.7 1258.8 308.3 1183.7 361.0" stroke="#000" stroke-width="1.5" fill="none"/><path d="M1174.9 367.1L1182.6 356.1L1187.8 363.7z" fill="#000"/><path d="M1392.9 401.9C1332.9 320.2 1255.0 302.0 1173.3 343.7" stroke="#000" stroke-width="2.2" fill="none"/><path d="M1163.8 348.5L1172.9 338.7L1177.0 346.9z" fill="#000"/><path d="M1409.7 387.7C1338.6 315.3 1347.9 304.1 1429.5 350.5" stroke="#000" stroke-width="2.2" fill="none"/><path d="M1436.9 354.7L1426.6 352.6L1429.7 347.0z" fill="#000"/><path d="M1269.8 428.3C1291.1 329.2 1281.2 230.2 1240.8 137.2" stroke="#000" stroke-width="3.5" fill="none"/><path d="M1353.5 422.8C1319.5 327.3 1288.4 227.2 1263.8 135.7" stroke="#000" stroke-width="1.5" fill="none"/><path d="M1261.9 128.3L1267.0 136.2L1261.4 137.7z" fill="#000"/><path d="M1249.5 422.4C1284.1 327.2 1269.7 319.1 1207.0 398.8" stroke="#000" stroke-width="3.7" fill="none"/><path d="M1332.9 428.6C1312.5 329.3 1264.1 314.7 1198.1 378.5" stroke="#000" stroke-width="1.5" fill="none"/><path d="M1190.4 385.8L1196.2 373.8L1202.6 380.5z" fill="#000"/><path d="M1285.7 125.4C1296.5 226.2 1353.7 267.5 1443.5 249.0" stroke="#000" stroke-width="1.5" fill="none"/><path d="M1453.9 246.9L1442.6 253.9L1440.8 244.9z" fill="#000"/></g>
<g id="G"><text x="1018.0" y="566.5" font-family='"Liberation Serif", serif' font-size="27" font-weight="bold">G</text><text x="1293.5" y="571.5" font-family='"Liberation Serif", serif' font-size="17.8" font-weight="bold" text-anchor="middle">cluster3 vs cluster2</text><rect x="1096.4" y="580.1" width="406.4" height="228.6" fill="none" stroke="#333" stroke-width="1.2"/><text x="1111.8" y="832.0" font-family='"Liberation Serif", serif' font-size="16" font-weight="bold" text-anchor="middle">-2</text><text x="1205.7" y="832.0" font-family='"Liberation Serif", serif' font-size="16" font-weight="bold" text-anchor="middle">-1</text><text x="1299.6" y="832.0" font-family='"Liberation Serif", serif' font-size="16" font-weight="bold" text-anchor="middle">0</text><text x="1393.5" y="832.0" font-family='"Liberation Serif", serif' font-size="16" font-weight="bold" text-anchor="middle">1</text><text x="1487.4" y="832.0" font-family='"Liberation Serif", serif' font-size="16" font-weight="bold" text-anchor="middle">2</text><text x="1086.0" y="811.5" font-family='"Liberation Serif", serif' font-size="16" font-weight="bold" text-anchor="end">0</text><text x="1086.0" y="781.3" font-family='"Liberation Serif", serif' font-size="16" font-weight="bold" text-anchor="end">20</text><text x="1086.0" y="751.2" font-family='"Liberation Serif", serif' font-size="16" font-weight="bold" text-anchor="end">40</text><text x="1086.0" y="721.0" font-family='"Liberation Serif", serif' font-size="16" font-weight="bold" text-anchor="end">60</text><text x="1086.0" y="690.8" font-family='"Liberation Serif", serif' font-size="16" font-weight="bold" text-anchor="end">80</text><text x="1086.0" y="660.6" font-family='"Liberation Serif", serif' font-size="16" font-weight="bold" text-anchor="end">100</text><text x="1086.0" y="630.5" font-family='"Liberation Serif", serif' font-size="16" font-weight="bold" text-anchor="end">120</text><text x="1086.0" y="600.3" font-family='"Liberation Serif", serif' font-size="16" font-weight="bold" text-anchor="end">140</text><path d="M1111.8 808.7v5M1205.7 808.7v5M1299.6 808.7v5M1393.5 808.7v5M1487.4 808.7v5M1096.4 806.0h-6M1096.4 775.8h-6M1096.4 745.7h-6M1096.4 715.5h-6M1096.4 685.3h-6M1096.4 655.1h-6M1096.4 625.0h-6M1096.4 594.8h-6" stroke="#222" stroke-width="1.2"/><text x="1298.0" y="849.5" font-family='"Liberation Serif", serif' font-size="17.9" font-weight="bold" text-anchor="middle">avg_logFC</text><text x="1049.5" y="700.5" font-family='"Liberation Serif", serif' font-size="17.85" font-weight="bold" text-anchor="middle" transform="rotate(-90 1049.5 700.5)">-log10(p_val_adj)</text><path transform="scale(.1)" d="M13841 6612zm-47 75zm-37 106zm77 44zm-1726 24zm1709 1zm-43 27zm-46 9zm-90 29zm43 17zm-113 6zm-1335 8zm-31 9zm1542 18zm-1586 21zm119 31zm1502-17zm-1591 88zm17-24zm13 15zm1-5zm15-5zm70 18zm1427 26zm-2 6zm-1447 15zm1521 23zm-59 15zm-1414-13zm1344 26zm14 0zm14 46zm-13-11zm-136 11zm-1244-19zm-6 23zm-83-1zm160 27zm1369 10zm-49 19zm-92-13zm-1223 25zm13 2zm1297 26zm-1301 5zm-6-2zm-126 36zm23 5zm17-14zm94 22zm21-9zm18 5zm25 1zm1168-3zm-38 33zm-1186 10zm-90 3zm110 2zm4 17zm249-15zm890 10zm79-9zm-31 25zm-1137 4zm-39 23zm-44-10zm-68-9zm101 37zm82-8zm14 17zm59-6zm35 3zm1140-9zm-283 32zm-1 1zm-846 4zm-23-10zm-14 15zm-11-25zm-10 7zm-2 0zm-138-8zm65 30zm28 8zm82 2zm30 6zm869-4zm46 11zm7-21zm1-1zm0-1zm0 19zm-39 26zm-80 13zm-12 1zm-8 0zm-803-16zm-75-12zm-1 13zm-47 9zm-12 0zm-25-15zm-6 19zm48 28zm49-11zm5-13zm6 4zm62 23zm5 0zm6-7zm4 1zm8-8zm22-4zm8 10zm16 0zm653-7zm28-13zm52 25zm15-17zm10 20zm32-21zm15-3zm14 10zm21 39zm-47 5zm-20-19zm-5 2zm-15 9zm-68-19zm-665 26zm-4-3zm-8-16zm-1 15zm-7-3zm-21-8zm-11 3zm-11 9zm-16-20zm-21 23zm-3-27zm0 24zm-9-8zm-22 7zm-1-11zm-23-4zm-34 41zm23-14zm21 4zm17-7zm26 11zm32-1zm4-8zm0 22zm10-6zm10 2zm0-21zm15 19zm2-5zm6 6zm3 7zm8-20zm29-2zm11 20zm5-4zm5-12zm4 17zm32-5zm17-13zm516-3zm42 18zm40-6zm37-17zm2 14zm16 43zm-63-8zm-12-20zm-5 2zm-2 14zm-6-8zm-29 12zm-8 6zm-6-9zm-12-2zm-2 12zm-7-14zm-22 1zm-472 11zm-36-20zm-6 7zm-7 8zm-13-16zm-1 8zm-19 4zm-3-15zm-7 25zm-6-8zm-6-18zm-3 23zm-7-20zm-1 20zm-3-14zm-11 19zm-25-4zm-8-2zm-75-5zm-63 18zm40 19zm40-22zm38 1zm13 21zm4-5zm28-15zm1-1zm27 4zm17 21zm2-23zm8 2zm3 10zm9-4zm2 7zm3-11zm1 10zm50 7zm4-26zm495 17zm0-8zm0-3zm5 12zm12-4zm3 8zm10-21zm2 12zm48-10zm11 19zm2-10zm5 3zm116-7zm-102 35zm-2-8zm-48-3zm-18 13zm-9 4zm-10-3zm-1-16zm-13 20zm-2-11zm-7 14zm-5 4zm-5 1zm-1 1zm-3-13zm-1-9zm-14 1zm-1 13zm-1-1zm-9-13zm-16 2zm-19 19zm-340-7zm-21-3zm-35 5zm-1-22zm-7 28zm-12-2zm-8-15zm-1 7zm-8-3zm-5-13zm-5 9zm-1-5zm-6 10zm-5-2zm-1-4zm-8 17zm-13-26zm-5-2zm-5 18zm-1-12zm-5 5zm-9 3zm-7-8zm-11-3zm-17 4zm-10-3zm-12-1zm-37-3zm-203 20zm204 37zm6-25zm68 12zm27 14zm1-8zm5-20zm6 6zm0 20zm1-15zm6 3zm3 1zm2-5zm8 6zm9-8zm0 3zm6-1zm3 8zm4 1zm0-19zm4 16zm0 9zm2-6zm1-5zm3 8zm2-8zm1-14zm2 19zm5 10zm10-22zm0 5zm2 17zm0-3zm1-21zm1-3zm11 16zm18-3zm4-12zm44 21zm301-10zm12-1zm18 1zm6-12zm0 16zm7 5zm0-4zm3-6zm3 5zm0-4zm30-5zm1 19zm4-8zm3 1zm3-19zm21 27zm1-7zm5-3zm9 2zm4-6zm8-13zm21 19zm5 3zm49-7zm32-11zm-51 39zm-41 4zm-7-15zm-1 14zm-37-13zm-1 0zm-2 5zm-16 12zm-7-20zm-2 26zm-2-1zm-3-10zm-2-7zm-2 12zm-5-11zm-5 13zm-1-22zm-10 18zm-3-20zm-1 25zm0-21zm-8 6zm-1 17zm-2-20zm-1 19zm0-4zm-2-4zm-10-3zm-6 8zm-14-23zm-1 28zm-12 1zm-8-1zm-1-10zm-41-2zm-249 1zm-15 7zm-3-17zm-5 7zm-3 0zm-6-7zm-1 14zm-3-18zm-7 24zm-4-24zm-1 15zm-1 9zm-1-24zm-1 2zm-11 7zm-1 4zm0-15zm-8 20zm-7-14zm-1-4zm-5 23zm-2-2zm-1-8zm-1 10zm-1-17zm-1-7zm-3 25zm0-22zm-10 4zm-4 13zm-1 1zm-15-13zm-1 18zm-9-17zm-10 10zm-7-7zm-3-13zm-22 13zm-3 11zm-3-21zm-5 5zm0 16zm-4-17zm-13 17zm-25-22zm-11 12zm-28-9zm-32 16zm-18-19zm-89 21zm194 32zm43 2zm1-13zm10-14zm30 0zm15 16zm0 10zm4-23zm1 23zm9 0zm1-24zm3 0zm3 6zm0 12zm4-14zm0 6zm1 7zm1-5zm1 4zm2-1zm1 4zm1 0zm5-21zm4 2zm0 15zm1-8zm0-10zm3 2zm1 4zm7 11zm1 6zm3-17zm2 4zm2 11zm0-10zm5-8zm1 6zm1 19zm0-3zm1-22zm2 26zm0-13zm5-3zm7 9zm0-6zm1-3zm0 2zm1 14zm1-13zm0 7zm2-5zm0-11zm2 14zm4 0zm2-21zm1 20zm2-2zm0-18zm6 29zm0-26zm6 20zm9-6zm20-3zm16 2zm188 11zm11-12zm4 8zm5-3zm15-6zm0 6zm3-15zm4 17zm1 3zm4-10zm2 10zm3-19zm0 11zm1 12zm4-14zm8 12zm2-23zm7 16zm4 6zm1-5zm7 5zm4-9zm6 8zm3-13zm1-5zm2 12zm2-18zm3 8zm0-3zm3 8zm0 7zm2 2zm0 5zm0-9zm6-2zm1-13zm3 7zm5 0zm8 11zm6 4zm0-6zm3-15zm1 23zm2 0zm5-6zm2-3zm4-18zm3 1zm5 7zm11-6zm22 11zm4-6zm4 20zm7-27zm5 15zm144-10zm80 3zm156 42zm-378 8zm-35-14zm-15-13zm-22 27zm-2-6zm-14-15zm0-4zm-2 4zm-2 8zm-7 10zm0-5zm-5 8zm-7-25zm-1 18zm-11 2zm-6-15zm-1 3zm0-2zm0 15zm-3-13zm-3-12zm0 20zm-6-6zm-2-4zm0-1zm-4 0zm-1 16zm-2-2zm-1-17zm-1 9zm0-15zm-1 17zm-1-6zm-3 14zm-1-12zm-1-4zm-1 15zm-3-4zm-1-2zm-2-16zm-5 9zm0 11zm-3 6zm-4-12zm-2-7zm-4 1zm-1 4zm-4 7zm0 8zm-1-11zm-2 9zm-2 0zm-1-10zm-1-3zm-4 12zm-1 2zm-3-10zm-6-11zm-3 14zm-1 6zm-10-6zm-5-18zm-159 19zm-9-10zm-4 17zm-13-1zm-3 0zm-3-4zm-1 3zm-1-6zm-3-19zm-6 7zm-1 2zm-1 6zm0 11zm-1-20zm-1 15zm-2-6zm-11 12zm-3-7zm-1-5zm0 6zm-2-18zm-1 3zm-1-2zm-3 19zm-1-5zm-1-5zm-2-3zm-1-12zm-1 18zm-1 3zm-1 4zm-1-16zm-1-6zm-1 3zm-1 3zm-3 15zm-2-18zm0 3zm0 4zm-4 0zm-2-8zm-1-4zm-1 22zm-2-14zm0 11zm-2-4zm-1 7zm0-9zm0 2zm0-14zm0 2zm-2 13zm0-4zm-2 13zm-2-14zm-6 3zm0-8zm-2 18zm-3-22zm-2 25zm-2-10zm-2-7zm-4 9zm0-6zm-1-13zm-1 25zm-3-21zm-1 4zm-6 9zm-2-7zm-8 3zm-3 8zm-9-13zm-15 7zm-18-1zm-9-14zm-4 4zm-27 10zm-12-1zm-4 2zm0 11zm-46-4zm-10-13zm-73-6zm-20 20zm-45-18zm65 34zm28-7zm50 14zm35-10zm34 22zm14-19zm4 10zm1-2zm19 4zm0 4zm5-17zm7-9zm13 28zm4-25zm2 20zm15-21zm29 15zm5 0zm3-9zm1 14zm5-22zm2 17zm6-4zm2 12zm2-8zm0-11zm3-5zm1 11zm1 6zm1 0zm1-2zm1-5zm0-10zm1 6zm1 6zm2 10zm0 1zm2 4zm0-7zm0 2zm1-15zm1 11zm6 4zm2-7zm1-3zm1 15zm0-8zm0-5zm3-1zm1-6zm0 19zm0-14zm2 0zm1 6zm0 3zm1-19zm0 14zm1 8zm0-18zm2 4zm2-1zm2-8zm5 21zm0-9zm2 11zm4-14zm0-11zm1 2zm0 20zm0-9zm0 12zm1-21zm0 11zm3 8zm0 0zm1-3zm1-13zm1 7zm1 4zm2 6zm0-5zm1-13zm0 18zm1-5zm4-4zm1-4zm4-2zm1 9zm4-2zm3 8zm1 1zm0-22zm0 1zm1 10zm5 12zm5 0zm8-15zm4-11zm2 28zm121-26zm8 25zm0 1zm0-3zm6-5zm2 0zm2 4zm1-1zm1-13zm7 5zm1-14zm0 28zm1-17zm2 7zm1-16zm2 14zm1 9zm0-6zm5 6zm1-13zm2 3zm0 6zm0-15zm1 6zm0 0zm2-4zm0 4zm2 9zm1-22zm3 10zm2 13zm2 6zm0-23zm1-6zm1 23zm1 4zm0 2zm0-27zm2 16zm0-18zm3 20zm1 0zm1-17zm1 26zm2-22zm0 1zm0 7zm3-1zm2 1zm1 4zm0 3zm1 1zm1-17zm0 22zm1-14zm0-3zm0 3zm1-13zm1 23zm1-17zm3 14zm0-21zm2 10zm2 7zm2-15zm0 18zm4-14zm4 11zm1-16zm6 12zm1-3zm1 2zm9 17zm2-8zm1-21zm3 16zm3-8zm0 5zm1-13zm4 29zm3-21zm15 18zm0-7zm1-19zm4 10zm85-5zm8 22zm29 1zm30-22zm1 14zm11-18zm28 26zm53-11zm31 30zm-199-7zm-13-5zm-12 2zm-12 21zm-5-14zm-1 3zm-4 8zm-28-17zm-6 21zm-3 0zm-4-27zm-8 3zm-3-1zm-1-1zm-5 0zm-9 23zm0-18zm-11 15zm0-18zm-1-1zm-2 20zm-6-12zm-2-11zm-2 10zm-4-9zm-1 16zm0-9zm-1 5zm-1 13zm-4-26zm-6 3zm-17-4zm-4 18zm-3-12zm-3 1zm-1 12zm0-14zm-1 21zm-1-1zm-2-1zm-1-20zm0 21zm-1-4zm-3-14zm-1-1zm-1 14zm-2 6zm0-12zm-3-13zm0 5zm0-3zm-1 4zm0 21zm0-26zm-1 17zm-1 3zm0 6zm0-14zm-2-14zm-1 18zm0-15zm0 14zm-1 7zm-1-19zm-1 21zm-1-10zm0 1zm-1-15zm0 23zm-1 1zm-1-12zm0 2zm-1-9zm-1 21zm-3-3zm-1-8zm0-9zm-3 8zm-1 3zm0-3zm-1 4zm-1-4zm0 7zm-1 6zm-1-5zm-2-20zm-2 7zm-1-3zm-3 5zm0 15zm0-8zm-4-11zm-3 12zm-1 2zm-3 3zm-1 0zm-2 1zm0-1zm-2-12zm-5 11zm-9-17zm0 18zm-71-3zm-6-2zm-6-12zm-1 12zm-1 8zm0-12zm-3 3zm-1 7zm0-7zm-8 9zm-3-21zm0 16zm0 1zm-1-18zm-2 22zm-1-11zm-2 4zm0-3zm-2 3zm-1-12zm0 5zm-1 14zm-1-16zm-1-8zm-2 3zm-1 8zm0-4zm-1-10zm0 19zm-2-11zm-2 19zm-1-11zm-1 2zm0-14zm0 22zm-2-15zm-1 1zm0-1zm-1 16zm0-27zm-1 7zm0 3zm-1 13zm-1-19zm-3 19zm0 1zm-1-10zm-1-9zm0 21zm0-28zm-5 6zm-1 10zm-2-6zm-1 16zm-1-3zm-2-12zm-1 12zm-2 1zm0-9zm0 10zm-1-20zm0 22zm0-27zm-4 23zm0 2zm-2-9zm0-5zm-1-2zm-2 19zm-2-8zm-1-12zm0 16zm-4-2zm-1-7zm0-8zm-1 4zm0 4zm-4 12zm-1-14zm-2-13zm0 15zm-1-3zm-3 12zm-4-1zm-4-9zm-7 10zm-2-7zm0-6zm-2 0zm-1 0zm0-7zm0 12zm-8-6zm-4 0zm-1 16zm-7-18zm-15-3zm-5 11zm-8-14zm-5 6zm-10 10zm-3 6zm-1-21zm-9 17zm-4-15zm-2 7zm-1-6zm-30 3zm-18-8zm-3 13zm-1-12zm-30 26zm-12-10zm0 4zm-77-15zm-5-6zm-715 3zm-37 23zm375 23zm447-2zm30-1zm21-12zm7 2zm3 12zm29-17zm3 13zm1 0zm0-3zm11 12zm47-17zm6 15zm2 5zm7-16zm8-7zm2 24zm2-1zm9-12zm1 10zm2-8zm1 6zm3-10zm1-8zm1-3zm2 10zm8 7zm2-16zm3 24zm3-11zm3 1zm0 10zm4-13zm1-12zm0 18zm1-3zm2 9zm2-6zm3 2zm2-3zm1-18zm1 22zm1-15zm1 15zm6-21zm1 5zm2-5zm1 7zm1 6zm1-6zm0 12zm1-3zm0-12zm0 23zm5-24zm1 2zm1 18zm0-15zm1-3zm0 11zm0-14zm1 10zm1 14zm1-11zm0 1zm2 2zm0-18zm1 7zm1 8zm1 9zm0-18zm1 0zm1 14zm1-8zm0 6zm2-5zm1-15zm1 16zm1-7zm0 9zm0 6zm0-3zm1-10zm1 15zm0-16zm0 7zm1-14zm0 6zm1 17zm1-17zm1 17zm0-5zm1 7zm1-21zm1 18zm0-13zm1 3zm0-7zm0 0zm1-5zm0 7zm1 12zm1 6zm1-9zm0 0zm0-3zm2 11zm1 0zm1-16zm0-8zm0 23zm0 2zm0-11zm1 11zm0-10zm1 9zm1 0zm1-5zm2-8zm1-8zm0-6zm1 22zm1-14zm1 19zm0-13zm0 4zm1 10zm0-3zm0 1zm1-4zm1 0zm1 7zm0-1zm0-18zm1 5zm1 11zm2-23zm1-3zm3 0zm2 0zm4 3zm1 7zm3 18zm6-13zm1-2zm1-12zm1 26zm14-3zm3 2zm1-2zm5-3zm12 2zm1-8zm8-13zm1 25zm6-19zm0-5zm1 0zm0 25zm0-16zm1-4zm1-5zm0 26zm2 0zm2-1zm1-9zm0-4zm1 13zm1 0zm0 1zm1-6zm0-5zm1-11zm0 6zm1-3zm1-8zm0 5zm2 12zm1 3zm0 6zm1-20zm0 6zm1-4zm0-6zm1 3zm2 13zm1-15zm0 10zm0-11zm1 0zm1 25zm1 0zm0-10zm0-17zm1 9zm0-8zm0 20zm0 0zm1-19zm1-4zm0 12zm1 17zm0-7zm2-1zm0-17zm1 5zm0-5zm0 16zm1-11zm0 8zm0 11zm0-8zm1-14zm0-1zm0 7zm0 4zm2-6zm0 17zm1 2zm1-5zm0-14zm0 3zm1 1zm2-13zm0 23zm1-2zm0-12zm0-2zm2-3zm1 19zm1-7zm0-11zm1 1zm0 22zm0-20zm0 8zm0-14zm2 1zm1 20zm0-13zm2 8zm0-19zm0 15zm1-6zm1 8zm0-5zm2-12zm1 25zm0-23zm0 12zm1-7zm1 15zm1-19zm0 0zm1 4zm0-5zm2 0zm1 13zm0 8zm0-12zm1 7zm0 6zm0-7zm1 2zm1-3zm1 3zm0-9zm2 8zm0-7zm1 3zm0-11zm0 5zm3 19zm1-26zm0 4zm0 5zm1-4zm2 14zm1-15zm1 24zm1-7zm2-12zm1-10zm2 26zm0-26zm1 18zm1-6zm3-7zm1-1zm5 7zm6 3zm1 9zm5-19zm0-2zm0 14zm12 12zm1-12zm1 13zm0-25zm0 1zm10 14zm3-3zm9 8zm0-14zm7 11zm1-10zm11-7zm2-2zm7 26zm2-10zm1 1zm37-8zm21 15zm6-19zm18 17zm4-20zm313-4zm-179 56zm-53-11zm-58 6zm-30-14zm-12 8zm-3-14zm-3 15zm-1 9zm-38-9zm-9 5zm-1-9zm-5 3zm0-10zm0 23zm-4-27zm-2 25zm-3-26zm-2 23zm0-18zm-4-4zm-2 11zm-3-9zm-4-1zm-23 0zm-5 9zm-3 6zm-1 0zm-10-14zm-3 3zm-1 16zm-2-1zm-4-15zm-2 3zm-5 5zm0 13zm-7 2zm-4-14zm-2-9zm-4 12zm-5-1zm0 7zm-2 2zm0-24zm-1 27zm0-24zm-4 8zm-1-13zm-2 27zm-2-11zm-1 13zm0-1zm-1-16zm-1 16zm-2-21zm-1 18zm0-24zm-4 1zm-2 16zm0-17zm-2 14zm-5 12zm0 0zm0-2zm-1 3zm-1-22zm-1 19zm-1-14zm-5 15zm-2-21zm-1 18zm0-20zm0 11zm-1-6zm-1-4zm-1 9zm0-10zm-1 3zm0 4zm-1 7zm-2-17zm0 16zm-1-13zm-1 11zm0 3zm0 3zm0-8zm-1 4zm0-10zm0 12zm-2 6zm-1-12zm0 14zm0-24zm-1 23zm0-2zm0-23zm-2 18zm-1 11zm0-19zm-1 18zm0 0zm-1-19zm0 9zm0 2zm-1-13zm0 4zm0-1zm-1-10zm0 20zm-1-14zm0 7zm0 7zm-1-3zm-1 0zm0 5zm0-18zm0 14zm-1 7zm-1-17zm-1 19zm0-4zm-1-17zm0 2zm-1 15zm-1-6zm0 2zm0-6zm-1 6zm0-19zm0 7zm-1-2zm0 16zm0 3zm0-15zm-3 5zm-1 5zm0-4zm0 5zm0-20zm-1 18zm0 3zm0-1zm-1-9zm0 15zm-1-22zm-1 17zm-1 5zm-1 0zm0-9zm0 12zm0-5zm-1-8zm0-2zm-2 11zm0 0zm0-4zm0-3zm-1-17zm0 0zm0 17zm-1 3zm-1 2zm-4-7zm-2 0zm0-15zm-1 6zm0 21zm0-4zm-1-1zm0 0zm-1-6zm-1 8zm0-4zm-1 0zm0-7zm0 14zm-2 0zm0-5zm0-2zm-1-1zm0 1zm0-21zm-2 22zm0-2zm-2-1zm-2-5zm-1 14zm-1-12zm-1 2zm0-5zm-1-5zm-1 21zm-1-6zm0-14zm-1 15zm0 2zm-1 1zm0-2zm-1 3zm-3-20zm-1 12zm-2 5zm-1 3zm-2-22zm0 13zm0 9zm0-6zm-2 0zm-1 7zm0-11zm0-4zm-1 4zm0 9zm0-15zm0-2zm-3 17zm-1-22zm-1 11zm0 2zm-1 7zm-1-10zm-1 13zm0-6zm0 3zm-1 3zm-2-10zm0 0zm0-2zm-2 10zm0-4zm0 6zm0-14zm0 4zm0 7zm-2-8zm-1-12zm-1 4zm0 18zm-1-7zm0 9zm-1-6zm0-11zm-1 12zm0 4zm0 1zm-1-18zm0 9zm0-3zm-1-5zm0-4zm0 5zm-1 9zm0-12zm-1 7zm-1-7zm0-5zm-1 0zm-1 24zm0 0zm-1-21zm-1-4zm0 15zm0-13zm-2 11zm0-17zm-2 29zm0-3zm0-9zm0 9zm-1-26zm0 24zm-1-23zm0 14zm0-8zm-1 11zm-2-9zm-1 7zm0-16zm0 3zm-1 22zm-1-3zm-1 1zm0 0zm0-9zm0 2zm-1-2zm-1-1zm0-12zm-1 14zm0 5zm-1 3zm-1-3zm-3-18zm0 17zm-1-14zm0 10zm0 11zm-1-24zm0 18zm0-6zm-2-13zm-2 0zm0 14zm-1 7zm-2-22zm-2 9zm0-2zm0 1zm-3 15zm0-23zm-3 18zm-4-5zm-1-12zm0 3zm-2-1zm-2-3zm0 4zm-1 14zm-1-2zm-1 7zm0-18zm-1 15zm-5-4zm0-11zm0 17zm-4-11zm0 11zm-1-6zm-1-9zm-2-6zm0 17zm-1-3zm-5 1zm-2-1zm-5-2zm-9-5zm-2 15zm-3-5zm-4 6zm0-17zm-3 14zm-6-15zm-19 19zm-1-22zm-1 8zm-2 8zm-1 3zm-6-20zm-3-2zm-6 4zm-3 13zm-6-9zm-4-7zm-11 1zm0 15zm-5 4zm-3 4zm-5-11zm-131-13zm-8 3zm-34-4zm-76 27zm-35-2zm-51-18zm-158 5zm-488 30zm160-7zm272 7zm38-7zm206 7zm14 2zm61-6zm34 9zm136-6zm10-10zm15 16zm22-3zm3 3zm11-12zm13 12zm0-5zm8 5zm16-13zm1 13zm18-14zm8-1zm2 15zm2 0zm3-2zm3-15zm5 7zm4 7zm4-10zm1 5zm1-1zm10-4zm5-2zm1 7zm7-8zm6 16zm1-4zm6 4zm1-8zm0 8zm4-10zm4 10zm7-12zm0-2zm0 12zm2-15zm1 5zm3 3zm2 9zm0-6zm2-11zm6 8zm0 5zm1-8zm2-5zm1 6zm0 10zm3 1zm1-1zm1-12zm2 6zm2 7zm0-16zm1 7zm0 1zm1 0zm2 8zm1-12zm1 9zm0 3zm1 0zm0-3zm0 3zm2-13zm0 6zm1 7zm1-9zm1 5zm0 0zm0 0zm2-1zm0 5zm2-7zm2 0zm0 5zm0 2zm0 0zm1 0zm0 0zm0-13zm2 13zm0-7zm0-4zm0 8zm0-7zm1 10zm0-10zm0 5zm1 5zm0-9zm1 0zm0 2zm2 7zm0 0zm0 0zm0-5zm0-9zm1 7zm0 7zm0 0zm0-4zm1-4zm0 8zm0-2zm1 2zm0-2zm0-3zm1 1zm0-1zm0-9zm0 14zm0-3zm1-5zm0 8zm0-15zm0 10zm1 3zm0-10zm0 2zm0 10zm0 0zm1 0zm0 0zm2 0zm0-9zm0 9zm0-14zm1 14zm1-1zm1-2zm0-6zm0 8zm0-9zm0 1zm0 9zm0-5zm1 5zm0-9zm0 9zm1-16zm0 16zm0-4zm0-7zm0 0zm0 1zm0-1zm1 9zm0-4zm0-3zm1-8zm0 1zm0 15zm0-1zm1 2zm0-7zm1-7zm0 5zm0-2zm0 11zm0-3zm0-4zm0 6zm1-15zm0 16zm1-11zm0 4zm0 7zm1-4zm1 1zm0 3zm0 0zm0 0zm1 0zm0-13zm1 13zm0-8zm0 3zm0 5zm1 0zm0-3zm0 1zm0 2zm0 0zm1 0zm0 0zm0 0zm1-4zm0 4zm0 0zm0-10zm0 10zm0-7zm0 7zm1 0zm0 0zm0 0zm0-8zm1-9zm1 15zm0 2zm0-13zm0 13zm0-3zm0-7zm1-7zm0 8zm0 7zm0 1zm0-3zm0-8zm0 12zm0-3zm0-7zm1 6zm0 4zm0 0zm0-13zm1 1zm0 7zm1 2zm0-2zm0-4zm0 9zm1-4zm0 2zm0-12zm1 14zm0 0zm1-2zm0 2zm0-12zm0 5zm0 3zm0-13zm1 8zm0 3zm1 2zm0 4zm0-8zm1-2zm0-4zm0 6zm1 8zm0 0zm0-1zm0 0zm0-14zm1 3zm0 5zm0-10zm0 8zm1 9zm0 0zm0-5zm1-6zm0 8zm0-8zm0 8zm1-3zm0-11zm0 17zm1-13zm0 13zm0 0zm0-6zm1 6zm0-17zm0 5zm1-3zm0 11zm0-3zm1-9zm0 8zm1 8zm0-13zm1 5zm0 5zm0 3zm0-8zm2 5zm0-13zm1 15zm0-11zm2 1zm0 1zm2 10zm0-14zm0 14zm0-11zm1-5zm4 16zm0-8zm1 7zm0-6zm0 1zm2-6zm0-5zm0 17zm1-7zm0-4zm0 2zm2 9zm1-6zm0-7zm1 8zm1-3zm1 6zm1-12zm1 14zm1-4zm0-3zm2 0zm0-10zm0 2zm1 5zm1-4zm0 7zm1-1zm2 0zm0-8zm1 5zm1 11zm1-9zm0 1zm4 7zm1-9zm1 10zm3 0zm0-6zm2 3zm1-8zm1 4zm1 4zm5-14zm4 12zm1 5zm6-16zm1 5zm3-1zm4-2zm2 13zm0-15zm11 1zm7 10zm5-1zm3-2zm8-3zm1 0zm12 11zm4-8zm1-9zm1 8zm19 9zm3-4zm1 4zm8-14zm5 14zm4 0zm6-15zm51 10zm9-5zm3 4zm12-11zm8 15zm32-13zm10 13z" stroke="#b9b9b9" stroke-width="36" stroke-linecap="round" fill="none"/><path transform="scale(.1)" d="M11681 6242zm-61 68zm291 48zm-117 144zm178 80zm52 128zm122 148zm-108 415zm52 0zm28 28zm19 42z" stroke="#2a45a8" stroke-width="40" stroke-linecap="round" fill="none"/><text transform="translate(1161.1 613.5) scale(.945 1)" font-family='"Liberation Serif", serif' font-size="13.9" fill="#2a45a8">TCF7</text><text transform="translate(1127.6 635.5) scale(.945 1)" font-family='"Liberation Serif", serif' font-size="13.9" fill="#2a45a8">SELL</text><text transform="translate(1195.8 634.9) scale(.945 1)" font-family='"Liberation Serif", serif' font-size="13.9" fill="#2a45a8">LEF1</text><text transform="translate(1148.5 656.8) scale(.945 1)" font-family='"Liberation Serif", serif' font-size="13.9" fill="#2a45a8">IL7R</text><text transform="translate(1198.0 655.0) scale(.945 1)" font-family='"Liberation Serif", serif' font-size="13.9" fill="#2a45a8">CCR7</text><text transform="translate(1209.2 671.0) scale(.945 1)" font-family='"Liberation Serif", serif' font-size="13.9" fill="#2a45a8">PLAC8</text><text transform="translate(1151.7 694.3) scale(.945 1)" font-family='"Liberation Serif", serif' font-size="13.9" fill="#2a45a8">TMEM123</text><text transform="translate(1194.0 715.7) scale(.945 1)" font-family='"Liberation Serif", serif' font-size="13.9" fill="#2a45a8">EEF1B2</text><text transform="translate(1146.4 727.7) scale(.945 1)" font-family='"Liberation Serif", serif' font-size="13.9" fill="#2a45a8">RIPOR2</text><text transform="translate(1217.2 733.0) scale(.945 1)" font-family='"Liberation Serif", serif' font-size="13.9" fill="#2a45a8">LTB</text><text transform="translate(1183.8 751.2) scale(.945 1)" font-family='"Liberation Serif", serif' font-size="13.9" fill="#2a45a8">GPR183</text><path transform="scale(.1)" d="M14020 6506zm-137 39zm-23 147zm282 128zm-249 30zm-33 305zm418 45zm-212 196zm-140 142z" stroke="#e8202a" stroke-width="40" stroke-linecap="round" fill="none"/><text transform="translate(1403.0 647.0) scale(.945 1)" font-family='"Liberation Serif", serif' font-size="13.9" fill="#e8202a">NKG7</text><text transform="translate(1357.1 652.3) scale(.945 1)" font-family='"Liberation Serif", serif' font-size="13.9" fill="#e8202a">CD8A</text><text transform="translate(1341.6 671.0) scale(.945 1)" font-family='"Liberation Serif", serif' font-size="13.9" fill="#e8202a">GZMK</text><text transform="translate(1413.7 677.7) scale(.945 1)" font-family='"Liberation Serif", serif' font-size="13.9" fill="#e8202a">CCL4</text><text transform="translate(1384.3 699.9) scale(.945 1)" font-family='"Liberation Serif", serif' font-size="13.9" fill="#e8202a">LAG3</text><text transform="translate(1381.1 729.3) scale(.945 1)" font-family='"Liberation Serif", serif' font-size="13.9" fill="#e8202a">TNIP3</text><text transform="translate(1435.1 721.3) scale(.945 1)" font-family='"Liberation Serif", serif' font-size="13.9" fill="#e8202a">CCL4L2</text><text transform="translate(1411.1 746.4) scale(.945 1)" font-family='"Liberation Serif", serif' font-size="13.9" fill="#e8202a">CXCL13</text><text transform="translate(1395.0 766.2) scale(.945 1)" font-family='"Liberation Serif", serif' font-size="13.9" fill="#e8202a">CCL3</text></g>
<g id="H"><text x="1599.5" y="77.5" font-family='"Liberation Serif", serif' font-size="27" font-weight="bold">H</text><text x="1650.5" y="117.5" font-family='"Liberation Serif", serif' font-size="17.3" font-weight="bold">TF Activity</text><defs><linearGradient id="hgr" x1="0" y1="0" x2="0" y2="1"><stop offset="0" stop-color="#ff0000"/><stop offset="0.5" stop-color="#ffffff"/><stop offset="1" stop-color="#0000ff"/></linearGradient></defs><rect x="1617.8" y="130" width="15.2" height="88" fill="url(#hgr)"/><text x="1612.5" y="174.5" font-family='"Liberation Serif", serif' font-size="14" font-weight="bold" text-anchor="end">1</text><text x="1612.5" y="216.2" font-family='"Liberation Serif", serif' font-size="14" font-weight="bold" text-anchor="end">0</text><text x="1612.5" y="258.8" font-family='"Liberation Serif", serif' font-size="14" font-weight="bold" text-anchor="end">-1</text><rect x="1649.4" y="129.20" width="29.0" height="15.19" fill="#ff6767"/><rect x="1678.1" y="129.20" width="29.0" height="15.19" fill="#b7b7ff"/><rect x="1706.7" y="129.20" width="29.0" height="15.19" fill="#c4c4ff"/><text x="1740.8" y="141.8" font-family='"Liberation Serif", serif' font-size="15.1" font-weight="bold">POLR2A(+)</text><rect x="1649.4" y="144.09" width="29.0" height="15.19" fill="#ff6262"/><rect x="1678.1" y="144.09" width="29.0" height="15.19" fill="#bcbcff"/><rect x="1706.7" y="144.09" width="29.0" height="15.19" fill="#c2c2ff"/><text x="1740.8" y="156.7" font-family='"Liberation Serif", serif' font-size="15.1" font-weight="bold">SIN3A (+)</text><rect x="1649.4" y="158.98" width="29.0" height="15.19" fill="#ff6767"/><rect x="1678.1" y="158.98" width="29.0" height="15.19" fill="#a0a0ff"/><rect x="1706.7" y="158.98" width="29.0" height="15.19" fill="#e4e4ff"/><text x="1740.8" y="171.6" font-family='"Liberation Serif", serif' font-size="15.1" font-weight="bold">DNMT3A (+)</text><rect x="1649.4" y="173.87" width="29.0" height="15.19" fill="#ff6565"/><rect x="1678.1" y="173.87" width="29.0" height="15.19" fill="#ceceff"/><rect x="1706.7" y="173.87" width="29.0" height="15.19" fill="#b2b2ff"/><text x="1740.8" y="186.5" font-family='"Liberation Serif", serif' font-size="15.1" font-weight="bold">JUND (+)</text><rect x="1649.4" y="188.76" width="29.0" height="15.19" fill="#ff6c6c"/><rect x="1678.1" y="188.76" width="29.0" height="15.19" fill="#9c9cff"/><rect x="1706.7" y="188.76" width="29.0" height="15.19" fill="#e8e8ff"/><text x="1740.8" y="201.4" font-family='"Liberation Serif", serif' font-size="15.1" font-weight="bold">CEBPZ (+)</text><rect x="1649.4" y="203.65" width="29.0" height="15.19" fill="#ff6a6a"/><rect x="1678.1" y="203.65" width="29.0" height="15.19" fill="#ceceff"/><rect x="1706.7" y="203.65" width="29.0" height="15.19" fill="#aeaeff"/><text x="1740.8" y="216.3" font-family='"Liberation Serif", serif' font-size="15.1" font-weight="bold">ZNF148 (+)</text><rect x="1649.4" y="218.54" width="29.0" height="15.19" fill="#ff7171"/><rect x="1678.1" y="218.54" width="29.0" height="15.19" fill="#9393ff"/><rect x="1706.7" y="218.54" width="29.0" height="15.19" fill="#f2f2ff"/><text x="1740.8" y="231.2" font-family='"Liberation Serif", serif' font-size="15.1" font-weight="bold">CTCF (+)</text><rect x="1649.4" y="233.43" width="29.0" height="15.19" fill="#ff7676"/><rect x="1678.1" y="233.43" width="29.0" height="15.19" fill="#8a8aff"/><rect x="1706.7" y="233.43" width="29.0" height="15.19" fill="#ffffff"/><text x="1740.8" y="246.1" font-family='"Liberation Serif", serif' font-size="15.1" font-weight="bold">ZBTB7A (+)</text><rect x="1649.4" y="248.32" width="29.0" height="15.19" fill="#ff6767"/><rect x="1678.1" y="248.32" width="29.0" height="15.19" fill="#a5a5ff"/><rect x="1706.7" y="248.32" width="29.0" height="15.19" fill="#e0e0ff"/><text x="1740.8" y="261.0" font-family='"Liberation Serif", serif' font-size="15.1" font-weight="bold">ZNF91 (+)</text><rect x="1649.4" y="263.21" width="29.0" height="15.19" fill="#ff6565"/><rect x="1678.1" y="263.21" width="29.0" height="15.19" fill="#e0e0ff"/><rect x="1706.7" y="263.21" width="29.0" height="15.19" fill="#a0a0ff"/><text x="1740.8" y="275.9" font-family='"Liberation Serif", serif' font-size="15.1" font-weight="bold">CEBPB (+)</text><rect x="1649.4" y="278.10" width="29.0" height="15.19" fill="#ff6262"/><rect x="1678.1" y="278.10" width="29.0" height="15.19" fill="#d2d2ff"/><rect x="1706.7" y="278.10" width="29.0" height="15.19" fill="#aeaeff"/><text x="1740.8" y="290.7" font-family='"Liberation Serif", serif' font-size="15.1" font-weight="bold">FOS (+)</text><rect x="1649.4" y="292.99" width="29.0" height="15.19" fill="#ff6262"/><rect x="1678.1" y="292.99" width="29.0" height="15.19" fill="#ceceff"/><rect x="1706.7" y="292.99" width="29.0" height="15.19" fill="#aeaeff"/><text x="1740.8" y="305.6" font-family='"Liberation Serif", serif' font-size="15.1" font-weight="bold">JUN (+)</text><rect x="1649.4" y="307.88" width="29.0" height="15.19" fill="#ff7878"/><rect x="1678.1" y="307.88" width="29.0" height="15.19" fill="#fff5f5"/><rect x="1706.7" y="307.88" width="29.0" height="15.19" fill="#8a8aff"/><text x="1740.8" y="320.5" font-family='"Liberation Serif", serif' font-size="15.1" font-weight="bold">JUNB (+)</text><rect x="1649.4" y="322.77" width="29.0" height="15.19" fill="#ff7b7b"/><rect x="1678.1" y="322.77" width="29.0" height="15.19" fill="#ededff"/><rect x="1706.7" y="322.77" width="29.0" height="15.19" fill="#9393ff"/><text x="1740.8" y="335.4" font-family='"Liberation Serif", serif' font-size="15.1" font-weight="bold">RUNX1(+)</text><rect x="1649.4" y="337.66" width="29.0" height="15.19" fill="#ffd3d3"/><rect x="1678.1" y="337.66" width="29.0" height="15.19" fill="#ffa7a7"/><rect x="1706.7" y="337.66" width="29.0" height="15.19" fill="#7c7cff"/><text x="1740.8" y="350.3" font-family='"Liberation Serif", serif' font-size="15.1" font-weight="bold">KLF6 (+)</text><rect x="1649.4" y="352.55" width="29.0" height="15.19" fill="#b7b7ff"/><rect x="1678.1" y="352.55" width="29.0" height="15.19" fill="#ff6767"/><rect x="1706.7" y="352.55" width="29.0" height="15.19" fill="#c9c9ff"/><text x="1740.8" y="365.2" font-family='"Liberation Serif", serif' font-size="15.1" font-weight="bold">FOX01(+)</text><rect x="1649.4" y="367.44" width="29.0" height="15.19" fill="#fff0f0"/><rect x="1678.1" y="367.44" width="29.0" height="15.19" fill="#ff8484"/><rect x="1706.7" y="367.44" width="29.0" height="15.19" fill="#8181ff"/><text x="1740.8" y="380.1" font-family='"Liberation Serif", serif' font-size="15.1" font-weight="bold">KLF2 (+)</text><rect x="1649.4" y="382.33" width="29.0" height="15.19" fill="#e4e4ff"/><rect x="1678.1" y="382.33" width="29.0" height="15.19" fill="#ff6c6c"/><rect x="1706.7" y="382.33" width="29.0" height="15.19" fill="#a0a0ff"/><text x="1740.8" y="395.0" font-family='"Liberation Serif", serif' font-size="15.1" font-weight="bold">FOXOP1(+)</text><rect x="1649.4" y="397.22" width="29.0" height="15.19" fill="#aeaeff"/><rect x="1678.1" y="397.22" width="29.0" height="15.19" fill="#ff6262"/><rect x="1706.7" y="397.22" width="29.0" height="15.19" fill="#c9c9ff"/><text x="1740.8" y="409.9" font-family='"Liberation Serif", serif' font-size="15.1" font-weight="bold">NFKB2 (+)</text><rect x="1649.4" y="412.11" width="29.0" height="15.19" fill="#e0e0ff"/><rect x="1678.1" y="412.11" width="29.0" height="15.19" fill="#ff6767"/><rect x="1706.7" y="412.11" width="29.0" height="15.19" fill="#a0a0ff"/><text x="1740.8" y="424.8" font-family='"Liberation Serif", serif' font-size="15.1" font-weight="bold">NFKB1 (+)</text><rect x="1649.4" y="427.00" width="29.0" height="15.19" fill="#f6f6ff"/><rect x="1678.1" y="427.00" width="29.0" height="15.19" fill="#ff7171"/><rect x="1706.7" y="427.00" width="29.0" height="15.19" fill="#8e8eff"/><text x="1740.8" y="439.6" font-family='"Liberation Serif", serif' font-size="15.1" font-weight="bold">ETS1 (+)</text><rect x="1649.4" y="441.89" width="29.0" height="15.19" fill="#c0c0ff"/><rect x="1678.1" y="441.89" width="29.0" height="15.19" fill="#ff6262"/><rect x="1706.7" y="441.89" width="29.0" height="15.19" fill="#b2b2ff"/><text x="1740.8" y="454.5" font-family='"Liberation Serif", serif' font-size="15.1" font-weight="bold">BCLAF1 (+)</text><rect x="1649.4" y="456.78" width="29.0" height="15.19" fill="#ceceff"/><rect x="1678.1" y="456.78" width="29.0" height="15.19" fill="#ff6767"/><rect x="1706.7" y="456.78" width="29.0" height="15.19" fill="#aaaaff"/><text x="1740.8" y="469.4" font-family='"Liberation Serif", serif' font-size="15.1" font-weight="bold">ELF2 (+)</text><rect x="1649.4" y="471.67" width="29.0" height="15.19" fill="#ceceff"/><rect x="1678.1" y="471.67" width="29.0" height="15.19" fill="#ff6c6c"/><rect x="1706.7" y="471.67" width="29.0" height="15.19" fill="#aaaaff"/><text x="1740.8" y="484.3" font-family='"Liberation Serif", serif' font-size="15.1" font-weight="bold">UBTF(+)</text><rect x="1649.4" y="486.56" width="29.0" height="15.19" fill="#e0e0ff"/><rect x="1678.1" y="486.56" width="29.0" height="15.19" fill="#ff6c6c"/><rect x="1706.7" y="486.56" width="29.0" height="15.19" fill="#a0a0ff"/><text x="1740.8" y="499.2" font-family='"Liberation Serif", serif' font-size="15.1" font-weight="bold">UQCRB (+)</text><rect x="1649.4" y="501.45" width="29.0" height="15.19" fill="#ededff"/><rect x="1678.1" y="501.45" width="29.0" height="15.19" fill="#ff6c6c"/><rect x="1706.7" y="501.45" width="29.0" height="15.19" fill="#9393ff"/><text x="1740.8" y="514.1" font-family='"Liberation Serif", serif' font-size="15.1" font-weight="bold">MAZ(+)</text><rect x="1649.4" y="516.34" width="29.0" height="15.19" fill="#e4e4ff"/><rect x="1678.1" y="516.34" width="29.0" height="15.19" fill="#ff7171"/><rect x="1706.7" y="516.34" width="29.0" height="15.19" fill="#9c9cff"/><text x="1740.8" y="529.0" font-family='"Liberation Serif", serif' font-size="15.1" font-weight="bold">SUZ12(+)</text><rect x="1649.4" y="531.23" width="29.0" height="15.19" fill="#b7b7ff"/><rect x="1678.1" y="531.23" width="29.0" height="15.19" fill="#ff6262"/><rect x="1706.7" y="531.23" width="29.0" height="15.19" fill="#b7b7ff"/><text x="1740.8" y="543.9" font-family='"Liberation Serif", serif' font-size="15.1" font-weight="bold">YY1 (+)</text><rect x="1649.4" y="546.12" width="29.0" height="15.19" fill="#c4c4ff"/><rect x="1678.1" y="546.12" width="29.0" height="15.19" fill="#ff6767"/><rect x="1706.7" y="546.12" width="29.0" height="15.19" fill="#aeaeff"/><text x="1740.8" y="558.8" font-family='"Liberation Serif", serif' font-size="15.1" font-weight="bold">NR3C1 (+)</text><rect x="1649.4" y="561.01" width="29.0" height="15.19" fill="#ffdddd"/><rect x="1678.1" y="561.01" width="29.0" height="15.19" fill="#ff9898"/><rect x="1706.7" y="561.01" width="29.0" height="15.19" fill="#8181ff"/><text x="1740.8" y="573.7" font-family='"Liberation Serif", serif' font-size="15.1" font-weight="bold">CHD2 (+)</text><rect x="1649.4" y="575.90" width="29.0" height="15.19" fill="#b7b7ff"/><rect x="1678.1" y="575.90" width="29.0" height="15.19" fill="#bcbcff"/><rect x="1706.7" y="575.90" width="29.0" height="15.19" fill="#ff6767"/><text x="1740.8" y="588.5" font-family='"Liberation Serif", serif' font-size="15.1" font-weight="bold">IKZF2 (+)</text><rect x="1649.4" y="590.79" width="29.0" height="15.19" fill="#c0c0ff"/><rect x="1678.1" y="590.79" width="29.0" height="15.19" fill="#b7b7ff"/><rect x="1706.7" y="590.79" width="29.0" height="15.19" fill="#ff6767"/><text x="1740.8" y="603.4" font-family='"Liberation Serif", serif' font-size="15.1" font-weight="bold">HIVEP1 (+)</text><rect x="1649.4" y="605.68" width="29.0" height="15.19" fill="#b7b7ff"/><rect x="1678.1" y="605.68" width="29.0" height="15.19" fill="#bcbcff"/><rect x="1706.7" y="605.68" width="29.0" height="15.19" fill="#ff6767"/><text x="1740.8" y="618.3" font-family='"Liberation Serif", serif' font-size="15.1" font-weight="bold">BATF (+)</text><rect x="1649.4" y="620.57" width="29.0" height="15.19" fill="#c4c4ff"/><rect x="1678.1" y="620.57" width="29.0" height="15.19" fill="#aaaaff"/><rect x="1706.7" y="620.57" width="29.0" height="15.19" fill="#ff6c6c"/><text x="1740.8" y="633.2" font-family='"Liberation Serif", serif' font-size="15.1" font-weight="bold">NFAT(+)</text><rect x="1649.4" y="635.46" width="29.0" height="15.19" fill="#bcbcff"/><rect x="1678.1" y="635.46" width="29.0" height="15.19" fill="#b7b7ff"/><rect x="1706.7" y="635.46" width="29.0" height="15.19" fill="#ff6767"/><text x="1740.8" y="648.1" font-family='"Liberation Serif", serif' font-size="15.1" font-weight="bold">PRDM1(+)</text><rect x="1649.4" y="650.35" width="29.0" height="15.19" fill="#c9c9ff"/><rect x="1678.1" y="650.35" width="29.0" height="15.19" fill="#aeaeff"/><rect x="1706.7" y="650.35" width="29.0" height="15.19" fill="#ff6c6c"/><text x="1740.8" y="663.0" font-family='"Liberation Serif", serif' font-size="15.1" font-weight="bold">EOMES (+)</text><rect x="1649.4" y="665.24" width="29.0" height="15.19" fill="#bcbcff"/><rect x="1678.1" y="665.24" width="29.0" height="15.19" fill="#b7b7ff"/><rect x="1706.7" y="665.24" width="29.0" height="15.19" fill="#ff6767"/><text x="1740.8" y="677.9" font-family='"Liberation Serif", serif' font-size="15.1" font-weight="bold">IRF3 (+)</text><rect x="1649.4" y="680.13" width="29.0" height="15.19" fill="#dbdbff"/><rect x="1678.1" y="680.13" width="29.0" height="15.19" fill="#a0a0ff"/><rect x="1706.7" y="680.13" width="29.0" height="15.19" fill="#ff6c6c"/><text x="1740.8" y="692.8" font-family='"Liberation Serif", serif' font-size="15.1" font-weight="bold">IRF9 (+)</text><rect x="1649.4" y="695.02" width="29.0" height="15.19" fill="#c0c0ff"/><rect x="1678.1" y="695.02" width="29.0" height="15.19" fill="#b2b2ff"/><rect x="1706.7" y="695.02" width="29.0" height="15.19" fill="#ff6767"/><text x="1740.8" y="707.7" font-family='"Liberation Serif", serif' font-size="15.1" font-weight="bold">STAT1 (+)</text><rect x="1649.4" y="709.91" width="29.0" height="15.19" fill="#aaaaff"/><rect x="1678.1" y="709.91" width="29.0" height="15.19" fill="#ceceff"/><rect x="1706.7" y="709.91" width="29.0" height="15.19" fill="#ff6c6c"/><text x="1740.8" y="722.6" font-family='"Liberation Serif", serif' font-size="15.1" font-weight="bold">STAT3 (+)</text><rect x="1649.4" y="724.80" width="29.0" height="15.19" fill="#aeaeff"/><rect x="1678.1" y="724.80" width="29.0" height="15.19" fill="#c4c4ff"/><rect x="1706.7" y="724.80" width="29.0" height="15.19" fill="#ff6c6c"/><text x="1740.8" y="737.4" font-family='"Liberation Serif", serif' font-size="15.1" font-weight="bold">IRF1 (+)</text><rect x="1649.4" y="739.69" width="29.0" height="15.19" fill="#9c9cff"/><rect x="1678.1" y="739.69" width="29.0" height="15.19" fill="#dbdbff"/><rect x="1706.7" y="739.69" width="29.0" height="15.19" fill="#ff6c6c"/><text x="1740.8" y="752.3" font-family='"Liberation Serif", serif' font-size="15.1" font-weight="bold">IRF2 (+)</text><rect x="1649.4" y="754.58" width="29.0" height="15.19" fill="#a0a0ff"/><rect x="1678.1" y="754.58" width="29.0" height="15.19" fill="#d6d6ff"/><rect x="1706.7" y="754.58" width="29.0" height="15.19" fill="#ff6c6c"/><text x="1740.8" y="767.2" font-family='"Liberation Serif", serif' font-size="15.1" font-weight="bold">ATF6B (+)</text><rect x="1649.4" y="769.47" width="29.0" height="15.19" fill="#a5a5ff"/><rect x="1678.1" y="769.47" width="29.0" height="15.19" fill="#d6d6ff"/><rect x="1706.7" y="769.47" width="29.0" height="15.19" fill="#ff7171"/><text x="1740.8" y="782.1" font-family='"Liberation Serif", serif' font-size="15.1" font-weight="bold">SMARCA5(+)</text><rect x="1649.4" y="784.36" width="29.0" height="15.19" fill="#ffffff"/><rect x="1678.1" y="784.36" width="29.0" height="15.19" fill="#8a8aff"/><rect x="1706.7" y="784.36" width="29.0" height="15.19" fill="#ff8484"/><text x="1740.8" y="797.0" font-family='"Liberation Serif", serif' font-size="15.1" font-weight="bold">NFATC2(+)</text><text x="1668.9" y="809.8" font-family='"Liberation Serif", serif' font-size="14.7" font-weight="bold" text-anchor="end" transform="rotate(-45 1668.9 809.8)">cluster1</text><text x="1697.6" y="809.8" font-family='"Liberation Serif", serif' font-size="14.7" font-weight="bold" text-anchor="end" transform="rotate(-45 1697.6 809.8)">cluster2</text><text x="1726.3" y="809.8" font-family='"Liberation Serif", serif' font-size="14.7" font-weight="bold" text-anchor="end" transform="rotate(-45 1726.3 809.8)">cluster3</text></g>
<g id="I"><text x="27.0" y="958.4" font-family='"Liberation Serif", serif' font-size="27" font-weight="bold">I</text><text x="50.6" y="997.8" font-family='"Liberation Serif", serif' font-size="14.7" font-weight="bold">EOMES</text><text x="266.0" y="999.1" font-family='"Liberation Serif", serif' font-size="14.7" font-weight="bold">NFAT5</text><path d="M22.5 1075.3L23.5 1073.0L26.5 1072.3L29.8 1074.0L33.8 1077.3L37.1 1080.0L38.7 1082.4L38.4 1085.4L35.8 1087.4L33.8 1088.7L31.1 1086.0L27.8 1083.4L24.5 1080.7L22.5 1078.0zM86.0 1058.2L86.8 1059.9L85.7 1063.6L83.7 1067.9L82.4 1072.6L81.4 1077.3L81.7 1083.4L82.0 1088.7L82.4 1094.1L83.4 1098.1L81.7 1101.5L78.7 1103.5L75.4 1104.1L72.8 1101.5L74.1 1096.8L74.8 1091.4L72.8 1086.0L68.8 1087.4L65.5 1086.7L62.2 1083.4L58.2 1083.4L56.9 1079.3L59.6 1072.6L62.2 1071.3L66.2 1070.6L68.8 1066.6L72.8 1063.6L76.8 1062.9L80.7 1061.9L84.0 1059.9zM59.6 1083.4L72.8 1086.0L74.8 1092.7L72.8 1101.5L68.8 1102.8L66.2 1098.1L62.2 1095.4L60.2 1092.1L60.2 1087.4zM45.7 1098.1L47.7 1095.4L51.6 1094.1L56.9 1092.7L60.2 1092.1L62.2 1095.4L66.2 1098.1L68.8 1102.8L66.8 1104.8L64.9 1108.2L62.2 1112.2L60.9 1115.5L58.2 1113.5L55.6 1111.5L52.3 1110.2L49.0 1110.2L47.0 1106.2L46.0 1101.5zM49.0 1110.2L52.3 1110.2L55.6 1111.5L58.2 1113.5L60.9 1115.5L62.2 1118.2L65.5 1120.2L64.2 1122.9L62.2 1124.9L62.2 1129.6L64.2 1134.3L67.5 1138.3L69.1 1139.7L66.8 1143.0L63.5 1145.1L60.2 1147.1L56.9 1149.7L54.9 1150.8L52.3 1149.4L49.0 1147.1L46.0 1145.1L45.0 1141.7L42.4 1137.7L41.7 1135.0L43.7 1131.0L45.0 1126.3L46.0 1122.9L47.7 1119.6L49.0 1114.2zM40.4 1118.2L43.0 1117.2L46.3 1116.9L47.7 1119.6L46.0 1122.9L43.7 1121.6L41.7 1121.2zM80.7 1106.2L82.0 1103.5L84.0 1100.8L86.0 1099.5L87.3 1104.1L90.6 1104.1L95.3 1103.5L100.6 1102.8L105.8 1102.8L111.1 1104.1L116.4 1106.2L119.7 1109.5L121.0 1112.9L118.4 1115.5L113.8 1117.6L108.5 1118.2L101.9 1118.9L95.3 1119.6L90.0 1120.9L86.0 1121.6L82.7 1118.9L81.7 1114.2L81.4 1109.5zM66.8 1104.8L70.1 1104.1L74.1 1106.2L78.1 1107.5L81.4 1108.8L82.0 1112.9L81.4 1118.2L79.4 1121.6L76.1 1120.9L72.8 1122.3L68.8 1119.6L65.5 1118.9L62.2 1116.9L60.9 1115.5L62.2 1112.2L64.9 1108.2zM37.2 1079.8L41.1 1077.5L48.4 1083.2L52.8 1090.0L49.5 1092.8L42.8 1088.8z" fill="#d3d3d3" stroke="#d3d3d3" stroke-width="2.6" stroke-linejoin="round"/><path d="M148.5 987.3L151.0 987.5L153.9 989.1L156.8 990.7L159.2 992.8L161.3 994.8L163.4 997.6L165.5 1000.9L167.1 1004.2L167.9 1008.2L168.8 1012.3L168.6 1016.4L167.9 1020.4L167.5 1024.5L166.7 1027.7L166.3 1030.6L164.6 1033.4L161.7 1035.5L159.2 1034.3L157.2 1036.3L154.3 1037.1L151.8 1037.9L149.7 1038.3L146.8 1037.5L145.6 1034.7L144.8 1031.8L143.9 1028.6L143.1 1024.5L142.3 1020.4L141.0 1017.6L138.5 1013.9L137.3 1010.3L135.2 1008.6L134.0 1006.6L133.6 1004.2L134.8 1002.1L136.5 999.3L139.4 996.0L141.0 993.6L142.7 990.7L145.2 988.7z" fill="#a692da" stroke="#a692da" stroke-width="2.4" stroke-linejoin="round"/><path transform="scale(.1)" d="M1511 9886zm-33 15zm40 2zm47 53zm-49-1zm-3-2zm-14 5zm-50-22zm18 29zm46 16zm91 16zm0 8zm-26 9zm-35-9zm-29 2zm-23 12zm-41-4zm-41 1zm-63 12zm15 10zm11 2zm35-2zm11-2zm4-10zm124 7zm96-3zm23 42zm-16-19zm-31-3zm-85 15zm-3-4zm-20 18zm-121 7zm27-4zm2 13zm51-7zm32 18zm74-24zm74 5zm21 21zm-27 31zm-64-8zm-24-4zm-60-10zm-54 9zm214 32zm8-3zm14 22zm-34 17zm-84-19zm-11 5zm-58 13zm83 11zm22 5zm73 0zm-7 47zm-62-7zm-39-5zm-92 41zm8 2zm111-6zm6-16zm56 0zm5 12zm-176 55zm67 32z" stroke="#d3d3d3" stroke-width="27" stroke-linecap="round" fill="none"/><path transform="scale(.1)" d="M1526 9891zm-72 31zm44-18zm92 35zm-69-9zm-22 13zm-7 26zm36-5zm78 14zm-19 36zm-132-4zm-36 6zm-16-4zm-1-21zm-31 3zm151 49zm66 2zm39-1zm45 30zm-14-22zm-24 22zm-34 1zm-62-24zm-32 14zm-31 6zm-75-15zm-6 4zm-19 42zm25-5zm119-2zm2 4zm6 8zm80-1zm68-14zm5 37zm-57 7zm-72 0zm-43-18zm-48-4zm-35-3zm151 53zm21 5zm22-1zm6-14zm30-4zm-9 40zm-14-12zm-5 5zm-1 10zm-70 1zm-60-12zm-50 35zm186-1zm-147 15zm68 56zm59-16zm37 7zm7-3zm-42 15zm-142 63zm-640 271zm-43 35zm-58 31zm-122 30zm-315 18zm-38-12zm-12 19zm386 7zm27-3zm109 1zm30 0zm-3 27zm-59 4zm-51-8zm-94 17zm-270-8zm-3-3zm-13-5zm-44 20zm15 10zm20 5zm1 6zm7-14zm22 4zm343 23zm33-2zm106 32zm-16-3zm-464-11zm290 27zm171-1zm-153 23zm-31 30zm179 7zm22 6zm-241 15zm-13-1zm-17 17zm-55-10zm-5 12zm107 13zm25 14zm149 13zm269 20zm-173-10zm-9 15zm-337-12zm-7 36zm84 5zm233 1zm53-6zm64-15zm36 46zm-89-14zm-157 24zm-184-4zm-12 22zm51 7zm38-8zm254-4zm10 0zm63 15zm55-27zm126 0zm70 39zm-35 19zm-16-23zm-63 23zm-321-12zm-251 2zm-11-15zm114 49zm131-20zm37 14zm68-9zm133-1zm-108 37zm-195-11zm-25 17zm-53 10zm-131 0zm-30-18zm64 46zm114 21zm-87 4zm-42-9zm-40 22zm8 8zm74 4zm60-1zm-71 35zm-15 8zm-25-17zm-16 20zm69 3zm-42 84zm9-12zm72-14zm9 13zm92 2zm-26 26zm-87-10zm10 58zm-5 7z" stroke="#c3b6e6" stroke-width="27" stroke-linecap="round" fill="none"/><path transform="scale(.1)" d="M1517 9892zm-10-13zm-33 10zm-38 30zm2 6zm113-6zm-37 11zm-7 19zm-19 1zm-7-15zm-29-5zm24 47zm11-9zm13 16zm28-1zm5 1zm10-13zm8 13zm6-9zm3-6zm35 5zm20 10zm16 4zm22 25zm-19 4zm-128-11zm-12 2zm-4 0zm-14 7zm-2-20zm-6 3zm-13-3zm-17-1zm-29 15zm-33-1zm-27 30zm7 8zm11-23zm32 5zm24 12zm18-14zm2-4zm50 27zm2-25zm6 19zm16-11zm22 9zm13-5zm8-10zm24 11zm7-10zm6-5zm3-1zm47 3zm22 21zm-38 14zm-8-3zm-43 23zm-8-28zm-69 3zm0-4zm-12 5zm-39 14zm-87 27zm61-16zm11 29zm23-21zm10-4zm49 5zm12 9zm1-18zm35 21zm25-13zm0 10zm17-12zm15-1zm19 24zm8-6zm4-5zm12-6zm1 6zm4-3zm-7 42zm-3-5zm-40 0zm-17-15zm-8 12zm-11-4zm-8-6zm-26-8zm-29 27zm-7-10zm-28 6zm-13-6zm-36-15zm-20 12zm-3 2zm-13 18zm14 11zm20 11zm8-4zm40-15zm106 0zm12 16zm13-12zm3 6zm10-15zm10 16zm4 10zm17-12zm18-5zm0 13zm5-25zm2 26zm0-16zm-9 40zm-11 6zm-10-3zm-70 5zm-65-13zm-2-1zm-86 10zm11 10zm1 18zm34-3zm39-2zm25 0zm19-8zm62 7zm7 2zm6 7zm6 4zm31-11zm-1 12zm-1 1zm-1 9zm-41-3zm-41 5zm-15 7zm-5 0zm-12 0zm-104-1zm-5 13zm69 15zm40 5zm84 37zm-3-18zm-26-10zm-5 1zm-80 28zm-33-17zm-5 12zm-35-1zm-4-16zm31 33zm15 15zm28-14zm13-8zm-8 28zm-12 23zm-68 40zm-631 242zm-39 17zm-17-17zm-2 23zm-10-15zm21 60zm-19 11zm-53-11zm-12-5zm-454 30zm20 5zm50 10zm371-16zm53 22zm-69 20zm-331 9zm-4-12zm-29 7zm-21 17zm523 7zm-5 22zm-1 19zm-92-28zm-353 17zm-26 5zm400 34zm40 0zm-54 76zm-129-3zm-111 14zm-2 33zm139-1zm49-10zm129-10zm-157 50zm-5-23zm-89 15zm-41 29zm11-11zm4-2zm366 22zm76 0zm149-4zm14-12zm9-3zm49 51zm-576-13zm-27 19zm390 4zm151 13zm46-7zm-42 25zm-338 4zm-228 12zm-10-17zm-15-4zm-14 16zm-11 27zm25 1zm209 11zm11 11zm-14-4zm-213-3zm-58 7zm-12 14zm60 29zm12-15zm75 5zm108 8zm-130 27zm-63-9zm-16-3zm-33 6zm51 41zm36-7zm5-14zm24 9zm28-5zm14 1zm13 45zm-130 1zm-61 31zm21-5zm26-2zm19 12zm14-8zm80 26zm-32 5zm-28-21zm-23 24zm-50-21zm41 30zm141 28zm-31 27zm-48-19zm-21 19zm-66-11zm26 27zm18 13zm51-7zm-7 19z" stroke="#9f88d6" stroke-width="27" stroke-linecap="round" fill="none"/><path transform="scale(.1)" d="M1432 9909zm16-3zm7 12zm12-13zm64-2zm13 21zm35 30zm-18 0zm-29-21zm-9 22zm-98-7zm16 21zm67 20zm8-9zm32-11zm23 13zm25-20zm13 23zm30 20zm-22-14zm-27 16zm-6-8zm-49 4zm-11 6zm-13-1zm-50 3zm-92-4zm-7 5zm-22 36zm37-24zm133 22zm40-7zm15-19zm28 16zm0-10zm5 17zm17-3zm50 33zm-23 3zm-16-15zm-11-8zm-21 11zm-93 13zm-9-13zm-73 11zm-41-13zm-2 14zm16 25zm2 0zm3 4zm54-7zm16 10zm9-15zm18-11zm33 6zm43 2zm1-10zm71 2zm18 22zm4-1zm3-22zm-18 36zm-11-3zm-3-2zm-26 3zm-19 13zm-37 5zm-66-10zm-3 0zm-10-11zm-8 23zm-9-19zm-21 21zm2 15zm13-1zm26-7zm38 5zm38-1zm21-2zm8 19zm14-24zm80 7zm-9 44zm-12-17zm-13 16zm-18-17zm-42 4zm-19 19zm-18-8zm-125 6zm9 14zm84-3zm9 1zm15 9zm8-15zm13 12zm1-12zm80 7zm5-8zm17 18zm-15 13zm-42 7zm-114 15zm-21-15zm-10 2zm-3 37zm9 7zm24-24zm60 15zm70 5zm41 2zm-15 35zm-31 0zm-9-1zm-6-3zm-12-7zm-19-8zm-17 8zm-40 10zm-51-3zm2 24zm3-14zm53 22zm6-23zm31 8zm2-8zm-67 53zm-59 49zm-650 218zm-41 40zm-478 66zm404 18zm148-18zm-501 46zm-55-2zm20 10zm316 17zm24 25zm-100 104zm58 3zm-22 8zm-15 15zm-11 5zm-5-16zm-1-9zm-54 16zm5 35zm134-14zm244 44zm-259-20zm-2 0zm-63-5zm-49 25zm132 10zm64-3zm254 10zm148 35zm-482 5zm-1-20zm-67 37zm53-3zm31 4zm52 1zm377 32zm-437 2zm-164 35zm204-7zm218 26zm-123 10zm-169-17zm-27 4zm-34 6zm-31-8zm-49 7zm41 35zm14 8zm73 1zm20 1zm21 32zm-60-13zm-76 10zm1 8zm45 23zm72-6zm11-2zm22-2zm28 44zm1 3zm14 22zm24 24zm-51-8zm-3 1zm-39-7zm-51 23zm-67 8zm182 14zm-14 20zm-114 20z" stroke="#7a62c6" stroke-width="27" stroke-linecap="round" fill="none"/><path transform="scale(.1)" d="M1486 9953zm-16-19zm24 29zm-62 39zm-52 44zm11-4zm265 37zm-6-22zm-104 5zm-96 2zm-66 21zm23-1zm206 1zm66 31zm0 17zm-46-4zm-6-16zm-151 25zm-48 2zm31 0zm7 16zm20 8zm20-5zm51 3zm8-4zm99 29zm-143 12zm-28-23zm-72 3zm67 38zm141-16zm11 26zm1-10zm-115 22zm-79 64zm63 18zm16 40zm-750 288zm-29 58zm-417 66zm-77 20zm-21-10zm75 32zm35 22zm230 94zm83 33zm-83 26zm-70 32zm-5 15zm20 103zm48 39zm44 11zm-15 114zm-119 18zm-23 36zm77 8zm-96 13zm76 41zm65-5zm-42 25z" stroke="#4a54b4" stroke-width="27" stroke-linecap="round" fill="none"/><text x="143.1" y="1071.0" font-family='"Liberation Serif", serif' font-size="14.7" font-weight="bold">Expression</text><rect x="170.3" y="1080.9" width="10.7" height="66.2" fill="url(#igr)"/><text x="183.9" y="1097.8" font-family='"Liberation Serif", serif' font-size="15.5" font-weight="bold">3</text><text x="183.9" y="1115.8" font-family='"Liberation Serif", serif' font-size="15.5" font-weight="bold">2</text><text x="183.9" y="1133.7" font-family='"Liberation Serif", serif' font-size="15.5" font-weight="bold">1</text><text x="183.9" y="1151.7" font-family='"Liberation Serif", serif' font-size="15.5" font-weight="bold">0</text><path d="M170.3 1092.4h2M179.0 1092.4h2M170.3 1110.4h2M179.0 1110.4h2M170.3 1128.3h2M179.0 1128.3h2" stroke="#fff" stroke-width="0.6" stroke-opacity="0.7"/><path d="M236.8 1079.6L237.8 1077.3L240.8 1076.6L244.1 1078.3L248.1 1081.6L251.4 1084.3L253.0 1086.7L252.7 1089.7L250.1 1091.7L248.1 1093.0L245.4 1090.3L242.1 1087.7L238.8 1085.0L236.8 1082.3zM300.3 1062.5L301.1 1064.2L300.0 1067.9L298.0 1072.2L296.7 1076.9L295.7 1081.6L296.0 1087.7L296.3 1093.0L296.7 1098.4L297.7 1102.4L296.0 1105.8L293.0 1107.8L289.7 1108.4L287.1 1105.8L288.4 1101.1L289.1 1095.7L287.1 1090.3L283.1 1091.7L279.8 1091.0L276.5 1087.7L272.5 1087.7L271.2 1083.6L273.9 1076.9L276.5 1075.6L280.5 1074.9L283.1 1070.9L287.1 1067.9L291.1 1067.2L295.0 1066.2L298.3 1064.2zM273.9 1087.7L287.1 1090.3L289.1 1097.0L287.1 1105.8L283.1 1107.1L280.5 1102.4L276.5 1099.7L274.5 1096.4L274.5 1091.7zM260.0 1102.4L262.0 1099.7L265.9 1098.4L271.2 1097.0L274.5 1096.4L276.5 1099.7L280.5 1102.4L283.1 1107.1L281.1 1109.1L279.2 1112.5L276.5 1116.5L275.2 1119.8L272.5 1117.8L269.9 1115.8L266.6 1114.5L263.3 1114.5L261.3 1110.5L260.3 1105.8zM263.3 1114.5L266.6 1114.5L269.9 1115.8L272.5 1117.8L275.2 1119.8L276.5 1122.5L279.8 1124.5L278.5 1127.2L276.5 1129.2L276.5 1133.9L278.5 1138.6L281.8 1142.6L283.4 1144.0L281.1 1147.3L277.8 1149.4L274.5 1151.4L271.2 1154.0L269.2 1155.1L266.6 1153.7L263.3 1151.4L260.3 1149.4L259.3 1146.0L256.7 1142.0L256.0 1139.3L258.0 1135.3L259.3 1130.6L260.3 1127.2L262.0 1123.9L263.3 1118.5zM254.7 1122.5L257.3 1121.5L260.6 1121.2L262.0 1123.9L260.3 1127.2L258.0 1125.9L256.0 1125.5zM295.0 1110.5L296.3 1107.8L298.3 1105.1L300.3 1103.8L301.6 1108.4L304.9 1108.4L309.6 1107.8L314.9 1107.1L320.1 1107.1L325.4 1108.4L330.7 1110.5L334.0 1113.8L335.3 1117.2L332.7 1119.8L328.1 1121.9L322.8 1122.5L316.2 1123.2L309.6 1123.9L304.3 1125.2L300.3 1125.9L297.0 1123.2L296.0 1118.5L295.7 1113.8zM281.1 1109.1L284.4 1108.4L288.4 1110.5L292.4 1111.8L295.7 1113.1L296.3 1117.2L295.7 1122.5L293.7 1125.9L290.4 1125.2L287.1 1126.6L283.1 1123.9L279.8 1123.2L276.5 1121.2L275.2 1119.8L276.5 1116.5L279.2 1112.5zM251.5 1084.1L255.4 1081.8L262.7 1087.5L267.1 1094.3L263.8 1097.1L257.1 1093.1z" fill="#d3d3d3" stroke="#d3d3d3" stroke-width="2.6" stroke-linejoin="round"/><path d="M362.8 991.6L365.3 991.8L368.2 993.4L371.1 995.0L373.5 997.1L375.6 999.1L377.7 1001.9L379.8 1005.2L381.4 1008.5L382.2 1012.5L383.1 1016.6L382.9 1020.7L382.2 1024.7L381.8 1028.8L381.0 1032.0L380.6 1034.9L378.9 1037.7L376.0 1039.8L373.5 1038.6L371.5 1040.6L368.6 1041.4L366.1 1042.2L364.0 1042.6L361.1 1041.8L359.9 1039.0L359.1 1036.1L358.2 1032.9L357.4 1028.8L356.6 1024.7L355.3 1021.9L352.8 1018.2L351.6 1014.6L349.5 1012.9L348.3 1010.9L347.9 1008.5L349.1 1006.4L350.8 1003.6L353.7 1000.3L355.3 997.9L357.0 995.0L359.5 993.0z" fill="#d0cde0" stroke="#d0cde0" stroke-width="2.4" stroke-linejoin="round"/><path transform="scale(.1)" d="M3632 9929zm14-11zm45 23zm-23 0zm-5 6zm-47-1zm-6-7zm-42 20zm2 21zm48-4zm57 13zm3-14zm1 5zm29 9zm43 16zm-26 1zm-65 8zm-18-24zm-10 11zm-29-11zm-29 26zm-49 5zm7 22zm41 1zm2-9zm15 0zm3-3zm6-6zm2 18zm8-18zm18 1zm8 12zm114 7zm20-23zm23 52zm-72 3zm-99-11zm-9 6zm-12 6zm-28-12zm-26 12zm-18-10zm-19 6zm-21 27zm14 4zm2-26zm66 28zm12-16zm16-6zm2 2zm11 15zm8 5zm27-24zm38 24zm43-15zm74 11zm3-18zm-9 28zm0-4zm-6 20zm-16-19zm-9 16zm-85-4zm-16 14zm-22-16zm-5 13zm-14-19zm-1 12zm-16 1zm-5 10zm-9-1zm-6-2zm-16-17zm-39 19zm-12-14zm-21 0zm34 40zm35 5zm0-12zm4-4zm20-4zm4-5zm5 14zm26-11zm27-4zm18 19zm40 5zm70-6zm25 9zm23 15zm-2 2zm-66 2zm-13-17zm-5 21zm-10 6zm-54-28zm-17 7zm-4-3zm-3 15zm-7-11zm-9 11zm0-17zm-5 24zm-11-1zm-14-9zm-3-1zm-7-2zm-2 3zm-10-14zm0 4zm-14 13zm-5-5zm-6-6zm-16 8zm-7-6zm17 30zm10-1zm8 20zm1-26zm20 10zm3 0zm1 5zm16-14zm23 7zm29-9zm11 14zm0 2zm12-17zm11 7zm46 9zm7-5zm10 12zm4-7zm7 12zm0-12zm2 10zm38-1zm-7 25zm-13-1zm-7-18zm-11 3zm-8 24zm-42-13zm-36 0zm-28-12zm-1 18zm-5-15zm-4 17zm-21-23zm-15 5zm-23 9zm-17-12zm0 44zm12-4zm19-9zm9 10zm16 13zm5-14zm12-4zm13 5zm5 4zm2-5zm67 9zm27-12zm13 10zm8 39zm-21-11zm-41 0zm-15 3zm-10-4zm-16-16zm-27 5zm-3-3zm-13 23zm-8-12zm-27-12zm-5 27zm-7-18zm-8-3zm22 25zm20 21zm17 4zm7-8zm8-6zm1-1zm3-8zm39 0zm14 6zm8 10zm46-15zm28-2zm5 6zm-41 36zm-46 6zm-4-13zm-1-2zm-6 17zm-44-16zm-25 12zm-9-12zm11 38zm6-13zm3 3zm6-6zm22 7zm4 11zm10-2zm14-10zm7-3zm9 10zm40-7zm-183 81z" stroke="#d3d3d3" stroke-width="27" stroke-linecap="round" fill="none"/><path transform="scale(.1)" d="M3660 9974zm109 43zm-147-25zm-23-2zm-7 26zm-39 8zm23 23zm42-9zm78-3zm31 5zm66 16zm-76 14zm-12-6zm-155 3zm-45-11zm12 46zm40 1zm8-15zm86-7zm16 10zm66-11zm7 3zm32 17zm39-2zm7 22zm-207 8zm25 23zm80-4zm36 15zm12-17zm25 45zm-31-11zm-54 19zm-68-22zm68 36zm97 36zm-15-2zm0-6zm-1-8zm-104 14zm-57 27zm35-6zm44 6zm45 16zm5-14zm23 9zm11-3zm-162 29zm-9-14zm-27 20zm209 15zm-182 48zm23 13zm2-11zm45 27zm-747 302zm-183 52zm137-3zm18-5zm-453 75zm7-25zm322 4zm123 35zm-7-10zm-104 10zm-313 43zm9-11zm317-6zm18 2zm98 47zm-6-27zm-7 58zm-103 21zm-142 19zm14-6zm219 12zm45-2zm-116 43zm-128-25zm-1 7zm-69 5zm36 29zm51 17zm24-16zm73 3zm439 40zm-6 0zm-5-12zm-41 2zm-25 11zm-36-9zm-15-1zm-4-8zm-38 14zm-274-11zm-79 6zm-54-18zm-19 27zm-33-11zm85 16zm61 8zm197-1zm46-3zm28-3zm48 10zm22-3zm7 11zm34 3zm7-6zm11 7zm67-11zm-14 21zm-3 9zm-55-2zm-25 2zm-32 7zm-69 3zm-168-18zm-84 9zm-32 12zm-91-17zm-21 41zm65-2zm53 2zm26 3zm111-6zm72 11zm75-4zm56-16zm8-4zm67-4zm18 8zm100 12zm34-9zm10-9zm-39 35zm-50 1zm-40-7zm-6 1zm-50 0zm-16 25zm-42-18zm-157 5zm-165-10zm-14 0zm-10 14zm-176 31zm142 2zm14-10zm193 17zm67-14zm24 1zm32-15zm13 4zm5 9zm73 0zm73-14zm-184 33zm-30 2zm-221 8zm-41-11zm-16 6zm-48 29zm46 48zm-11-5zm-37-1zm44 46zm-91 6zm-4 0zm155 43zm16 4zm-60 16zm-97 35zm101 3zm-62 56z" stroke="#c3b6e6" stroke-width="27" stroke-linecap="round" fill="none"/><path transform="scale(.1)" d="M3681 9939zm-72 1zm-23 45zm18-23zm20 23zm20-21zm16 8zm44 17zm10-21zm2 1zm32 45zm-60 3zm-27-26zm-28 2zm-24 22zm-58-22zm-32 52zm41-15zm87-5zm9 12zm1 9zm13-25zm18 23zm25-5zm11 7zm45-7zm19 12zm-1 4zm-54 22zm-1-24zm-8 22zm-1-2zm-41-23zm-1 10zm-18 19zm-14-23zm-23 14zm-22-20zm-107 16zm45 26zm195 14zm3-16zm55 18zm12-28zm2 13zm-9 20zm-9 13zm-21-8zm-28-4zm-22 4zm-30 10zm-67 9zm-91-14zm17 17zm8 1zm12 2zm33 20zm76 3zm1-4zm25-14zm38 1zm14 12zm10 5zm6-23zm6 21zm19-4zm18-12zm6 17zm-23 33zm-174 1zm-58 19zm64 7zm16-1zm47-10zm4 12zm9 3zm21-28zm0 16zm13-15zm40 13zm35 9zm5-16zm-5 31zm-2 12zm-7-10zm-2 2zm-2 16zm-5-28zm-17 0zm-62 27zm28 25zm4-21zm29 8zm16 30zm-4-10zm-72 3zm-94-1zm-3 3zm-9 9zm-7-12zm21 32zm21 25zm45-1zm41-23zm66 4zm1 4zm-38 25zm-13 4zm-117 26zm43 9zm27-15zm-90 29zm-22 46zm-715 234zm38 33zm-46-10zm-45 16zm-10 15zm116 34zm-517-9zm330 52zm160-6zm21 20zm-155-1zm-92 6zm-201 12zm-89-23zm48 45zm35-9zm29 40zm-18 21zm348 15zm123-13zm2 13zm-54 29zm-275 35zm111-15zm2 8zm77-6zm117-6zm22 33zm-191-4zm-111-4zm-4 52zm115-22zm18 13zm22 1zm76-2zm342 29zm-12 11zm-109-2zm-86-6zm-162 8zm-193-12zm-46 10zm8 26zm15-1zm69 5zm457 7zm74-26zm-10 40zm-40-11zm-16 19zm-34-12zm-40 7zm-13 10zm-97-17zm-136-2zm-33 11zm-175 36zm1-10zm41 6zm2 2zm200-1zm22 4zm24 2zm24-25zm10 8zm11-7zm176 21zm50-16zm53 31zm-148 10zm-37-5zm-152 15zm-43-5zm-140-18zm-166 46zm29 6zm56-13zm29 10zm72 4zm261-12zm2-2zm22-10zm208-4zm-380 42zm-101 2zm-167-10zm131 28zm-25 54zm-57-20zm-22-7zm74 38zm51 21zm25 25zm-65-20zm-102 27zm16-1zm21 2zm31 22zm6-9zm1-1zm26 5zm73 12zm-42 26zm-77-16zm2 47zm43-23zm102 1zm-101 42zm-15-10zm-20 7zm-48-13z" stroke="#9f88d6" stroke-width="27" stroke-linecap="round" fill="none"/><path transform="scale(.1)" d="M3660 9922zm-44 30zm17 13zm67 1zm16-2zm4 12zm2-7zm18 43zm-154-7zm-5-8zm-19 29zm9-3zm78 0zm58 15zm14 7zm12 3zm38-20zm12 21zm6 5zm-89 52zm62-24zm2 13zm16 14zm18-9zm18 10zm-47 23zm-3-5zm-34-10zm-29 18zm-8-1zm-13 3zm-2 28zm29-12zm3-9zm43 6zm7-9zm54 12zm1 15zm4-5zm8 26zm-5 5zm-78-8zm-25-16zm-34 8zm45 37zm2-14zm20 2zm35 6zm26-1zm-35 42zm-7-13zm-36 17zm-4-3zm-27-7zm-15 24zm42-5zm73-1zm-44 35zm-18 3zm-803 396zm21 18zm-118 23zm13 3zm-56 54zm-398-2zm61 23zm10 3zm16 8zm285-22zm1 32zm-35-7zm-293 1zm-5 55zm41-4zm384-22zm62 56zm-165-9zm-279-12zm469 76zm-184-21zm195 33zm-270 29zm-82 52zm55-9zm157 2zm58-14zm25 24zm-67 25zm-69-17zm-123 37zm35-7zm39 3zm80-4zm492 31zm-297 11zm-9-3zm-196 15zm-86-2zm-54 6zm13-2zm41 3zm31 16zm40-19zm155 12zm1 5zm282 1zm56 29zm-66-12zm-18 15zm-221-10zm-73 15zm-22 3zm-136-6zm-25 8zm9 29zm77-27zm158 3zm226-2zm-407 56zm-67 0zm-46-17zm-49 9zm-18-11zm73 26zm165-3zm-185 28zm27 79zm18 13zm28 33zm-95 43zm134-12zm1 10zm13-16zm-82 53zm12 18z" stroke="#7a62c6" stroke-width="27" stroke-linecap="round" fill="none"/><path transform="scale(.1)" d="M3644 9929zm-11 21zm36 38zm34 24zm-8 0zm-43 12zm29 77zm117 38zm-4-11zm-23-10zm-20 77zm-7-11zm-40 49zm-728 476zm-19 9zm-39 40zm-527 19zm392 52zm33-26zm-358 45zm16 20zm13-7zm311 4zm52 29zm-98 90zm54 2zm116 22zm19-5zm5-9zm-250 97zm-8 6zm143 37zm-148 9zm250 54zm-228 28zm73 34zm-85 15zm-29-7zm8 46zm56 96zm78 34z" stroke="#4a54b4" stroke-width="27" stroke-linecap="round" fill="none"/><text x="354.9" y="1073.5" font-family='"Liberation Serif", serif' font-size="14.7" font-weight="bold">Expression</text><rect x="382.0" y="1083.4" width="10.7" height="66.2" fill="url(#igr)"/><text x="395.6" y="1100.3" font-family='"Liberation Serif", serif' font-size="15.5" font-weight="bold">3</text><text x="395.6" y="1118.3" font-family='"Liberation Serif", serif' font-size="15.5" font-weight="bold">2</text><text x="395.6" y="1136.2" font-family='"Liberation Serif", serif' font-size="15.5" font-weight="bold">1</text><text x="395.6" y="1154.2" font-family='"Liberation Serif", serif' font-size="15.5" font-weight="bold">0</text><path d="M382.0 1094.9h2M390.7 1094.9h2M382.0 1112.9h2M390.7 1112.9h2M382.0 1130.8h2M390.7 1130.8h2" stroke="#fff" stroke-width="0.6" stroke-opacity="0.7"/><defs><linearGradient id="igr" x1="0" y1="0" x2="0" y2="1"><stop offset="0" stop-color="#3553ae"/><stop offset="0.3" stop-color="#5f58bd"/><stop offset="0.6" stop-color="#9880d0"/><stop offset="0.85" stop-color="#c4b6e2"/><stop offset="1" stop-color="#d6d6d6"/></linearGradient></defs></g>
<g id="J"><text x="29.8" y="1252.8" font-family='"Liberation Serif", serif' font-size="27" font-weight="bold">J</text><path d="M146.0 1314V1638.6M201.0 1314V1638.6M256.1 1314V1638.6M311.1 1314V1638.6M366.1 1314V1638.6" stroke="#ececec" stroke-width="0.6"/><path d="M91.5 1314V1638.6H413.6" stroke="#8a8a8a" stroke-width="1.1" fill="none"/><text x="88.2" y="1323.7" font-family='"Liberation Serif", serif' font-size="16" font-weight="bold" text-anchor="end">0.6</text><text x="88.2" y="1359.5" font-family='"Liberation Serif", serif' font-size="16" font-weight="bold" text-anchor="end">0.4</text><text x="88.2" y="1395.4" font-family='"Liberation Serif", serif' font-size="16" font-weight="bold" text-anchor="end">0.2</text><text x="88.2" y="1431.2" font-family='"Liberation Serif", serif' font-size="16" font-weight="bold" text-anchor="end">0</text><text x="88.2" y="1467.0" font-family='"Liberation Serif", serif' font-size="16" font-weight="bold" text-anchor="end">-0.2</text><text x="88.2" y="1553.5" font-family='"Liberation Serif", serif' font-size="16" font-weight="bold" text-anchor="end">1</text><text x="88.2" y="1577.6" font-family='"Liberation Serif", serif' font-size="16" font-weight="bold" text-anchor="end">0</text><text x="88.2" y="1601.7" font-family='"Liberation Serif", serif' font-size="16" font-weight="bold" text-anchor="end">-1</text><text x="88.2" y="1626.7" font-family='"Liberation Serif", serif' font-size="16" font-weight="bold" text-anchor="end">-2</text><text x="201.0" y="1654.8" font-family='"Liberation Serif", serif' font-size="16" font-weight="bold" text-anchor="middle">1000</text><text x="311.1" y="1654.8" font-family='"Liberation Serif", serif' font-size="16" font-weight="bold" text-anchor="middle">2000</text><path d="M89 1318.2h2.5M89 1354.0h2.5M89 1389.9h2.5M89 1425.7h2.5M89 1461.5h2.5M89 1548h2.5M89 1572.1h2.5M89 1596.2h2.5M89 1621.2h2.5M201.0 1638.6v2.5M311.1 1638.6v2.5" stroke="#8a8a8a" stroke-width="1"/><text x="58.3" y="1394.7" font-family='"Liberation Serif", serif' font-size="14.85" font-weight="bold" text-anchor="middle" transform="rotate(-90 58.3 1394.7)">Running Enrichment Score</text><text x="58.3" y="1577.6" font-family='"Liberation Serif", serif' font-size="14.85" font-weight="bold" text-anchor="middle" transform="rotate(-90 58.3 1577.6)">Ranked list metric</text><text x="258.4" y="1674.8" font-family='"Liberation Serif", serif' font-size="17.75" font-weight="bold" text-anchor="middle">Rank in Ordered Dataset</text><path d="M90.9 1572.1L90.9 1541.7L92.0 1547.8L94.2 1552.7L97.5 1556.3L101.9 1558.2L112.9 1561.2L123.9 1562.9L146.0 1564.8L179.0 1566.8L223.0 1568.0L289.1 1568.9L347.4 1569.7L347.5 1574.0L366.1 1575.7L388.2 1578.2L399.2 1581.8L405.8 1589.1L410.2 1601.3L412.4 1615.8L413.5 1632.8L413.5 1572.1z" fill="#bdbdbd"/><path d="M90.9 1425.7L104.8 1433.4V1411.2L110.4 1414.3V1394.3L141.4 1411.6V1397.5L160.3 1407.9V1395.8L180.2 1406.9V1396.6L193.5 1403.9V1394.3L217.6 1407.7V1399.1L242.6 1413.0V1405.2L244.5 1406.2V1398.4L252.9 1403.0V1395.4L268.4 1404.1V1396.9L303.6 1416.5V1410.2L328.5 1424.1V1418.3L332.1 1420.3V1414.7L345.7 1422.2V1416.8L406.1 1450.5V1421.6L413.5 1425.7" stroke="#f2706a" stroke-width="1.1" fill="none" stroke-linejoin="miter"/><path d="M104.8 1480.6v11.5M110.4 1480.6v11.5M141.4 1480.6v11.5M160.3 1480.6v11.5M180.2 1480.6v11.5M193.5 1480.6v11.5M217.6 1480.6v11.5M242.6 1480.6v11.5M244.5 1480.6v11.5M252.9 1480.6v11.5M268.4 1480.6v11.5M303.6 1480.6v11.5M328.5 1480.6v11.5M332.1 1480.6v11.5M345.7 1480.6v11.5M406.1 1480.6v11.5" stroke="#f2706a" stroke-width="0.8" stroke-opacity="0.65"/><ellipse cx="164" cy="1262.0" rx="8" ry="1.9" fill="#f2706a"/><text x="177.4" y="1265.6" font-family='"Liberation Serif", serif' font-size="11.85" font-weight="bold">Adipocytokine signaling pathway</text><path d="M90.9 1425.7L91.8 1426.1V1409.1L92.6 1409.5V1394.3L93.7 1394.9V1381.4L94.9 1382.1V1370.0L96.2 1370.7V1359.8L97.6 1360.5V1350.6L99.8 1351.8V1342.6L104.8 1345.3V1337.2L112.3 1341.4V1334.7L119.7 1338.8V1332.9L128.1 1337.6V1332.4L134.5 1335.9V1331.0L136.4 1332.0V1327.3L140.0 1329.3V1324.8L145.5 1327.8V1323.6L147.8 1324.8V1320.7L158.6 1326.7V1323.0L167.7 1328.1V1324.7L178.9 1330.9V1327.9L184.4 1331.0V1328.1L187.1 1329.6V1326.8L203.8 1336.0V1333.5L208.5 1336.1V1333.7L212.9 1336.1V1333.7L240.6 1349.2V1347.1L250.9 1352.8V1350.9L270.3 1361.7V1359.9L349.3 1404.2V1403.2L393.1 1427.7V1423.2L403.4 1428.9V1420.0L413.5 1425.7" stroke="#ae9f10" stroke-width="1.1" fill="none" stroke-linejoin="miter"/><path d="M91.8 1526.8v11.5M92.6 1526.8v11.5M93.7 1526.8v11.5M94.9 1526.8v11.5M96.2 1526.8v11.5M97.6 1526.8v11.5M99.8 1526.8v11.5M104.8 1526.8v11.5M112.3 1526.8v11.5M119.7 1526.8v11.5M128.1 1526.8v11.5M134.5 1526.8v11.5M136.4 1526.8v11.5M140.0 1526.8v11.5M145.5 1526.8v11.5M147.8 1526.8v11.5M158.6 1526.8v11.5M167.7 1526.8v11.5M178.9 1526.8v11.5M184.4 1526.8v11.5M187.1 1526.8v11.5M203.8 1526.8v11.5M208.5 1526.8v11.5M212.9 1526.8v11.5M240.6 1526.8v11.5M250.9 1526.8v11.5M270.3 1526.8v11.5M349.3 1526.8v11.5M393.1 1526.8v11.5M403.4 1526.8v11.5" stroke="#ae9f10" stroke-width="0.8" stroke-opacity="0.65"/><ellipse cx="164" cy="1274.0" rx="8" ry="1.9" fill="#ae9f10"/><text x="177.4" y="1277.6" font-family='"Liberation Serif", serif' font-size="11.85" font-weight="bold">Cell adhesion molecules</text><path d="M90.9 1425.7L92.0 1426.3V1412.1L93.1 1412.7V1400.1L94.3 1400.7V1389.8L95.6 1390.4V1380.4L97.1 1381.2V1372.1L98.7 1373.0V1364.6L100.4 1365.5V1357.5L102.6 1358.7V1351.2L105.3 1352.7V1345.7L108.1 1347.2V1340.7L117.9 1346.1V1340.8L121.9 1343.0V1338.0L128.1 1341.4V1336.9L134.5 1340.4V1336.1L136.4 1337.1V1333.0L140.0 1335.0V1331.0L155.3 1339.5V1336.2L157.5 1337.3V1334.1L163.6 1337.4V1334.3L177.4 1342.0V1339.4L181.6 1341.7V1339.1L185.1 1341.0V1338.5L188.0 1340.1V1337.6L217.6 1354.2V1352.2L226.0 1356.8V1354.9L283.4 1387.1V1385.6L293.9 1391.5V1390.1L300.2 1393.6V1392.2L327.9 1407.7V1406.5L384.8 1438.4V1435.6L388.2 1437.5V1434.5L398.4 1440.2V1435.2L403.4 1438.0V1430.1L406.1 1431.6V1421.6L413.5 1425.7" stroke="#1dba7a" stroke-width="1.1" fill="none" stroke-linejoin="miter"/><path d="M92.0 1515.2v11.5M93.1 1515.2v11.5M94.3 1515.2v11.5M95.6 1515.2v11.5M97.1 1515.2v11.5M98.7 1515.2v11.5M100.4 1515.2v11.5M102.6 1515.2v11.5M105.3 1515.2v11.5M108.1 1515.2v11.5M117.9 1515.2v11.5M121.9 1515.2v11.5M128.1 1515.2v11.5M134.5 1515.2v11.5M136.4 1515.2v11.5M140.0 1515.2v11.5M155.3 1515.2v11.5M157.5 1515.2v11.5M163.6 1515.2v11.5M177.4 1515.2v11.5M181.6 1515.2v11.5M185.1 1515.2v11.5M188.0 1515.2v11.5M217.6 1515.2v11.5M226.0 1515.2v11.5M283.4 1515.2v11.5M293.9 1515.2v11.5M300.2 1515.2v11.5M327.9 1515.2v11.5M384.8 1515.2v11.5M388.2 1515.2v11.5M398.4 1515.2v11.5M403.4 1515.2v11.5M406.1 1515.2v11.5" stroke="#1dba7a" stroke-width="0.8" stroke-opacity="0.65"/><ellipse cx="164" cy="1286.0" rx="8" ry="1.9" fill="#1dba7a"/><text x="177.4" y="1289.6" font-family='"Liberation Serif", serif' font-size="11.85" font-weight="bold">Cytokine−cytokine receptor interaction</text><path d="M90.9 1425.7L92.9 1426.8V1411.7L95.6 1413.2V1401.6L97.6 1402.7V1392.8L99.8 1394.0V1384.8L102.0 1386.0V1377.5L104.0 1378.6V1370.5L110.9 1374.3V1367.5L128.9 1377.6V1372.6L138.6 1378.0V1373.7L142.0 1375.5V1371.4L144.7 1372.9V1368.9L146.9 1370.0V1366.1L160.8 1373.9V1370.5L167.7 1374.4V1371.2L178.9 1377.4V1374.7L183.5 1377.3V1374.6L219.1 1394.5V1392.5L231.5 1399.4V1397.5L235.1 1399.5V1397.6L242.6 1401.8V1399.9L249.6 1403.8V1402.0L252.3 1403.5V1401.8L270.3 1411.8V1410.2L278.6 1414.8V1413.3L303.6 1427.3V1425.9L311.9 1430.5V1429.2L329.9 1439.3V1438.2L331.2 1438.8V1437.7L345.7 1445.7V1444.7L384.8 1466.6V1463.7L387.6 1465.2V1462.1L396.4 1467.0V1462.0L405.3 1467.0V1456.5L412.5 1460.5V1425.1L413.5 1425.7" stroke="#12aef0" stroke-width="1.1" fill="none" stroke-linejoin="miter"/><path d="M92.9 1503.7v11.5M95.6 1503.7v11.5M97.6 1503.7v11.5M99.8 1503.7v11.5M102.0 1503.7v11.5M104.0 1503.7v11.5M110.9 1503.7v11.5M128.9 1503.7v11.5M138.6 1503.7v11.5M142.0 1503.7v11.5M144.7 1503.7v11.5M146.9 1503.7v11.5M160.8 1503.7v11.5M167.7 1503.7v11.5M178.9 1503.7v11.5M183.5 1503.7v11.5M219.1 1503.7v11.5M231.5 1503.7v11.5M235.1 1503.7v11.5M242.6 1503.7v11.5M249.6 1503.7v11.5M252.3 1503.7v11.5M270.3 1503.7v11.5M278.6 1503.7v11.5M303.6 1503.7v11.5M311.9 1503.7v11.5M329.9 1503.7v11.5M331.2 1503.7v11.5M345.7 1503.7v11.5M384.8 1503.7v11.5M387.6 1503.7v11.5M396.4 1503.7v11.5M405.3 1503.7v11.5M412.5 1503.7v11.5" stroke="#12aef0" stroke-width="0.8" stroke-opacity="0.65"/><ellipse cx="164" cy="1298.0" rx="8" ry="1.9" fill="#12aef0"/><text x="177.4" y="1301.6" font-family='"Liberation Serif", serif' font-size="11.85" font-weight="bold">PD-L1 and PD-1 checkpoint in cancer</text><path d="M90.9 1425.7L94.9 1427.9V1410.4L101.1 1413.9V1399.6L114.2 1406.9V1395.2L124.8 1401.0V1390.6L139.5 1398.7V1389.4L147.5 1393.8V1385.1L167.7 1396.3V1388.6L219.1 1417.3V1411.3L226.0 1415.1V1409.3L249.6 1422.4V1416.9L250.9 1417.6V1412.1L254.5 1414.1V1408.7L257.8 1410.5V1405.2L288.9 1422.5V1417.6L318.8 1434.3V1429.9L328.5 1435.2V1431.0L384.0 1461.9V1454.6L388.7 1457.2V1449.3L413.1 1462.8V1425.5L413.5 1425.7" stroke="#e56af0" stroke-width="1.1" fill="none" stroke-linejoin="miter"/><path d="M94.9 1492.1v11.5M101.1 1492.1v11.5M114.2 1492.1v11.5M124.8 1492.1v11.5M139.5 1492.1v11.5M147.5 1492.1v11.5M167.7 1492.1v11.5M219.1 1492.1v11.5M226.0 1492.1v11.5M249.6 1492.1v11.5M250.9 1492.1v11.5M254.5 1492.1v11.5M257.8 1492.1v11.5M288.9 1492.1v11.5M318.8 1492.1v11.5M328.5 1492.1v11.5M384.0 1492.1v11.5M388.7 1492.1v11.5M413.1 1492.1v11.5" stroke="#e56af0" stroke-width="0.8" stroke-opacity="0.65"/><ellipse cx="164" cy="1310.0" rx="8" ry="1.9" fill="#e56af0"/><text x="177.4" y="1313.6" font-family='"Liberation Serif", serif' font-size="11.85" font-weight="bold">Renal cell carcinoma</text></g>
<g id="K"><text x="480.5" y="958.5" font-family='"Liberation Serif", serif' font-size="27" font-weight="bold">K</text><text x="740.5" y="953.8" font-family='"Liberation Serif", serif' font-size="19" font-weight="bold" text-anchor="middle">para-Tumor</text><text x="1149.0" y="953.8" font-family='"Liberation Serif", serif' font-size="19" font-weight="bold" text-anchor="middle">Tumor</text><path d="M543 959.5H910M951.5 959.5H1319" stroke="#7f7f7f" stroke-width="2" fill="none"/><text x="792" y="984.3" font-family='"Liberation Serif", serif' font-size="18" font-weight="bold" text-anchor="middle"><tspan fill="#ff0000">CD8</tspan>/<tspan fill="#00a650">LAG3</tspan>/<tspan fill="#0000ff">DAPI</tspan></text><text x="1211" y="984.3" font-family='"Liberation Serif", serif' font-size="18" font-weight="bold" text-anchor="middle"><tspan fill="#ff0000">CD8</tspan>/<tspan fill="#00a650">LAG3</tspan>/<tspan fill="#0000ff">DAPI</tspan></text><text x="503.0" y="1072.6" font-family='"Liberation Serif", serif' font-size="17.5" font-weight="bold" text-anchor="middle" transform="rotate(-90 503.0 1072.6)">cdRCC</text><path d="M511.2 990.0V1152.7" stroke="#7f7f7f" stroke-width="1.8"/><text x="534.3" y="1029.4" font-family='"Liberation Serif", serif' font-size="17" font-weight="bold" text-anchor="middle" transform="rotate(-90 534.3 1029.4)">CD8</text><text x="534.3" y="1115.8" font-family='"Liberation Serif", serif' font-size="17.2" font-weight="bold" text-anchor="middle" transform="rotate(-90 534.3 1115.8)">LAG3</text><rect x="538.9" y="988.5" width="123.0" height="81.0" fill="#000"/><rect x="538.9" y="1074.2" width="123.0" height="82.5" fill="#000"/><rect x="666.9" y="988.5" width="252.4" height="168.2" fill="#000"/><clipPath id="ckp0"><rect x="666.9" y="988.5" width="252.4" height="168.2"/></clipPath><g clip-path="url(#ckp0)"><path transform="scale(.1)" d="M8452 9941l-30-8m746 331l9-12m-516 185l15 9m-383-56l10 11m-139 93l-15-5m-158 307l13 17m-1156-27l7 0m-7-9l-3-20m-58 25l-14-5m892 49l22-17m817 114l11-10m-1078 180l-35 12m1626-1l34-9m-120 95l26 28m-2069 48l-1-5m987 31l25 30m826-20l2-6m244 242l26-5" stroke="#0000d0" stroke-width="25" stroke-linecap="round" fill="none"/><path transform="scale(.1)" d="M7769 9993l-10 19m283-24l20 6m1082 382l1 15m-1209-7l-22 0m-916 391l-5-8m367 153l30 22m-690 105l-37-23m2101 58l12-17m-47 47l-38-21m-1846 326l28 15m2133 18l23-7m-71 123l-4-10m173 11l-12-20" stroke="#0000b0" stroke-width="25" stroke-linecap="round" fill="none"/><path transform="scale(.1)" d="M7237 9932l9 20m1797 195l-11 2m-104 193l1-9m-2144 129l-44-11m650 127l-39 11m965 19l-37 7m343 139l18-17m-1614 11l-13 36m1260 86l-27-9m-1316 95l-2-7m1991 294l-39 15m-1034 187l-6-14" stroke="#0000d0" stroke-width="35" stroke-linecap="round" fill="none"/><path transform="scale(.1)" d="M7174 10427l9-34m1186 218l-12-12m527-3l-42-4m-1361 106l-7 5m1126-5l-18-1m-561 86l-5 20m-604-41l-17-16m652 109l-26-19m129 166l-5-1m985 110l-2-19m-1995 124l-5 38m2037-87l36-7m-2135 152l-4 4m190 39l-13 9m-491 23l-18 3m2001 120l43 4m-1474-17l21 19m-307-53l-9-6" stroke="#000090" stroke-width="35" stroke-linecap="round" fill="none"/><path transform="scale(.1)" d="M8801 10246l-15-39m-2059 662l24 20m149 194l30-1m705 50l0 16m-566 170l-17-30m108 89l-1-8m-23 87l3 5m2004-12l-10 21m-2091 42l-5 27m1802 39l-13-35" stroke="#000090" stroke-width="55" stroke-linecap="round" fill="none"/><path transform="scale(.1)" d="M8920 10262l-2 36m-1815-29l21 13m83 323l-13 24m1985 42l-7-5m-2118 26l-3 32m271 90l36 5m-597 267l-12 14m2160 50l21-22m-1057 58l0 16m686 74l10 41m-1415 38l14 0m-382 99l13-20m850-5l-7-4" stroke="#000090" stroke-width="45" stroke-linecap="round" fill="none"/><path transform="scale(.1)" d="M7606 10235l5-30m998 89l14-29m428 353l-8-5m-2242 88l-15-39m388 37l25-27m1231 203l-12 20m-1635 208l22 28m281 64l17 20m2059-5l10 8m-2236 327l-6 20m597-6l-6-1" stroke="#0000e8" stroke-width="45" stroke-linecap="round" fill="none"/><path transform="scale(.1)" d="M7238 10065l3-6m1673 174l17-14m-635 168l9-12m-857 471l5 22m818 74l12 27m-521 504l-37 9m801 46l20-3" stroke="#0000d0" stroke-width="45" stroke-linecap="round" fill="none"/><path transform="scale(.1)" d="M8607 9952l-7 4m372 170l-8 4m82 365l-5-24m-249 73l-32 4m171 350l-25 20m-1023 129l-13 4m817 76l-13 2m-485 58l3 4m764 171l-41 19m-944 30l13 4m325 95l-40-4" stroke="#0000b0" stroke-width="45" stroke-linecap="round" fill="none"/><path transform="scale(.1)" d="M8901 9983l-5-4m-969 192l-11-12m167 170l9-20m80 109l29-28m-1089 13l-5 4m436 352l-6 0m668 230l21 2m-1178 109l-3 6m1012 172l-28 21m-1226-25l-33-13m2123 55l14-28m-425 189l-11 16m-621-28l34-16" stroke="#000080" stroke-width="55" stroke-linecap="round" fill="none"/><path transform="scale(.1)" d="M7939 9896l7-5m-809 102l15 2m373 40l14 6m299 398l34 28m-1179 119l-26 8m2082-14l-26-14m-555 183l10-6m-586 102l-15-21m1045-23l-19 15m-377 98l22 10m-1405-63l-16 34m1989 144l9-21m-624 13l0-13m-1143 10l-35-20m697 163l44-3m811 42l-9 15m-264 234l-27-7m457 9l-11 4m-1408 42l-5-1" stroke="#0000e8" stroke-width="25" stroke-linecap="round" fill="none"/><path transform="scale(.1)" d="M7657 10503l-12 0m723 73l-26 23m590 104l5 0m-1097 145l26-35m782 256l19-24m-1399 135l-10-21m750 53l-7 5m924-9l29-23m-52 364l-7-5" stroke="#0000e8" stroke-width="55" stroke-linecap="round" fill="none"/><path transform="scale(.1)" d="M8325 9928l-15-12m-778 61l-9-7m-206 131l39-22m313 245l28 12m757 168l44 1m-694 257l13 41m-1100 16l3-5m1506 158l0-11m-633 175l-1 11m410 20l18-25m-1287 219l0-11" stroke="#000080" stroke-width="45" stroke-linecap="round" fill="none"/><path transform="scale(.1)" d="M7436 10114l-9 15m-486 99l-4 5m-39 393l4 5m705 234l-20-25m593 216l1-12m-747 70l39-3m1683 122l-7-21m-586 182l-15 4m-143 18l11 13m684-11l-33 15m-622 133l14-17" stroke="#000090" stroke-width="25" stroke-linecap="round" fill="none"/><path transform="scale(.1)" d="M8222 10301l-24 17m-464 467l30 32m-456-1l21 38m-99 8l9 9m1909 253l-35-26m-2410 86l24-20m1490 53l-1-13m376 55l-30 11m-1878 24l1 24" stroke="#0000b0" stroke-width="55" stroke-linecap="round" fill="none"/><path transform="scale(.1)" d="M8098 9899l7 14m676 190l-10-32m299 59l-13 2m-1986 25l41-1m1638 408l16 1m-744 195l3-18m-168 61l13 39m-17 330l-16 38m1046-4l-21-29m-1864 68l12 39m-87-4l21 21m870 26l11-29m294 134l4-4m-990 109l29-30m868 46l-9 15" stroke="#0000e8" stroke-width="35" stroke-linecap="round" fill="none"/><path transform="scale(.1)" d="M7185 9999l26 14m7 184l2-8m1681 88l5 16m-1539 45l14-6m1737 198l7 42m-471-28l-43-10m-1149 369l2 8m-629 217l1-8m2087 247l20 13m-1708 106l-24 2" stroke="#0000b0" stroke-width="35" stroke-linecap="round" fill="none"/><path transform="scale(.1)" d="M7908 10226l18 34m-574 381l-34 25m-258 123l5 37m710 286l-4-17" stroke="#000080" stroke-width="25" stroke-linecap="round" fill="none"/><path transform="scale(.1)" d="M8216 10084l32 6m374 9l-4 10m541 522l-7-4m-1073 551l13-33m470 75l-21-15m-1127 287l-2-12m1117 62l10-30" stroke="#0000d0" stroke-width="55" stroke-linecap="round" fill="none"/><path transform="scale(.1)" d="M7545 9913l1 6m-834 475l28 5m1894 49l-11 40m-1430 40l-5 20m1757 69l31-17m-738 27l-28-30m942 265l33-13m-2123 602l9-35m1040 33l7-10" stroke="#000080" stroke-width="35" stroke-linecap="round" fill="none"/><circle cx="810.8" cy="1026.7" r="1.9" fill="#a020c0" stroke="#f01030" stroke-width="2.0"/><circle cx="819.6" cy="1029.4" r="2.0" fill="#a020c0" stroke="#f01030" stroke-width="2.1"/><circle cx="818.3" cy="1041.1" r="1.9" fill="#a020c0" stroke="#f01030" stroke-width="2.0"/><circle cx="754.5" cy="1077.3" r="1.7" fill="#a020c0" stroke="#f01030" stroke-width="1.8"/><circle cx="768.4" cy="1076.5" r="1.7" fill="#a020c0" stroke="#f01030" stroke-width="1.8"/><circle cx="733.5" cy="1086.2" r="2.2" fill="#a020c0" stroke="#f01030" stroke-width="2.2"/><circle cx="746.2" cy="1088.4" r="1.7" fill="#a020c0" stroke="#f01030" stroke-width="1.8"/><path transform="scale(.1)" d="M7954 10058z" stroke="#f0182a" stroke-width="40" stroke-linecap="round" fill="none"/><path transform="scale(.1)" d="M7787 10078zm-166 937zm-41 264z" stroke="#18c070" stroke-width="40" stroke-linecap="round" fill="none"/><path transform="scale(.1)" d="M7878 11022zm348 249z" stroke="#18c070" stroke-width="48" stroke-linecap="round" fill="none"/><path transform="scale(.1)" d="M7931 11029z" stroke="#18c070" stroke-width="32" stroke-linecap="round" fill="none"/></g><path transform="scale(.1)" d="M6090 10069zm43 13zm-6 57zm-413 217z" stroke="#e81515" stroke-width="32" stroke-linecap="round" fill="none" stroke-opacity="1.00"/><path transform="scale(.1)" d="M6015 9968zm-132 341zm-67 4zm-41 53z" stroke="#e81515" stroke-width="24" stroke-linecap="round" fill="none" stroke-opacity="0.95"/><path transform="scale(.1)" d="M5934 10837zm-81 459zm125 4zm-145 126zm315-4z" stroke="#18b840" stroke-width="24" stroke-linecap="round" fill="none" stroke-opacity="1.00"/><path transform="scale(.1)" d="M6004 11303z" stroke="#18b840" stroke-width="16" stroke-linecap="round" fill="none" stroke-opacity="0.78"/><text x="944.3" y="1029.4" font-family='"Liberation Serif", serif' font-size="17" font-weight="bold" text-anchor="middle" transform="rotate(-90 944.3 1029.4)">CD8</text><text x="944.3" y="1115.8" font-family='"Liberation Serif", serif' font-size="17.2" font-weight="bold" text-anchor="middle" transform="rotate(-90 944.3 1115.8)">LAG3</text><rect x="949.3" y="988.5" width="123.3" height="81.0" fill="#000"/><rect x="949.3" y="1074.2" width="123.3" height="82.5" fill="#000"/><rect x="1076.4" y="988.5" width="253.0" height="168.2" fill="#000"/><clipPath id="ckt0"><rect x="1076.4" y="988.5" width="253.0" height="168.2"/></clipPath><g clip-path="url(#ckt0)"><path transform="scale(.1)" d="M11765 9958l31-9m-934 11l9-15m379 42l23-42m-71 113l24-10m-399-25l22-20m234 79l12-28m-242 130l45-10m151 30l8-31m1387 90l26 2m-148 41l27 1m-1492 50l36-5m1307 24l9-8m-795 113l35 3m708 61l17-17m424 83l11-5m-362 33l18-23m864 158l23-7m-2300 106l25-28m240 126l24-19m1519 71l18-36m-974 13l17 0m-511 103l10-21m-343 118l8-26m348 83l7-30m179 79l12-26m236 62l25-10m-919 23l12-24m1131 121l32-35" stroke="#0000b0" stroke-width="36" stroke-linecap="round" fill="none"/><path transform="scale(.1)" d="M12330 9921l25-7m-1248 94l38-3m754-20l21-17m555-4l24-33m385 44l48 0m-330 101l46-15m450 109l37-12m-636 26l10-48m-970 194l29-5m124 199l42-2m-543-19l38-2m1980 63l10-43m-618 270l3-13m-815 31l26 2m-972 155l8-47m85 12l34-5m1176 244l2-19m286 110l5-37m-1588 105l4-23m87-8l9-5m325 167l7-38m-509 86l24-30m2371 80l31-9" stroke="#0000c8" stroke-width="28" stroke-linecap="round" fill="none"/><path transform="scale(.1)" d="M11044 9940l15-39m639 72l34-35m-590 267l25-7m1402 37l19-43m193 144l43-23m-2002 113l15-17m2329 339l8-27m-776 78l38 3m-1372 15l19-36m1690 102l42-10m-1295 101l34 1m-744 21l42-2m2307 122l8-33m-1584 54l37-11m-608-18l22-27m758 104l17-33m579 218l36-14m-1194 97l17-47m-78 122l11-38" stroke="#000080" stroke-width="44" stroke-linecap="round" fill="none"/><path transform="scale(.1)" d="M11840 10082l27-42m418 49l23-9m697 40l14 0m-1482 276l19-27m502 101l36 0m-532 37l24-4m-588 23l4-26m1935 167l12-14m-105 206l23-42m-512 138l21-5m46-20l30-21m675 83l6-19m-139 150l8-15m-641 24l14 1m-465 15l11-13m-1155 58l5-23m526-2l1-13m662 73l13-45m-682 130l4-31m1598 80l4-16m-1003 55l7-29" stroke="#0000b0" stroke-width="28" stroke-linecap="round" fill="none"/><path transform="scale(.1)" d="M11779 10049l25-36m168 242l10-6m1137-26l33-26m-693 118l28-4m-1564 175l43-2m1093-33l12-19m103 70l10-19m-810 66l10-16m-490-7l17-32m400 129l18 1m-506 183l13 0m292 43l16-3m1951 30l18-16m-1142 90l3-19m-869 151l9-18m788 207l23-3m-484 228l19-1m538 47l26-38" stroke="#0000c8" stroke-width="44" stroke-linecap="round" fill="none"/><path transform="scale(.1)" d="M11391 9997l10-24m2 67l6-11m-142 25l41 1m-57 93l10-14m268 177l22-16m-570 19l11-35m1637 106l16-34m-425 189l9-6m-801 45l21-3m-159 269l44-5m1846 58l42-4m-925 45l24-41m84 146l7-14m527 68l26-29m-360 88l7-22m-1859 13l26-16m149 35l6-17m631 202l25-15m-372 52l46-10m-299 57l43-7m1752 55l3-24" stroke="#000098" stroke-width="36" stroke-linecap="round" fill="none"/><path transform="scale(.1)" d="M11121 10014l5-25m675 1l12-8m-394 101l9-28m798 185l26-29m-653 269l34-5m120 39l26-37m-573 41l8-23m-369 184l46-14m2393 193l5-14m-1936 42l38-25m-430 1l33-8m1856 164l4-35m-1132 20l26-2m-906-21l18-32m928 170l6-17m1329 156l27-24m-2042 222l26-10m1324 98l11-8m419 46l9-34" stroke="#0000b0" stroke-width="44" stroke-linecap="round" fill="none"/><path transform="scale(.1)" d="M11145 9919l31-5m1717 210l11-6m-407 46l5-37m752 113l23-31m-1822 101l5-10m-479 11l11-48m-68 148l14-5m586 367l39-25m-247 60l27-9m1678 84l10-13m-887 45l28-23m-480-21l26-18m55 181l22-5m1383 169l27-18m-1044 109l40 2m-447 185l15-18" stroke="#000080" stroke-width="36" stroke-linecap="round" fill="none"/><path transform="scale(.1)" d="M12585 9904l47-9m-1519 20l37-10m1712 184l10-22m40 61l19-40m-1445 230l41-6m-632-22l14-9m1922 80l29-2m-1706 119l25 1m1869 396l8-32m-542 46l11 1m-50 2l33-3m479 52l9-34m147 117l27-41m-664 167l15-19m31 59l26-15m-1192 151l12-33m358 66l7-11m-148-5l34-30m-834 39l11-13m213 114l20-23m703-13l45-6m1471 31l22-1m-2067 106l25-20m880 11l15-44m352 26l9-16" stroke="#000080" stroke-width="28" stroke-linecap="round" fill="none"/><path transform="scale(.1)" d="M12672 10084l37-27m-1932 194l10-44m671-4l13-28m-697 170l6-9m82-14l17-12m376 51l32-10m1422 27l38-22m-741 375l19-12m135 14l26-42m-1332 81l11-6m-17 80l40-16m1875 254l8-39m-227 56l17-12m286 136l12-10" stroke="#000098" stroke-width="28" stroke-linecap="round" fill="none"/><path transform="scale(.1)" d="M12839 10014l6-13m-964 198l13-9m393 211l36-32m-1137 65l5-48m1812 214l17-14m-2206 77l4-11m1039 68l39-18m-667 39l17-7m-354 100l47 1m1000-29l22-16m-841 153l49 0m191 1l27 0m45 52l13-3m1161 176l14-6m-1793 85l4-19m66 72l23-23m1796 23l15-8m-395 213l26-11" stroke="#000098" stroke-width="44" stroke-linecap="round" fill="none"/><path transform="scale(.1)" d="M12945 9976l24-12m-122 121l20-29m-1157 112l43-21m-933 176l18-13m1847 26l11 1m148 38l33-35m-1978 256l20-29m1166 148l15 1m-944 62l32 0m590 52l25-12m-959 266l26-36m266-5l13-28m371 161l27-14m450 53l5-24m1078-16l43-6m-908 229l14-5" stroke="#000068" stroke-width="36" stroke-linecap="round" fill="none"/><path transform="scale(.1)" d="M11459 9923l15-44m-533 60l11-8m1152 83l30-11m445-12l10-1m-945 60l15-14m-827 180l6-27m238 55l43-21m1058 45l31-1m-1062 83l10-21m289 21l17-11m185 216l17-44m-87-9l42-9m491 74l14-4m-872 164l18-9m1197 60l16-19m-663 39l29-14m-755 182l14-6m124 59l14-13m1548 126l9-18m-1810 224l5-40m1194 39l12-40m469 18l4-41m-1795 78l12-32m275 80l4-15m436 126l40-20" stroke="#000068" stroke-width="44" stroke-linecap="round" fill="none"/><path transform="scale(.1)" d="M12769 9898l3-10m-274 26l31-22m-1693 36l12-16m107 65l16-37m554 154l16-46m1724 100l41-19m-117 93l18-44m-1600 110l27 2m687 90l19-8m-540 32l6-31m-47 66l31-38m-700-3l23-7m977 497l10-3m-1133 1l21-17m712 137l12-4m-35 3l20-9m-529-6l47-17m1703 227l22-9m-1901 135l13-17m144 170l36-2" stroke="#0000c8" stroke-width="36" stroke-linecap="round" fill="none"/><path transform="scale(.1)" d="M10926 9897l13-14m1498 29l10-15m-1003 91l32-7m1135 186l37-12m-1024-2l7-12m-875 131l29-21m1308 122l20-5m691-11l23-42m-1854 143l39-3m605 76l15-10m-150 120l33-11m14 63l6-9m-138 187l9-48m-619 375l38-10m528 33l9-7m-374 101l8-7m1542 191l4-14" stroke="#000068" stroke-width="28" stroke-linecap="round" fill="none"/><circle cx="1115.9" cy="1015.2" r="1.7" fill="#a020c0" stroke="#f01030" stroke-width="1.8"/><circle cx="1101.7" cy="1047.9" r="1.7" fill="#a020c0" stroke="#f01030" stroke-width="1.8"/><circle cx="1079.9" cy="1042.3" r="1.6" fill="#a020c0" stroke="#f01030" stroke-width="1.7"/><circle cx="1117.9" cy="1083.2" r="2.2" fill="#a020c0" stroke="#f01030" stroke-width="2.2"/><circle cx="1164.2" cy="1095.8" r="2.2" fill="#a020c0" stroke="#f01030" stroke-width="2.2"/><circle cx="1186.2" cy="1099.8" r="1.6" fill="#a020c0" stroke="#f01030" stroke-width="1.7"/><circle cx="1115.1" cy="1121.4" r="2.3" fill="#a020c0" stroke="#f01030" stroke-width="2.4"/><circle cx="1167.0" cy="1147.3" r="1.9" fill="#a020c0" stroke="#f01030" stroke-width="2.0"/><circle cx="1232.2" cy="1052.8" r="1.6" fill="#a020c0" stroke="#f01030" stroke-width="1.7"/><path transform="scale(.1)" d="M13036 10021zm-2019 584z" stroke="#f0182a" stroke-width="40" stroke-linecap="round" fill="none"/><path transform="scale(.1)" d="M12469 10075zm-354 140zm-984 511z" stroke="#f0182a" stroke-width="32" stroke-linecap="round" fill="none"/><path transform="scale(.1)" d="M11280 10348zm375 597zm20 538z" stroke="#20e060" stroke-width="32" stroke-linecap="round" fill="none"/><path transform="scale(.1)" d="M13041 10028zm-2011 446zm151 353z" stroke="#20e060" stroke-width="24" stroke-linecap="round" fill="none"/><path transform="scale(.1)" d="M11270 10087zm253 975z" stroke="#20e060" stroke-width="16" stroke-linecap="round" fill="none"/><path d="M1143.2 1013.6L1130.8 1029.5M1139.6 1025.9L1130.8 1029.5M1132.1 1020.1L1130.8 1029.5" stroke="#ffee00" stroke-width="2.4" stroke-linecap="round" stroke-linejoin="round" fill="none"/><path d="M1182.2 1074.6L1169.8 1089.9M1178.6 1086.5L1169.8 1089.9M1171.3 1080.5L1169.8 1089.9" stroke="#ffee00" stroke-width="2.4" stroke-linecap="round" stroke-linejoin="round" fill="none"/><path d="M1182.4 1126.8L1170.5 1142.6M1179.2 1138.8L1170.5 1142.6M1171.7 1133.1L1170.5 1142.6" stroke="#ffee00" stroke-width="2.4" stroke-linecap="round" stroke-linejoin="round" fill="none"/></g><path transform="scale(.1)" d="M10600 9951zm-276 26zm-639 37zm466 30zm-641 100zm743 50zm-637-23zm0 61zm412 189z" stroke="#e81515" stroke-width="24" stroke-linecap="round" fill="none" stroke-opacity="0.95"/><path transform="scale(.1)" d="M9695 10341zm226 61zm-239 123zm252 125z" stroke="#e81515" stroke-width="32" stroke-linecap="round" fill="none" stroke-opacity="1.00"/><path transform="scale(.1)" d="M9672 10290z" stroke="#e81515" stroke-width="16" stroke-linecap="round" fill="none" stroke-opacity="0.75"/><path transform="scale(.1)" d="M10603 10812zm-858 157zm-123 62zm74 173zm231 58zm10 264z" stroke="#18b840" stroke-width="16" stroke-linecap="round" fill="none" stroke-opacity="0.78"/><path transform="scale(.1)" d="M9740 10841zm123 479z" stroke="#18b840" stroke-width="8" stroke-linecap="round" fill="none" stroke-opacity="0.54"/><text x="503.0" y="1247.3" font-family='"Liberation Serif", serif' font-size="17.5" font-weight="bold" text-anchor="middle" transform="rotate(-90 503.0 1247.3)">sarRCC</text><path d="M511.2 1164.7V1327.4" stroke="#7f7f7f" stroke-width="1.8"/><text x="534.3" y="1204.1" font-family='"Liberation Serif", serif' font-size="17" font-weight="bold" text-anchor="middle" transform="rotate(-90 534.3 1204.1)">CD8</text><text x="534.3" y="1290.5" font-family='"Liberation Serif", serif' font-size="17.2" font-weight="bold" text-anchor="middle" transform="rotate(-90 534.3 1290.5)">LAG3</text><rect x="538.9" y="1163.2" width="123.0" height="81.0" fill="#000"/><rect x="538.9" y="1248.9" width="123.0" height="82.5" fill="#000"/><rect x="666.9" y="1163.2" width="252.4" height="168.2" fill="#000"/><clipPath id="ckp1"><rect x="666.9" y="1163.2" width="252.4" height="168.2"/></clipPath><g clip-path="url(#ckp1)"><path transform="scale(.1)" d="M9010 11634l26 19m-1974 11l29 13m699-4l3 5m665 22l11 3m44 113l10 6m-49-2l9 12m-269 26l12 26m-283-24l12 27m-310-8l6 7m-160-41l20 24m526 35l8 2m894-6l20 20m75-1l14 4m-1095 56l20 17m531 30l2 7m61-3l6 3m-120 54l27 21m-615 43l7 13m354-24l7 3m351 21l4 5m258 65l30 13m-892-58l4 2m713 50l28 7m-774 208l6 14m-129 119l4 1m928 23l21 11m147-3l29 5m-5-15l5 16m-1199 114l2 6m1002 24l23 14m-954 45l4 5m-888 52l13 12m1016-11l7 5m-535 90l27 15m-21 4l18 13m757-1l14 11m-754 30l25 19m1486 48l2 3m-137 33l4 7m-128-15l27 11m-1156 10l25 14m-394 72l19 29" stroke="#0808ff" stroke-width="35" stroke-linecap="round" fill="none"/><path transform="scale(.1)" d="M7804 11656l15 11m1119 79l25 10m-286-39l3 6m-1966 85l8 32m475-14l14 4m-314-3l17 6m205 49l7 12m280 60l10 29m1672 32l11 2m-1607 248l18 30m550-23l20 12m111 48l13 18m-682 65l13 22m704-23l11 22m38-32l21 21m-557 6l1 4m-394 90l7 18m883-24l24 19m770 16l31 8m-2057 72l15 31m1212-57l23 21m-47 61l9 25m-472 4l20 9m80-6l24 5m-20 35l15 21m656-16l24 10m-1242 32l8 12m826 20l9 8m927 101l8 6m-1746-27l4 18m-37-20l23 14m299 41l21 14m1313-20l12 21m119 35l14 16m-2053 22l17 9m-2 36l4 14m668-21l15 17m538-14l11 25m491-36l20 8m5 59l20 7m-1230 21l20 4m-217 55l12 10m1734 20l28 20" stroke="#1414ff" stroke-width="35" stroke-linecap="round" fill="none"/><path transform="scale(.1)" d="M7330 11643l5 4m1096 4l9 15m-1001 126l6 11m333 27l4 3m-958 46l22 18m833-5l6 18m1245 22l12 12m239 15l17 11m-846 13l30 12m-1027 57l19 6m51 23l15 3m244 123l24 4m774 42l6 15m199 72l20 10m-305 0l19 13m-586 47l13 22m-58 32l11 16m-885-8l26 9m2104 32l10 4m-781 49l25 6m72 35l10 17m70-17l17 8m598 76l18 6m-856 44l7 1m477 46l22 27m-586-27l14 19m-1418 59l20 11m612-4l8 5m-358 91l17 29m363 29l4 2m-688 8l13 2m1026 78l32 11m5-19l19 12m987-35l14 10m-2074 146l11 16" stroke="#0808ff" stroke-width="45" stroke-linecap="round" fill="none"/><path transform="scale(.1)" d="M7896 11621l11 29m-721 36l22 16m1694 24l10 4m-137-23l26 7m-1899 4l7 15m1975 80l7 18m228-7l6 10m-2076 80l27 16m1350-15l24 6m-338 78l6 8m-1416 5l11 8m2343-2l13 13m-468 102l5 10m381 6l14 21m-78 50l11 25m-1583-59l28 10m976 79l34 6m-147 28l25 23m-1038-7l10 21m-151 8l32 9m330 65l9 12m-88-16l18 5m1455 63l28 5m-424 88l17 22m-138-21l21 10m-1143 133l10 7m693 160l1 3m801-37l10 3m295 37l4 7m-1750 127l3 7m-567 79l7 16m1615-48l9 9m-388 98l20 7m-904 21l17 30m1984 35l22 27" stroke="#1414ff" stroke-width="52" stroke-linecap="round" fill="none"/><path transform="scale(.1)" d="M8421 11636l9 5m-221 31l8 32m105-40l15 9m226 75l22 18m-1148-38l5 4m89 55l7 12m1057-24l31 10m-1747 116l4 2m67-2l6 7m1025-27l24 21m1119 37l7 4m-121 25l11 7m-777-28l2 3m-231 41l24 14m674 113l8 21m-312-75l22 7m-1026 106l10 4m1762-59l9 27m-783 207l8 2m-169 7l2 5m-271 70l11 8m-65-23l9 3m-301 28l3 14m-707-44l5 17m2103 121l5 2m-435 58l16 8m393-22l4 18m-1656 68l15 10m-322 21l27 4m1166 37l14 8m82 134l18 15m-583-12l11 4m1173 228l24 22m-1102 24l2 9m-210 27l17 5m1476-18l5 10" stroke="#0808ff" stroke-width="52" stroke-linecap="round" fill="none"/><path transform="scale(.1)" d="M7615 11645l25 17m164 46l21 26m-46 51l15 6m453 127l32 12m129-49l11 18m-1199 132l25 19m1917-18l1 4m-665 54l5 1m-1328 59l22 11m1914 81l12 32m-162 38l8 22m-246 21l7 24m-452-61l30 15m-1254 204l9 7m799-13l12 12m-44 52l7 8m-829-53l3 6m566 87l3 12m1262 46l15 10m-1434-43l14 7m-285 3l4 16m1953 134l5 4m-1717-29l5 19m-366-7l12 22m56 23l3 6m1533 2l6 3m14 88l2 5m-654-27l23 13m-1276 4l15 7m1209 43l24 15m98-25l28 20m601-54l12 2m-239 87l15 20m-983-32l11 28m537 15l13 31m543-19l8 5m-1143 92l10 5m278 57l17 24" stroke="#0000ff" stroke-width="35" stroke-linecap="round" fill="none"/><path transform="scale(.1)" d="M7927 11665l14 23m4 3l6 10m-281 149l22 15m826 111l5 9m-691-23l5 5m-616 21l28 19m770 11l12 15m920-25l9 3m-1051 66l10 11m-147 4l19 3m1089 133l9 11m-1237 101l8 12m-809 39l12 5m4-10l15 3m459 26l4 7m948-5l15 9m-31 4l11 8m-1012 180l15 3m474 4l9 6m1302 75l16 22m-493 64l21 11m-1793-22l2 3m1540 159l15 4m-1152-30l16 25m1739 51l18 11m-1214 52l26 20m-1123 162l9 4m2092 5l10 7" stroke="#0000e0" stroke-width="52" stroke-linecap="round" fill="none"/><path transform="scale(.1)" d="M8013 11701l3 4m-775 19l6 10m518 40l15 4m799 68l11 23m-1339 42l8 30m1653 5l32 14m-1216 23l4 4m-1000 1l19 28m346 42l19 3m-266 200l7 10m129-15l32 6m-300 133l9 10m1834 12l15 6m585-14l27 13m-794 10l13 3m-912 98l22 24m362-36l8 4m1293 46l27 10m-360 17l2 3m-988-51l14 7m-582 43l15 9m623 86l20 21m-890-6l6 18m-86 48l17 19m1008-19l3 3m577-14l27 17m388-54l18 25m-346 36l8 2m-1578 22l3 8m-273-10l16 8m-63-14l21 12m1658 36l6 8m-934 41l6 12m-833 61l2 5m1531 4l19 25m-246 21l10 10m-483 17l27 14m-227-20l4 8m1689 44l5 12m99-25l6 16m-1712 43l4 2m-697 3l17 17m970 33l29 13m-615 44l17 17" stroke="#0000ff" stroke-width="52" stroke-linecap="round" fill="none"/><path transform="scale(.1)" d="M8334 11796l11 11m-354 56l5 20m-44-48l8 5m-452 2l22 12m-277 9l4 3m1350 132l18 3m-537-22l4 2m-868 24l12 25m727 9l24 23m612-19l9 3m200 50l14 31m-1894-33l2 6m-153 22l4 5m2323 30l21 3m-16 2l10 22m-1661 208l26 22m1168-20l3 9m-1754 94l12 8m528-11l9 8m60 5l11 8m-93 95l13 3m110 69l26 19m484 31l10 2m1096 49l6 11m-2106 54l17 11m2080-15l12 25m-1746 35l10 13m1727 260l5 4m-236 46l5 12m-2052 35l8 6" stroke="#0000e0" stroke-width="45" stroke-linecap="round" fill="none"/><path transform="scale(.1)" d="M7372 11765l28 19m106 113l25 22m1433-15l6 10m-326 44l22 14m-1755-12l31 6m-219-11l2 4m1928 95l19 9m-1750 118l2 3m1335 145l2 5m-904-18l7 31m145 81l5 21m207 44l17 5m582 25l12 7m-657 56l18 7m1411 110l23 25m-355-26l13 20m-1895 119l19 24m98 145l15 7m1478 57l20 16m264 5l4 2m-1269 118l17 12m601-21l9 13" stroke="#0000e0" stroke-width="35" stroke-linecap="round" fill="none"/><path transform="scale(.1)" d="M8778 11691l10 16m-342 27l31 9m-1154-12l2 8m-403 50l18 16m149 85l19 8m1242 45l7 12m357 61l1 3m204 23l18 12m-1472 145l15 26m187 281l6 11m469 80l13 3m-708-16l4 4m-493 37l7 30m190 95l8 17m1386 57l23 12m-193-5l3 1m-128-9l8 3m-623 7l5 9m-375-41l23 7m-350 77l11 4m1520-24l7 3m-1030 78l3 11m1093 69l6 9m-540 43l3 9m-388-45l5 5m-424 60l27 22m898 124l11 11m717 25l8 15" stroke="#0000ff" stroke-width="45" stroke-linecap="round" fill="none"/><path transform="scale(.1)" d="M7717 11681l5 16m-788 43l13 15m-112-14l25 10m438 22l17 8m1699 204l23 19m-1375-41l17 14m741 85l15 24m-932-11l22 10m-377 75l18 7m1623 69l24 9m-2041-33l7 30m1839 17l2 6m484 41l11 9m-1051-3l8 3m-1047 79l5 23m2136 17l6 14m-1785 7l3 8m461 21l17 8m-78 87l27 14m15 43l6 7m429 154l11 3m-270 6l6 4m344 70l13 4m647 115l17 6m-368 28l10 33m-421-19l17 5m-61 27l4 6m-1270 54l28 5m1140-28l20 26m508-19l5 9m-179 65l11 28m-89-82l17 3m-881 20l19 21m-710-33l9 1m377 70l11 4m620 6l20 11m458-46l22 18m-184 89l31 7m-627-40l14 10" stroke="#1414ff" stroke-width="45" stroke-linecap="round" fill="none"/><circle cx="836.0" cy="1217.0" r="1.6" fill="#a020c0" stroke="#f01030" stroke-width="1.7"/><circle cx="795.6" cy="1312.9" r="1.9" fill="#a020c0" stroke="#f01030" stroke-width="2.0"/><circle cx="910.5" cy="1317.9" r="1.6" fill="#a020c0" stroke="#f01030" stroke-width="1.7"/><path transform="scale(.1)" d="M7426 11783zm884 51zm-808 143zm808 126zm277 235z" stroke="#f0182a" stroke-width="32" stroke-linecap="round" fill="none"/><path transform="scale(.1)" d="M7906 13171z" stroke="#f0182a" stroke-width="40" stroke-linecap="round" fill="none"/><path transform="scale(.1)" d="M8814 12120zm-1489 874z" stroke="#f0182a" stroke-width="24" stroke-linecap="round" fill="none"/><path transform="scale(.1)" d="M7073 11901zm631 126zm101 295z" stroke="#18c070" stroke-width="16" stroke-linecap="round" fill="none"/></g><path transform="scale(.1)" d="M5758 11705zm430 24zm246 138zm-246-8zm-479 429z" stroke="#e81515" stroke-width="16" stroke-linecap="round" fill="none" stroke-opacity="0.75"/><path transform="scale(.1)" d="M5795 11798zm418 93zm111 81zm-332 401zm584 4z" stroke="#e81515" stroke-width="24" stroke-linecap="round" fill="none" stroke-opacity="0.95"/><path transform="scale(.1)" d="M6016 12353z" stroke="#e81515" stroke-width="32" stroke-linecap="round" fill="none" stroke-opacity="1.00"/><path transform="scale(.1)" d="M5586 12621zm307 62zm49 144z" stroke="#18b840" stroke-width="8" stroke-linecap="round" fill="none" stroke-opacity="0.54"/><text x="944.3" y="1204.1" font-family='"Liberation Serif", serif' font-size="17" font-weight="bold" text-anchor="middle" transform="rotate(-90 944.3 1204.1)">CD8</text><text x="944.3" y="1290.5" font-family='"Liberation Serif", serif' font-size="17.2" font-weight="bold" text-anchor="middle" transform="rotate(-90 944.3 1290.5)">LAG3</text><rect x="949.3" y="1163.2" width="123.3" height="81.0" fill="#000"/><rect x="949.3" y="1248.9" width="123.3" height="82.5" fill="#000"/><rect x="1076.4" y="1163.2" width="253.0" height="168.2" fill="#000"/><clipPath id="ckt1"><rect x="1076.4" y="1163.2" width="253.0" height="168.2"/></clipPath><g clip-path="url(#ckt1)"><path transform="scale(.1)" d="M12574 11692l30 13m488-61l26 23m-427 80l32 25m-738-24l35 20m-905-24l24 38m535-22l9 7m1224-1l29 15m284 0l5 7m-718 146l15 6m757 38l28 1m-102-1l25 0m-498 4l37-3m-42 16l29 19m-1723-19l7 23m-269-50l20 3m871 78l13 6m-332 78l8 18m530-19l36 17m1005-17l27 18m125-3l28 3m-736 32l12 11m-1137 67l18 5m1221 8l18 2m-265 55l22 30m33 31l24 37m43-68l8 24m-1058 145l5 11m632-42l16 10m1078-15l13 11m-42 70l26 10m-555-27l41-4m-173-10l32 12m-1182 27l42 11m875 14l6 8m963 97l24 21m-478 74l39 13m-1337-23l31-1m-397 96l15 6m548-46l14 22m544 15l25 23m-215 81l17 30m1100-15l27 24m-829 107l28-2m624-18l6 21m-136 42l20 16m-272-53l17 13m-237 75l25 35m737-62l33 15" stroke="#0000f0" stroke-width="40" stroke-linecap="round" fill="none"/><path transform="scale(.1)" d="M13181 11628l26 32m46 72l24 2m-2037 71l35 12m713-47l22 32m956 5l29 5m-793 31l21 11m-902 0l39 14m1810 80l10 8m-470 27l11 18m-526-17l42 1m-780-22l23 1m1634 138l14 12m-756-13l38 17m-449-41l27 13m-1131-3l27 4m1423 126l13 7m-1296 9l9 6m-237-55l20 1m2363 61l21 35m-1600 91l33 4m979-7l7 10m268 5l20 4m-120 48l39 6m-120 11l7 6m-470-38l38 4m-459 90l6 12m467-27l16 37m212-37l34 13m353 64l17 21m-1678-49l43 3m813 64l39 12m555 128l15 2m74 17l10 23m-1646 52l8 5m2079-9l15 29m-377 101l22 11m-571 88l35 25m-1091-39l7 22m-53-22l19 36m-287 0l10 19m2244-35l7 11m-211 79l36 5m-1424 13l13 39m971 77l28 12" stroke="#0000c8" stroke-width="40" stroke-linecap="round" fill="none"/><path transform="scale(.1)" d="M11313 11679l13 2m953-33l37 21m-207 79l18 21m-372-39l39 14m-418 9l31-2m-527 24l10 5m982 37l4 13m386-31l43 2m-274 82l28 30m-747 93l8 18m1308 83l36 4m-298 84l19 14m-1600 33l16 24m1903-3l23 19m302 60l41 10m-1012 1l19 20m-610-32l17 24m-512-35l40 20m2113 36l40-2m-1508 65l5 18m708 71l9 2m169-22l31 13m302 35l18 31m-166-49l20 28m-90 21l8 6m-1738-43l31 14m-56 77l16 3m1133-22l9 9m160-4l15 0m402-3l16 0m-152 103l24-1m454 40l19 16m-458 38l12 43m-177-76l4 7m-703 3l42 5m-613 66l11 21m1032 32l45 5m-273 58l21 2m827 22l18 9m-766 17l5 15m-98 17l37 25m-491-77l7 23m420 124l7 10m-1078 70l41 0m2268-25l30 7" stroke="#0000b0" stroke-width="48" stroke-linecap="round" fill="none"/><path transform="scale(.1)" d="M10949 11706l42 9m73 94l10 3m1728 1l7 26m278-39l9 10m140-10l30 6m-174 42l15 30m-369-38l9 17m-717-7l24 1m-155 8l5 10m-355-33l6 8m435 51l18 18m-1119 87l30 11m1691 75l28-2m-1452 86l16 3m892-50l7 7m1015 89l38 9m-1826-44l10 8m-424 136l16 10m-66-38l19 37m1397 63l36 1m478 6l17 7m-890 60l14 30m-1166-76l35 17m1174 90l8 5m270-17l9 0m444-22l12 3m285 82l34 11m-995 41l13 38m288-55l15 23m-1275 84l23 6m177 4l16 0m502 17l40 0m-530 52l9 11m-330-14l38 3m-93-10l15 14m284 40l7 8m-315 144l39 13m608-45l15 1m-55 79l41 18m-762 32l4 11m1687 144l29 4m205-54l36 3m-853 74l19 4m-385-5l34-2m-94 18l15 29" stroke="#0000e0" stroke-width="48" stroke-linecap="round" fill="none"/><path transform="scale(.1)" d="M11109 11677l26 29m1264 2l13 0m-1611 4l8 6m-31 7l9 27m174 52l9 15m2024 7l24 2m-32 10l7 22m-1415 15l25 9m-372 44l14 6m1479-54l9 7m-518 55l28 14m-420 30l30 17m-100-10l24 23m-1014-76l28 5m2257 74l28 16m133 67l20 7m-352-27l17 8m-1134-12l6 12m-200-19l25 0m1075 65l34 7m-195 59l12 4m-1753 16l11 11m1883 27l4 8m257-24l18 16m-1021 64l33 2m-548 35l25 11m1361 85l21 14m-1494-33l31 13m1382 55l23 28m142-52l31 7m-2071 133l10 5m1089 10l22 10m211 6l6 6m-808 29l29 30m-101-30l34 9m-295-7l18 24m1569 230l22 3m-555-23l11 8m-1059 74l7 18m1478-20l14 40m-433-13l11 30m-470-22l6 6m-765 67l30 21m2296-6l12 20m-96 42l14 17m-2343 24l21 39m816-19l29 7m854-19l14 21m258 0l21 4m271-32l6 12" stroke="#0000f0" stroke-width="48" stroke-linecap="round" fill="none"/><path transform="scale(.1)" d="M11402 11684l15 2m23-11l41 12m1231-42l25 19m102 7l20 32m108-47l6 16m-22 66l15 21m170 82l15 35m-1586-22l13 6m-473 35l26 32m1985-11l15 10m-1994 48l32 5m1665 57l29 33m-746 7l37-3m-616-4l34 25m-24 81l22 3m1259-52l12 38m-1173 96l30 20m-210 65l26 1m1079 140l27 35m79 5l24 25m-936 45l39 3m-94-40l8 3m-14-9l25 13m1221 137l12 0m-1161 6l9 9m908 58l30 1m-1173 24l19 13m-88 9l11 4m-735 38l35 13m739 32l14 25m-306 76l27 10m188-39l18 34m489-46l8 1m1196 18l4 7m-877 79l8-1m-1105-50l17 42m-169 13l8 20m-283-20l4 9m2448 69l32 4m-895 16l17 18m-883 3l8 3m1643 74l15 4m-23-3l24 19m-89 14l17 9m-1923-30l29 20" stroke="#0000b0" stroke-width="32" stroke-linecap="round" fill="none"/><path transform="scale(.1)" d="M10832 11654l25 1m1555 2l19 28m466 11l45 1m-1244 66l15 28m770 26l8 2m-310 35l14 9m-1033-4l11 19m1229 121l9 8m-935 78l3 11m-588 1l7 23m2155 64l19 3m-1064 49l8 7m-801-43l11 16m1937 84l31 20m-994-2l29 0m817 56l12 11m203 87l11 20m-382-61l42 3m-2168 58l25 32m1229-1l22 2m188-22l30 34m230-9l25 7m4 17l11 7m-1429 41l27 18m1140 66l12 14m-175 50l7 13m-166 32l13 15m-31-12l20 29m453 30l17 22m806 24l33 10m-155-4l26 11m-286 25l21 25m-596-28l24 27m-250-53l15 4m-652 54l17 36m220-15l18 29m987 28l7 8m-576 5l31 20m832 28l5 9m-1844 104l18 15m268 24l7 14m-300 25l35 7" stroke="#0000e0" stroke-width="32" stroke-linecap="round" fill="none"/><path transform="scale(.1)" d="M11098 11641l8 13m477 2l23 32m511 99l18 29m1107 32l16 2m-1366-12l28 8m-1117 7l38 2m1226 83l34 3m-1343 51l22 6m1076 92l21 3m123 75l20 25m878-66l25 37m-352 31l18 24m-177-9l9 8m-248 17l20 11m-1182-2l38 20m1872 32l12 20m-1033 34l12 18m-294-60l19-1m276 104l7 5m27-3l19-1m723 58l20 5m-480 7l27 18m930 93l9 29m-1157-25l33-3m416 61l23 4m462-2l18 31m-332-13l8 8m-1612 64l10 15m1678 12l12 3m266-28l29 2m-244 32l40 4m-1950 103l18 1m2252 49l12 17m-120-50l21-1m-485 120l19 10m-1819 21l26 9m1319 60l35 28m371-69l34-1m-348 78l13 18m-633 14l8 2m-694 29l29 14m1606-15l12 14m186 12l34 25m-1581 5l22 2" stroke="#0000b0" stroke-width="40" stroke-linecap="round" fill="none"/><path transform="scale(.1)" d="M13147 11638l24 0m-1181-1l40 8m176 12l13 26m536-16l13 17m468-13l37 13m-158 34l8 2m-275 36l12 5m-418-35l27 32m-674-34l10 4m-816-4l12 6m-170 31l28 19m1893 41l38 16m-116 152l25 14m-1215 51l21 16m733 293l25 32m7 60l12 11m-276-12l11 8m-1057-23l14 24m378 31l41 11m767 2l13 10m1047 29l33 22m-620-10l17 4m-623-15l30-2m277 163l12 12m-925-23l36 12m-441 37l12 39m1654 53l33 6m-994-18l40-2m-490 9l28 27m1969-7l15 28m-2508 49l22 23m533 82l20 0m985 133l9 4m-1044 51l11 1m1730 30l40 16" stroke="#0000f0" stroke-width="32" stroke-linecap="round" fill="none"/><path transform="scale(.1)" d="M11457 11628l33 24m794 49l5 12m-386 24l10 4m477 36l27 9m-145 44l16 1m-301 4l30 32m-1142 28l31 26m913 10l22 11m895-52l15 9m182-16l32 3m-750 89l16 11m-376 11l41 1m-252 31l23 3m-4 65l42-1m-135-29l33 14m-275-3l7 4m-120 60l37 8m567-25l24 10m1410 20l22 35m-1847 85l32 24m144-7l15 5m1530-7l19 14m-1854 17l12 32m1659 45l39 3m-1467 27l13 6m-224-8l7 14m-282 73l16 21m1133-18l23 15m324 5l20 33m-1373 37l17 11m540-12l27 4m1260 43l15 2m-637 69l9 6m169 24l19 13m-1760 41l26 17m2185 124l14 18m61 82l35-1m-231 96l4 10m-1786 9l32 26m-367-19l11 23m725 108l33 12" stroke="#0000c8" stroke-width="48" stroke-linecap="round" fill="none"/><path transform="scale(.1)" d="M12089 11679l8 9m221-30l15 2m-1483 95l39 5m576 9l4 11m415 42l8 13m-896 6l11 33m1003 23l18 23m693-15l10 18m-46 170l28 13m-1476-34l33 7m354 135l3 10m-290 19l23 21m1799 88l32-3m-285 5l13 24m-456-36l21 22m-628-35l19 13m-664 48l19 40m1937 33l13 5m-312-28l4 12m-1011-8l13 3m-630-5l15 24m-451 13l15 13m341 43l11 19m808-5l41 0m-1076 75l28-2m1217 33l13 5m-687 103l12 18m8-24l43-1m445-31l7 12m66-3l12 10m149-14l26-1m971 14l27-2m-178 92l25 24m-2374-29l24 0m1161 59l39 1m-378 42l15 16m1480 19l15 6m-1633 225l9 3m-489-23l7 8m997 49l15 2m947-28l16 10m-1836 50l16 21" stroke="#0000e0" stroke-width="40" stroke-linecap="round" fill="none"/><path transform="scale(.1)" d="M11846 11632l7 9m1251 72l26 20m-1569 0l12 31m-189-23l24 31m-129-33l15 2m1525 39l9 9m-28 56l7 8m-600 65l41 18m460 62l11 36m-1376 20l8 12m74-31l10 6m381-6l26 34m798-1l13 12m-1330-5l8 25m1335 235l6 11m-1277-30l19 14m-20-20l3 7m1615 162l8 26m-989-53l15 24m-1052-50l6 21m1157 85l18 15m-286 78l21 5m460-5l36 14m830 27l17 41m-170 44l15 4m-69 54l19 36m-687 49l23 17m50-20l17 24m361-53l14 17m176 14l8 15m-880 67l20-1m-387 100l9 1m-825 63l18 11m2224-65l20 38m-351 28l35-1m-1061 32l7 15m-815-19l4 10m1226 51l17 4m-1299 25l13 25" stroke="#0000c8" stroke-width="32" stroke-linecap="round" fill="none"/><circle cx="1081.5" cy="1215.3" r="1.9" fill="#a020c0" stroke="#f01030" stroke-width="2.0"/><circle cx="1320.5" cy="1212.8" r="1.7" fill="#a020c0" stroke="#f01030" stroke-width="1.8"/><circle cx="1103.0" cy="1273.4" r="2.0" fill="#a020c0" stroke="#f01030" stroke-width="2.1"/><circle cx="1253.5" cy="1264.1" r="1.7" fill="#a020c0" stroke="#f01030" stroke-width="1.8"/><path transform="scale(.1)" d="M11080 12742zm215 168z" stroke="#f0182a" stroke-width="40" stroke-linecap="round" fill="none"/><path transform="scale(.1)" d="M11917 11723zm1029 63zm-145 48zm-960 51zm-69 262zm-2 27zm-247-12zm-38-9zm759 93zm569 41zm-802 56zm941 93zm-697 79zm752 67zm-447 93zm-1503 106zm441 3zm80 60zm-257 83z" stroke="#f0182a" stroke-width="32" stroke-linecap="round" fill="none"/><path transform="scale(.1)" d="M12684 12096zm536 40zm-1660 137zm1113 127zm-1033 247zm943 407zm136 30zm227 99zm-534 40z" stroke="#f0182a" stroke-width="16" stroke-linecap="round" fill="none"/><path transform="scale(.1)" d="M11166 11654zm442 44zm-517 63zm1776 1zm-259 119zm-1089 91zm-396 96zm1979 32zm-769 218zm81 166zm81 50zm679 22zm-436 276zm-116 7zm-365-28zm-997 103zm492-3zm3-10zm785 88zm-773 104zm1499 104zm-190-10zm-1958 57z" stroke="#f0182a" stroke-width="24" stroke-linecap="round" fill="none"/><path transform="scale(.1)" d="M10903 11699zm1910 959zm-1467 185z" stroke="#20e060" stroke-width="32" stroke-linecap="round" fill="none"/><path transform="scale(.1)" d="M11181 11708zm424 82zm-378 141zm114 64zm-210-10zm-215 269zm309 89zm1736 85zm-104 172zm-148 166zm386 522z" stroke="#20e060" stroke-width="24" stroke-linecap="round" fill="none"/><path transform="scale(.1)" d="M13283 11929zm-508 134zm-1159 78zm433 2zm1151 237zm-1506 239zm-291 17zm1662 143zm-1076 356zm-563 30z" stroke="#20e060" stroke-width="8" stroke-linecap="round" fill="none"/><path transform="scale(.1)" d="M12290 11717zm-1364 50zm111 115zm1158 85zm255 101zm238 7zm-691 194zm-155 71zm-893-5zm1456 33zm804 169zm-486 27zm-1578 35zm56 24zm1186 138zm-1598 5zm193 104zm2058 64zm-243 107zm-858 45zm-795 28zm2076 64z" stroke="#20e060" stroke-width="16" stroke-linecap="round" fill="none"/><path d="M1097.4 1190.5L1089.6 1177.3M1089.7 1186.8L1089.6 1177.3M1097.8 1182.0L1089.6 1177.3" stroke="#ffee00" stroke-width="2.4" stroke-linecap="round" stroke-linejoin="round" fill="none"/><path d="M1127.8 1193.1L1119.9 1179.3M1119.9 1188.8L1119.9 1179.3M1128.1 1184.2L1119.9 1179.3" stroke="#ffee00" stroke-width="2.4" stroke-linecap="round" stroke-linejoin="round" fill="none"/><path d="M1277.5 1204.6L1265.1 1220.4M1273.9 1216.8L1265.1 1220.4M1266.5 1211.0L1265.1 1220.4" stroke="#ffee00" stroke-width="2.4" stroke-linecap="round" stroke-linejoin="round" fill="none"/><path d="M1240.6 1238.2L1228.7 1253.6M1237.5 1250.0L1228.7 1253.6M1230.0 1244.2L1228.7 1253.6" stroke="#ffee00" stroke-width="2.4" stroke-linecap="round" stroke-linejoin="round" fill="none"/><path d="M1261.6 1247.7L1250.0 1263.1M1258.7 1259.4L1250.0 1263.1M1251.2 1253.7L1250.0 1263.1" stroke="#ffee00" stroke-width="2.4" stroke-linecap="round" stroke-linejoin="round" fill="none"/><path d="M1300.6 1243.5L1288.4 1259.2M1297.2 1255.6L1288.4 1259.2M1289.7 1249.8L1288.4 1259.2" stroke="#ffee00" stroke-width="2.4" stroke-linecap="round" stroke-linejoin="round" fill="none"/></g><path transform="scale(.1)" d="M9518 11883zm104 280z" stroke="#e81515" stroke-width="32" stroke-linecap="round" fill="none" stroke-opacity="1.00"/><path transform="scale(.1)" d="M10683 11871zm-327 247zm12 16zm-721 33zm105 81z" stroke="#e81515" stroke-width="24" stroke-linecap="round" fill="none" stroke-opacity="0.95"/><path transform="scale(.1)" d="M9689 11642zm215 22zm614 31zm-463-19zm-403 18zm834 35zm70-23zm-164 46zm-374 2zm-157 42zm771 61zm-788 26zm19 4zm120 6zm1-13zm230 48zm43 34zm235-15zm-391 28zm458 44zm-262 23zm-77 15zm117 9zm331 11zm-82 13zm-950 96zm215 1zm369 13zm235 10zm-565 6zm-156 34zm30 6zm211-8zm1-5zm6 92zm638 46zm93 4zm-1048 23z" stroke="#e81515" stroke-width="16" stroke-linecap="round" fill="none" stroke-opacity="0.75"/><path transform="scale(.1)" d="M9668 11842zm1022 33zm-261-20zm-548 86zm542 61zm-503 119zm479 92zm-41 72zm22 32zm66 14zm111 48zm-261 19z" stroke="#e81515" stroke-width="8" stroke-linecap="round" fill="none" stroke-opacity="0.55"/><path transform="scale(.1)" d="M9696 12526zm-135-4zm6 272zm925 198zm-715 91z" stroke="#18b840" stroke-width="16" stroke-linecap="round" fill="none" stroke-opacity="0.78"/><path transform="scale(.1)" d="M10237 12531zm-665 24zm331 12zm-277 44zm1095 24zm-531 18zm-471-18zm-47 27zm102 5zm699 33zm-42 6zm-116-3zm-407 36zm211 0zm-25 62zm-76 35zm-300 2zm-135-4zm710 16zm387 6zm-116 24zm120 53zm-236 13zm-769 17zm27 12zm99 6zm141-8zm567-9zm-1008 81zm779-2zm157 2zm174 6zm-1016 45zm1003 31zm-118 53zm-806 36zm388-14zm24 24zm600 21zm-874-6zm813 60z" stroke="#18b840" stroke-width="8" stroke-linecap="round" fill="none" stroke-opacity="0.54"/><text x="503.0" y="1422.0" font-family='"Liberation Serif", serif' font-size="17.5" font-weight="bold" text-anchor="middle" transform="rotate(-90 503.0 1422.0)">pRCC</text><path d="M511.2 1339.4V1502.1" stroke="#7f7f7f" stroke-width="1.8"/><text x="534.3" y="1378.8" font-family='"Liberation Serif", serif' font-size="17" font-weight="bold" text-anchor="middle" transform="rotate(-90 534.3 1378.8)">CD8</text><text x="534.3" y="1465.2" font-family='"Liberation Serif", serif' font-size="17.2" font-weight="bold" text-anchor="middle" transform="rotate(-90 534.3 1465.2)">LAG3</text><rect x="538.9" y="1337.9" width="123.0" height="81.0" fill="#000"/><rect x="538.9" y="1423.6" width="123.0" height="82.5" fill="#000"/><rect x="666.9" y="1337.9" width="252.4" height="168.2" fill="#000"/><clipPath id="ckp2"><rect x="666.9" y="1337.9" width="252.4" height="168.2"/></clipPath><g clip-path="url(#ckp2)"><path transform="scale(.1)" d="M8487 13412l-29-15m-1227 31l21-7m-430 17l-1 10m209 18l-13-30m107 58l-9 36m1447-61l28-6m-815 181l18-8m-22 13l-19-28m-411 18l-14-3m-120 44l-25 12m1095 53l-25-13m-537 72l21-20m1214 32l-3 6m99 38l28-23m-1798 114l8 13m1084-16l6-17m-1189 105l-3 15m1157 55l-11 10m-94 42l-5 11m-538 26l20 29m282-15l-11 6m75 54l-5 7m-979-25l2-18m-21 23l-6 5m403 75l-18-5m-275 42l-9-4m349 56l-14-10m564 27l-9 7m1046-1l-5-1m-2246 36l-5 1m2079 86l-9 14m-1730 0l11 27m-190 47l21-4m815 31l28 8m23-49l6 19m652-15l22 15m-1785 100l-4 4m31 42l-19-4m2354 167l1-4m-1364 7l28 13m-816 2l-7-5m1616 21l14-11" stroke="#0000d0" stroke-width="32" stroke-linecap="round" fill="none"/><path transform="scale(.1)" d="M8445 13435l13 9m-1170-45l-12 9m-206 5l1 18m165 28l-3 2m960 57l0 21m-266 13l-32-10m-512 53l-21-27m286 27l-9 31m203-46l28-7m340 34l-28 15m267 25l-1-12m-644-11l0 11m987 163l35-10m-650-29l-11 0m-119-16l-14-2m421 65l-29 0m-1353 148l1-26m940 8l-6-5m104 17l-20 9m804-32l7 30m-1066 51l22-25m-945 51l-28-6m2088 133l7 16m-429-35l-12 22m-783-53l-5 37m-1044 59l-6 15m1645-38l10 17m141-37l21-13m271 116l4-11m-247-11l29-1m-406 26l-6-14m-73-23l23 17m-372 88l4 3m924-15l-6 0m-1624 93l-2-26m166 228l18-17m457 71l19-21m1332 92l-12 23m-974-58l-5 0m-783 29l4 16m210 9l3 0m1201 97l-31 21m-357-10l-14 23m-528-60l-22 27m-437-17l-28 13m-308 33l-16 34m293-39l14-25m1461 36l-2-16m230 60l-36 1m-181 19l25-27m-1322 109l3-1m109-5l-34-9m62-24l5-34m1251 101l-6-29" stroke="#0000d0" stroke-width="50" stroke-linecap="round" fill="none"/><path transform="scale(.1)" d="M7909 13493l-1-35m556-12l1-14m503 104l7 13m-2277 21l-4 28m182 20l3 1m1383-52l-10 1m354 29l-36 4m370-6l23 17m120 184l6-37m-1535 10l6 2m56 38l-20 7m1041 3l-34-1m449 38l-14 11m161 24l-20 3m-589 23l3 38m-580-55l-14 20m136 36l30-3m316 51l8-1m-1344 2l15-27m770 69l-19-23m-177 93l0-6m-39 336l14-31m291 42l21-15m983-5l11 5m-513 57l-3 34m-998-32l-19-7m-56-15l-17-31m1134 84l18 2m524 9l-16-5m71 81l-12-10m-323 4l0-12m-38-19l-6-3m-1144 38l1-6m1278 74l6-5m-423 28l-11-9m85 172l10-5m-351-22l10 0m-614 51l-24-12m1448 47l-3 22m-2211-1l8 6" stroke="#0000b8" stroke-width="32" stroke-linecap="round" fill="none"/><path transform="scale(.1)" d="M7295 13491l-14-4m715-39l-20-22m-1011 178l5-6m845-1l28 6m-91 67l6 1m-977-14l-35-14m-72-12l4 10m770 59l2 29m1056 10l-11-31m-333 79l-9 10m247 25l-16-7m-202 74l-4-15m-804 9l14-8m-235 26l5 18m-376-52l1-21m534 89l-15 0m699 23l0 6m384-12l4 8m763 154l8 0m-297 21l25-2m-855 33l32-2m613 114l2-7m-958-8l17-2m-108-23l8-11m1112 110l-9 19m-1112 63l-20 7m706-18l-27 20m-646 72l-4-2m-176 28l6 6m1328 16l-16 5m-12 73l13 7m-650-51l-31-16m-656 95l-14 5m1021 81l13 32m-32 81l30-1m-658-33l-36-5m-69 3l-5 7m-521 13l-1 24m-241-7l0 21m-12-42l-22 2m2010 44l6-30m-563 125l15 12m-45-41l16 9m-1571-17l-10 2" stroke="#0808e8" stroke-width="42" stroke-linecap="round" fill="none"/><path transform="scale(.1)" d="M7892 13413l26-15m-1189 62l28-17m156 88l31 8m1663 93l7 8m-810 13l3-34m-944 66l34-6m743 8l-15 9m407 8l14 2m-967 90l8 13m-201-12l24 8m1015 5l-17 11m213-20l23-14m827 125l13-3m-171-24l5 13m-1782 67l9-24m234 25l-8-28m238 2l10-5m361-4l-32-19m998 126l37 3m-1176-56l21 22m-319-9l0-11m312 64l-19-33m38 33l-20 21m792 68l7-16m-1762 136l1-21m1948 146l5-24m-1184 25l-20-27m-57 40l-21-6m571 81l-26-17m-1106 8l18-6m94 98l-2 3m518-26l-20 12m443 203l12-3m385 64l-25 1m-77 63l8-5m-1074-12l-6 18m1685 44l14-26m-1982 124l-26-6" stroke="#0808e8" stroke-width="32" stroke-linecap="round" fill="none"/><path transform="scale(.1)" d="M9041 13395l0 3m-1999 9l3-3m-334 54l-7-36m968 40l-16 12m1293-31l11 2m-1866 87l-5 10m-53 57l-1-24m1130 55l-10-13m-542 105l12 3m937-45l-2-3m270 11l-33-9m-78 108l1 16m-1609-39l20 19m452 42l-9-7m64 27l-1 4m689-9l11 8m204 35l10-5m-1611 69l-9 35m381-23l-4-5m242-24l-5-19m1572 11l-5-8m-127 68l-4-23m-283 186l12-20m-346 31l11 1m-501-26l2-4m-28 13l-6-15m338 54l28 3m780 24l-19-4m-1485 72l-28 25m123 6l-15-27m1199 34l-10-15m-280 153l-18-8m-1343 65l-22-12m428 50l34-7m-216 60l8-19m631 72l-5-24m66 177l-32-20m662 89l12-4m-1457-46l-6-3m122 140l-21-5m-562 86l0-7" stroke="#0000f0" stroke-width="42" stroke-linecap="round" fill="none"/><path transform="scale(.1)" d="M7482 13405l20-1m-386 43l-4-4m252 26l11 23m104 29l-11 0m396 82l27-14m1141 47l10-4m-1059 44l21-15m-137 15l-31 16m-32-36l-9 9m281 123l-13 18m-786 17l-8-4m401 66l-17-12m-300 50l9 7m1177 43l26 15m-686 49l-2 27m-289-83l-2 3m252 82l6 16m97-27l24 7m912 86l3 7m-467-1l22 10m-863-47l27-4m309 114l-9-8m7 55l9-3m-749-8l-26 10m1213 87l37 4m-732 4l-2-37m-150 76l-17 8m275 9l-11-25m1397 103l35-14m-412-9l3-2m-39 31l17 29m-1943 27l36 10m161 0l22 5m821 0l-7 5m251-32l-32 7m913 68l0 5m-214-12l-18-8m-991 23l17-21m-473-3l-17 32m-236-13l-22-17m194 37l10 28m488 28l-1-9m-868 46l4-27m664 62l-25-5m-333 146l21-6m375 21l-27 0m778-21l9-16m-1542 105l8-8m1354 46l-10 14" stroke="#0000d0" stroke-width="42" stroke-linecap="round" fill="none"/><path transform="scale(.1)" d="M8325 13379l-2 4m-92 49l1-3m-836 5l12-34m-12 70l14 24m1385-14l30-20m2 60l-8 8m-1141-25l-1-5m-93 89l12-20m428 15l32 16m398 1l25 13m281 7l-2-9m-1413 98l24-23m1410 218l-11-1m-208 8l9 2m600 33l2-2m15 221l0 9m-184 101l-12-2m-684-48l15-18m-588 72l-3-15m-169-41l-7-18m-412 70l2-5m1613 72l-16-19m-475 43l-9 10m-300 6l-11 4m-385-14l15-9m-416-12l-14 1m-434 68l0-15m1847 60l3-27m-1123 47l-25 23m1632 63l2-19m-1617 121l9-19m-277 83l32 16m-308-26l31-16m30 87l-14-1m-248 139l-8-8m2055 26l16-34m-698 51l-2 3m-336-28l34 16m-500 33l33 16m154 48l33 1m341-30l-5-30" stroke="#0000f0" stroke-width="50" stroke-linecap="round" fill="none"/><path transform="scale(.1)" d="M8704 13404l17-14m-995 219l6-22m194-27l15 1m28 39l8-18m196 80l-11-7m-748 22l-3 28m-397 22l8 0m1020-3l11 16m979-17l-17-32m-1563 63l23-25m-352 46l-29-11m127 76l3 29m-345-7l17-2m893 333l7-24m210 23l-25-11m163-15l-6-12m626 8l28-14m-1408 94l13 7m-216 26l-6 17m1228 45l21-13m-198 16l-6 30m-332 42l-30 6m949 30l22-11m123-14l9 12m-714 63l27 9m-848 7l-17 0m-495 37l-7-3m1696 137l-26-27m574-12l-7 14m-216 80l7-22m-320 35l-10 6m-544-39l19 3m1084 128l5 29m-849-33l13 2m-1208 64l-18 16m972-29l13 35m547 48l5 10m-682-29l-8-37m-331 94l-6 16m421 21l27 5" stroke="#0000f0" stroke-width="32" stroke-linecap="round" fill="none"/><path transform="scale(.1)" d="M9002 13377l21 5m-1659 143l-16 7m-164-17l-20-13m-284 7l11 6m-156-2l-23-27m1368 82l-15 12m655 22l-8 20m49-15l-7-27m-504 67l33 14m-578-40l18 12m817 48l-1-5m-1215 91l-28-7m-141-10l1 17m-336 16l-2-4m679 104l-30-3m-327 8l2-38m581 70l6 4m651 5l-31 4m-1302 70l19-31m-81 45l-8-4m1178 56l16-8m1001 37l-6 13m-2475 67l15 21m552 17l2-3m1231-45l-8 7m-982 110l-3 34m-21 70l21 8m-717-38l31-20m596 109l-11-32m1395 40l-8-21m-1106 126l-24 9m1158 18l10-5m-1853 222l21-18m-7 57l-4 3m844 84l-10-12m1203 23l7-36m44 118l12-19" stroke="#0000b8" stroke-width="50" stroke-linecap="round" fill="none"/><path transform="scale(.1)" d="M8942 13374l15 31m-951-7l-29 5m-64 10l5 2m-722 46l18-20m204 40l10-17m1563 24l10-22m-964 34l-35 8m-1182 56l-15-16m943 54l-19 3m1149-8l4 3m-1020 32l-25 26m294 65l-11-8m-359 41l15 29m-567 41l-12-22m1838 170l20 12m-1971 31l12 7m-52-22l-12 11m588 45l5-2m-433 108l-8-16m143 36l-10-1m326-17l-2-14m780 49l-5 28m744-63l17-26m-1154 135l-35 7m-30-50l-22-22m-146 33l-23 21m-345 13l-30 22m-68-31l14 5m-100 2l-28-2m518 29l-30 10m286 197l0 13m-1190 0l14-10m2280 121l-20-24m-616 104l34 4m-214 100l-6-9m323-14l0-8m-113 199l-28 6m-397-31l-16 26m-800 21l-9 7m345-8l5 13m902-11l14-17m484 33l6 28" stroke="#0000b8" stroke-width="42" stroke-linecap="round" fill="none"/><path transform="scale(.1)" d="M7948 13438l-14 2m26 24l-16 11m660 1l-9-2m278 19l-3-16m249 9l13-26m-201 82l-10 8m-874-8l-2-35m240 169l-12-23m345 101l4-35m-1272 58l11-8m-64 7l-3-34m-222 78l11 20m1108-13l8 0m385 45l-8-1m-121 75l2 6m14-5l19 24m-708 104l0-10m770 87l19-20m-116 1l-8-9m-260 12l-13-2m-353-31l7 35m-862 38l-7-12m16 10l32 12m1111 41l1-9m-1039 105l-30-6m766-6l4-15m639 30l0-12m567 74l6-30m-1930 27l8 13m-323-42l1 6m947 67l-12 6m831 12l-4-1m365-34l-22-20m85 79l24 29m-281 19l-8 2m-322-56l-14-22m-1494 67l15-31m-155 86l-4-18m1455-13l10-7m-8 15l-11-9m317-1l20-18m-1011 69l1 16m1369 58l-12 13m-200 59l7 17m-863 1l-16-8m-340-20l-31 7m517 76l-16-17m768 60l1-16m-1956 88l-1-3m1450 16l19 8m-950 48l2-8m-231 30l-20 10" stroke="#0808e8" stroke-width="50" stroke-linecap="round" fill="none"/><circle cx="713.6" cy="1397.6" r="1.7" fill="#a020c0" stroke="#f01030" stroke-width="1.8"/><circle cx="865.8" cy="1411.1" r="1.9" fill="#a020c0" stroke="#f01030" stroke-width="2.0"/><circle cx="695.4" cy="1466.6" r="1.6" fill="#a020c0" stroke="#f01030" stroke-width="1.7"/><path transform="scale(.1)" d="M8587 13724zm227 849z" stroke="#f0182a" stroke-width="32" stroke-linecap="round" fill="none"/><path transform="scale(.1)" d="M7401 14573z" stroke="#f0182a" stroke-width="24" stroke-linecap="round" fill="none"/><path transform="scale(.1)" d="M6884 13547zm1325 84z" stroke="#f0182a" stroke-width="16" stroke-linecap="round" fill="none"/><path transform="scale(.1)" d="M7653 14363zm-378 92z" stroke="#18c070" stroke-width="16" stroke-linecap="round" fill="none"/></g><path transform="scale(.1)" d="M5617 13667zm-89 332z" stroke="#e81515" stroke-width="24" stroke-linecap="round" fill="none" stroke-opacity="0.95"/><path transform="scale(.1)" d="M6358 13731z" stroke="#e81515" stroke-width="32" stroke-linecap="round" fill="none" stroke-opacity="1.00"/><path transform="scale(.1)" d="M6324 13545zm110 409zm-688 0z" stroke="#e81515" stroke-width="16" stroke-linecap="round" fill="none" stroke-opacity="0.75"/><path transform="scale(.1)" d="M5494 13460zm645 41z" stroke="#e81515" stroke-width="8" stroke-linecap="round" fill="none" stroke-opacity="0.55"/><path transform="scale(.1)" d="M5869 14719zm-185 45z" stroke="#18b840" stroke-width="8" stroke-linecap="round" fill="none" stroke-opacity="0.54"/><text x="944.3" y="1378.8" font-family='"Liberation Serif", serif' font-size="17" font-weight="bold" text-anchor="middle" transform="rotate(-90 944.3 1378.8)">CD8</text><text x="944.3" y="1465.2" font-family='"Liberation Serif", serif' font-size="17.2" font-weight="bold" text-anchor="middle" transform="rotate(-90 944.3 1465.2)">LAG3</text><rect x="949.3" y="1337.9" width="123.3" height="81.0" fill="#000"/><rect x="949.3" y="1423.6" width="123.3" height="82.5" fill="#000"/><rect x="1076.4" y="1337.9" width="253.0" height="168.2" fill="#000"/><clipPath id="ckt2"><rect x="1076.4" y="1337.9" width="253.0" height="168.2"/></clipPath><g clip-path="url(#ckt2)"><path transform="scale(.1)" d="M11761 13382l3 10m-274 61l-17 12m107 4l-11 20m379 3l-6 4m-634 99l18 9m37-6l-9 0m563 17l-6-1m805-1l12 3m-440 104l-7 23m921-49l12-13m-2048 88l-16 18m-107 7l-11-21m264 52l3 4m599 88l4-8m1021 100l-13-2m-72 21l5-12m-695 62l22 9m1099 34l8-2m-1284 58l3 13m177 20l-13-2m-1146 29l6 14m-16 0l-22 11m-45-16l-15 18m1068 40l-3-2m979 47l10-10m-1447 12l14-13m1024 137l-4 4m-728-17l1-7m-557 173l-4 11m-428 4l2 7m-1 32l11 3m730-25l8 14m1692-30l-24 3m-1631 87l3-2m-228 46l12 4m796-12l5-7m830 16l4 1m-1975 147l17-6m287 107l-20-6" stroke="#0000e8" stroke-width="36" stroke-linecap="round" fill="none"/><path transform="scale(.1)" d="M11634 13474l-3 2m48 28l19 7m-467 53l16 12m286 28l-6-15m321 17l-3-2m618 13l-3-1m686 30l10 2m-768 7l5-6m-565 29l0 5m194 43l-2 9m21-28l-13 8m342 19l1 4m-551 22l-2-4m-515 64l-14 19m1295-38l20 0m416 11l-22-7m-1426 104l12 18m939 26l2-9m733-8l7 19m-387 63l-19-2m-463-15l6-1m-1122 42l-5 4m356 4l5 22m193 147l7-4m212-2l-15-1m-1243 109l-12 17m995-25l-5-19m-620 50l2 13m839 194l-3 8m477 31l-2-3m-341 3l-9 7m-156-5l-19 15m-484-22l-14 13m1341 104l-3-4m-52 10l-5-15m-116 26l7-10m-142 4l-8-11m-654 18l7 2m-551-20l-12 5m266 95l1 10m861-45l15 0m6 81l12-6m-951 31l9-8m1075 47l-1 17m376-17l-5-12m363 49l-7-15m-2046 33l4 6m423 31l18 8m598 25l13-6" stroke="#0000e8" stroke-width="52" stroke-linecap="round" fill="none"/><path transform="scale(.1)" d="M12742 13418l6 6m113 53l-11-21m341 72l12 19m-603 7l12 12m-913 26l1-4m332-26l-12 9m173-3l3 18m510 4l13 6m563 21l0 3m-1139 2l17 9m-636 4l-8 1m1568 159l-21-7m-551 24l-9 7m662 52l-19-14m-1296 5l-4 14m-239 34l6-3m813 53l2-18m-76 42l6 4m-648 11l13-7m-147-3l-8 4m281 52l23 0m470 109l-14-2m-799-46l-11-9m809 83l-4 0m71 31l-4 13m333-57l-22 8m4 76l-1-9m-1152 28l-5-14m-309 115l-23 3m134 64l2 22m44-25l-12-7m1447 30l-7 5m151-11l22 8m-1285 9l5 6m1486 96l1 8m-962 37l-4 13m-765-28l6 17m-599-34l19-8m1087 102l-8-8m374 11l0 8m196 62l-1 15m-88-22l5-11m-1213 25l-14-18m-360 35l13 18m784 50l18 2m-701 71l-2 4m1893 51l-4 5m-1157-35l8-1m152 98l19-6m35 4l-10-1" stroke="#0000ff" stroke-width="52" stroke-linecap="round" fill="none"/><path transform="scale(.1)" d="M12854 13401l-9 21m-1805 1l-17 0m181 70l-5 8m187-61l-16-1m1670 224l2 14m-817-45l4 1m364 163l0-10m-328-4l-1-10m-525 1l-12 13m78 28l9 7m954 81l17-8m-1799 67l3 13m675-14l-1 13m999-5l9-10m110-35l-9 7m207 5l8-8m123 51l-3-14m-541 22l-11 5m-1308 30l23-6m-93 9l-3-1m-186 26l5 4m1468 13l13-9m-1276 150l9 8m873-10l18-3m628 41l5 20m-763-19l6 8m-291-13l-19 2m-278-5l-22-2m-124 83l15 5m169-28l3 17m43-14l-7-6m725-11l-4 1m396 61l-1 4m-711 82l-15 2m625 2l10-20m540-7l6 7m-1041 69l-8-19m-987 46l-3-12m1294 100l18 11m-765 66l-13 0m487 10l-8 12m365-25l1-11m105 18l10-20m518-1l-8-22m-1291 116l3-16m-608 4l2 6m934 237l5-7" stroke="#0808ff" stroke-width="52" stroke-linecap="round" fill="none"/><path transform="scale(.1)" d="M11328 13437l-9 9m1156 58l3 1m-13 31l16 10m-172 60l-5 22m376-42l5-2m-853 64l24 4m765 127l-2-8m-683-20l-2 6m-782 5l25 2m-324-14l-11 6m1766 82l-8-8m546-4l0-5m-495 71l2 5m-576-4l-2-3m-1001 57l8 3m108-22l-19-1m1160 175l8-11m-1567 19l-6 17m981 84l0 8m1156-44l0-4m-1076 61l19-14m1005 97l0 5m-783 59l-3-20m-1068-1l-5-21m643 78l-2-9m678 72l2 12m-77 3l3 0m-651-23l-22 1m98 58l6-2m1154 10l-6 19m-66 43l0 5m-1358 53l-6-19m1101 28l8-9m786 12l4-9m-1028 58l-1-9m-481 16l8-11m-804 5l-21 4m-106 30l1 4m-39-15l-20 0m-13 10l15-14m469 77l21 12m1406 12l13 3m-163-6l-19-6m-538 7l16 7m-139 110l2-19m-850 109l5-3m1032-28l-3 4m261-14l-9-11m599 64l8-1" stroke="#0000ff" stroke-width="36" stroke-linecap="round" fill="none"/><path transform="scale(.1)" d="M12676 13427l-5 9m-264-12l5-23m-881 67l-13-4m313-23l2 8m1104 36l7-11m-159 184l2-14m-916 34l11 7m-775 21l-10-2m735-2l-4 7m1321 56l5-5m-2089 2l-12 6m-144 88l3 24m4-78l5-6m753 45l-5-5m431-15l-23-1m643 33l-2-19m470 38l1 12m-678 145l11-9m-598-14l13 15m-848-32l7-2m270 79l-6 9m1093 30l0 19m-166-2l-2 10m-843 14l-9 3m-333 47l-20-4m628 40l-8 10m-875 53l-6 2m2390 16l-12-3m-1398 39l3-11m-36 57l-5 0m-263-50l14 17m-160 1l20 0m-206-16l-15 10m-86-1l9 11m-22-23l-12-2m1247 113l-3-2m448-6l5 10m547 43l14-5m-1138-2l-6 15m-1380-25l7 0m1364 155l3 20m-163 39l8-17m86-20l-3-6m75 121l-1 8m944 28l-3-19m-1736 45l-2 15m1049 206l7-5" stroke="#0000e8" stroke-width="44" stroke-linecap="round" fill="none"/><path transform="scale(.1)" d="M11469 13432l6-14m-456-25l19-4m-104 68l-7 2m831-10l-20 1m998 92l-10-2m-1569-23l1 5m603 57l-3-3m528 3l-12-3m13 1l-5-12m-1153 104l9 4m437 99l-2-4m1629 92l-13-21m-1204 40l23-6m-1181 94l-3 5m644-48l20 8m131 19l6-16m4 54l23-6m-298 45l19 7m-497-42l-18-6m600 107l-5 2m1796 52l-2 13m-558 37l2-23m310 35l4-21m-372 89l-21 5m-556-14l2-5m-863 10l3-2m-341 8l14 4m126 130l15 3m1482-11l-8 11m791-6l-3-25m-547 132l-23 0m-1651-14l5-9m153 47l2 4m349 121l15 16m1439 15l1-18m-680 24l-4 10m-562-7l-9 7m1132 135l10-9m-286-3l-11 10m-913-21l-20 3m-141 78l-21 8m953 4l-8 14m-352 31l-11-8m-297 7l3 16m-635-24l3-9m-188 89l6-11m1390 6l3-7m-2 9l-11 17" stroke="#0808ff" stroke-width="36" stroke-linecap="round" fill="none"/><path transform="scale(.1)" d="M11698 13445l-4-19m123 22l-7 9m907-9l15 9m241-2l-13 15m-592 41l0-9m-1319 90l6-5m40-25l-18 4m124 45l9-3m416 1l6-11m1514 32l-11 6m-1928 52l-5-1m1378 32l0 19m460-46l6 10m-491 50l9 0m-352 24l-1-12m-958-17l9-12m-190 102l-4 3m1060 43l11-3m-658 27l-11-4m-697 64l6 20m813 128l-2-15m-802 108l-15 10m2092-50l13 4m155 12l-4-10m156 8l-16-6m-961 48l-5-7m-1176 73l3 15m2052 0l15-18m-650 110l3-16m-378-27l-6-17m-557 30l4 0m-203 23l-16 17m710 28l5-5m-89 36l13 2m-848 15l-4 11m1607 61l-3-5m63 74l-12 2m-259-29l-12 19m-759-4l-10 0m-513-4l1-9m-312-2l23-6m725 153l-13 8m-805 28l21-2m818 32l-9-6m716-8l10 8m489 151l-17 16m-1431 74l-18 11m418-45l-20-14" stroke="#0000ff" stroke-width="44" stroke-linecap="round" fill="none"/><path transform="scale(.1)" d="M11568 13400l5-4m463 49l2-6m533 86l-1-4m-1427 38l3 1m601 2l-18 10m135-10l-13 1m-320 94l-6-8m-635 6l-11-7m1544 99l19 7m474 124l-5-3m-962 104l-18-5m724-18l-8-5m363-30l2 24m10 34l0 8m141-50l14 14m-617 65l8-10m-1733 43l7-20m2375 40l-3 1m-207 43l-10 9m-1191 54l10-14m1051 56l21-7m218-29l0-21m-1647 104l15 10m-347 13l7 12m1562-20l4-14m18 82l9-13m-113 56l15 7m-1807-36l-7-12m656 81l-11 9m149 148l9 17m-610-16l17 7m-173 91l5-7m395 5l-12-13m1710 79l-9-3m-295-44l17 13m-1095 34l-13-16m192 25l-5-2m-734 68l6-14m-165 71l-16-12m1076 25l15-11m556 42l-7-3m735 33l-22-4m2 30l-2 6m-1761-8l1-12m-461-17l1 4m2179 44l-2-7" stroke="#0000d0" stroke-width="52" stroke-linecap="round" fill="none"/><path transform="scale(.1)" d="M12536 13405l-8-5m-903-7l-4-10m-599 98l20 2m1374-32l5-23m199 118l-5 24m-1129-36l1-18m94 159l-1 17m-133-2l-2 8m75 9l-4-18m384 43l-18 9m363-9l5 9m655-35l20 7m248 55l-22-11m-2160 11l-17-13m1571 50l-15 12m-158 95l5-1m-470-31l-21 8m-1024 10l-12-4m1723 59l13 5m124-4l-11-7m-249 77l16 10m-374 11l-2 11m1181 29l11 13m-1766 115l4 5m164-28l-12 7m1123-32l-17-7m36 26l12-6m58 67l-8 8m-609 20l2 10m-18-6l13-21m-676 22l-8-1m-703 218l8 7m525 20l0 17m673 10l-10 14m509 75l-13 1m-477-42l10 19m-422-17l-4 9m-879 53l-3-5m1415 212l-3 2m-1378-8l9-1m1337 66l-3 9m413 38l-7-4m-44 26l3 4m-788-37l15-18m-847 112l-10 3m777-36l3-8" stroke="#0000d0" stroke-width="36" stroke-linecap="round" fill="none"/><path transform="scale(.1)" d="M12168 13403l-2-23m-683 48l13-13m-645-35l11 11m48 98l8 9m1089-25l-3-7m484 30l17 2m-1449 34l5 17m-68-41l9 9m-242 58l14-4m288 36l-10-3m807 15l0-22m392 68l-1-6m-1208-24l-13-1m-15-4l-21 13m-76 18l9-17m372 40l14-5m212 57l6 16m1022 25l-19-11m-1623 39l-16-2m1029 108l7-3m-774 25l-9 5m2115 98l-23-5m-1066-2l4 24m-1077-54l0 17m13 29l-11 0m248 121l21-7m1022 99l8 3m-1360 60l8 1m1677-14l-7 9m250 48l-12-9m-1232 84l0-5m329-21l14 10m177-6l-1-3m817 89l-16 7m-1845 29l-3 2m50-14l2 8m840-9l6 24m574 18l-1-5m-135 187l-14 12m-894-48l-16 4m-283-3l0-20m-382 27l1 25m-137 58l21 6m492 96l3 20m1623-42l-7 0m-760 69l11-20m-93 27l-15 18m421 60l-3-3m333 19l4 3m61-44l-4-6" stroke="#0000d0" stroke-width="44" stroke-linecap="round" fill="none"/><path transform="scale(.1)" d="M12800 13387l-5 15m-906-6l11 5m-1105 73l7 2m1253-23l10-9m-533 105l12 12m-127-31l4-1m-170 14l7 13m-402 33l6-6m1643 24l10-3m18-10l10-14m-766 82l7 17m703 8l15 7m-2-2l19-12m395 88l5-17m-1438 195l3-15m1388 89l11-6m-666 16l18 0m-1119-30l1-5m1669 92l15-14m265-14l10-20m-166 119l2-12m-2107-33l-2-6m1159 152l5-21m94 83l-7-3m-440 112l24-5m1445 29l2-14m-614 71l-20 9m-1533-23l-2-3m405 70l23-8m1816-19l5-17m30 65l-10-14m-1443 41l-18-6m1313 90l9 8m-850 35l-17 3m-1304-18l-3 19m521 21l13-8m620 20l24 5m713-9l-23 8m-487 78l5 13m-902 163l10 1m1661 25l-5 2" stroke="#0808ff" stroke-width="44" stroke-linecap="round" fill="none"/><circle cx="1092.8" cy="1396.8" r="2.2" fill="#a020c0" stroke="#f01030" stroke-width="2.2"/><circle cx="1127.0" cy="1400.1" r="1.9" fill="#a020c0" stroke="#f01030" stroke-width="2.0"/><circle cx="1180.1" cy="1398.5" r="2.2" fill="#a020c0" stroke="#f01030" stroke-width="2.2"/><circle cx="1197.8" cy="1399.3" r="2.2" fill="#a020c0" stroke="#f01030" stroke-width="2.2"/><circle cx="1159.9" cy="1405.2" r="1.9" fill="#a020c0" stroke="#f01030" stroke-width="2.0"/><circle cx="1256.0" cy="1384.2" r="2.2" fill="#a020c0" stroke="#f01030" stroke-width="2.2"/><circle cx="1267.4" cy="1411.9" r="1.9" fill="#a020c0" stroke="#f01030" stroke-width="2.0"/><circle cx="1253.5" cy="1422.0" r="1.7" fill="#a020c0" stroke="#f01030" stroke-width="1.8"/><circle cx="1130.8" cy="1437.1" r="2.3" fill="#a020c0" stroke="#f01030" stroke-width="2.4"/><circle cx="1202.9" cy="1442.2" r="1.9" fill="#a020c0" stroke="#f01030" stroke-width="2.0"/><circle cx="1208.0" cy="1464.0" r="1.7" fill="#a020c0" stroke="#f01030" stroke-width="1.8"/><circle cx="1151.0" cy="1489.3" r="2.4" fill="#a020c0" stroke="#f01030" stroke-width="2.5"/><circle cx="1157.4" cy="1495.2" r="2.2" fill="#a020c0" stroke="#f01030" stroke-width="2.2"/><circle cx="1262.4" cy="1476.7" r="1.9" fill="#a020c0" stroke="#f01030" stroke-width="2.0"/><circle cx="1295.2" cy="1475.0" r="2.2" fill="#a020c0" stroke="#f01030" stroke-width="2.2"/><circle cx="1197.8" cy="1353.0" r="2.2" fill="#a020c0" stroke="#f01030" stroke-width="2.2"/><circle cx="1183.9" cy="1410.2" r="1.7" fill="#a020c0" stroke="#f01030" stroke-width="1.8"/><path transform="scale(.1)" d="M13117 13463zm-1936 639zm-215 673z" stroke="#f0182a" stroke-width="40" stroke-linecap="round" fill="none"/><path transform="scale(.1)" d="M12369 13395zm33 75zm-491 28zm1014 173zm344 18zm-265 58zm-1801 27zm-271 42zm549 3zm1132 211zm-380 152zm213 67zm548 13zm-236-8zm-1352 73zm1550 75zm90 51zm-926 152zm-754 160zm509 20zm-847 17zm208 32zm1028-4zm-84 37zm-359 64zm-352-14zm-253 62zm519 26zm-533 29z" stroke="#f0182a" stroke-width="24" stroke-linecap="round" fill="none"/><path transform="scale(.1)" d="M11115 13434zm1942 79zm-110 416zm-807 43zm-767-15zm-181 48zm1126 82zm-1474 88zm683-3zm1753 194zm-2406 59zm1873 167zm-1469 45zm1162 10zm89 60zm359 177zm-578 52zm-726 9zm342 17zm345 5z" stroke="#f0182a" stroke-width="16" stroke-linecap="round" fill="none"/><path transform="scale(.1)" d="M13110 13505zm-397 46zm-1191 55zm750 136zm501 152zm-1637 64zm355 70zm1015 45zm-542 20zm-941-23zm894 93zm-1059 129zm1581 47zm618 24zm-1940 133zm402 152zm1627 20zm-130 11zm-896 140zm1021 225zm-41-11z" stroke="#f0182a" stroke-width="32" stroke-linecap="round" fill="none"/><path transform="scale(.1)" d="M11232 13732zm734 261zm-380 59zm291 0z" stroke="#20e060" stroke-width="48" stroke-linecap="round" fill="none"/><path transform="scale(.1)" d="M12649 13934zm-658 479z" stroke="#20e060" stroke-width="40" stroke-linecap="round" fill="none"/><path transform="scale(.1)" d="M10941 13976zm1088 580zm949 185z" stroke="#20e060" stroke-width="32" stroke-linecap="round" fill="none"/><path transform="scale(.1)" d="M12347 13484zm-658 15zm1245 2zm-427 36zm-794-3zm-357 7zm-399 239zm757 43zm1003 18zm291 71zm-1127 45zm-1046 9zm1909 79zm-113 186zm-1653 70zm1499 42zm-1090 108zm-591 268zm428 11zm-242 18zm428 25zm962 90zm589 24zm245 23zm-874 94zm142 35z" stroke="#20e060" stroke-width="16" stroke-linecap="round" fill="none"/><path transform="scale(.1)" d="M11525 13583zm648 337zm-480 481zm510 124zm572 229zm-663 236z" stroke="#20e060" stroke-width="24" stroke-linecap="round" fill="none"/><path transform="scale(.1)" d="M11741 13763zm1046 166zm-1224 161z" stroke="#20e060" stroke-width="8" stroke-linecap="round" fill="none"/><path d="M1107.5 1376.2L1095.4 1391.6M1104.2 1388.0L1095.4 1391.6M1096.8 1382.2L1095.4 1391.6" stroke="#ffee00" stroke-width="2.4" stroke-linecap="round" stroke-linejoin="round" fill="none"/><path d="M1137.4 1377.9L1125.2 1393.6M1134.0 1390.0L1125.2 1393.6M1126.6 1384.2L1125.2 1393.6" stroke="#ffee00" stroke-width="2.4" stroke-linecap="round" stroke-linejoin="round" fill="none"/><path d="M1213.8 1376.9L1201.6 1392.7M1210.4 1389.1L1201.6 1392.7M1202.9 1383.3L1201.6 1392.7" stroke="#ffee00" stroke-width="2.4" stroke-linecap="round" stroke-linejoin="round" fill="none"/><path d="M1284.1 1373.2L1272.5 1388.5M1281.2 1384.8L1272.5 1388.5M1273.7 1379.1L1272.5 1388.5" stroke="#ffee00" stroke-width="2.4" stroke-linecap="round" stroke-linejoin="round" fill="none"/><path d="M1268.4 1400.0L1256.5 1414.9M1265.4 1411.4L1256.5 1414.9M1258.0 1405.5L1256.5 1414.9" stroke="#ffee00" stroke-width="2.4" stroke-linecap="round" stroke-linejoin="round" fill="none"/><path d="M1309.4 1456.5L1297.5 1472.0M1306.3 1468.3L1297.5 1472.0M1298.8 1462.5L1297.5 1472.0" stroke="#ffee00" stroke-width="2.4" stroke-linecap="round" stroke-linejoin="round" fill="none"/></g><path transform="scale(.1)" d="M10085 13452zm283 150zm-283 73zm-86-4zm-259 8zm-167-17zm327 41zm524 32zm-666 122zm352 24zm450 158zm-161 8zm-511 89z" stroke="#e81515" stroke-width="32" stroke-linecap="round" fill="none" stroke-opacity="1.00"/><path transform="scale(.1)" d="M10640 13420zm-623 307zm-321 0zm660 57zm-222 202zm-542 65z" stroke="#e81515" stroke-width="24" stroke-linecap="round" fill="none" stroke-opacity="0.95"/><path transform="scale(.1)" d="M9857 14108z" stroke="#e81515" stroke-width="40" stroke-linecap="round" fill="none" stroke-opacity="1.00"/><path transform="scale(.1)" d="M9664 13406zm947 38zm-54 200zm-393 21zm-374-8zm-88 23zm548 40zm-718 43zm333-2zm854 93zm-1172 29zm1014-12zm-102 92zm-716 22zm567 4zm43 30zm-106 110zm281-25zm-301 40zm-168-2zm-166-9z" stroke="#e81515" stroke-width="8" stroke-linecap="round" fill="none" stroke-opacity="0.55"/><path transform="scale(.1)" d="M10275 13387zm16 36zm-239 13zm391 26zm193-22zm-774 49zm684 31zm168 8zm-129 28zm-357-2zm-653 35zm132-20zm135 22zm630 36zm-798 31zm173 34zm547 0zm-52 21zm-264 10zm-459-11zm436 44zm154 10zm104 32zm-774 21zm926-18zm115 3zm30 49zm-301-12zm-503-6zm799 61zm-940 21zm489 52zm-293 21zm729 15zm64-5zm-1032 64zm164-18zm248 10zm190 22zm-41 18zm-29-24zm-431 8zm114 40zm171 7zm-295 23zm-6 26zm259-14zm665 14zm20 5z" stroke="#e81515" stroke-width="16" stroke-linecap="round" fill="none" stroke-opacity="0.75"/><path transform="scale(.1)" d="M9721 14409zm691 99zm-333 29zm-43 29zm-142 0zm197 177z" stroke="#18b840" stroke-width="24" stroke-linecap="round" fill="none" stroke-opacity="1.00"/><path transform="scale(.1)" d="M9579 14529zm531 285zm462 90z" stroke="#18b840" stroke-width="16" stroke-linecap="round" fill="none" stroke-opacity="0.78"/><path transform="scale(.1)" d="M9944 14295zm320-7zm287 8zm-208 18zm-387-2zm-92 24zm-82-21zm187 109zm-13 30zm-369-21zm858 30zm141 34zm-107 9zm-299-4zm-652 22zm509-4zm421 43zm-576 22zm521 69zm-805 34zm730 21zm-382 28zm-149 25zm397 36zm-685 95zm90 14zm118-8zm756 12zm-665 9zm469 44zm406 23zm-119-11zm-414 50zm177 24zm-70-17z" stroke="#18b840" stroke-width="8" stroke-linecap="round" fill="none" stroke-opacity="0.54"/><text x="503.0" y="1597.5" font-family='"Liberation Serif", serif' font-size="17.5" font-weight="bold" text-anchor="middle" transform="rotate(-90 503.0 1597.5)">chRCC</text><path d="M511.2 1514.7V1677.8" stroke="#7f7f7f" stroke-width="1.8"/><text x="534.3" y="1554.2" font-family='"Liberation Serif", serif' font-size="17" font-weight="bold" text-anchor="middle" transform="rotate(-90 534.3 1554.2)">CD8</text><text x="534.3" y="1640.8" font-family='"Liberation Serif", serif' font-size="17.2" font-weight="bold" text-anchor="middle" transform="rotate(-90 534.3 1640.8)">LAG3</text><rect x="538.9" y="1513.2" width="123.0" height="81.0" fill="#000"/><rect x="538.9" y="1598.9" width="123.0" height="82.9" fill="#000"/><rect x="666.9" y="1513.2" width="252.4" height="168.6" fill="#000"/><clipPath id="ckp3"><rect x="666.9" y="1513.2" width="252.4" height="168.6"/></clipPath><g clip-path="url(#ckp3)"><path transform="scale(.1)" d="M6685 15145l32-19m715 33l24-19m343 78l-6-17m475 39l48-2m357 22l32-1m-538 67l43-8m-828 170l10-18m896 60l12-39m809-5l20-16m-497 182l45 1m-1301 14l30-33m727 89l5-18m423 69l10-1m-329 129l12-16m-1006 93l10-29m11 56l12-23m1230-10l19-32m640 123l28-25m-751 36l-2-7m-1306-23l2-11m1612 111l23-29m-50 70l14-2m-205 14l4-10m-408-28l15-44m-53 62l22-32m-1252 94l19-28m424 14l8-15m1723 105l33-2m-1521-42l26-10m1146 149l3-10m-740 30l10-13m713 84l-2-10m-1727 42l9-31m1920 91l26-13m82-19l24-22m-139 151l6-18m-1732 107l6-28" stroke="#0000c0" stroke-width="50" stroke-linecap="round" fill="none"/><path transform="scale(.1)" d="M8234 15140l29-7m301 62l-4-20m-276 51l38-22m-848-21l11-36m485 137l-5-16m927 36l39-1m-570 49l35-31m-1312 57l12-20m1125 87l20-9m-444-13l25-37m603 111l26 2m-1026 122l13-6m221 19l33-10m763 19l12-4m-53 77l25-5m-1353 7l21-3m1864 18l12-29m-1983 154l7-4m1033 53l0-13m-804 120l3-10m1164-26l43-5m351 74l5-17m-2023 41l0-22m431 47l12-31m1167 65l-5-37m43 37l12 0m694-10l37-4m-448 151l21-6m-995 41l40-6m890 24l-1-20m-64 190l-11-32m310 58l1-14m-2130 101l14-14m1539 28l-14-44m45 88l7-11m-1112-30l9-9m-242 39l12-1m-180 17l48-3m5 65l14-22m1114 39l36-10m-432 50l4-23m-850 16l27-5" stroke="#0000c0" stroke-width="30" stroke-linecap="round" fill="none"/><path transform="scale(.1)" d="M7776 15334l15-9m-214-18l18-31m-855 66l12-36m1050 125l5 0m1202 165l-3-25m-156 37l8-7m-2048 149l16-14m1403 13l8-19m120-2l11 0m-1584 89l16-17m-154 104l46 5m546 109l19-5m1148 0l-5-21m637 80l16 0m-664-40l30-23m-439 47l3-20m-662 137l8-9m1261 135l25-12m-1012 3l20-40m-193 63l5-24m816 72l34-8m556 19l-1-47m-1403 117l5-9m1114 65l7 0m-699 49l32-26m409 89l25-26m223-21l10-4m563 67l41-6m-1281 30l21-41m-829 199l0-6" stroke="#0000f0" stroke-width="50" stroke-linecap="round" fill="none"/><path transform="scale(.1)" d="M7625 15228l11-30m-316 74l38-21m20-11l18-35m1456 39l7-4m46 79l-5-18m-470 34l9-31m-1130 195l-3-32m1445 115l28-21m-497 56l42-22m-1114 75l2-13m489 103l26-12m298 54l23-38m-175 36l13-19m249 70l26-42m274 59l1-14m-1348 140l-6-39m269 120l2-5m-442 48l32-34m47 248l-2-10m2052 50l30-34m-2038 118l5-35m1316 58l1-17m-425 219l36-33m46 45l10-21m1158 94l7-8m-674 73l3-35" stroke="#0000e0" stroke-width="30" stroke-linecap="round" fill="none"/><path transform="scale(.1)" d="M6885 15170l17-35m1294 21l5-1m-829 165l38-8m480 52l6-21m174 47l0-26m1071 26l41-6m-2229 104l29-38m666 66l14-37m-767 116l-2-9m1227 89l22-7m-1016 41l41-18m34 40l1-6m1081 9l8-45m-1142 170l4-7m1876 141l-2-33m-388 69l-2-8m-1473 159l23-14m-379 17l-7-38m977 92l2-9m604 67l42-11m-522-1l28-8m-444 24l1-44m-577 31l3-10m1484 61l10-8m-1649 85l32-6m890 36l-8-31m367 106l-4-19m-76 43l3-8m-543 6l8-11m-580 40l23-42m652 34l-2-44m617 87l20-5m294 73l29-25m-1718-27l21-28m201 175l15-25m1549 82l35-21" stroke="#0000a0" stroke-width="50" stroke-linecap="round" fill="none"/><path transform="scale(.1)" d="M7246 15278l22-15m751 13l7-2m1026 159l5-4m-318 35l-12-39m-1015 38l46-2m1420 213l8-3m-909 43l4-2m752 61l6-7m-1258 80l28-13m-193 68l32 3m-109 3l27-15m-236 24l-4-46m-147 65l4-32m1002 94l45-1m-1146 68l-4-28m634 64l15-19m-345 107l14 0m1047 50l35-8m-1575 141l32-20m1164-27l9-18m714 196l3-42m-144 61l40-27m-807 11l34 1m-343-6l34-6m-933 192l5 0m2409 42l18 1m-60 25l4-20m-2040 56l6-14" stroke="#0000a0" stroke-width="30" stroke-linecap="round" fill="none"/><path transform="scale(.1)" d="M8301 15214l40-1m-443 183l24-14m1085-15l9-9m-703 73l31-1m-1523 44l28-27m-51 83l12-13m2070 18l39-7m-482 28l-4-18m-1224 30l7-13m924 93l13-9m334 276l3-45m-647 36l23-11m-351 9l3-31m995 145l18 0m-1740 12l1-32m2030 129l21-16m-1595 35l6-20m177 121l30-16m-611 89l15-11m247 50l-2-15m1905 105l4-7m-241 79l5-16m-1226 46l37-8m-323 148l-1-5m1214 32l6 0m-948 55l0-9" stroke="#0000f0" stroke-width="40" stroke-linecap="round" fill="none"/><path transform="scale(.1)" d="M8519 15151l27-2m158 21l19-7m-136 22l3-5m-925 61l19-27m656 37l36-26m624 21l13-15m-137 171l8-3m-769 56l14-18m-636 14l15-24m-215-1l17-24m1323 103l40 1m-473 96l-2-43m16 71l5-18m-521 103l13-2m-263-37l23-23m366 92l-3-13m-381 101l0-6m-455-46l2-25m36 98l34-29m1228 90l36-12m-1597-1l42-20m1116 126l21 2m-12-25l-7-24m576 85l40-24m-64 62l0-17m-466 125l-6-35m-101-6l43-25m-1185 39l29 3m2375 84l2-15m-232 50l7-13m-774-2l20-39m-48 53l1-14m659 98l14-22m229 125l9-3m-611 62l28-24m-229 41l44-10m-1057 20l9-33m-244 25l11-6m1609 146l25-28m-758 133l22-3m-64-49l37-29m-318 66l21-13m1164 48l16-24" stroke="#0000a0" stroke-width="40" stroke-linecap="round" fill="none"/><path transform="scale(.1)" d="M8636 15212l5-12m-612-17l-1-6m-272 44l19-23m269 140l27-2m-522-2l6-3m-595-16l21-8m879 94l25-2m270-4l10-8m729-13l33-24m180 100l12-17m-717 16l35-2m-1418 42l36-23m1718 48l39-10m-528 85l7-3m39 58l17-44m636 100l5-7m-1971 141l-7-25m1260 103l19-41m498 175l21-23m-1066 33l-2-8m672 85l6-4m659 67l-8-41m-2374 77l21-25m8 43l16-3m528-18l16-1m578 28l-1-11m387 144l6-5m-1144 81l9-9m1297 36l2-22m650 75l-6-23m-2253 161l2-6m1324 24l12-23m757 21l0-19m-360 86l16-9m-1316 50l5-1m1276 2l39-23" stroke="#0000e0" stroke-width="50" stroke-linecap="round" fill="none"/><path transform="scale(.1)" d="M9088 15212l36-27m-1347 41l16-10m-165 68l2-5m980 59l6-30m-182 54l12-18m-1504 134l12-2m-149 94l1-6m841 91l31-10m295-27l10-27m24 60l9-31m1021-13l21-8m-184 112l12-13m-1582-17l-6-35m65 122l5-35m840 32l2-37m380 49l-5-17m228-23l16-40m-8 407l-4-40m51 55l2-22m-681 55l34-33m-488 33l18-37m864 133l6 0m295 16l26-2m-311 5l5-5m-197 121l1-36m-832 91l20-34m706 83l28-23m637 89l-5-42m-377 35l10-15m-130 5l7-49m-226 42l1-12m583 72l17-26m-2167 254l30-34" stroke="#0000e0" stroke-width="40" stroke-linecap="round" fill="none"/><path transform="scale(.1)" d="M8494 15171l-6-22m278 57l47-14m-1518 34l32-37m-535 29l15-25m853 147l48-2m19 23l5-12m973 40l2-46m-1887 172l1-13m1223 40l23-14m-915 21l1-39m1847 136l0-31m-2230 64l4-16m1695 75l22-9m-711 88l17-17m-724 77l25-23m929-12l46-2m557 4l-4-44m202 54l31-28m-1707 106l19-3m-298 70l11-11m189-21l22-14m24 27l3-48m1297 119l-8-46m-162 66l31-11m-469 109l39 2m-844 193l3-9m905-8l17-12m-1099 137l-1-6m659-4l3-9m1380 11l-3-8m-1083 51l8-25m-902 123l19-13m618 52l10-6m-92 38l-4-24m-356-28l3-49m1675 186l26-7m-524 57l16-39" stroke="#0000c0" stroke-width="40" stroke-linecap="round" fill="none"/><path transform="scale(.1)" d="M6685 15215l14-24m2407 134l28-18m-2276 64l41-15m1924 202l-8-47m-1143 123l7-20m960 21l17-27m161 116l23-34m-14 52l16 1m346 57l-2-23m-2154 108l7-17m1374 11l32-4m685 47l22-6m-873-2l10-2m-265 136l42-24m-197 65l-5-49m992 120l23-4m-1307 28l0-34m-510 42l16-45m1697 89l14-19m-670 100l-11-41m-332 16l1-27m-882 36l3-12m2284 50l2-30m-1431 115l42-14m182 68l-2-26m391 358l27-17" stroke="#0000f0" stroke-width="30" stroke-linecap="round" fill="none"/><circle cx="756.5" cy="1530.1" r="1.7" fill="#a020c0" stroke="#f01030" stroke-width="1.8"/><circle cx="775.4" cy="1555.3" r="1.6" fill="#a020c0" stroke="#f01030" stroke-width="1.7"/><circle cx="854.9" cy="1580.6" r="1.9" fill="#a020c0" stroke="#f01030" stroke-width="2.0"/><circle cx="759.0" cy="1587.4" r="1.6" fill="#a020c0" stroke="#f01030" stroke-width="1.7"/><circle cx="716.1" cy="1667.5" r="1.7" fill="#a020c0" stroke="#f01030" stroke-width="1.8"/><path transform="scale(.1)" d="M7679 15376zm252 135zm896 565zm63 354z" stroke="#f0182a" stroke-width="32" stroke-linecap="round" fill="none"/><path transform="scale(.1)" d="M7527 16262z" stroke="#f0182a" stroke-width="40" stroke-linecap="round" fill="none"/><path transform="scale(.1)" d="M7426 15857z" stroke="#f0182a" stroke-width="24" stroke-linecap="round" fill="none"/><path transform="scale(.1)" d="M6783 16101zm1236 245zm-1072 337z" stroke="#18c070" stroke-width="16" stroke-linecap="round" fill="none"/><path transform="scale(.1)" d="M7830 16708z" stroke="#18c070" stroke-width="24" stroke-linecap="round" fill="none"/></g><path transform="scale(.1)" d="M5826 15213zm55 36zm37 85zm-80 154zm-31 187zm-178 198z" stroke="#e81515" stroke-width="24" stroke-linecap="round" fill="none" stroke-opacity="0.95"/><path transform="scale(.1)" d="M6004 15314zm-246 166zm683 106zm30 170z" stroke="#e81515" stroke-width="16" stroke-linecap="round" fill="none" stroke-opacity="0.75"/><path transform="scale(.1)" d="M6305 15456z" stroke="#e81515" stroke-width="32" stroke-linecap="round" fill="none" stroke-opacity="1.00"/><path transform="scale(.1)" d="M5444 16466zm603 120zm-523 166z" stroke="#18b840" stroke-width="8" stroke-linecap="round" fill="none" stroke-opacity="0.54"/><path transform="scale(.1)" d="M5955 16764z" stroke="#18b840" stroke-width="16" stroke-linecap="round" fill="none" stroke-opacity="0.78"/><text x="944.3" y="1554.2" font-family='"Liberation Serif", serif' font-size="17" font-weight="bold" text-anchor="middle" transform="rotate(-90 944.3 1554.2)">CD8</text><text x="944.3" y="1640.8" font-family='"Liberation Serif", serif' font-size="17.2" font-weight="bold" text-anchor="middle" transform="rotate(-90 944.3 1640.8)">LAG3</text><rect x="949.3" y="1513.2" width="123.3" height="81.0" fill="#000"/><rect x="949.3" y="1598.9" width="123.3" height="82.9" fill="#000"/><rect x="1076.4" y="1513.2" width="253.0" height="168.6" fill="#000"/><clipPath id="ckt3"><rect x="1076.4" y="1513.2" width="253.0" height="168.6"/></clipPath><g clip-path="url(#ckt3)"><path transform="scale(.1)" d="M12077 15177l29-29m493 137l13 10m637-21l-36-9m-1535 96l-23 23m787 17l27 22m-796 19l-2-21m729 216l-3 41m90-50l-1-10m-1004 176l-23-22m-384 27l-40-5m1019 91l-4-10m866 35l-31-17m-419 85l40 12m80-22l-7-1m176 51l-19 6m-395 53l-18 8m901 37l-21-17m-805 118l-13 21m869-9l-1 35m-1173 2l-23 11m-1181 64l-1-33m2294 65l29-2m40 38l16-8m-177-19l21 14m-2046-17l0 26m579 68l10 7m556 112l34 17m839-18l36-17m-1282 72l31 5m316 169l18-28m61 20l-15-17" stroke="#0000c0" stroke-width="42" stroke-linecap="round" fill="none"/><path transform="scale(.1)" d="M13189 15187l-4-4m-1729 1l-36 9m1070 87l-9-13m657 99l-29-4m-821 82l26 34m-47 188l0-23m520 93l6-7m347 6l16 1m-1070 151l33-26m650 77l-34-16m-1607 10l-14 4m1892 50l7 35m-1035 65l42 11m1096 19l2 5m-1193 19l15 42m657 164l16 10m-485 60l19 12m1103 91l-11 4m-93-8l33-10m-1371 61l37-8m1024 21l-2 4m-306 94l-9-3m-1621-10l-29-11m1956 84l17-9m259-22l-38-24m-75 96l40 12m-1924-45l24-20m-57 70l38-23" stroke="#0000c0" stroke-width="32" stroke-linecap="round" fill="none"/><path transform="scale(.1)" d="M13025 15200l-6 0m-230 21l13-4m-1813-28l-26-24m2182 194l4-11m-135-9l17-5m-1358 36l-7 15m518 90l-11 13m-10 27l-6 3m-610 45l0 14m826 24l-11-6m391 22l12 13m-446 101l-21-38m172 267l24 25m-1561 129l-6-13m647 24l-5-4m1406-30l4 29m-708 32l19-29m42 135l22 28m-310 167l-3-36m822 25l-23-24m99 68l-14-17m-486 99l32-13m-1130 238l-43 8m603 16l17-3m836-8l39-8" stroke="#0000a0" stroke-width="32" stroke-linecap="round" fill="none"/><path transform="scale(.1)" d="M12370 15195l5-10m-1510 85l3 5m1914 12l20-17m98 51l-20 40m-1034-9l-12 5m-671 62l-32 0m367-28l22 13m1630 233l-36-14m-806 60l18-13m381 73l-18 22m-1112 19l36 4m1669 178l-10-4m-383 74l-31-10m393 104l1-23m-1940 130l-7-22m1809 34l26 9m123 38l-18 6m-1199 4l12-34m424 101l23-10m-765 100l9 29m694 32l-37 19m-954-17l20-1m-698 32l1-6m828 127l5-33m1544 85l-2-16m51 28l17-26m-67 48l-10 42" stroke="#0000e0" stroke-width="52" stroke-linecap="round" fill="none"/><path transform="scale(.1)" d="M12516 15126l-17 18m711 61l-21 38m-1158-35l13 12m-123-16l3-43m994 158l9-39m-599 134l-22 8m364 64l-3 16m206 39l25 13m-1311 105l-8 12m631 13l-14 8m39 54l22 37m288 164l13-17m121 67l23-11m185 25l24 7m-162 61l-29 20m197 139l-13-10m377 63l-27 26m-241-56l-6 34m-143 2l-4 39m-719-29l-27 26m-206-30l9 16m-209 106l-17-2m864 30l-21-4m568 68l-6 9m-364 8l-13 17m-163-25l34 4m-503 18l-42 5m-250 64l1-42m1001 31l2 11m-684 26l-10-8m-445 35l-19 27m-419-76l6-11m1303 97l13 31m-424 69l15 9" stroke="#0000e0" stroke-width="42" stroke-linecap="round" fill="none"/><path transform="scale(.1)" d="M12292 15214l10 26m-381 68l-4-4m673 63l-9 37m537 53l-33-28m60 155l-24 22m-1104 32l-4 41m5-36l13-22m375 27l4-7m664 245l4 6m-1571 29l-26 10m1302 76l14 9m-123 70l-2-7m507 39l32 8m-1927 132l7 41m502-73l-10-7m1379 17l2 5m-63 69l-21 1m-184-31l18-34m-1539 132l-3 14m733-62l-23 29m1095 11l28-5m77-4l1 34m-2404 217l4-11m2054-14l-6-9m-1501 122l28-27m648 62l-24 9m620-25l-15 0m-998 89l9-42" stroke="#0000f0" stroke-width="52" stroke-linecap="round" fill="none"/><path transform="scale(.1)" d="M12299 15161l18 20m931 51l-19 20m-56-54l-16-3m-158 29l26-22m-764-3l9 0m-209 17l-16 19m-34-52l-16-24m-560 86l-12 13m978-11l-3 37m353 48l9 38m-1733 31l26 6m382 108l-28-13m702-9l-39 7m-1195 156l22 33m644-81l-3-6m100 154l-1 16m1420-6l6 34m-999 38l2-7m190 26l-20 0m-863 146l10 21m-53 22l-33 5m1650 65l17 12m-1691 61l29 16m1201 1l-4 7m144 32l7 4m439 52l11-29m-627 48l-18 37m475 38l11 1m-1230 9l-20 38m1192 22l26-13m42 37l-23 7m148-48l14-37m-903 198l14 4m-351 99l-22 5m223 2l4-32m1204-6l25 3m-486 106l18-5m-271 5l-25-35" stroke="#0000e0" stroke-width="32" stroke-linecap="round" fill="none"/><path transform="scale(.1)" d="M11882 15163l-13-2m108 276l3 12m-75 0l-14 18m211 19l12-13m1142 29l-24 36m-153 19l-13 3m179 109l-33 20m-611 178l-29-32m191 160l-12-6m487-17l-5 11m-2028 125l9 0m1983 150l-10 28m-2364 16l-9-6m537 202l1-12m1702 62l20 21m-86 15l24 0m-700 151l-40-3m718-50l6-19m198 28l-16-13m-723 107l-1 18m-76-19l4 6" stroke="#0000f0" stroke-width="32" stroke-linecap="round" fill="none"/><path transform="scale(.1)" d="M13189 15176l-32-27m-842 105l12-9m836 103l25 16m-168-14l17-8m-345 17l3 27m-1714-30l40 20m1337 73l5-1m-332 22l-29 0m836 24l-13 3m428 24l24 0m-358 47l-9-27m-303 84l4-27m647 170l-28 0m-609 15l-20-4m-1680 88l17 21m1691-41l8-44m-138 231l3 25m-1504 64l-4 23m346-12l-10-24m1904-15l19 3m-411 117l7-31m-1478 156l-3 8m1672 75l-1 7m-111 13l17-32m360 53l-29 30m-1421 186l20-4m1334 52l-16-4m-1061 41l15 24m-642-33l-27 22" stroke="#0000c0" stroke-width="52" stroke-linecap="round" fill="none"/><path transform="scale(.1)" d="M12931 15121l29 30m-230 141l1-6m-592 128l36-21m986 22l-18-1m143-50l-7-30m-1293 126l-15 37m-330-34l-22-10m552 46l-16-8m229 7l-12 1m458-11l1-45m-246 216l-1 34m612-78l20-11m44 32l-7-2m-492 46l-23-11m-1281 33l-9 32m-532 42l-36-19m1700 157l-7-6m-1405 13l19 4m1899 228l-18 15m-156-1l15 7m-77 111l-13 32m-173-28l5-5m-38 67l-39 4m305 6l0 37m-1792 3l-21-11m2179 88l-11-1m-1003 56l-8-16m-180 75l15 28m1214 24l4-4m-1310-5l39 2m-43 95l36 8m-1146 45l11-28" stroke="#0000f0" stroke-width="42" stroke-linecap="round" fill="none"/><path transform="scale(.1)" d="M10874 15144l18 3m2178 1l10-24m-1513 130l-26-5m432 10l-3-4m518 80l-34 13m-193-25l19-28m-509 45l16-15m1245 65l24-34m-1490 225l-10-8m1147 70l10-4m577-13l-27 11m-203 140l6-4m-1583 77l-29-21m1815 38l-25-20m-27 88l0-6m-769 87l-5 2m62-9l2-15m574 69l-4-34m-877 73l1 10m816-8l9-28m-766 237l-42-4m369 430l-29-12" stroke="#0000a0" stroke-width="42" stroke-linecap="round" fill="none"/><path transform="scale(.1)" d="M12047 15235l-5-10m502 96l2 23m-595 166l-18-25m757 24l-2-8m560 75l-20-6m-351 41l34 8m-943 200l-19 38m1027 221l-13 1m-509 74l31-21m-1590 307l-14 18m2107 17l-13 28m-2073 43l18-22m2196 164l2 6m-857 53l4 11m-1403-17l-17 37" stroke="#0000a0" stroke-width="52" stroke-linecap="round" fill="none"/><circle cx="1082.7" cy="1574.7" r="1.9" fill="#a020c0" stroke="#f01030" stroke-width="2.0"/><circle cx="1152.3" cy="1585.7" r="2.2" fill="#a020c0" stroke="#f01030" stroke-width="2.2"/><circle cx="1165.0" cy="1608.5" r="2.2" fill="#a020c0" stroke="#f01030" stroke-width="2.2"/><circle cx="1129.5" cy="1641.3" r="2.0" fill="#a020c0" stroke="#f01030" stroke-width="2.1"/><circle cx="1216.8" cy="1655.7" r="1.9" fill="#a020c0" stroke="#f01030" stroke-width="2.0"/><circle cx="1238.3" cy="1631.2" r="1.6" fill="#a020c0" stroke="#f01030" stroke-width="1.7"/><circle cx="1311.7" cy="1664.9" r="1.7" fill="#a020c0" stroke="#f01030" stroke-width="1.8"/><circle cx="1213.0" cy="1677.6" r="1.6" fill="#a020c0" stroke="#f01030" stroke-width="1.7"/><path transform="scale(.1)" d="M12219 16531zm177 228zm481-17z" stroke="#f0182a" stroke-width="40" stroke-linecap="round" fill="none"/><path transform="scale(.1)" d="M12296 15423zm546 338zm349 126zm0 125zm-74 351zm-904 58zm19 202zm695 41zm-504 6z" stroke="#f0182a" stroke-width="32" stroke-linecap="round" fill="none"/><path transform="scale(.1)" d="M11983 15269zm1019 344zm-864 43zm-271 141zm348 91zm649 212zm308 81zm-1576 9zm1340 10zm321 168zm-1602 135zm1575 7zm39 198z" stroke="#f0182a" stroke-width="24" stroke-linecap="round" fill="none"/><path transform="scale(.1)" d="M13194 15160zm-1035 221zm1101 211zm-1714 3zm995 199zm173 287zm323 631zm-167 5zm-1685 18z" stroke="#f0182a" stroke-width="16" stroke-linecap="round" fill="none"/><path transform="scale(.1)" d="M12118 15216zm581 456zm-151 42zm139 92zm-405 253zm936 337z" stroke="#20e060" stroke-width="32" stroke-linecap="round" fill="none"/><path transform="scale(.1)" d="M11055 16127z" stroke="#20e060" stroke-width="40" stroke-linecap="round" fill="none"/><path transform="scale(.1)" d="M13270 15152zm-918 131zm-733 49zm681 30zm53 2zm671 26zm-1956 3zm1295 78zm-252 9zm578 73zm-1777 69zm1179-14zm-770 47zm1882 6zm-470 312zm297 81zm-122 85zm-24-3zm-1713 55zm557 23zm1320-10zm-173 82zm133 15zm-1192 17zm994 23zm41 29zm-153 3zm-429 12zm913 39zm-478 87zm579 71zm-850 26zm350 12zm143 16zm43 1zm62 24zm-106 134zm-568 14z" stroke="#20e060" stroke-width="16" stroke-linecap="round" fill="none"/><path transform="scale(.1)" d="M13039 16040zm-890 97zm749 184zm-1155 404z" stroke="#20e060" stroke-width="8" stroke-linecap="round" fill="none"/><path transform="scale(.1)" d="M11468 15594zm1341 116zm-353 210zm-1239 334zm-423 313z" stroke="#20e060" stroke-width="24" stroke-linecap="round" fill="none"/><path d="M1298.8 1602.4L1286.6 1617.7M1295.5 1614.2L1286.6 1617.7M1288.1 1608.3L1286.6 1617.7" stroke="#ffee00" stroke-width="2.4" stroke-linecap="round" stroke-linejoin="round" fill="none"/></g><path transform="scale(.1)" d="M9524 15428zm339 52zm62 110zm-173 158zm425 68z" stroke="#e81515" stroke-width="32" stroke-linecap="round" fill="none" stroke-opacity="1.00"/><path transform="scale(.1)" d="M10282 15699zm358 24zm-438 81zm438 57zm-481 61zm129-8zm235-8z" stroke="#e81515" stroke-width="24" stroke-linecap="round" fill="none" stroke-opacity="0.95"/><path transform="scale(.1)" d="M10677 15146zm-590 52zm86 54zm536 101zm-835 2zm485 95zm157 147zm-73-9zm271 301zm-113 2zm-81 3zm-822 8z" stroke="#e81515" stroke-width="8" stroke-linecap="round" fill="none" stroke-opacity="0.55"/><path transform="scale(.1)" d="M10240 15272zm-77 112zm421-21zm-79 71zm-475 18zm170 43zm476 0zm0 60zm-9 81zm-116 9zm-652-5zm809 86zm-509 25zm-272 40zm768 3zm-486 54zm338 20zm-245 3z" stroke="#e81515" stroke-width="16" stroke-linecap="round" fill="none" stroke-opacity="0.75"/><path transform="scale(.1)" d="M10153 16030zm283 224zm-74 21zm68 46zm-197 124zm456 166z" stroke="#18b840" stroke-width="16" stroke-linecap="round" fill="none" stroke-opacity="0.78"/><path transform="scale(.1)" d="M9635 16478z" stroke="#18b840" stroke-width="24" stroke-linecap="round" fill="none" stroke-opacity="1.00"/><path transform="scale(.1)" d="M10714 15999zm-447 64zm-357 24zm332 15zm25 1zm327 13zm-953 1zm508 43zm123-4zm159 40zm-595 20zm304 7zm542 26zm-918-3zm-199-16zm925 43zm-173 104zm136 26zm149 32zm-4 7zm-60 42zm-12-1zm-358 0zm-476 27zm271 11zm643-5zm-84 41zm-808-16zm292 31zm484 11zm43-9zm53-10zm-76 34zm-74 1zm-209 6zm444 19zm-233 43zm-930 28zm1213 7zm-154 27zm-20-1zm-70-8zm-171-5zm292 26zm-628 31zm299 42zm277-7z" stroke="#18b840" stroke-width="8" stroke-linecap="round" fill="none" stroke-opacity="0.54"/></g>
<g id="L"><text x="1369.8" y="968.3" font-family='"Liberation Serif", serif' font-size="27" font-weight="bold">L</text><rect x="1469.0" y="1144.7" width="20.2" height="20.8" fill="#dedede"/><rect x="1489.2" y="1123.3" width="20.2" height="42.2" fill="#848484"/><rect x="1555.3" y="1105.9" width="20.2" height="59.7" fill="#dedede"/><rect x="1575.5" y="997.3" width="20.2" height="168.2" fill="#848484"/><rect x="1641.2" y="1131.3" width="20.2" height="34.3" fill="#dedede"/><rect x="1661.4" y="1087.5" width="20.2" height="78.0" fill="#848484"/><rect x="1726.9" y="1134.0" width="20.2" height="31.5" fill="#dedede"/><rect x="1747.1" y="1113.5" width="20.2" height="52.0" fill="#848484"/><path d="M1479.1 1133.4V1153.9M1475.9 1133.4h6.4M1475.9 1153.9h6.4M1499.3 1105.3V1141.7M1496.1 1105.3h6.4M1496.1 1141.7h6.4M1565.1 1086.9V1124.6M1561.9 1086.9h6.4M1561.9 1124.6h6.4M1585.5 979.6V1018.1M1582.3 979.6h6.4M1582.3 1018.1h6.4M1651.3 1105.3V1157.9M1648.1 1105.3h6.4M1648.1 1157.9h6.4M1671.2 1068.3V1108.3M1668.0 1068.3h6.4M1668.0 1108.3h6.4M1737.0 1112.9V1153.3M1733.8 1112.9h6.4M1733.8 1153.3h6.4M1757.5 1096.7V1129.4M1754.3 1096.7h6.4M1754.3 1129.4h6.4" stroke="#000" stroke-width="2.1" fill="none"/><text x="1433.3" y="1170.4" font-family='"Liberation Serif", serif' font-size="14.6" font-weight="bold" text-anchor="end">0</text><text x="1433.3" y="1148.1" font-family='"Liberation Serif", serif' font-size="14.6" font-weight="bold" text-anchor="end">200</text><text x="1433.3" y="1125.7" font-family='"Liberation Serif", serif' font-size="14.6" font-weight="bold" text-anchor="end">400</text><text x="1433.3" y="1103.4" font-family='"Liberation Serif", serif' font-size="14.6" font-weight="bold" text-anchor="end">600</text><text x="1433.3" y="1081.0" font-family='"Liberation Serif", serif' font-size="14.6" font-weight="bold" text-anchor="end">800</text><text x="1433.3" y="1058.6" font-family='"Liberation Serif", serif' font-size="14.6" font-weight="bold" text-anchor="end">1000</text><text x="1433.3" y="1036.3" font-family='"Liberation Serif", serif' font-size="14.6" font-weight="bold" text-anchor="end">1200</text><text x="1433.3" y="1013.9" font-family='"Liberation Serif", serif' font-size="14.6" font-weight="bold" text-anchor="end">1400</text><text x="1433.3" y="991.6" font-family='"Liberation Serif", serif' font-size="14.6" font-weight="bold" text-anchor="end">1600</text><text x="1433.3" y="969.2" font-family='"Liberation Serif", serif' font-size="14.6" font-weight="bold" text-anchor="end">1800</text><path d="M1444.8 963.6V1165.5H1790.8M1441.3 1165.5h3.5M1441.3 1143.2h3.5M1441.3 1120.8h3.5M1441.3 1098.5h3.5M1441.3 1076.1h3.5M1441.3 1053.7h3.5M1441.3 1031.4h3.5M1441.3 1009.0h3.5M1441.3 986.7h3.5M1441.3 964.3h3.5M1489.2 1165.5v3.5M1575.5 1165.5v3.5M1661.4 1165.5v3.5M1747.1 1165.5v3.5M1790.8 1165.5v3.5" stroke="#000" stroke-width="2.4" fill="none"/><text x="1396.5" y="1063.0" font-family='"Liberation Serif", serif' font-size="17.8" font-weight="bold" text-anchor="middle" transform="rotate(-90 1396.5 1063.0)">Cell Count</text><text x="1487.2" y="1111.0" font-family='"Liberation Serif", serif' font-size="22" text-anchor="middle">*</text><text x="1574.4" y="979.4" font-family='"Liberation Serif", serif' font-size="22" text-anchor="middle">**</text><text x="1655.5" y="1074.2" font-family='"Liberation Serif", serif' font-size="22" text-anchor="middle">*</text><text x="1739.6" y="1087.1" font-family='"Liberation Serif", serif' font-size="22" text-anchor="middle">*</text><text x="1499.0" y="1184.6" font-family='"Liberation Serif", serif' font-size="18.1" font-weight="bold" text-anchor="end" transform="rotate(-45 1499.0 1184.6)">cdRCC</text><text x="1584.1" y="1180.7" font-family='"Liberation Serif", serif' font-size="18.1" font-weight="bold" text-anchor="end" transform="rotate(-45 1584.1 1180.7)">sarRCC</text><text x="1669.1" y="1181.6" font-family='"Liberation Serif", serif' font-size="18.1" font-weight="bold" text-anchor="end" transform="rotate(-45 1669.1 1181.6)">pRCC</text><text x="1752.9" y="1181.6" font-family='"Liberation Serif", serif' font-size="18.1" font-weight="bold" text-anchor="end" transform="rotate(-45 1752.9 1181.6)">chRCC</text><rect x="1791" y="1031" width="16.8" height="16" rx="2.5" fill="#dedede"/><rect x="1791" y="1057" width="16.8" height="16" rx="2.5" fill="#8a8a90"/><text x="1815.0" y="1041.8" font-family='"Liberation Serif", serif' font-size="17.5" font-weight="bold">para-Tumor</text><text x="1815.0" y="1071.4" font-family='"Liberation Serif", serif' font-size="17.5" font-weight="bold">Tumor</text></g>
<g id="M"><text x="1373.3" y="1273.6" font-family='"Liberation Serif", serif' font-size="27" font-weight="bold">M</text><text x="1482.7" y="1279.3" font-family='"Liberation Serif", serif' font-size="17" font-weight="bold">GSVA</text><rect x="1468.3" y="1283.70" width="25.9" height="15.19" fill="#0404ff"/><rect x="1493.9" y="1283.70" width="25.9" height="15.19" fill="#e88585"/><rect x="1519.4" y="1283.70" width="25.9" height="15.19" fill="#f5c8c8"/><text x="1548.9" y="1295.8" font-family='"Liberation Serif", serif' font-size="13.6" font-weight="bold">MTOR_SIGNALING_PATHWAY</text><rect x="1468.3" y="1298.59" width="25.9" height="15.19" fill="#0404ff"/><rect x="1493.9" y="1298.59" width="25.9" height="15.19" fill="#e06464"/><rect x="1519.4" y="1298.59" width="25.9" height="15.19" fill="#fdeaea"/><text x="1548.9" y="1310.7" font-family='"Liberation Serif", serif' font-size="13.6" font-weight="bold">TNFR2_PATHWAY</text><rect x="1468.3" y="1313.48" width="25.9" height="15.19" fill="#f8d0d0"/><rect x="1493.9" y="1313.48" width="25.9" height="15.19" fill="#0404ff"/><rect x="1519.4" y="1313.48" width="25.9" height="15.19" fill="#e87878"/><text x="1548.9" y="1325.6" font-family='"Liberation Serif", serif' font-size="13.6" font-weight="bold">TGFB_PATHWAY</text><rect x="1468.3" y="1328.37" width="25.9" height="15.19" fill="#f8d4d4"/><rect x="1493.9" y="1328.37" width="25.9" height="15.19" fill="#0404ff"/><rect x="1519.4" y="1328.37" width="25.9" height="15.19" fill="#e88080"/><text x="1548.9" y="1340.5" font-family='"Liberation Serif", serif' font-size="13.6" font-weight="bold">TGF_BETA_RECEPTOR_SIGNALING_ACTIVATES_SMADS</text><rect x="1468.3" y="1343.26" width="25.9" height="15.19" fill="#fdeeee"/><rect x="1493.9" y="1343.26" width="25.9" height="15.19" fill="#0404ff"/><rect x="1519.4" y="1343.26" width="25.9" height="15.19" fill="#e06868"/><text x="1548.9" y="1355.4" font-family='"Liberation Serif", serif' font-size="13.6" font-weight="bold">LYMPH_ANGIOGENESIS_PATHWAY</text><rect x="1468.3" y="1358.15" width="25.9" height="15.19" fill="#fbe0e0"/><rect x="1493.9" y="1358.15" width="25.9" height="15.19" fill="#0404ff"/><rect x="1519.4" y="1358.15" width="25.9" height="15.19" fill="#e47070"/><text x="1548.9" y="1370.3" font-family='"Liberation Serif", serif' font-size="13.6" font-weight="bold">TRAF3_DEPENDENT_IRF_ACTIVATION_PATHWAY</text><rect x="1468.3" y="1373.04" width="25.9" height="15.19" fill="#c0c0e8"/><rect x="1493.9" y="1373.04" width="25.9" height="15.19" fill="#5252e6"/><rect x="1519.4" y="1373.04" width="25.9" height="15.19" fill="#ff0505"/><text x="1548.9" y="1385.2" font-family='"Liberation Serif", serif' font-size="13.6" font-weight="bold">YAP1_AND_WWTR1_TAZ_STIMULATED_GENE_EXPRESSION</text><rect x="1468.3" y="1387.93" width="25.9" height="15.19" fill="#c0c0e8"/><rect x="1493.9" y="1387.93" width="25.9" height="15.19" fill="#5a5ae6"/><rect x="1519.4" y="1387.93" width="25.9" height="15.19" fill="#ff0505"/><text x="1548.9" y="1400.1" font-family='"Liberation Serif", serif' font-size="13.6" font-weight="bold">CTLA4_PATHWAY</text><rect x="1468.3" y="1402.82" width="25.9" height="15.19" fill="#c8c8ec"/><rect x="1493.9" y="1402.82" width="25.9" height="15.19" fill="#0a0aff"/><rect x="1519.4" y="1402.82" width="25.9" height="15.19" fill="#ff0505"/><text x="1548.9" y="1415.0" font-family='"Liberation Serif", serif' font-size="13.6" font-weight="bold">IL2_PI3K_PATHWAY</text><rect x="1468.3" y="1417.71" width="25.9" height="15.19" fill="#b8b8e4"/><rect x="1493.9" y="1417.71" width="25.9" height="15.19" fill="#0a0aff"/><rect x="1519.4" y="1417.71" width="25.9" height="15.19" fill="#ff0505"/><text x="1548.9" y="1429.9" font-family='"Liberation Serif", serif' font-size="13.6" font-weight="bold">TNFR1_PATHWAY</text><rect x="1468.3" y="1432.60" width="25.9" height="15.19" fill="#c0c0e8"/><rect x="1493.9" y="1432.60" width="25.9" height="15.19" fill="#5252ee"/><rect x="1519.4" y="1432.60" width="25.9" height="15.19" fill="#ff0505"/><text x="1548.9" y="1444.7" font-family='"Liberation Serif", serif' font-size="13.6" font-weight="bold">COSTIMULATION_BY_THE_CD28_FAMILY</text><rect x="1468.3" y="1447.49" width="25.9" height="15.19" fill="#dcdcf4"/><rect x="1493.9" y="1447.49" width="25.9" height="15.19" fill="#4a4af6"/><rect x="1519.4" y="1447.49" width="25.9" height="15.19" fill="#ff0505"/><text x="1548.9" y="1459.6" font-family='"Liberation Serif", serif' font-size="13.6" font-weight="bold">ADIPOCYTOKINE_SIGNALING_PATHWAY</text><rect x="1468.3" y="1462.38" width="25.9" height="15.19" fill="#d4d4f0"/><rect x="1493.9" y="1462.38" width="25.9" height="15.19" fill="#5252e8"/><rect x="1519.4" y="1462.38" width="25.9" height="15.19" fill="#ff0505"/><text x="1548.9" y="1474.5" font-family='"Liberation Serif", serif' font-size="13.6" font-weight="bold">ANGIOPOIETIN_RECEPTOR_PATHWAY</text><rect x="1468.3" y="1477.27" width="25.9" height="15.19" fill="#d0d0ee"/><rect x="1493.9" y="1477.27" width="25.9" height="15.19" fill="#4a4af0"/><rect x="1519.4" y="1477.27" width="25.9" height="15.19" fill="#ff0505"/><text x="1548.9" y="1489.4" font-family='"Liberation Serif", serif' font-size="13.6" font-weight="bold">STAT3_PATHWAY</text><rect x="1468.3" y="1492.16" width="25.9" height="15.19" fill="#d0d0ee"/><rect x="1493.9" y="1492.16" width="25.9" height="15.19" fill="#4242fc"/><rect x="1519.4" y="1492.16" width="25.9" height="15.19" fill="#ff0505"/><text x="1548.9" y="1504.3" font-family='"Liberation Serif", serif' font-size="13.6" font-weight="bold">FAS_SIGNALING_PATHWAY</text><rect x="1468.3" y="1507.05" width="25.9" height="15.19" fill="#8080d0"/><rect x="1493.9" y="1507.05" width="25.9" height="15.19" fill="#c0c0e8"/><rect x="1519.4" y="1507.05" width="25.9" height="15.19" fill="#ff0505"/><text x="1548.9" y="1519.2" font-family='"Liberation Serif", serif' font-size="13.6" font-weight="bold">PD1_SIGNALING</text><rect x="1468.3" y="1521.94" width="25.9" height="15.19" fill="#7878cc"/><rect x="1493.9" y="1521.94" width="25.9" height="15.19" fill="#d0d0f0"/><rect x="1519.4" y="1521.94" width="25.9" height="15.19" fill="#ff0505"/><text x="1548.9" y="1534.1" font-family='"Liberation Serif", serif' font-size="13.6" font-weight="bold">IL10_PATHWAY</text><rect x="1468.3" y="1536.83" width="25.9" height="15.19" fill="#7070c8"/><rect x="1493.9" y="1536.83" width="25.9" height="15.19" fill="#d0d0ee"/><rect x="1519.4" y="1536.83" width="25.9" height="15.19" fill="#ff0505"/><text x="1548.9" y="1549.0" font-family='"Liberation Serif", serif' font-size="13.6" font-weight="bold">IFNG_PATHWAY</text><rect x="1468.3" y="1551.72" width="25.9" height="15.19" fill="#9898d8"/><rect x="1493.9" y="1551.72" width="25.9" height="15.19" fill="#a0a0dc"/><rect x="1519.4" y="1551.72" width="25.9" height="15.19" fill="#ff0505"/><text x="1548.9" y="1563.9" font-family='"Liberation Serif", serif' font-size="13.6" font-weight="bold">SMAD2_3PATHWAY</text><rect x="1468.3" y="1566.61" width="25.9" height="15.19" fill="#9090d4"/><rect x="1493.9" y="1566.61" width="25.9" height="15.19" fill="#a8a8e0"/><rect x="1519.4" y="1566.61" width="25.9" height="15.19" fill="#ff0505"/><text x="1548.9" y="1578.8" font-family='"Liberation Serif", serif' font-size="13.6" font-weight="bold">LAGGING_STRAND_SYNTHESIS</text><rect x="1468.3" y="1581.50" width="25.9" height="15.19" fill="#a8a8dc"/><rect x="1493.9" y="1581.50" width="25.9" height="15.19" fill="#9090d4"/><rect x="1519.4" y="1581.50" width="25.9" height="15.19" fill="#ff0505"/><text x="1548.9" y="1593.6" font-family='"Liberation Serif", serif' font-size="13.6" font-weight="bold">TRAF6_MEDIATED_IRF7_ACTIVATION</text><rect x="1468.3" y="1596.39" width="25.9" height="15.19" fill="#a8a8dc"/><rect x="1493.9" y="1596.39" width="25.9" height="15.19" fill="#9090d4"/><rect x="1519.4" y="1596.39" width="25.9" height="15.19" fill="#ff0505"/><text x="1548.9" y="1608.5" font-family='"Liberation Serif", serif' font-size="13.6" font-weight="bold">REGULATION_OF_IFNA_SIGNALING</text><rect x="1468.3" y="1611.28" width="25.9" height="15.19" fill="#b0b0e0"/><rect x="1493.9" y="1611.28" width="25.9" height="15.19" fill="#8080d0"/><rect x="1519.4" y="1611.28" width="25.9" height="15.19" fill="#ff0505"/><text x="1548.9" y="1623.4" font-family='"Liberation Serif", serif' font-size="13.6" font-weight="bold">NFAT_PATHWAY</text><rect x="1468.3" y="1626.17" width="25.9" height="15.19" fill="#b0b0e0"/><rect x="1493.9" y="1626.17" width="25.9" height="15.19" fill="#8888d0"/><rect x="1519.4" y="1626.17" width="25.9" height="15.19" fill="#e83a3a"/><text x="1548.9" y="1638.3" font-family='"Liberation Serif", serif' font-size="13.6" font-weight="bold">CD28_DEPENDENT_PI3K_AKT_SIGNALING</text><text x="1487.6" y="1652.6" font-family='"Liberation Serif", serif' font-size="15.2" font-weight="bold" text-anchor="end" transform="rotate(-45 1487.6 1652.6)">cluster1</text><text x="1513.2" y="1652.6" font-family='"Liberation Serif", serif' font-size="15.2" font-weight="bold" text-anchor="end" transform="rotate(-45 1513.2 1652.6)">cluster2</text><text x="1538.7" y="1652.6" font-family='"Liberation Serif", serif' font-size="15.2" font-weight="bold" text-anchor="end" transform="rotate(-45 1538.7 1652.6)">cluster3</text><defs><linearGradient id="mgr" x1="0" y1="0" x2="0" y2="1"><stop offset="0" stop-color="#ff0000"/><stop offset="0.5" stop-color="#ffffff"/><stop offset="1" stop-color="#0000ff"/></linearGradient></defs><rect x="1415.6" y="1525.2" width="15.7" height="88.7" fill="url(#mgr)"/><text x="1411.2" y="1533.4" font-family='"Liberation Serif", serif' font-size="14" font-weight="bold" text-anchor="end">1</text><text x="1411.2" y="1574.3" font-family='"Liberation Serif", serif' font-size="14" font-weight="bold" text-anchor="end">0</text><text x="1411.2" y="1616.4" font-family='"Liberation Serif", serif' font-size="14" font-weight="bold" text-anchor="end">-1</text><path d="M1402.1 1298.1V1422.0M1402.1 1298.1H1459.3M1459.3 1291.1V1306.0M1459.3 1291.1H1468.3M1459.3 1306.0H1468.3M1402.1 1422.0H1429.8M1429.8 1343.8V1500.2M1429.8 1343.8H1462.3M1462.3 1329.7V1357.7M1462.3 1329.7H1466.6M1466.6 1320.9V1335.8M1466.6 1320.9H1468.3M1466.6 1335.8H1468.3M1462.3 1357.7H1466.0M1466.0 1350.7V1365.6M1466.0 1350.7H1468.3M1466.0 1365.6H1468.3M1429.8 1500.2H1447.2M1447.2 1445.5V1556.8M1447.2 1445.5H1462.9M1462.9 1412.4V1463.5M1462.9 1412.4H1465.5M1465.5 1395.0V1428.0M1465.5 1395.0H1467.0M1467.0 1380.5V1395.4M1465.5 1428.0H1467.0M1467.0 1410.3V1425.2M1462.9 1463.5H1465.5M1465.5 1440.0V1478.0M1465.5 1440.0H1468.3M1465.5 1478.0H1467.0M1467.0 1454.9V1499.6M1447.2 1556.8H1454.7M1454.7 1528.2V1582.4M1454.7 1528.2H1463.8M1463.8 1514.5V1537.2M1463.8 1514.5H1468.3M1463.8 1537.2H1466.2M1466.2 1529.4V1544.3M1466.2 1529.4H1468.3M1466.2 1544.3H1468.3M1454.7 1582.4H1461.7M1461.7 1567.3V1604.9M1461.7 1567.3H1465.2M1465.2 1559.2V1574.1M1465.2 1559.2H1468.3M1465.2 1574.1H1468.3M1461.7 1604.9H1464.6M1464.6 1590.0V1633.6M1464.6 1633.6H1468.3M1464.6 1590.0H1466.4M1466.4 1588.9V1612.0M1466.4 1588.9H1468.3M1466.4 1612.0H1467.3M1467.3 1603.8V1618.7" stroke="#000" stroke-width="1.3" fill="none" stroke-linecap="square"/></g></svg></body></html>
